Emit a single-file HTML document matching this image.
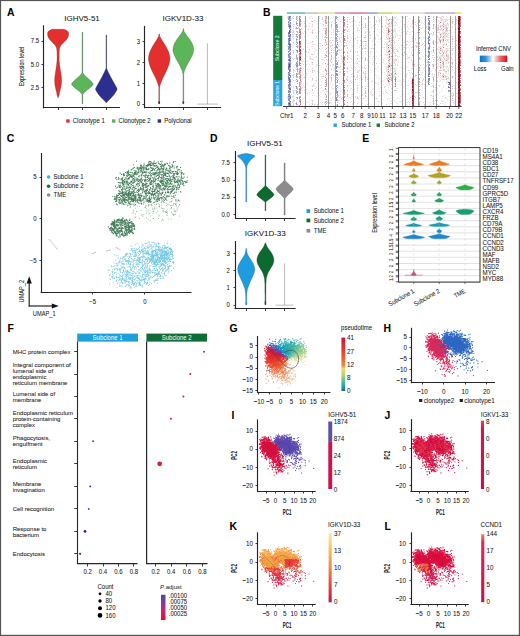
<!DOCTYPE html>
<html><head><meta charset="utf-8"><style>
html,body{margin:0;padding:0;background:#fff;}
svg{display:block;font-family:"Liberation Sans",sans-serif;}
</style></head><body>
<svg width="520" height="636" viewBox="0 0 520 636" fill="#161616">
<rect x="0" y="0" width="520" height="636" fill="#fff"/>
<text font-size="10.4" font-weight="bold" fill="#000" x="7" y="15.9" stroke="#000" stroke-width="0.05">A</text>
<text font-size="8" text-anchor="middle" transform="translate(82 20.6) scale(1 1)" stroke="#161616" stroke-width="0.05">IGHV5-51</text>
<line x1="43.5" y1="25.3" x2="43.5" y2="108.4" stroke="#262626" stroke-width="1.15"/>
<line x1="41.5" y1="41.5" x2="43.5" y2="41.5" stroke="#262626" stroke-width="0.9"/>
<text font-size="6.84" text-anchor="end" transform="translate(39.2 43.3) scale(0.877 1)" stroke="#161616" stroke-width="0.05">7.5</text>
<line x1="41.5" y1="64.5" x2="43.5" y2="64.5" stroke="#262626" stroke-width="0.9"/>
<text font-size="6.84" text-anchor="end" transform="translate(39.2 66.5) scale(0.877 1)" stroke="#161616" stroke-width="0.05">5.0</text>
<line x1="41.5" y1="87.5" x2="43.5" y2="87.5" stroke="#262626" stroke-width="0.9"/>
<text font-size="6.84" text-anchor="end" transform="translate(39.2 89.8) scale(0.877 1)" stroke="#161616" stroke-width="0.05">2.5</text>
<line x1="43.1" y1="107.5" x2="120" y2="107.5" stroke="#262626" stroke-width="1.15"/>
<line x1="58.5" y1="107.5" x2="58.5" y2="110" stroke="#262626" stroke-width="0.9"/>
<line x1="82.5" y1="107.5" x2="82.5" y2="110" stroke="#262626" stroke-width="0.9"/>
<line x1="106.5" y1="107.5" x2="106.5" y2="110" stroke="#262626" stroke-width="0.9"/>
<text font-size="6.8" text-anchor="middle" transform="translate(23.5 66.5) rotate(-90) scale(0.8 1)" stroke="#161616" stroke-width="0.05">Expression level</text>
<polygon points="64.1,29.3 67.1,30.7 68.4,32.1 68.6,33.5 68.6,34.9 68.3,36.3 67.8,37.7 66.9,39 65.7,40.4 64.3,41.8 63,43.2 61.7,44.6 60.6,46 59.8,47.4 59.5,48.8 59.3,50.2 59.2,51.6 59.1,53 59.1,54.4 59.1,55.7 59.1,57.1 59.1,58.5 59.1,59.9 59.2,61.3 59.4,62.7 59.5,64.1 59.7,65.5 59.9,66.9 60.1,68.3 60.3,69.7 60.5,71.1 60.8,72.4 60.9,73.8 61.1,75.2 61.3,76.6 61.5,78 61.5,79.4 61.6,80.8 61.5,82.2 61.4,83.6 61.2,85 61,86.4 60.7,87.8 60.4,89.1 60.1,90.5 59.7,91.9 59.4,93.3 59.2,94.7 58.8,96.1 58.4,97.5 57.8,97.5 57.4,96.1 57,94.7 56.8,93.3 56.5,91.9 56.1,90.5 55.8,89.1 55.5,87.8 55.2,86.4 55,85 54.8,83.6 54.7,82.2 54.6,80.8 54.7,79.4 54.7,78 54.9,76.6 55.1,75.2 55.3,73.8 55.4,72.4 55.7,71.1 55.9,69.7 56.1,68.3 56.3,66.9 56.5,65.5 56.7,64.1 56.8,62.7 57,61.3 57.1,59.9 57.1,58.5 57.1,57.1 57.1,55.7 57.1,54.4 57.1,53 57,51.6 56.9,50.2 56.7,48.8 56.4,47.4 55.6,46 54.5,44.6 53.2,43.2 51.9,41.8 50.5,40.4 49.3,39 48.4,37.7 47.9,36.3 47.6,34.9 47.6,33.5 47.8,32.1 49.1,30.7 52.1,29.3" fill="#e3302f" stroke="#5a2020" stroke-width="0.3"/>
<polygon points="82.8,32.3 82.8,71 82.8,71.4 82.8,71.8 82.8,72.3 82.8,72.7 83.1,73.1 83.3,73.5 83.6,74 83.9,74.4 84.3,74.8 84.7,75.2 85.1,75.7 85.5,76.1 85.9,76.5 86.4,76.9 86.8,77.4 87.3,77.8 87.8,78.2 88.3,78.6 88.8,79.1 89.2,79.5 89.7,79.9 90.2,80.3 90.6,80.7 91.1,81.2 91.5,81.6 91.9,82 92.2,82.4 92.5,82.9 92.8,83.3 93.1,83.7 93.2,84.1 93.1,84.6 92.9,85 92.5,85.4 92.2,85.8 91.8,86.3 91.3,86.7 90.8,87.1 90.3,87.5 89.8,87.9 89.3,88.4 88.8,88.8 88.2,89.2 87.7,89.6 87.2,90.1 86.6,90.5 86.1,90.9 85.6,91.3 85.2,91.8 84.7,92.2 84.3,92.6 83.9,93 83.5,93.5 83.2,93.9 82.9,94.3 82.8,94.7 82.8,95.2 82.8,95.6 82.8,96 82.8,104 82.1,104 82.1,96 82.1,95.6 82.1,95.2 82.1,94.7 81.9,94.3 81.6,93.9 81.3,93.5 80.9,93 80.5,92.6 80.1,92.2 79.6,91.8 79.2,91.3 78.7,90.9 78.2,90.5 77.6,90.1 77.1,89.6 76.6,89.2 76,88.8 75.5,88.4 75,87.9 74.5,87.5 74,87.1 73.5,86.7 73,86.3 72.6,85.8 72.3,85.4 71.9,85 71.7,84.6 71.6,84.1 71.7,83.7 72,83.3 72.3,82.9 72.6,82.4 72.9,82 73.3,81.6 73.7,81.2 74.2,80.7 74.6,80.3 75.1,79.9 75.6,79.5 76,79.1 76.5,78.6 77,78.2 77.5,77.8 78,77.4 78.4,76.9 78.9,76.5 79.3,76.1 79.7,75.7 80.1,75.2 80.5,74.8 80.9,74.4 81.2,74 81.5,73.5 81.7,73.1 82,72.7 82.1,72.3 82.1,71.8 82.1,71.4 82.1,71 82.1,32.3" fill="#5db55a" stroke="#3a3a3a" stroke-width="0.3"/>
<polygon points="106.6,35 106.6,67 106.6,67.6 106.6,68.2 106.8,68.8 107.1,69.4 107.3,70 107.6,70.6 107.8,71.2 108.1,71.8 108.4,72.4 108.7,73 109,73.6 109.3,74.2 109.6,74.8 109.9,75.4 110.2,76.1 110.5,76.7 110.9,77.3 111.2,77.9 111.5,78.5 111.9,79.1 112.2,79.7 112.5,80.3 112.9,80.9 113.2,81.5 113.5,82.1 113.9,82.7 114.2,83.3 114.5,83.9 114.9,84.5 115.2,85.1 115.5,85.7 115.9,86.3 116.2,86.9 116.5,87.5 116.8,88.1 117.1,88.7 117.1,89.3 116.9,89.9 116.6,90.5 116.3,91.1 115.9,91.7 115.6,92.3 115.1,92.9 114.7,93.5 114.3,94.2 113.8,94.8 113.3,95.4 112.8,96 112.3,96.6 111.7,97.2 111.2,97.8 110.6,98.4 110,99 109.4,99.6 108.8,100.2 108.2,100.8 107.6,101.4 106.9,102 106.6,102.6 106.6,102.7 106,102.7 106,102.6 105.7,102 105,101.4 104.4,100.8 103.8,100.2 103.2,99.6 102.6,99 102,98.4 101.4,97.8 100.9,97.2 100.3,96.6 99.8,96 99.3,95.4 98.8,94.8 98.3,94.2 97.9,93.5 97.5,92.9 97,92.3 96.7,91.7 96.3,91.1 96,90.5 95.7,89.9 95.5,89.3 95.5,88.7 95.8,88.1 96.1,87.5 96.4,86.9 96.7,86.3 97.1,85.7 97.4,85.1 97.7,84.5 98.1,83.9 98.4,83.3 98.7,82.7 99.1,82.1 99.4,81.5 99.7,80.9 100.1,80.3 100.4,79.7 100.7,79.1 101.1,78.5 101.4,77.9 101.7,77.3 102.1,76.7 102.4,76.1 102.7,75.4 103,74.8 103.3,74.2 103.6,73.6 103.9,73 104.2,72.4 104.5,71.8 104.8,71.2 105,70.6 105.3,70 105.5,69.4 105.8,68.8 106,68.2 106,67.6 106,67 106,35" fill="#2c2f8d" stroke="#222" stroke-width="0.3"/>
<text font-size="8" text-anchor="middle" transform="translate(183 20.6) scale(1 1)" stroke="#161616" stroke-width="0.05">IGKV1D-33</text>
<line x1="144.5" y1="25.9" x2="144.5" y2="108.3" stroke="#262626" stroke-width="1.15"/>
<line x1="142.5" y1="41.5" x2="144.5" y2="41.5" stroke="#262626" stroke-width="0.9"/>
<text font-size="6.84" text-anchor="end" transform="translate(140 43.8) scale(0.877 1)" stroke="#161616" stroke-width="0.05">3</text>
<line x1="142.5" y1="62.5" x2="144.5" y2="62.5" stroke="#262626" stroke-width="0.9"/>
<text font-size="6.84" text-anchor="end" transform="translate(140 64.6) scale(0.877 1)" stroke="#161616" stroke-width="0.05">2</text>
<line x1="142.5" y1="83.5" x2="144.5" y2="83.5" stroke="#262626" stroke-width="0.9"/>
<text font-size="6.84" text-anchor="end" transform="translate(140 85.7) scale(0.877 1)" stroke="#161616" stroke-width="0.05">1</text>
<line x1="142.5" y1="104.5" x2="144.5" y2="104.5" stroke="#262626" stroke-width="0.9"/>
<text font-size="6.84" text-anchor="end" transform="translate(140 106.2) scale(0.877 1)" stroke="#161616" stroke-width="0.05">0</text>
<line x1="144.2" y1="107.5" x2="221" y2="107.5" stroke="#262626" stroke-width="1.15"/>
<line x1="159.5" y1="107.5" x2="159.5" y2="110" stroke="#262626" stroke-width="0.9"/>
<line x1="183.5" y1="107.5" x2="183.5" y2="110" stroke="#262626" stroke-width="0.9"/>
<line x1="207.5" y1="107.5" x2="207.5" y2="110" stroke="#262626" stroke-width="0.9"/>
<polygon points="159.5,34.1 159.5,34.2 159.5,35.2 159.7,36.2 160.2,37.1 160.7,38.1 161.3,39.1 161.9,40.1 162.5,41.1 163.1,42 163.8,43 164.4,44 165,45 165.6,46 166.2,46.9 166.7,47.9 167.2,48.9 167.7,49.9 168.1,50.9 168.5,51.8 168.9,52.8 169.2,53.8 169.4,54.8 169.6,55.8 169.8,56.7 169.9,57.7 169.9,58.7 169.9,59.7 169.8,60.7 169.6,61.6 169.4,62.6 169.2,63.6 168.9,64.6 168.6,65.5 168.2,66.5 167.8,67.5 167.4,68.5 167,69.5 166.6,70.4 166.1,71.4 165.6,72.4 165.1,73.4 164.7,74.4 164.2,75.3 163.7,76.3 163.2,77.3 162.7,78.3 162.3,79.3 161.9,80.2 161.5,81.2 161.1,82.2 160.7,83.2 160.4,84.2 160.1,85.1 159.9,86.1 159.6,87.1 159.5,88.1 159.5,89.1 159.5,90 159.5,91 159.5,92 159.5,104 158.8,104 158.8,92 158.8,91 158.8,90 158.8,89.1 158.8,88.1 158.8,87.1 158.5,86.1 158.3,85.1 158,84.2 157.7,83.2 157.3,82.2 156.9,81.2 156.5,80.2 156.1,79.3 155.7,78.3 155.2,77.3 154.7,76.3 154.2,75.3 153.7,74.4 153.3,73.4 152.8,72.4 152.3,71.4 151.8,70.4 151.4,69.5 151,68.5 150.6,67.5 150.2,66.5 149.8,65.5 149.5,64.6 149.2,63.6 149,62.6 148.8,61.6 148.6,60.7 148.5,59.7 148.5,58.7 148.5,57.7 148.6,56.7 148.8,55.8 149,54.8 149.2,53.8 149.5,52.8 149.9,51.8 150.3,50.9 150.7,49.9 151.2,48.9 151.7,47.9 152.2,46.9 152.8,46 153.4,45 154,44 154.6,43 155.3,42 155.9,41.1 156.5,40.1 157.1,39.1 157.7,38.1 158.2,37.1 158.7,36.2 158.8,35.2 158.8,34.2 158.8,34.1" fill="#e3302f" stroke="#5a2020" stroke-width="0.3"/>
<ellipse cx="159.2" cy="102.6" rx="0.9" ry="1.3" fill="#5a2020"/>
<polygon points="183.7,28.8 183.7,28.9 183.7,29.7 183.7,30.6 184.1,31.4 184.6,32.2 185.1,33.1 185.7,33.9 186.2,34.7 186.9,35.6 187.5,36.4 188.1,37.2 188.7,38.1 189.3,38.9 189.9,39.7 190.4,40.6 190.9,41.4 191.4,42.2 191.9,43 192.3,43.9 192.6,44.7 192.9,45.5 193.2,46.4 193.4,47.2 193.5,48 193.6,48.9 193.7,49.7 193.7,50.5 193.5,51.4 193.3,52.2 193.1,53 192.8,53.9 192.4,54.7 192.1,55.5 191.7,56.4 191.3,57.2 190.9,58 190.4,58.9 190,59.7 189.5,60.5 189.1,61.4 188.6,62.2 188.1,63 187.7,63.9 187.2,64.7 186.8,65.5 186.4,66.3 186,67.2 185.6,68 185.3,68.8 184.9,69.7 184.6,70.5 184.3,71.3 184.1,72.2 183.9,73 183.7,73.8 183.7,74.7 183.7,75.5 183.7,76.3 183.7,77.2 183.7,78 183.7,104 183,104 183,78 183,77.2 183,76.3 183,75.5 183,74.7 182.9,73.8 182.7,73 182.5,72.2 182.3,71.3 182,70.5 181.7,69.7 181.3,68.8 181,68 180.6,67.2 180.2,66.3 179.8,65.5 179.4,64.7 178.9,63.9 178.5,63 178,62.2 177.5,61.4 177.1,60.5 176.6,59.7 176.2,58.9 175.7,58 175.3,57.2 174.9,56.4 174.5,55.5 174.2,54.7 173.8,53.9 173.5,53 173.3,52.2 173.1,51.4 172.9,50.5 172.9,49.7 173,48.9 173.1,48 173.2,47.2 173.4,46.4 173.7,45.5 174,44.7 174.3,43.9 174.7,43 175.2,42.2 175.7,41.4 176.2,40.6 176.7,39.7 177.3,38.9 177.9,38.1 178.5,37.2 179.1,36.4 179.7,35.6 180.4,34.7 180.9,33.9 181.5,33.1 182,32.2 182.5,31.4 182.9,30.6 183,29.7 183,28.9 183,28.8" fill="#5db55a" stroke="#2a4a2a" stroke-width="0.3"/>
<ellipse cx="183.3" cy="102.6" rx="0.9" ry="1.3" fill="#2a4a2a"/>
<line x1="207.4" y1="43.4" x2="207.4" y2="104.1" stroke="#777" stroke-width="0.5"/>
<line x1="197.3" y1="104.1" x2="217.8" y2="104.1" stroke="#777" stroke-width="0.5"/>
<rect x="66.2" y="119.3" width="3.4" height="3.4" fill="#e3302f"/>
<text font-size="6.84" transform="translate(72.8 123.1) scale(0.877 1)" stroke="#161616" stroke-width="0.05">Clonotype 1</text>
<rect x="112" y="119.3" width="3.4" height="3.4" fill="#5db55a"/>
<text font-size="6.84" transform="translate(118.6 123.1) scale(0.877 1)" stroke="#161616" stroke-width="0.05">Clonotype 2</text>
<rect x="157.7" y="119.3" width="3.4" height="3.4" fill="#2c2f8d"/>
<text font-size="6.84" transform="translate(164.3 123.1) scale(0.877 1)" stroke="#161616" stroke-width="0.05">Polyclonal</text>
<text font-size="10.4" font-weight="bold" fill="#000" x="263" y="15.8" stroke="#000" stroke-width="0.05">B</text>
<rect x="287" y="12.2" width="18" height="1.7" fill="#5fb4a2" opacity="0.85"/>
<rect x="305" y="12.2" width="13" height="1.7" fill="#b8c4a8" opacity="0.85"/>
<rect x="318" y="12.2" width="10" height="1.7" fill="#d9dc9a" opacity="0.85"/>
<rect x="328" y="12.2" width="7" height="1.7" fill="#e0e0a0" opacity="0.85"/>
<rect x="335" y="12.2" width="15" height="1.7" fill="#d98ca8" opacity="0.85"/>
<rect x="350" y="12.2" width="12" height="1.7" fill="#e06a80" opacity="0.85"/>
<rect x="362" y="12.2" width="6" height="1.7" fill="#d87a9a" opacity="0.85"/>
<rect x="368" y="12.2" width="10" height="1.7" fill="#7ba6d4" opacity="0.85"/>
<rect x="378" y="12.2" width="14" height="1.7" fill="#c4d070" opacity="0.85"/>
<rect x="392" y="12.2" width="8" height="1.7" fill="#e2e29a" opacity="0.85"/>
<rect x="400" y="12.2" width="25" height="1.7" fill="#e8d0d0" opacity="0.85"/>
<rect x="425" y="12.2" width="30" height="1.7" fill="#b8a8c4" opacity="0.85"/>
<rect x="455" y="12.2" width="6.5" height="1.7" fill="#e8e040" opacity="0.85"/>
<rect x="273.2" y="15.8" width="9.1" height="64.2" fill="#137a3c"/>
<rect x="273.2" y="80" width="9.1" height="26.2" fill="#29a3dc"/>
<text font-size="5.93" text-anchor="middle" fill="#fff" transform="translate(279.4 48.3) rotate(-90) scale(0.877 1)">Subclone 2</text>
<text font-size="5.7" text-anchor="middle" fill="#fff" transform="translate(279.4 93.4) rotate(-90) scale(0.877 1)">Subclone 1</text>
<defs><filter id="hb" x="-5%" y="-5%" width="110%" height="110%"><feGaussianBlur stdDeviation="0.6"/></filter></defs><g filter="url(#hb)">
<path d="M288 16.5h1M296 16.5h1M297 16.5h1M288 17.5h1M290 17.5h1M336 17.5h1M419 17.5h1M433 17.5h1M290 18.5h1M296 18.5h1M297 18.5h1M365 18.5h1M290 19.5h1M337 19.5h1M433 19.5h1M419 20.5h1M289 21.5h1M296 21.5h1M296 22.5h1M419 22.5h1M288 23.5h1M289 23.5h1M297 23.5h1M290 24.5h1M337 24.5h1M433 24.5h1M288 25.5h1M337 25.5h1M365 25.5h1M419 25.5h1M428 25.5h1M433 25.5h1M336 26.5h1M429 26.5h1M365 27.5h1M419 27.5h1M290 28.5h1M336 28.5h1M433 28.5h1M337 29.5h1M337 30.5h1M419 30.5h1M296 31.5h1M297 31.5h1M428 31.5h1M297 32.5h1M337 32.5h1M365 32.5h1M433 32.5h1M289 34.5h1M297 34.5h1M337 34.5h1M433 34.5h1M296 35.5h1M290 37.5h1M365 37.5h1M296 38.5h1M419 38.5h1M297 39.5h1M336 39.5h1M296 40.5h1M336 40.5h1M296 41.5h1M336 41.5h1M365 41.5h1M433 41.5h1M296 42.5h1M419 42.5h1M433 42.5h1M290 43.5h1M337 43.5h1M428 44.5h1M433 44.5h1M297 45.5h1M336 45.5h1M365 45.5h1M419 46.5h1M433 47.5h1M337 48.5h1M365 48.5h1M419 48.5h1M429 49.5h1M433 49.5h1M428 50.5h1M336 51.5h1M365 51.5h1M433 51.5h1M288 52.5h1M296 54.5h1M337 54.5h1M428 54.5h1M296 57.5h1M297 57.5h1M296 58.5h1M336 58.5h1M365 58.5h1M419 58.5h1M290 59.5h1M365 59.5h1M336 60.5h1M289 61.5h1M336 61.5h1M288 62.5h1M290 62.5h1M428 63.5h1M296 64.5h1M428 64.5h1M433 66.5h1M290 67.5h1M337 67.5h1M365 68.5h1M296 69.5h1M290 70.5h1M297 70.5h1M419 70.5h1M290 71.5h1M428 72.5h1M290 73.5h1M297 73.5h1M337 73.5h1M288 75.5h1M297 76.5h1M365 76.5h1M395 76.5h1M296 77.5h1M297 77.5h1M337 77.5h1M365 77.5h1M395 77.5h1M337 78.5h1M365 78.5h1M419 78.5h1M433 78.5h1M419 79.5h1M296 81.5h1M365 81.5h1M433 81.5h1M290 82.5h1M336 82.5h1M419 82.5h1M290 83.5h1M336 85.5h1M395 85.5h1M419 86.5h1M433 86.5h1M290 87.5h1M450 87.5h1M288 88.5h1M297 88.5h1M365 88.5h1M297 89.5h1M289 90.5h1M290 90.5h1M296 90.5h1M395 90.5h1M419 90.5h1M450 90.5h1M296 91.5h1M448 91.5h1M289 92.5h1M297 92.5h1M365 92.5h1M433 92.5h1M336 93.5h1M337 93.5h1M365 93.5h1M297 94.5h1M336 95.5h1M337 95.5h1M365 95.5h1M433 96.5h1M288 97.5h1M289 97.5h1M337 97.5h1M419 97.5h1M433 98.5h1M337 99.5h1M419 99.5h1M337 100.5h1M433 100.5h1M433 101.5h1M288 102.5h1M290 102.5h1M296 102.5h1M337 102.5h1M419 102.5h1M419 103.5h1M297 104.5h1M433 104.5h1M419 105.5h1" stroke="#b5bad7" stroke-width="1" fill="none"/>
<path d="M289 16.5h1M290 16.5h1M288 18.5h1M429 18.5h1M289 19.5h1M289 20.5h1M290 20.5h1M288 22.5h1M290 22.5h1M428 22.5h1M290 23.5h1M296 23.5h1M429 23.5h1M288 24.5h1M289 25.5h1M297 25.5h1M336 25.5h1M288 26.5h1M289 27.5h1M337 27.5h1M428 27.5h1M289 28.5h1M429 28.5h1M336 29.5h1M429 30.5h1M288 32.5h1M290 32.5h1M428 32.5h1M429 34.5h1M290 35.5h1M288 36.5h1M290 36.5h1M337 36.5h1M297 37.5h1M288 38.5h1M336 38.5h1M288 39.5h1M289 39.5h1M296 39.5h1M290 40.5h1M428 40.5h1M429 40.5h1M288 41.5h1M289 41.5h1M289 42.5h1M337 42.5h1M289 43.5h1M288 44.5h1M337 44.5h1M289 45.5h1M290 45.5h1M429 45.5h1M288 46.5h1M289 46.5h1M290 46.5h1M336 46.5h1M429 46.5h1M290 47.5h1M336 47.5h1M337 47.5h1M429 47.5h1M288 48.5h1M290 48.5h1M428 48.5h1M296 50.5h1M297 50.5h1M337 50.5h1M288 51.5h1M297 51.5h1M337 51.5h1M429 51.5h1M428 52.5h1M429 52.5h1M289 53.5h1M290 53.5h1M288 54.5h1M290 54.5h1M429 54.5h1M288 55.5h1M336 55.5h1M428 55.5h1M289 56.5h1M428 56.5h1M288 57.5h1M429 58.5h1M288 59.5h1M429 59.5h1M288 60.5h1M297 61.5h1M428 61.5h1M337 62.5h1M290 63.5h1M296 63.5h1M288 64.5h1M290 64.5h1M337 64.5h1M429 64.5h1M296 65.5h1M297 65.5h1M429 65.5h1M290 66.5h1M336 66.5h1M428 66.5h1M336 67.5h1M428 67.5h1M336 68.5h1M428 68.5h1M288 69.5h1M289 69.5h1M290 69.5h1M429 69.5h1M336 70.5h1M428 70.5h1M429 70.5h1M336 71.5h1M337 71.5h1M429 72.5h1M336 73.5h1M395 73.5h1M429 73.5h1M288 74.5h1M289 74.5h1M336 74.5h1M429 74.5h1M290 75.5h1M296 75.5h1M337 75.5h1M428 75.5h1M288 76.5h1M429 76.5h1M288 77.5h1M289 77.5h1M395 78.5h1M395 79.5h1M290 80.5h1M337 80.5h1M395 80.5h1M288 82.5h1M289 82.5h1M337 82.5h1M289 83.5h1M395 83.5h1M450 84.5h1M289 85.5h1M450 85.5h1M289 86.5h1M296 86.5h1M336 86.5h1M395 86.5h1M448 86.5h1M450 86.5h1M289 87.5h1M449 87.5h1M290 88.5h1M289 89.5h1M448 90.5h1M288 91.5h1M290 91.5h1M337 91.5h1M450 91.5h1M288 92.5h1M336 92.5h1M337 92.5h1M288 94.5h1M337 94.5h1M288 96.5h1M290 96.5h1M336 97.5h1M289 98.5h1M336 98.5h1M288 99.5h1M289 99.5h1M336 99.5h1M336 100.5h1M289 102.5h1M296 103.5h1M290 104.5h1M337 105.5h1" stroke="#858cbd" stroke-width="1" fill="none"/>
<path d="M293 16.5h1M437 16.5h1M442 16.5h1M446 16.5h1M287 17.5h1M347 17.5h1M394 17.5h1M413 17.5h1M437 17.5h1M443 17.5h1M293 18.5h1M312 18.5h1M319 18.5h1M322 18.5h1M440 18.5h1M349 19.5h1M386 19.5h1M391 19.5h1M392 19.5h1M442 19.5h1M446 19.5h1M452 19.5h1M456 19.5h1M326 20.5h1M393 20.5h1M412 20.5h1M413 20.5h1M441 20.5h1M447 20.5h1M323 21.5h1M326 21.5h1M340 21.5h1M352 21.5h1M376 21.5h1M381 21.5h1M391 21.5h1M412 21.5h1M445 21.5h1M289 22.5h1M331 22.5h1M391 22.5h1M395 22.5h1M412 22.5h1M413 22.5h1M415 22.5h1M452 22.5h1M334 23.5h1M396 23.5h1M412 23.5h1M439 23.5h1M447 23.5h1M452 23.5h1M293 24.5h1M312 24.5h1M323 24.5h1M375 24.5h1M404 24.5h1M412 24.5h1M373 25.5h1M438 25.5h1M440 25.5h1M442 25.5h1M445 25.5h1M312 26.5h1M331 26.5h1M382 26.5h1M389 26.5h1M407 26.5h1M412 26.5h1M441 26.5h1M298 27.5h1M326 27.5h1M331 27.5h1M347 27.5h1M387 27.5h1M438 27.5h1M443 27.5h1M446 27.5h1M452 27.5h1M301 28.5h1M357 28.5h1M386 28.5h1M413 28.5h1M437 28.5h1M438 28.5h1M441 28.5h1M445 28.5h1M447 28.5h1M308 29.5h1M389 29.5h1M391 29.5h1M392 29.5h1M394 29.5h1M413 29.5h1M438 29.5h1M439 29.5h1M441 29.5h1M312 30.5h1M347 30.5h1M357 30.5h1M386 30.5h1M391 30.5h1M392 30.5h1M393 30.5h1M437 30.5h1M442 30.5h1M447 30.5h1M450 30.5h1M293 31.5h1M338 31.5h1M342 31.5h1M412 31.5h1M445 31.5h1M447 31.5h1M293 32.5h1M331 32.5h1M369 32.5h1M413 32.5h1M417 32.5h1M418 32.5h1M437 32.5h1M439 32.5h1M444 32.5h1M387 33.5h1M406 33.5h1M431 33.5h1M446 33.5h1M448 33.5h1M326 34.5h1M331 34.5h1M413 34.5h1M443 34.5h1M445 34.5h1M298 35.5h1M347 35.5h1M413 35.5h1M440 35.5h1M444 35.5h1M293 36.5h1M347 36.5h1M388 36.5h1M412 36.5h1M441 36.5h1M446 36.5h1M452 36.5h1M324 37.5h1M325 37.5h1M327 37.5h1M331 37.5h1M347 37.5h1M357 37.5h1M364 37.5h1M386 37.5h1M393 37.5h1M395 37.5h1M443 37.5h1M293 38.5h1M326 38.5h1M339 38.5h1M355 38.5h1M387 38.5h1M391 38.5h1M412 38.5h1M413 38.5h1M415 38.5h1M427 38.5h1M439 38.5h1M452 38.5h1M353 39.5h1M438 39.5h1M439 39.5h1M345 40.5h1M347 40.5h1M357 40.5h1M360 40.5h1M389 40.5h1M392 40.5h1M393 40.5h1M413 40.5h1M439 40.5h1M445 40.5h1M447 40.5h1M456 40.5h1M325 41.5h1M361 41.5h1M364 41.5h1M394 41.5h1M407 41.5h1M412 41.5h1M424 41.5h1M443 41.5h1M293 42.5h1M326 42.5h1M331 42.5h1M416 42.5h1M437 42.5h1M326 43.5h1M357 43.5h1M417 43.5h1M423 43.5h1M452 43.5h1M312 44.5h1M314 44.5h1M324 44.5h1M375 44.5h1M386 44.5h1M387 44.5h1M391 44.5h1M392 44.5h1M422 44.5h1M443 44.5h1M322 45.5h1M332 45.5h1M346 45.5h1M347 45.5h1M391 45.5h1M415 45.5h1M421 45.5h1M424 45.5h1M330 46.5h1M391 46.5h1M412 46.5h1M413 46.5h1M416 46.5h1M428 46.5h1M452 46.5h1M334 47.5h1M347 47.5h1M390 47.5h1M393 47.5h1M404 47.5h1M411 47.5h1M413 47.5h1M331 48.5h1M371 48.5h1M373 48.5h1M387 48.5h1M309 49.5h1M339 49.5h1M388 49.5h1M438 49.5h1M442 49.5h1M452 49.5h1M316 50.5h1M339 50.5h1M397 50.5h1M412 50.5h1M447 50.5h1M452 50.5h1M350 51.5h1M357 51.5h1M397 51.5h1M413 51.5h1M431 51.5h1M442 51.5h1M446 51.5h1M293 52.5h1M308 52.5h1M326 52.5h1M357 52.5h1M386 52.5h1M388 52.5h1M404 52.5h1M443 52.5h1M446 52.5h1M293 53.5h1M347 53.5h1M368 53.5h1M395 53.5h1M428 53.5h1M311 54.5h1M312 54.5h1M325 54.5h1M402 54.5h1M406 54.5h1M412 54.5h1M442 54.5h1M446 54.5h1M452 54.5h1M325 55.5h1M347 55.5h1M357 55.5h1M395 55.5h1M403 55.5h1M413 55.5h1M441 55.5h1M442 55.5h1M448 55.5h1M347 56.5h1M373 56.5h1M437 56.5h1M446 56.5h1M447 56.5h1M448 56.5h1M392 57.5h1M432 57.5h1M437 57.5h1M439 57.5h1M443 57.5h1M448 57.5h1M310 58.5h1M347 58.5h1M357 58.5h1M407 58.5h1M439 58.5h1M444 58.5h1M446 58.5h1M293 59.5h1M296 59.5h1M312 59.5h1M331 59.5h1M347 59.5h1M357 59.5h1M395 59.5h1M396 59.5h1M413 59.5h1M438 59.5h1M444 59.5h1M447 59.5h1M448 59.5h1M452 59.5h1M330 60.5h1M389 60.5h1M392 60.5h1M437 60.5h1M443 60.5h1M345 61.5h1M359 61.5h1M395 61.5h1M413 61.5h1M442 61.5h1M347 62.5h1M383 62.5h1M394 62.5h1M412 62.5h1M427 62.5h1M448 62.5h1M452 62.5h1M357 63.5h1M376 63.5h1M413 63.5h1M442 63.5h1M295 64.5h1M303 64.5h1M312 64.5h1M327 64.5h1M361 64.5h1M372 64.5h1M395 64.5h1M413 64.5h1M419 64.5h1M432 64.5h1M440 64.5h1M452 64.5h1M318 65.5h1M330 65.5h1M420 65.5h1M426 65.5h1M441 65.5h1M443 65.5h1M326 66.5h1M391 66.5h1M412 66.5h1M413 66.5h1M447 66.5h1M451 66.5h1M347 67.5h1M364 67.5h1M452 67.5h1M290 68.5h1M301 68.5h1M312 68.5h1M325 68.5h1M347 68.5h1M391 68.5h1M412 68.5h1M440 68.5h1M293 69.5h1M342 69.5h1M347 69.5h1M413 69.5h1M435 69.5h1M443 69.5h1M444 69.5h1M452 69.5h1M293 70.5h1M413 70.5h1M439 70.5h1M440 70.5h1M441 70.5h1M448 70.5h1M347 71.5h1M357 71.5h1M394 71.5h1M445 71.5h1M293 72.5h1M312 72.5h1M357 72.5h1M388 72.5h1M413 72.5h1M438 72.5h1M454 72.5h1M306 73.5h1M387 73.5h1M293 74.5h1M294 74.5h1M351 74.5h1M438 74.5h1M443 74.5h1M292 75.5h1M293 75.5h1M325 75.5h1M333 75.5h1M357 75.5h1M386 75.5h1M413 75.5h1M415 75.5h1M416 75.5h1M440 75.5h1M442 75.5h1M444 75.5h1M293 76.5h1M322 76.5h1M323 76.5h1M347 76.5h1M354 76.5h1M357 76.5h1M387 76.5h1M392 76.5h1M413 76.5h1M442 76.5h1M445 76.5h1M293 77.5h1M357 77.5h1M390 77.5h1M391 77.5h1M393 77.5h1M412 77.5h1M437 77.5h1M443 77.5h1M445 77.5h1M448 77.5h1M391 78.5h1M413 78.5h1M446 78.5h1M447 78.5h1M312 79.5h1M331 79.5h1M338 79.5h1M346 79.5h1M347 79.5h1M355 79.5h1M357 79.5h1M362 79.5h1M367 79.5h1M394 79.5h1M443 79.5h1M293 80.5h1M316 80.5h1M422 80.5h1M301 81.5h1M371 81.5h1M392 81.5h1M437 81.5h1M447 81.5h1M335 82.5h1M388 82.5h1M446 82.5h1M389 83.5h1M422 83.5h1M433 83.5h1M325 84.5h1M378 84.5h1M401 84.5h1M415 84.5h1M422 84.5h1M347 85.5h1M357 85.5h1M291 86.5h1M298 86.5h1M305 86.5h1M347 86.5h1M362 86.5h1M385 86.5h1M405 86.5h1M425 86.5h1M452 86.5h1M293 87.5h1M357 87.5h1M435 87.5h1M357 88.5h1M391 88.5h1M312 89.5h1M326 89.5h1M304 90.5h1M312 90.5h1M357 90.5h1M394 90.5h1M326 91.5h1M385 91.5h1M357 92.5h1M370 92.5h1M386 92.5h1M391 92.5h1M415 92.5h1M293 93.5h1M307 93.5h1M383 93.5h1M451 93.5h1M453 93.5h1M457 93.5h1M372 94.5h1M419 94.5h1M453 94.5h1M312 95.5h1M338 95.5h1M347 95.5h1M379 95.5h1M431 95.5h1M453 95.5h1M292 96.5h1M293 96.5h1M347 96.5h1M366 96.5h1M452 96.5h1M287 97.5h1M325 97.5h1M355 97.5h1M357 97.5h1M410 97.5h1M415 97.5h1M341 98.5h1M357 98.5h1M363 98.5h1M376 98.5h1M409 98.5h1M414 99.5h1M293 100.5h1M312 100.5h1M394 100.5h1M435 100.5h1M437 100.5h1M452 100.5h1M293 101.5h1M312 101.5h1M378 101.5h1M442 101.5h1M292 102.5h1M327 102.5h1M330 102.5h1M354 102.5h1M407 102.5h1M423 102.5h1M430 102.5h1M433 102.5h1M445 102.5h1M293 103.5h1M312 103.5h1M344 103.5h1M357 103.5h1M293 104.5h1M367 104.5h1M409 104.5h1M424 104.5h1M450 104.5h1M293 105.5h1M438 105.5h1" stroke="#e4c9cb" stroke-width="1" fill="none"/>
<path d="M299 16.5h1M299 18.5h1M343 18.5h1M460 18.5h1M299 19.5h1M300 19.5h1M389 19.5h1M344 20.5h1M300 21.5h1M299 22.5h1M344 22.5h1M440 22.5h1M460 22.5h1M299 23.5h1M460 23.5h1M299 24.5h1M343 25.5h1M460 25.5h1M460 26.5h1M343 29.5h1M443 29.5h1M344 30.5h1M300 31.5h1M388 31.5h1M389 31.5h1M299 32.5h1M300 32.5h1M460 33.5h1M299 34.5h1M300 34.5h1M343 35.5h1M299 36.5h1M299 37.5h1M300 37.5h1M344 38.5h1M389 38.5h1M344 39.5h1M443 39.5h1M344 40.5h1M443 40.5h1M460 40.5h1M389 41.5h1M300 44.5h1M299 45.5h1M299 46.5h1M300 47.5h1M388 47.5h1M440 48.5h1M460 49.5h1M300 51.5h1M388 51.5h1M460 51.5h1M343 52.5h1M343 53.5h1M299 56.5h1M300 56.5h1M343 57.5h1M344 57.5h1M460 57.5h1M300 58.5h1M299 59.5h1M299 60.5h1M343 61.5h1M460 61.5h1M299 62.5h1M440 62.5h1M299 63.5h1M300 63.5h1M343 63.5h1M344 64.5h1M300 65.5h1M343 67.5h1M300 68.5h1M460 68.5h1M300 70.5h1M460 70.5h1M343 71.5h1M344 71.5h1M388 71.5h1M460 71.5h1M344 73.5h1M343 74.5h1M344 74.5h1M343 75.5h1M389 75.5h1M443 76.5h1M343 77.5h1M460 78.5h1M300 80.5h1M343 80.5h1M460 80.5h1M460 84.5h1M413 85.5h1M343 86.5h1M344 87.5h1M412 88.5h1M413 88.5h1M299 89.5h1M300 89.5h1M344 90.5h1M299 91.5h1M412 91.5h1M412 93.5h1M460 93.5h1M299 97.5h1M343 97.5h1M460 97.5h1M299 98.5h1M300 99.5h1M460 99.5h1M344 100.5h1M300 101.5h1M300 102.5h1M300 104.5h1M344 104.5h1" stroke="#bd787e" stroke-width="1" fill="none"/>
<path d="M300 16.5h1M325 16.5h1M326 16.5h1M343 16.5h1M299 17.5h1M300 17.5h1M343 17.5h1M325 18.5h1M326 18.5h1M325 19.5h1M312 21.5h1M325 21.5h1M347 21.5h1M452 21.5h1M325 22.5h1M326 22.5h1M300 23.5h1M325 23.5h1M391 23.5h1M413 23.5h1M443 23.5h1M331 24.5h1M347 24.5h1M388 24.5h1M443 24.5h1M300 25.5h1M325 25.5h1M331 25.5h1M344 25.5h1M300 26.5h1M343 26.5h1M344 26.5h1M347 26.5h1M440 26.5h1M325 28.5h1M326 28.5h1M388 28.5h1M446 28.5h1M460 28.5h1M326 29.5h1M344 29.5h1M300 30.5h1M325 30.5h1M326 30.5h1M343 30.5h1M446 30.5h1M326 31.5h1M347 31.5h1M413 31.5h1M312 32.5h1M325 32.5h1M326 32.5h1M344 32.5h1M326 33.5h1M391 33.5h1M443 33.5h1M325 34.5h1M300 35.5h1M326 35.5h1M325 36.5h1M326 37.5h1M343 37.5h1M347 38.5h1M460 38.5h1M325 39.5h1M392 39.5h1M452 39.5h1M299 40.5h1M343 40.5h1M391 40.5h1M312 41.5h1M343 41.5h1M452 41.5h1M325 42.5h1M391 42.5h1M440 42.5h1M326 44.5h1M300 45.5h1M325 45.5h1M344 45.5h1M392 46.5h1M343 47.5h1M326 48.5h1M391 48.5h1M446 48.5h1M460 48.5h1M343 49.5h1M413 49.5h1M331 50.5h1M460 50.5h1M326 51.5h1M331 52.5h1M347 52.5h1M440 53.5h1M300 55.5h1M331 55.5h1M392 55.5h1M412 55.5h1M326 56.5h1M331 56.5h1M392 56.5h1M331 58.5h1M343 58.5h1M440 58.5h1M326 59.5h1M392 59.5h1M440 59.5h1M440 60.5h1M312 62.5h1M331 62.5h1M344 62.5h1M344 63.5h1M443 63.5h1M452 63.5h1M412 64.5h1M460 64.5h1M443 66.5h1M300 67.5h1M443 67.5h1M299 68.5h1M392 68.5h1M299 69.5h1M300 69.5h1M331 69.5h1M343 69.5h1M388 69.5h1M299 70.5h1M312 70.5h1M326 70.5h1M443 70.5h1M300 71.5h1M392 71.5h1M446 71.5h1M300 72.5h1M326 73.5h1M391 73.5h1M412 73.5h1M299 74.5h1M300 74.5h1M331 74.5h1M389 74.5h1M391 74.5h1M331 75.5h1M388 75.5h1M446 76.5h1M452 76.5h1M299 77.5h1M331 77.5h1M388 77.5h1M413 77.5h1M452 77.5h1M299 78.5h1M300 78.5h1M312 78.5h1M326 78.5h1M331 78.5h1M412 78.5h1M343 79.5h1M391 79.5h1M392 79.5h1M446 79.5h1M325 80.5h1M326 80.5h1M347 80.5h1M391 80.5h1M392 80.5h1M300 81.5h1M300 82.5h1M326 82.5h1M344 82.5h1M299 83.5h1M300 83.5h1M343 83.5h1M300 84.5h1M343 84.5h1M326 85.5h1M299 86.5h1M312 86.5h1M326 86.5h1M300 87.5h1M343 88.5h1M452 88.5h1M325 89.5h1M344 89.5h1M299 90.5h1M347 90.5h1M300 91.5h1M344 92.5h1M299 93.5h1M347 94.5h1M326 95.5h1M299 96.5h1M300 96.5h1M326 96.5h1M326 97.5h1M343 98.5h1M452 98.5h1M325 99.5h1M299 100.5h1M300 100.5h1M325 101.5h1M343 101.5h1M347 102.5h1M300 103.5h1M460 103.5h1M312 104.5h1M325 104.5h1M299 105.5h1M343 105.5h1M347 105.5h1" stroke="#d7aeb2" stroke-width="1" fill="none"/>
<path d="M310 16.5h1M324 16.5h1M333 16.5h1M354 16.5h1M377 16.5h1M401 16.5h1M441 16.5h1M443 16.5h1M305 17.5h1M322 17.5h1M338 17.5h1M348 17.5h1M357 17.5h1M369 17.5h1M373 17.5h1M386 17.5h1M387 17.5h1M393 17.5h1M395 17.5h1M438 17.5h1M440 17.5h1M441 17.5h1M447 17.5h1M448 17.5h1M450 17.5h1M457 17.5h1M361 18.5h1M370 18.5h1M374 18.5h1M386 18.5h1M387 18.5h1M392 18.5h1M393 18.5h1M395 18.5h1M441 18.5h1M442 18.5h1M446 18.5h1M361 19.5h1M368 19.5h1M387 19.5h1M388 19.5h1M390 19.5h1M393 19.5h1M394 19.5h1M412 19.5h1M424 19.5h1M436 19.5h1M437 19.5h1M440 19.5h1M441 19.5h1M443 19.5h1M444 19.5h1M445 19.5h1M447 19.5h1M448 19.5h1M314 20.5h1M319 20.5h1M338 20.5h1M347 20.5h1M378 20.5h1M379 20.5h1M386 20.5h1M391 20.5h1M392 20.5h1M426 20.5h1M431 20.5h1M438 20.5h1M440 20.5h1M445 20.5h1M450 20.5h1M457 20.5h1M304 21.5h1M306 21.5h1M355 21.5h1M370 21.5h1M386 21.5h1M388 21.5h1M389 21.5h1M392 21.5h1M393 21.5h1M395 21.5h1M400 21.5h1M405 21.5h1M413 21.5h1M438 21.5h1M439 21.5h1M441 21.5h1M442 21.5h1M443 21.5h1M446 21.5h1M450 21.5h1M453 21.5h1M456 21.5h1M293 22.5h1M324 22.5h1M327 22.5h1M329 22.5h1M339 22.5h1M342 22.5h1M349 22.5h1M350 22.5h1M386 22.5h1M387 22.5h1M389 22.5h1M390 22.5h1M392 22.5h1M394 22.5h1M407 22.5h1M422 22.5h1M433 22.5h1M437 22.5h1M441 22.5h1M444 22.5h1M445 22.5h1M447 22.5h1M450 22.5h1M301 23.5h1M310 23.5h1M312 23.5h1M320 23.5h1M322 23.5h1M331 23.5h1M386 23.5h1M387 23.5h1M388 23.5h1M392 23.5h1M394 23.5h1M421 23.5h1M446 23.5h1M456 23.5h1M294 24.5h1M326 24.5h1M348 24.5h1M358 24.5h1M378 24.5h1M386 24.5h1M387 24.5h1M389 24.5h1M390 24.5h1M392 24.5h1M395 24.5h1M397 24.5h1M420 24.5h1M424 24.5h1M436 24.5h1M438 24.5h1M444 24.5h1M445 24.5h1M446 24.5h1M447 24.5h1M448 24.5h1M306 25.5h1M313 25.5h1M352 25.5h1M356 25.5h1M389 25.5h1M391 25.5h1M392 25.5h1M393 25.5h1M394 25.5h1M395 25.5h1M411 25.5h1M416 25.5h1M429 25.5h1M441 25.5h1M443 25.5h1M444 25.5h1M446 25.5h1M448 25.5h1M309 26.5h1M325 26.5h1M334 26.5h1M340 26.5h1M368 26.5h1M386 26.5h1M388 26.5h1M390 26.5h1M391 26.5h1M410 26.5h1M416 26.5h1M439 26.5h1M442 26.5h1M445 26.5h1M446 26.5h1M452 26.5h1M293 27.5h1M340 27.5h1M358 27.5h1M371 27.5h1M388 27.5h1M392 27.5h1M394 27.5h1M412 27.5h1M413 27.5h1M422 27.5h1M426 27.5h1M435 27.5h1M440 27.5h1M444 27.5h1M445 27.5h1M447 27.5h1M457 27.5h1M293 28.5h1M298 28.5h1M309 28.5h1M310 28.5h1M360 28.5h1M374 28.5h1M375 28.5h1M387 28.5h1M390 28.5h1M395 28.5h1M412 28.5h1M432 28.5h1M435 28.5h1M442 28.5h1M444 28.5h1M457 28.5h1M301 29.5h1M306 29.5h1M314 29.5h1M333 29.5h1M348 29.5h1M357 29.5h1M365 29.5h1M366 29.5h1M377 29.5h1M395 29.5h1M401 29.5h1M437 29.5h1M440 29.5h1M447 29.5h1M455 29.5h1M292 30.5h1M293 30.5h1M322 30.5h1M346 30.5h1M378 30.5h1M387 30.5h1M389 30.5h1M390 30.5h1M395 30.5h1M438 30.5h1M440 30.5h1M441 30.5h1M443 30.5h1M445 30.5h1M304 31.5h1M305 31.5h1M329 31.5h1M339 31.5h1M349 31.5h1M368 31.5h1M373 31.5h1M382 31.5h1M390 31.5h1M392 31.5h1M393 31.5h1M394 31.5h1M395 31.5h1M425 31.5h1M442 31.5h1M446 31.5h1M298 32.5h1M306 32.5h1M310 32.5h1M317 32.5h1M333 32.5h1M379 32.5h1M383 32.5h1M386 32.5h1M389 32.5h1M391 32.5h1M392 32.5h1M393 32.5h1M395 32.5h1M438 32.5h1M442 32.5h1M443 32.5h1M445 32.5h1M446 32.5h1M454 32.5h1M294 33.5h1M298 33.5h1M301 33.5h1M303 33.5h1M312 33.5h1M313 33.5h1M364 33.5h1M368 33.5h1M374 33.5h1M386 33.5h1M388 33.5h1M389 33.5h1M395 33.5h1M426 33.5h1M430 33.5h1M440 33.5h1M442 33.5h1M444 33.5h1M445 33.5h1M447 33.5h1M293 34.5h1M339 34.5h1M370 34.5h1M376 34.5h1M387 34.5h1M389 34.5h1M391 34.5h1M392 34.5h1M394 34.5h1M395 34.5h1M409 34.5h1M410 34.5h1M430 34.5h1M431 34.5h1M439 34.5h1M441 34.5h1M442 34.5h1M447 34.5h1M292 35.5h1M293 35.5h1M308 35.5h1M377 35.5h1M386 35.5h1M387 35.5h1M388 35.5h1M393 35.5h1M395 35.5h1M396 35.5h1M427 35.5h1M437 35.5h1M441 35.5h1M445 35.5h1M446 35.5h1M448 35.5h1M292 36.5h1M328 36.5h1M341 36.5h1M345 36.5h1M357 36.5h1M374 36.5h1M390 36.5h1M392 36.5h1M393 36.5h1M395 36.5h1M397 36.5h1M400 36.5h1M437 36.5h1M438 36.5h1M440 36.5h1M442 36.5h1M444 36.5h1M445 36.5h1M447 36.5h1M450 36.5h1M455 36.5h1M294 37.5h1M339 37.5h1M340 37.5h1M348 37.5h1M370 37.5h1M375 37.5h1M388 37.5h1M389 37.5h1M391 37.5h1M394 37.5h1M437 37.5h1M438 37.5h1M439 37.5h1M442 37.5h1M444 37.5h1M445 37.5h1M446 37.5h1M447 37.5h1M448 37.5h1M313 38.5h1M315 38.5h1M317 38.5h1M335 38.5h1M351 38.5h1M353 38.5h1M369 38.5h1M370 38.5h1M375 38.5h1M380 38.5h1M388 38.5h1M390 38.5h1M393 38.5h1M398 38.5h1M430 38.5h1M437 38.5h1M442 38.5h1M443 38.5h1M444 38.5h1M445 38.5h1M293 39.5h1M305 39.5h1M375 39.5h1M378 39.5h1M380 39.5h1M381 39.5h1M386 39.5h1M387 39.5h1M388 39.5h1M389 39.5h1M391 39.5h1M394 39.5h1M402 39.5h1M413 39.5h1M430 39.5h1M440 39.5h1M441 39.5h1M442 39.5h1M445 39.5h1M446 39.5h1M447 39.5h1M448 39.5h1M293 40.5h1M330 40.5h1M333 40.5h1M340 40.5h1M350 40.5h1M372 40.5h1M390 40.5h1M398 40.5h1M412 40.5h1M441 40.5h1M442 40.5h1M291 41.5h1M297 41.5h1M329 41.5h1M335 41.5h1M340 41.5h1M347 41.5h1M357 41.5h1M372 41.5h1M377 41.5h1M386 41.5h1M388 41.5h1M390 41.5h1M392 41.5h1M411 41.5h1M432 41.5h1M435 41.5h1M438 41.5h1M439 41.5h1M442 41.5h1M446 41.5h1M448 41.5h1M455 41.5h1M311 42.5h1M312 42.5h1M349 42.5h1M387 42.5h1M388 42.5h1M390 42.5h1M392 42.5h1M394 42.5h1M395 42.5h1M404 42.5h1M408 42.5h1M413 42.5h1M430 42.5h1M443 42.5h1M444 42.5h1M448 42.5h1M308 43.5h1M318 43.5h1M320 43.5h1M328 43.5h1M346 43.5h1M353 43.5h1M386 43.5h1M387 43.5h1M390 43.5h1M391 43.5h1M393 43.5h1M394 43.5h1M418 43.5h1M437 43.5h1M440 43.5h1M444 43.5h1M446 43.5h1M327 44.5h1M332 44.5h1M389 44.5h1M390 44.5h1M407 44.5h1M412 44.5h1M434 44.5h1M442 44.5h1M444 44.5h1M445 44.5h1M456 44.5h1M287 45.5h1M331 45.5h1M354 45.5h1M386 45.5h1M387 45.5h1M389 45.5h1M390 45.5h1M393 45.5h1M395 45.5h1M403 45.5h1M406 45.5h1M416 45.5h1M425 45.5h1M442 45.5h1M443 45.5h1M456 45.5h1M287 46.5h1M293 46.5h1M298 46.5h1M312 46.5h1M320 46.5h1M337 46.5h1M352 46.5h1M357 46.5h1M359 46.5h1M386 46.5h1M387 46.5h1M438 46.5h1M440 46.5h1M442 46.5h1M443 46.5h1M447 46.5h1M450 46.5h1M292 47.5h1M305 47.5h1M307 47.5h1M325 47.5h1M351 47.5h1M359 47.5h1M361 47.5h1M382 47.5h1M386 47.5h1M391 47.5h1M395 47.5h1M399 47.5h1M403 47.5h1M407 47.5h1M414 47.5h1M423 47.5h1M438 47.5h1M439 47.5h1M440 47.5h1M441 47.5h1M444 47.5h1M303 48.5h1M312 48.5h1M314 48.5h1M356 48.5h1M388 48.5h1M389 48.5h1M392 48.5h1M393 48.5h1M395 48.5h1M427 48.5h1M437 48.5h1M441 48.5h1M447 48.5h1M448 48.5h1M449 48.5h1M451 48.5h1M452 48.5h1M315 49.5h1M332 49.5h1M338 49.5h1M341 49.5h1M362 49.5h1M381 49.5h1M386 49.5h1M389 49.5h1M392 49.5h1M393 49.5h1M394 49.5h1M401 49.5h1M402 49.5h1M415 49.5h1M424 49.5h1M437 49.5h1M439 49.5h1M440 49.5h1M441 49.5h1M445 49.5h1M447 49.5h1M456 49.5h1M287 50.5h1M292 50.5h1M293 50.5h1M301 50.5h1M305 50.5h1M335 50.5h1M341 50.5h1M386 50.5h1M388 50.5h1M391 50.5h1M393 50.5h1M435 50.5h1M441 50.5h1M442 50.5h1M443 50.5h1M444 50.5h1M446 50.5h1M448 50.5h1M451 50.5h1M293 51.5h1M296 51.5h1M301 51.5h1M308 51.5h1M314 51.5h1M318 51.5h1M327 51.5h1M344 51.5h1M347 51.5h1M355 51.5h1M367 51.5h1M370 51.5h1M376 51.5h1M386 51.5h1M390 51.5h1M392 51.5h1M393 51.5h1M395 51.5h1M398 51.5h1M404 51.5h1M438 51.5h1M439 51.5h1M440 51.5h1M444 51.5h1M296 52.5h1M299 52.5h1M333 52.5h1M339 52.5h1M387 52.5h1M389 52.5h1M390 52.5h1M391 52.5h1M393 52.5h1M394 52.5h1M409 52.5h1M417 52.5h1M433 52.5h1M434 52.5h1M441 52.5h1M442 52.5h1M444 52.5h1M450 52.5h1M288 53.5h1M314 53.5h1M317 53.5h1M326 53.5h1M340 53.5h1M374 53.5h1M387 53.5h1M388 53.5h1M389 53.5h1M390 53.5h1M391 53.5h1M394 53.5h1M405 53.5h1M411 53.5h1M417 53.5h1M437 53.5h1M439 53.5h1M441 53.5h1M445 53.5h1M446 53.5h1M287 54.5h1M298 54.5h1M313 54.5h1M361 54.5h1M370 54.5h1M384 54.5h1M385 54.5h1M386 54.5h1M387 54.5h1M388 54.5h1M391 54.5h1M392 54.5h1M425 54.5h1M443 54.5h1M447 54.5h1M448 54.5h1M324 55.5h1M340 55.5h1M341 55.5h1M345 55.5h1M358 55.5h1M380 55.5h1M381 55.5h1M386 55.5h1M387 55.5h1M388 55.5h1M389 55.5h1M410 55.5h1M426 55.5h1M438 55.5h1M440 55.5h1M443 55.5h1M444 55.5h1M447 55.5h1M306 56.5h1M309 56.5h1M310 56.5h1M327 56.5h1M362 56.5h1M368 56.5h1M369 56.5h1M374 56.5h1M376 56.5h1M388 56.5h1M390 56.5h1M393 56.5h1M395 56.5h1M397 56.5h1M407 56.5h1M439 56.5h1M440 56.5h1M442 56.5h1M443 56.5h1M444 56.5h1M291 57.5h1M316 57.5h1M334 57.5h1M348 57.5h1M360 57.5h1M363 57.5h1M387 57.5h1M388 57.5h1M390 57.5h1M391 57.5h1M409 57.5h1M412 57.5h1M420 57.5h1M438 57.5h1M440 57.5h1M445 57.5h1M447 57.5h1M294 58.5h1M351 58.5h1M372 58.5h1M374 58.5h1M378 58.5h1M388 58.5h1M389 58.5h1M390 58.5h1M391 58.5h1M404 58.5h1M409 58.5h1M438 58.5h1M441 58.5h1M443 58.5h1M447 58.5h1M448 58.5h1M449 58.5h1M321 59.5h1M322 59.5h1M323 59.5h1M341 59.5h1M351 59.5h1M367 59.5h1M383 59.5h1M388 59.5h1M390 59.5h1M391 59.5h1M393 59.5h1M394 59.5h1M411 59.5h1M437 59.5h1M441 59.5h1M442 59.5h1M445 59.5h1M446 59.5h1M293 60.5h1M322 60.5h1M324 60.5h1M327 60.5h1M361 60.5h1M373 60.5h1M393 60.5h1M394 60.5h1M395 60.5h1M396 60.5h1M398 60.5h1M411 60.5h1M412 60.5h1M414 60.5h1M434 60.5h1M439 60.5h1M441 60.5h1M445 60.5h1M447 60.5h1M455 60.5h1M302 61.5h1M306 61.5h1M307 61.5h1M330 61.5h1M332 61.5h1M334 61.5h1M388 61.5h1M389 61.5h1M391 61.5h1M392 61.5h1M393 61.5h1M398 61.5h1M412 61.5h1M431 61.5h1M438 61.5h1M443 61.5h1M445 61.5h1M448 61.5h1M304 62.5h1M311 62.5h1M342 62.5h1M349 62.5h1M357 62.5h1M369 62.5h1M387 62.5h1M388 62.5h1M389 62.5h1M391 62.5h1M393 62.5h1M398 62.5h1M403 62.5h1M408 62.5h1M442 62.5h1M446 62.5h1M449 62.5h1M451 62.5h1M308 63.5h1M312 63.5h1M326 63.5h1M356 63.5h1M364 63.5h1M372 63.5h1M379 63.5h1M386 63.5h1M388 63.5h1M390 63.5h1M391 63.5h1M392 63.5h1M393 63.5h1M394 63.5h1M395 63.5h1M437 63.5h1M438 63.5h1M446 63.5h1M448 63.5h1M309 64.5h1M317 64.5h1M385 64.5h1M387 64.5h1M388 64.5h1M389 64.5h1M390 64.5h1M391 64.5h1M392 64.5h1M397 64.5h1M423 64.5h1M427 64.5h1M434 64.5h1M438 64.5h1M442 64.5h1M336 65.5h1M357 65.5h1M364 65.5h1M365 65.5h1M375 65.5h1M390 65.5h1M393 65.5h1M394 65.5h1M395 65.5h1M403 65.5h1M412 65.5h1M413 65.5h1M414 65.5h1M417 65.5h1M440 65.5h1M442 65.5h1M293 66.5h1M340 66.5h1M343 66.5h1M358 66.5h1M360 66.5h1M386 66.5h1M387 66.5h1M390 66.5h1M395 66.5h1M407 66.5h1M426 66.5h1M436 66.5h1M437 66.5h1M438 66.5h1M439 66.5h1M440 66.5h1M441 66.5h1M444 66.5h1M445 66.5h1M446 66.5h1M302 67.5h1M326 67.5h1M338 67.5h1M339 67.5h1M351 67.5h1M353 67.5h1M355 67.5h1M378 67.5h1M386 67.5h1M387 67.5h1M389 67.5h1M390 67.5h1M394 67.5h1M401 67.5h1M436 67.5h1M437 67.5h1M441 67.5h1M442 67.5h1M447 67.5h1M303 68.5h1M348 68.5h1M351 68.5h1M362 68.5h1M375 68.5h1M386 68.5h1M388 68.5h1M390 68.5h1M393 68.5h1M394 68.5h1M395 68.5h1M396 68.5h1M404 68.5h1M411 68.5h1M418 68.5h1M423 68.5h1M437 68.5h1M438 68.5h1M441 68.5h1M446 68.5h1M448 68.5h1M298 69.5h1M320 69.5h1M370 69.5h1M380 69.5h1M386 69.5h1M387 69.5h1M390 69.5h1M393 69.5h1M394 69.5h1M395 69.5h1M440 69.5h1M442 69.5h1M447 69.5h1M448 69.5h1M457 69.5h1M333 70.5h1M337 70.5h1M350 70.5h1M358 70.5h1M377 70.5h1M386 70.5h1M387 70.5h1M389 70.5h1M390 70.5h1M391 70.5h1M392 70.5h1M394 70.5h1M395 70.5h1M396 70.5h1M411 70.5h1M435 70.5h1M438 70.5h1M444 70.5h1M293 71.5h1M295 71.5h1M308 71.5h1M312 71.5h1M317 71.5h1M322 71.5h1M323 71.5h1M346 71.5h1M386 71.5h1M387 71.5h1M390 71.5h1M395 71.5h1M431 71.5h1M435 71.5h1M438 71.5h1M444 71.5h1M448 71.5h1M451 71.5h1M455 71.5h1M298 72.5h1M319 72.5h1M330 72.5h1M339 72.5h1M340 72.5h1M370 72.5h1M387 72.5h1M389 72.5h1M392 72.5h1M393 72.5h1M395 72.5h1M409 72.5h1M418 72.5h1M437 72.5h1M439 72.5h1M440 72.5h1M445 72.5h1M446 72.5h1M287 73.5h1M315 73.5h1M327 73.5h1M388 73.5h1M389 73.5h1M390 73.5h1M392 73.5h1M394 73.5h1M407 73.5h1M432 73.5h1M436 73.5h1M438 73.5h1M441 73.5h1M443 73.5h1M446 73.5h1M448 73.5h1M303 74.5h1M320 74.5h1M323 74.5h1M339 74.5h1M357 74.5h1M385 74.5h1M387 74.5h1M388 74.5h1M393 74.5h1M394 74.5h1M395 74.5h1M396 74.5h1M401 74.5h1M405 74.5h1M412 74.5h1M421 74.5h1M425 74.5h1M442 74.5h1M444 74.5h1M447 74.5h1M301 75.5h1M360 75.5h1M364 75.5h1M365 75.5h1M376 75.5h1M390 75.5h1M391 75.5h1M392 75.5h1M393 75.5h1M394 75.5h1M406 75.5h1M422 75.5h1M437 75.5h1M438 75.5h1M443 75.5h1M445 75.5h1M287 76.5h1M310 76.5h1M325 76.5h1M341 76.5h1M351 76.5h1M352 76.5h1M378 76.5h1M390 76.5h1M391 76.5h1M393 76.5h1M398 76.5h1M404 76.5h1M406 76.5h1M424 76.5h1M430 76.5h1M434 76.5h1M438 76.5h1M439 76.5h1M441 76.5h1M447 76.5h1M453 76.5h1M306 77.5h1M316 77.5h1M330 77.5h1M367 77.5h1M368 77.5h1M376 77.5h1M389 77.5h1M392 77.5h1M402 77.5h1M410 77.5h1M442 77.5h1M444 77.5h1M460 77.5h1M322 78.5h1M329 78.5h1M341 78.5h1M346 78.5h1M369 78.5h1M386 78.5h1M387 78.5h1M389 78.5h1M392 78.5h1M417 78.5h1M439 78.5h1M440 78.5h1M443 78.5h1M448 78.5h1M297 79.5h1M308 79.5h1M320 79.5h1M387 79.5h1M390 79.5h1M396 79.5h1M402 79.5h1M403 79.5h1M441 79.5h1M442 79.5h1M444 79.5h1M445 79.5h1M448 79.5h1M312 80.5h1M334 80.5h1M350 80.5h1M372 80.5h1M399 80.5h1M400 80.5h1M434 80.5h1M437 80.5h1M455 80.5h1M316 81.5h1M331 81.5h1M398 81.5h1M404 81.5h1M414 81.5h1M439 81.5h1M440 81.5h1M305 82.5h1M330 82.5h1M345 82.5h1M355 82.5h1M375 82.5h1M400 82.5h1M420 82.5h1M442 82.5h1M456 82.5h1M305 83.5h1M342 83.5h1M344 83.5h1M357 83.5h1M376 83.5h1M394 83.5h1M410 83.5h1M418 83.5h1M431 83.5h1M447 83.5h1M306 84.5h1M329 84.5h1M367 84.5h1M383 84.5h1M389 84.5h1M391 84.5h1M424 84.5h1M303 85.5h1M310 85.5h1M320 85.5h1M332 85.5h1M350 85.5h1M358 85.5h1M387 85.5h1M408 85.5h1M416 85.5h1M422 85.5h1M427 85.5h1M438 85.5h1M439 85.5h1M303 86.5h1M314 86.5h1M315 86.5h1M318 86.5h1M338 86.5h1M367 86.5h1M394 86.5h1M431 86.5h1M439 86.5h1M443 86.5h1M291 87.5h1M316 87.5h1M321 87.5h1M331 87.5h1M335 87.5h1M361 87.5h1M378 87.5h1M403 87.5h1M332 88.5h1M333 88.5h1M345 88.5h1M351 88.5h1M353 88.5h1M373 88.5h1M418 88.5h1M424 88.5h1M446 88.5h1M456 88.5h1M328 89.5h1M352 89.5h1M354 89.5h1M377 89.5h1M385 89.5h1M420 89.5h1M442 89.5h1M295 90.5h1M396 90.5h1M435 90.5h1M292 91.5h1M338 91.5h1M340 91.5h1M368 91.5h1M371 91.5h1M402 91.5h1M411 91.5h1M432 91.5h1M441 91.5h1M293 92.5h1M306 92.5h1M313 92.5h1M317 92.5h1M320 92.5h1M411 92.5h1M416 92.5h1M452 92.5h1M298 93.5h1M312 93.5h1M324 93.5h1M325 93.5h1M371 93.5h1M387 93.5h1M419 93.5h1M452 93.5h1M456 93.5h1M295 94.5h1M330 94.5h1M351 94.5h1M362 94.5h1M370 94.5h1M390 94.5h1M403 94.5h1M437 94.5h1M455 94.5h1M293 95.5h1M305 95.5h1M314 95.5h1M319 95.5h1M335 95.5h1M371 95.5h1M372 95.5h1M420 95.5h1M435 95.5h1M444 95.5h1M452 95.5h1M316 96.5h1M324 96.5h1M338 96.5h1M352 96.5h1M357 96.5h1M379 96.5h1M400 96.5h1M442 96.5h1M449 96.5h1M450 96.5h1M456 96.5h1M304 97.5h1M332 97.5h1M342 97.5h1M350 97.5h1M365 97.5h1M374 97.5h1M445 97.5h1M358 98.5h1M364 98.5h1M367 98.5h1M381 98.5h1M388 98.5h1M391 98.5h1M426 98.5h1M445 98.5h1M296 99.5h1M299 99.5h1M310 99.5h1M377 99.5h1M380 99.5h1M407 99.5h1M436 99.5h1M311 100.5h1M327 100.5h1M329 100.5h1M331 100.5h1M389 100.5h1M405 100.5h1M447 100.5h1M449 100.5h1M309 101.5h1M345 101.5h1M374 101.5h1M377 101.5h1M399 101.5h1M400 101.5h1M443 101.5h1M322 102.5h1M324 102.5h1M338 102.5h1M344 102.5h1M350 102.5h1M379 102.5h1M395 102.5h1M396 102.5h1M401 102.5h1M311 103.5h1M324 103.5h1M331 103.5h1M339 103.5h1M352 103.5h1M362 103.5h1M369 103.5h1M382 103.5h1M390 103.5h1M397 103.5h1M409 103.5h1M425 103.5h1M442 103.5h1M309 104.5h1M321 104.5h1M322 104.5h1M336 104.5h1M406 104.5h1M430 104.5h1M292 105.5h1M311 105.5h1M317 105.5h1M325 105.5h1M333 105.5h1M336 105.5h1M356 105.5h1M357 105.5h1M377 105.5h1M389 105.5h1M406 105.5h1M414 105.5h1M424 105.5h1M429 105.5h1" stroke="#f1e4e5" stroke-width="1" fill="none"/>
<path d="M311 16.5h1M339 16.5h1M383 16.5h1M386 16.5h1M292 17.5h1M298 17.5h1M309 17.5h1M318 17.5h1M325 17.5h1M331 17.5h1M378 17.5h1M389 17.5h1M421 17.5h1M439 17.5h1M452 17.5h1M291 18.5h1M310 18.5h1M363 18.5h1M378 18.5h1M409 18.5h1M434 18.5h1M451 18.5h1M455 18.5h1M326 19.5h1M340 19.5h1M347 19.5h1M413 19.5h1M449 19.5h1M324 20.5h1M354 20.5h1M376 20.5h1M382 20.5h1M385 20.5h1M456 20.5h1M294 21.5h1M301 21.5h1M303 21.5h1M316 21.5h1M408 21.5h1M424 21.5h1M425 21.5h1M300 22.5h1M364 22.5h1M370 22.5h1M378 22.5h1M443 22.5h1M454 22.5h1M309 23.5h1M317 23.5h1M417 23.5h1M423 23.5h1M425 23.5h1M362 24.5h1M391 24.5h1M434 24.5h1M454 24.5h1M309 25.5h1M327 25.5h1M350 25.5h1M388 25.5h1M404 25.5h1M295 26.5h1M302 26.5h1M304 26.5h1M311 26.5h1M378 26.5h1M404 26.5h1M426 26.5h1M444 26.5h1M291 27.5h1M318 27.5h1M372 27.5h1M382 27.5h1M399 27.5h1M404 27.5h1M405 27.5h1M425 27.5h1M433 27.5h1M448 27.5h1M323 28.5h1M324 28.5h1M402 28.5h1M405 28.5h1M408 28.5h1M296 29.5h1M312 29.5h1M331 29.5h1M383 29.5h1M318 30.5h1M333 30.5h1M379 30.5h1M384 30.5h1M399 30.5h1M291 31.5h1M312 31.5h1M319 31.5h1M367 31.5h1M369 31.5h1M404 31.5h1M424 31.5h1M426 31.5h1M434 31.5h1M353 32.5h1M358 32.5h1M361 32.5h1M401 32.5h1M409 32.5h1M451 32.5h1M305 33.5h1M318 33.5h1M324 33.5h1M352 33.5h1M384 33.5h1M441 33.5h1M295 34.5h1M385 34.5h1M397 34.5h1M323 35.5h1M333 35.5h1M369 35.5h1M378 35.5h1M399 35.5h1M400 35.5h1M405 35.5h1M447 35.5h1M295 36.5h1M304 36.5h1M343 36.5h1M386 36.5h1M316 37.5h1M350 37.5h1M359 37.5h1M363 37.5h1M423 37.5h1M424 37.5h1M322 38.5h1M337 38.5h1M343 38.5h1M373 38.5h1M374 38.5h1M399 38.5h1M402 38.5h1M323 39.5h1M337 39.5h1M339 39.5h1M345 39.5h1M365 39.5h1M385 39.5h1M412 39.5h1M415 39.5h1M449 39.5h1M306 40.5h1M316 40.5h1M354 40.5h1M369 40.5h1M308 41.5h1M327 41.5h1M339 41.5h1M362 41.5h1M410 41.5h1M421 41.5h1M350 42.5h1M374 42.5h1M379 42.5h1M409 42.5h1M422 42.5h1M432 42.5h1M436 42.5h1M293 43.5h1M307 43.5h1M319 43.5h1M294 44.5h1M336 44.5h1M341 44.5h1M452 44.5h1M292 45.5h1M318 45.5h1M351 45.5h1M363 45.5h1M366 45.5h1M372 45.5h1M398 45.5h1M448 45.5h1M291 46.5h1M318 46.5h1M331 46.5h1M346 46.5h1M363 46.5h1M367 46.5h1M415 46.5h1M417 46.5h1M454 46.5h1M327 47.5h1M332 47.5h1M363 47.5h1M384 47.5h1M408 47.5h1M412 47.5h1M322 48.5h1M345 48.5h1M370 48.5h1M374 48.5h1M406 48.5h1M436 48.5h1M295 49.5h1M321 49.5h1M384 49.5h1M403 49.5h1M309 50.5h1M323 50.5h1M338 50.5h1M340 50.5h1M449 50.5h1M372 51.5h1M306 52.5h1M329 52.5h1M302 54.5h1M330 54.5h1M401 54.5h1M349 55.5h1M396 55.5h1M432 55.5h1M321 56.5h1M348 56.5h1M398 56.5h1M399 56.5h1M423 56.5h1M441 56.5h1M331 57.5h1M332 57.5h1M335 57.5h1M336 57.5h1M345 57.5h1M397 57.5h1M434 57.5h1M292 58.5h1M304 58.5h1M309 58.5h1M311 58.5h1M318 58.5h1M333 58.5h1M375 58.5h1M382 58.5h1M413 58.5h1M451 58.5h1M310 59.5h1M405 59.5h1M420 59.5h1M457 59.5h1M303 60.5h1M317 60.5h1M342 60.5h1M364 60.5h1M367 60.5h1M383 60.5h1M402 60.5h1M427 60.5h1M338 61.5h1M342 61.5h1M356 61.5h1M429 61.5h1M452 61.5h1M355 62.5h1M373 62.5h1M430 62.5h1M439 62.5h1M322 63.5h1M354 63.5h1M412 63.5h1M451 63.5h1M456 63.5h1M306 64.5h1M316 64.5h1M328 64.5h1M332 64.5h1M358 64.5h1M435 64.5h1M306 65.5h1M316 65.5h1M333 65.5h1M432 65.5h1M449 65.5h1M310 66.5h1M315 66.5h1M332 66.5h1M338 66.5h1M354 66.5h1M369 66.5h1M377 66.5h1M385 66.5h1M405 66.5h1M453 66.5h1M457 66.5h1M294 67.5h1M308 67.5h1M321 67.5h1M359 67.5h1M362 67.5h1M400 67.5h1M406 67.5h1M424 67.5h1M449 67.5h1M457 67.5h1M352 68.5h1M360 68.5h1M376 68.5h1M403 68.5h1M433 68.5h1M455 68.5h1M311 69.5h1M333 69.5h1M334 69.5h1M355 69.5h1M294 70.5h1M309 70.5h1M314 70.5h1M328 70.5h1M335 70.5h1M409 70.5h1M453 70.5h1M310 71.5h1M314 71.5h1M340 71.5h1M359 71.5h1M358 72.5h1M382 72.5h1M384 72.5h1M411 72.5h1M417 72.5h1M300 73.5h1M328 73.5h1M329 73.5h1M343 73.5h1M352 73.5h1M363 73.5h1M364 73.5h1M291 74.5h1M313 74.5h1M322 74.5h1M375 74.5h1M406 74.5h1M409 74.5h1M306 75.5h1M329 75.5h1M359 75.5h1M432 75.5h1M295 76.5h1M321 76.5h1M330 76.5h1M344 76.5h1M414 76.5h1M415 76.5h1M310 77.5h1M347 77.5h1M356 77.5h1M360 77.5h1M363 77.5h1M366 77.5h1M396 77.5h1M420 77.5h1M440 77.5h1M359 78.5h1M410 78.5h1M423 78.5h1M302 79.5h1M295 80.5h1M315 80.5h1M328 80.5h1M342 80.5h1M383 80.5h1M408 80.5h1M440 80.5h1M311 81.5h1M321 81.5h1M339 81.5h1M352 81.5h1M372 81.5h1M403 81.5h1M422 81.5h1M442 81.5h1M448 81.5h1M450 81.5h1M294 82.5h1M351 82.5h1M377 82.5h1M378 82.5h1M380 82.5h1M395 82.5h1M401 82.5h1M417 82.5h1M427 82.5h1M453 82.5h1M307 83.5h1M314 83.5h1M330 83.5h1M349 83.5h1M387 83.5h1M411 83.5h1M313 84.5h1M333 84.5h1M341 84.5h1M399 84.5h1M435 84.5h1M400 85.5h1M407 85.5h1M432 85.5h1M449 85.5h1M390 86.5h1M392 86.5h1M393 86.5h1M426 86.5h1M304 87.5h1M353 87.5h1M362 87.5h1M380 87.5h1M388 87.5h1M390 87.5h1M422 87.5h1M301 88.5h1M318 88.5h1M320 88.5h1M340 88.5h1M350 88.5h1M379 88.5h1M396 88.5h1M397 88.5h1M407 88.5h1M435 88.5h1M437 88.5h1M454 88.5h1M455 88.5h1M306 89.5h1M368 89.5h1M433 89.5h1M450 89.5h1M455 89.5h1M292 90.5h1M321 90.5h1M339 90.5h1M340 90.5h1M422 90.5h1M437 90.5h1M293 91.5h1M327 91.5h1M347 91.5h1M379 91.5h1M383 91.5h1M431 91.5h1M294 92.5h1M304 92.5h1M309 92.5h1M342 92.5h1M345 92.5h1M387 92.5h1M439 92.5h1M313 93.5h1M335 93.5h1M363 93.5h1M366 93.5h1M408 93.5h1M291 94.5h1M307 94.5h1M309 94.5h1M374 94.5h1M381 94.5h1M425 94.5h1M343 95.5h1M362 95.5h1M381 95.5h1M391 95.5h1M392 95.5h1M430 95.5h1M320 96.5h1M340 96.5h1M355 96.5h1M392 96.5h1M425 96.5h1M322 97.5h1M349 97.5h1M393 97.5h1M303 98.5h1M330 98.5h1M348 98.5h1M375 98.5h1M389 98.5h1M397 98.5h1M422 98.5h1M446 98.5h1M293 99.5h1M387 99.5h1M330 100.5h1M343 100.5h1M365 100.5h1M391 100.5h1M402 100.5h1M403 100.5h1M436 100.5h1M441 100.5h1M292 101.5h1M351 101.5h1M391 101.5h1M420 101.5h1M424 101.5h1M432 101.5h1M455 101.5h1M457 101.5h1M306 102.5h1M308 102.5h1M358 102.5h1M409 102.5h1M427 102.5h1M391 103.5h1M392 103.5h1M429 103.5h1M443 103.5h1M454 103.5h1M314 104.5h1M332 104.5h1M352 104.5h1M361 104.5h1M437 104.5h1M444 104.5h1M449 104.5h1M296 105.5h1M298 105.5h1M314 105.5h1M330 105.5h1M374 105.5h1M378 105.5h1M445 105.5h1M451 105.5h1" stroke="#e6e8f1" stroke-width="1" fill="none"/>
<path d="M319 16.5h1M385 16.5h1M407 16.5h1M433 16.5h1M403 17.5h1M322 19.5h1M365 19.5h1M379 19.5h1M397 19.5h1M419 19.5h1M334 20.5h1M311 21.5h1M332 21.5h1M379 21.5h1M433 21.5h1M359 22.5h1M304 23.5h1M365 23.5h1M381 23.5h1M365 24.5h1M415 24.5h1M359 25.5h1M385 25.5h1M293 26.5h1M306 26.5h1M365 26.5h1M433 26.5h1M363 27.5h1M295 28.5h1M421 28.5h1M455 28.5h1M345 29.5h1M359 30.5h1M449 30.5h1M365 31.5h1M374 31.5h1M407 31.5h1M292 32.5h1M341 33.5h1M429 33.5h1M433 33.5h1M450 33.5h1M292 34.5h1M419 34.5h1M365 35.5h1M370 35.5h1M391 35.5h1M432 35.5h1M316 36.5h1M322 36.5h1M305 40.5h1M332 40.5h1M402 40.5h1M433 40.5h1M363 41.5h1M366 41.5h1M310 42.5h1M385 42.5h1M365 43.5h1M374 44.5h1M384 44.5h1M406 44.5h1M419 44.5h1M360 45.5h1M401 45.5h1M365 47.5h1M416 47.5h1M319 48.5h1M347 48.5h1M362 48.5h1M364 48.5h1M453 48.5h1M303 49.5h1M396 49.5h1M306 51.5h1M370 52.5h1M411 52.5h1M439 52.5h1M301 53.5h1M329 53.5h1M365 53.5h1M433 55.5h1M316 56.5h1M341 56.5h1M427 56.5h1M324 57.5h1M365 57.5h1M408 57.5h1M419 57.5h1M451 57.5h1M362 58.5h1M419 59.5h1M433 59.5h1M297 60.5h1M338 60.5h1M365 60.5h1M433 61.5h1M297 62.5h1M419 62.5h1M318 63.5h1M333 64.5h1M414 64.5h1M433 64.5h1M319 65.5h1M397 65.5h1M335 66.5h1M296 67.5h1M297 67.5h1M334 68.5h1M419 68.5h1M307 69.5h1M419 69.5h1M359 70.5h1M361 70.5h1M408 70.5h1M328 71.5h1M365 71.5h1M363 72.5h1M422 72.5h1M298 73.5h1M365 73.5h1M365 74.5h1M432 74.5h1M434 74.5h1M433 76.5h1M304 77.5h1M432 77.5h1M433 77.5h1M379 78.5h1M361 79.5h1M365 79.5h1M423 79.5h1M331 80.5h1M365 80.5h1M387 80.5h1M433 80.5h1M382 81.5h1M411 81.5h1M427 81.5h1M339 83.5h1M313 85.5h1M433 85.5h1M295 86.5h1M365 86.5h1M297 87.5h1M302 87.5h1M384 87.5h1M433 87.5h1M315 88.5h1M372 89.5h1M419 89.5h1M293 90.5h1M365 90.5h1M368 90.5h1M433 90.5h1M365 91.5h1M433 91.5h1M417 92.5h1M296 93.5h1M330 93.5h1M352 94.5h1M361 95.5h1M419 95.5h1M433 95.5h1M451 95.5h1M335 96.5h1M365 96.5h1M374 96.5h1M414 96.5h1M339 97.5h1M423 97.5h1M433 99.5h1M450 99.5h1M294 100.5h1M338 100.5h1M419 101.5h1M329 102.5h1M374 102.5h1M453 102.5h1M295 103.5h1M329 103.5h1M440 103.5h1M317 104.5h1M386 104.5h1M341 105.5h1M365 105.5h1M450 105.5h1" stroke="#ced1e4" stroke-width="1" fill="none"/>
<path d="M336 16.5h1M429 16.5h1M296 17.5h1M337 17.5h1M289 18.5h1M336 18.5h1M288 19.5h1M296 19.5h1M428 19.5h1M297 20.5h1M428 20.5h1M429 20.5h1M288 21.5h1M419 21.5h1M336 22.5h1M429 22.5h1M289 24.5h1M296 24.5h1M336 24.5h1M428 24.5h1M337 26.5h1M428 26.5h1M290 27.5h1M296 27.5h1M336 27.5h1M296 28.5h1M297 28.5h1M428 28.5h1M419 29.5h1M429 29.5h1M290 30.5h1M290 31.5h1M336 31.5h1M337 31.5h1M419 32.5h1M336 33.5h1M428 33.5h1M288 34.5h1M296 34.5h1M336 34.5h1M288 35.5h1M336 35.5h1M429 35.5h1M296 36.5h1M297 36.5h1M428 36.5h1M429 36.5h1M289 37.5h1M336 37.5h1M419 37.5h1M428 37.5h1M290 38.5h1M290 39.5h1M428 39.5h1M429 39.5h1M288 40.5h1M337 40.5h1M428 41.5h1M288 42.5h1M297 42.5h1M297 43.5h1M419 43.5h1M433 43.5h1M296 44.5h1M429 44.5h1M296 46.5h1M297 46.5h1M288 47.5h1M297 47.5h1M428 47.5h1M289 48.5h1M288 49.5h1M289 49.5h1M428 49.5h1M289 50.5h1M290 50.5h1M419 50.5h1M433 50.5h1M289 51.5h1M290 52.5h1M297 52.5h1M336 52.5h1M419 52.5h1M336 53.5h1M337 53.5h1M419 53.5h1M429 53.5h1M289 54.5h1M336 54.5h1M289 55.5h1M296 55.5h1M429 55.5h1M288 56.5h1M290 56.5h1M296 56.5h1M429 56.5h1M289 57.5h1M290 57.5h1M289 58.5h1M297 58.5h1M297 59.5h1M290 61.5h1M289 62.5h1M296 62.5h1M428 62.5h1M429 62.5h1M288 63.5h1M297 63.5h1M336 63.5h1M337 63.5h1M297 64.5h1M336 64.5h1M288 65.5h1M290 65.5h1M428 65.5h1M433 65.5h1M296 66.5h1M297 66.5h1M337 66.5h1M419 67.5h1M429 67.5h1M289 68.5h1M297 68.5h1M297 69.5h1M428 69.5h1M297 71.5h1M428 71.5h1M429 71.5h1M289 72.5h1M288 73.5h1M289 73.5h1M296 73.5h1M428 73.5h1M296 74.5h1M297 74.5h1M337 74.5h1M419 74.5h1M336 75.5h1M296 76.5h1M290 77.5h1M336 77.5h1M428 78.5h1M288 79.5h1M290 79.5h1M296 79.5h1M336 79.5h1M429 79.5h1M433 79.5h1M288 80.5h1M297 80.5h1M428 80.5h1M429 80.5h1M297 81.5h1M337 81.5h1M395 81.5h1M419 81.5h1M428 82.5h1M429 82.5h1M450 82.5h1M297 83.5h1M450 83.5h1M288 84.5h1M290 84.5h1M395 84.5h1M419 84.5h1M428 84.5h1M429 84.5h1M448 84.5h1M290 85.5h1M337 85.5h1M288 86.5h1M288 87.5h1M296 87.5h1M337 87.5h1M296 88.5h1M336 88.5h1M336 89.5h1M288 90.5h1M336 90.5h1M449 90.5h1M297 91.5h1M336 91.5h1M449 91.5h1M290 92.5h1M296 92.5h1M419 92.5h1M289 93.5h1M288 95.5h1M289 95.5h1M290 95.5h1M337 96.5h1M296 97.5h1M297 97.5h1M288 98.5h1M290 98.5h1M297 98.5h1M419 98.5h1M288 100.5h1M289 101.5h1M290 103.5h1M433 103.5h1M288 104.5h1M296 104.5h1M337 104.5h1M419 104.5h1M288 105.5h1M289 105.5h1" stroke="#9da3ca" stroke-width="1" fill="none"/>
<path d="M428 16.5h1M428 18.5h1M429 21.5h1M428 23.5h1M429 24.5h1M290 25.5h1M290 26.5h1M429 27.5h1M290 29.5h1M428 29.5h1M288 33.5h1M289 33.5h1M290 34.5h1M289 35.5h1M289 36.5h1M429 37.5h1M428 38.5h1M428 42.5h1M288 43.5h1M428 43.5h1M429 43.5h1M290 44.5h1M289 47.5h1M429 48.5h1M290 49.5h1M428 51.5h1M428 57.5h1M290 58.5h1M289 59.5h1M428 59.5h1M290 60.5h1M289 63.5h1M288 66.5h1M288 67.5h1M289 67.5h1M288 68.5h1M429 68.5h1M289 71.5h1M288 72.5h1M428 74.5h1M289 75.5h1M290 76.5h1M428 76.5h1M288 78.5h1M289 78.5h1M429 78.5h1M428 79.5h1M289 80.5h1M290 81.5h1M428 81.5h1M448 82.5h1M449 82.5h1M428 83.5h1M449 83.5h1M449 84.5h1M288 85.5h1M448 87.5h1M450 88.5h1M290 89.5h1M289 91.5h1M289 94.5h1M289 96.5h1M290 97.5h1M289 100.5h1M290 101.5h1M288 103.5h1M290 105.5h1" stroke="#6c75b0" stroke-width="1" fill="none"/>
<path d="M458 16.5h1M459 17.5h1M458 24.5h1M459 26.5h1M458 27.5h1M459 30.5h1M299 41.5h1M299 42.5h1M458 45.5h1M459 45.5h1M300 50.5h1M459 50.5h1M459 54.5h1M458 56.5h1M300 57.5h1M459 58.5h1M300 59.5h1M458 63.5h1M459 66.5h1M459 70.5h1M458 71.5h1M458 73.5h1M459 73.5h1M458 74.5h1M458 78.5h1M412 79.5h1M413 79.5h1M412 81.5h1M458 81.5h1M412 82.5h1M412 83.5h1M459 84.5h1M459 85.5h1M412 86.5h1M413 86.5h1M458 86.5h1M459 86.5h1M412 87.5h1M459 88.5h1M413 91.5h1M458 91.5h1M459 91.5h1M413 93.5h1M458 93.5h1M458 94.5h1M459 94.5h1M458 95.5h1M413 96.5h1M458 96.5h1M459 96.5h1M458 99.5h1M458 100.5h1M459 100.5h1M413 101.5h1M413 102.5h1M458 102.5h1M412 103.5h1M459 104.5h1M413 105.5h1" stroke="#962832" stroke-width="1" fill="none"/>
<path d="M459 16.5h1M458 18.5h1M459 18.5h1M459 19.5h1M458 20.5h1M459 20.5h1M458 21.5h1M459 21.5h1M458 22.5h1M458 23.5h1M459 23.5h1M459 24.5h1M459 25.5h1M459 27.5h1M458 28.5h1M459 28.5h1M458 29.5h1M459 29.5h1M458 31.5h1M459 31.5h1M458 32.5h1M459 32.5h1M459 33.5h1M458 34.5h1M458 35.5h1M459 35.5h1M458 36.5h1M459 36.5h1M458 37.5h1M459 37.5h1M458 38.5h1M459 38.5h1M458 39.5h1M459 39.5h1M458 40.5h1M459 40.5h1M458 41.5h1M459 41.5h1M458 42.5h1M459 42.5h1M458 43.5h1M458 44.5h1M459 44.5h1M458 46.5h1M459 46.5h1M458 47.5h1M459 47.5h1M458 48.5h1M459 48.5h1M458 49.5h1M459 49.5h1M458 51.5h1M459 51.5h1M459 52.5h1M458 53.5h1M459 53.5h1M458 54.5h1M458 55.5h1M459 56.5h1M458 57.5h1M459 57.5h1M458 58.5h1M459 59.5h1M459 60.5h1M458 61.5h1M459 61.5h1M458 62.5h1M459 62.5h1M459 63.5h1M458 64.5h1M459 64.5h1M458 65.5h1M459 65.5h1M458 66.5h1M458 67.5h1M459 67.5h1M459 68.5h1M458 69.5h1M459 69.5h1M458 70.5h1M459 71.5h1M458 72.5h1M459 72.5h1M459 74.5h1M458 75.5h1M459 75.5h1M458 76.5h1M459 76.5h1M459 77.5h1M459 78.5h1M458 79.5h1M459 79.5h1M412 80.5h1M413 80.5h1M459 80.5h1M459 81.5h1M413 82.5h1M458 82.5h1M459 82.5h1M458 83.5h1M459 83.5h1M458 84.5h1M458 85.5h1M458 87.5h1M459 87.5h1M412 89.5h1M459 89.5h1M412 90.5h1M458 90.5h1M459 90.5h1M458 92.5h1M459 92.5h1M459 93.5h1M413 95.5h1M459 95.5h1M412 96.5h1M413 97.5h1M458 97.5h1M459 97.5h1M412 98.5h1M413 98.5h1M458 98.5h1M459 98.5h1M413 99.5h1M459 99.5h1M412 100.5h1M458 101.5h1M459 101.5h1M459 102.5h1M458 103.5h1M458 104.5h1M458 105.5h1M459 105.5h1" stroke="#8c0a14" stroke-width="1" fill="none"/>
<path d="M460 16.5h1M326 17.5h1M344 17.5h1M343 19.5h1M344 19.5h1M299 20.5h1M300 20.5h1M325 20.5h1M388 20.5h1M460 20.5h1M299 21.5h1M460 21.5h1M326 23.5h1M344 23.5h1M389 23.5h1M300 24.5h1M344 24.5h1M460 24.5h1M299 25.5h1M299 26.5h1M443 26.5h1M299 28.5h1M299 29.5h1M300 29.5h1M388 29.5h1M446 29.5h1M299 30.5h1M299 31.5h1M325 31.5h1M343 31.5h1M343 32.5h1M460 32.5h1M300 33.5h1M325 33.5h1M388 34.5h1M440 34.5h1M299 35.5h1M300 36.5h1M344 36.5h1M443 36.5h1M440 37.5h1M299 38.5h1M300 38.5h1M299 39.5h1M460 39.5h1M325 40.5h1M440 40.5h1M440 41.5h1M300 42.5h1M344 42.5h1M460 42.5h1M460 43.5h1M446 44.5h1M460 44.5h1M343 45.5h1M388 45.5h1M344 46.5h1M443 47.5h1M343 48.5h1M325 49.5h1M389 50.5h1M392 50.5h1M440 50.5h1M343 51.5h1M344 52.5h1M460 52.5h1M443 53.5h1M299 54.5h1M300 54.5h1M460 54.5h1M299 55.5h1M326 55.5h1M446 55.5h1M344 56.5h1M389 56.5h1M391 56.5h1M325 57.5h1M389 57.5h1M344 58.5h1M344 59.5h1M389 59.5h1M460 59.5h1M300 60.5h1M344 60.5h1M388 60.5h1M446 60.5h1M460 60.5h1M299 61.5h1M443 62.5h1M325 63.5h1M389 63.5h1M460 63.5h1M299 64.5h1M343 64.5h1M443 64.5h1M299 65.5h1M344 65.5h1M388 65.5h1M389 65.5h1M391 65.5h1M388 66.5h1M344 67.5h1M388 67.5h1M392 67.5h1M440 67.5h1M344 68.5h1M325 69.5h1M325 70.5h1M299 71.5h1M326 71.5h1M299 72.5h1M343 72.5h1M460 72.5h1M299 73.5h1M440 73.5h1M326 74.5h1M300 75.5h1M344 75.5h1M299 76.5h1M300 76.5h1M460 76.5h1M300 77.5h1M325 77.5h1M343 78.5h1M388 78.5h1M300 79.5h1M326 79.5h1M389 79.5h1M344 80.5h1M326 81.5h1M344 81.5h1M389 81.5h1M460 81.5h1M299 82.5h1M325 82.5h1M326 83.5h1M299 84.5h1M326 84.5h1M299 85.5h1M343 85.5h1M344 85.5h1M300 86.5h1M325 86.5h1M343 87.5h1M299 88.5h1M300 88.5h1M325 88.5h1M460 88.5h1M343 89.5h1M300 90.5h1M343 90.5h1M460 90.5h1M344 91.5h1M299 92.5h1M300 92.5h1M300 93.5h1M344 93.5h1M325 94.5h1M344 94.5h1M460 94.5h1M344 96.5h1M300 97.5h1M344 97.5h1M326 99.5h1M343 99.5h1M299 101.5h1M326 101.5h1M325 102.5h1M326 103.5h1M460 105.5h1" stroke="#ca9398" stroke-width="1" fill="none"/>
<path d="M289 17.5h1M289 26.5h1M289 30.5h1M289 32.5h1M289 38.5h1M289 60.5h1M289 70.5h1M289 79.5h1M289 81.5h1M289 84.5h1M289 88.5h1M289 104.5h1" stroke="#545ea3" stroke-width="1" fill="none"/>
<path d="M458 17.5h1M458 19.5h1M459 22.5h1M458 25.5h1M458 26.5h1M458 30.5h1M458 33.5h1M459 34.5h1M459 43.5h1M299 48.5h1M300 49.5h1M458 50.5h1M299 51.5h1M300 52.5h1M458 52.5h1M300 53.5h1M459 55.5h1M299 58.5h1M458 59.5h1M458 60.5h1M458 68.5h1M458 77.5h1M458 80.5h1M413 83.5h1M412 84.5h1M412 85.5h1M458 88.5h1M413 89.5h1M458 89.5h1M413 90.5h1M412 92.5h1M413 92.5h1M412 95.5h1M412 97.5h1M413 100.5h1M412 102.5h1M459 103.5h1M412 105.5h1" stroke="#a3424b" stroke-width="1" fill="none"/>
<path d="M460 17.5h1M460 19.5h1M388 30.5h1M460 31.5h1M388 32.5h1M460 36.5h1M460 37.5h1M300 41.5h1M460 41.5h1M299 43.5h1M300 43.5h1M299 44.5h1M460 45.5h1M300 46.5h1M299 47.5h1M460 47.5h1M299 49.5h1M299 50.5h1M389 51.5h1M299 53.5h1M460 53.5h1M389 54.5h1M460 55.5h1M460 56.5h1M299 57.5h1M460 62.5h1M460 65.5h1M389 66.5h1M460 74.5h1M460 75.5h1M388 80.5h1M388 81.5h1M460 82.5h1M413 84.5h1M460 85.5h1M413 87.5h1M460 89.5h1M460 92.5h1M412 94.5h1M413 94.5h1M460 95.5h1M460 96.5h1M460 98.5h1M412 99.5h1M460 100.5h1M412 101.5h1M460 101.5h1M460 102.5h1M413 103.5h1M412 104.5h1M413 104.5h1" stroke="#b05d65" stroke-width="1" fill="none"/>
<path d="M289 31.5h1M289 40.5h1M289 44.5h1M289 64.5h1M289 65.5h1M289 66.5h1M289 103.5h1" stroke="#3c4896" stroke-width="1" fill="none"/>
</g>
<line x1="305.5" y1="16" x2="305.5" y2="106" stroke="#777" stroke-width="0.75"/>
<line x1="318.5" y1="16" x2="318.5" y2="106" stroke="#777" stroke-width="0.75"/>
<line x1="328.5" y1="16" x2="328.5" y2="106" stroke="#777" stroke-width="0.75"/>
<line x1="335.5" y1="16" x2="335.5" y2="106" stroke="#7a80b0" stroke-width="0.75"/>
<line x1="343.5" y1="16" x2="343.5" y2="106" stroke="#8a5050" stroke-width="0.75"/>
<line x1="353.5" y1="16" x2="353.5" y2="106" stroke="#777" stroke-width="0.75"/>
<line x1="361.5" y1="16" x2="361.5" y2="106" stroke="#777" stroke-width="0.75"/>
<line x1="368.5" y1="16" x2="368.5" y2="106" stroke="#777" stroke-width="0.75"/>
<line x1="374.5" y1="16" x2="374.5" y2="106" stroke="#777" stroke-width="0.75"/>
<line x1="381.5" y1="16" x2="381.5" y2="106" stroke="#777" stroke-width="0.75"/>
<line x1="392.5" y1="16" x2="392.5" y2="106" stroke="#777" stroke-width="0.75"/>
<line x1="402.5" y1="16" x2="402.5" y2="106" stroke="#777" stroke-width="0.75"/>
<line x1="405.5" y1="16" x2="405.5" y2="106" stroke="#888" stroke-width="0.75"/>
<line x1="413.5" y1="16" x2="413.5" y2="106" stroke="#8a5050" stroke-width="0.75"/>
<line x1="418.5" y1="16" x2="418.5" y2="106" stroke="#777" stroke-width="0.75"/>
<line x1="425.5" y1="16" x2="425.5" y2="106" stroke="#777" stroke-width="0.75"/>
<line x1="436.5" y1="16" x2="436.5" y2="106" stroke="#777" stroke-width="0.75"/>
<line x1="450.5" y1="16" x2="450.5" y2="106" stroke="#777" stroke-width="0.75"/>
<line x1="455.5" y1="16" x2="455.5" y2="106" stroke="#7a86b8" stroke-width="0.75"/>
<line x1="283" y1="106.5" x2="461.6" y2="106.5" stroke="#262626" stroke-width="0.9"/>
<line x1="286.7" y1="106.5" x2="286.7" y2="109" stroke="#262626" stroke-width="0.7"/>
<text font-size="7.07" text-anchor="middle" transform="translate(286.7 117.6) scale(0.877 1)" stroke="#161616" stroke-width="0.05">Chr1</text>
<line x1="305.2" y1="106.5" x2="305.2" y2="109" stroke="#262626" stroke-width="0.7"/>
<text font-size="7.07" text-anchor="middle" transform="translate(305.2 117.6) scale(0.877 1)" stroke="#161616" stroke-width="0.05">2</text>
<line x1="318.2" y1="106.5" x2="318.2" y2="109" stroke="#262626" stroke-width="0.7"/>
<text font-size="7.07" text-anchor="middle" transform="translate(318.2 117.6) scale(0.877 1)" stroke="#161616" stroke-width="0.05">3</text>
<line x1="328.5" y1="106.5" x2="328.5" y2="109" stroke="#262626" stroke-width="0.7"/>
<text font-size="7.07" text-anchor="middle" transform="translate(328.5 117.6) scale(0.877 1)" stroke="#161616" stroke-width="0.05">4</text>
<line x1="335.3" y1="106.5" x2="335.3" y2="109" stroke="#262626" stroke-width="0.7"/>
<text font-size="7.07" text-anchor="middle" transform="translate(335.3 117.6) scale(0.877 1)" stroke="#161616" stroke-width="0.05">5</text>
<line x1="342.8" y1="106.5" x2="342.8" y2="109" stroke="#262626" stroke-width="0.7"/>
<text font-size="7.07" text-anchor="middle" transform="translate(342.8 117.6) scale(0.877 1)" stroke="#161616" stroke-width="0.05">6</text>
<line x1="353.3" y1="106.5" x2="353.3" y2="109" stroke="#262626" stroke-width="0.7"/>
<text font-size="7.07" text-anchor="middle" transform="translate(353.3 117.6) scale(0.877 1)" stroke="#161616" stroke-width="0.05">7</text>
<line x1="361.6" y1="106.5" x2="361.6" y2="109" stroke="#262626" stroke-width="0.7"/>
<text font-size="7.07" text-anchor="middle" transform="translate(361.6 117.6) scale(0.877 1)" stroke="#161616" stroke-width="0.05">8</text>
<line x1="368.9" y1="106.5" x2="368.9" y2="109" stroke="#262626" stroke-width="0.7"/>
<text font-size="7.07" text-anchor="middle" transform="translate(368.9 117.6) scale(0.877 1)" stroke="#161616" stroke-width="0.05">9</text>
<line x1="374.4" y1="106.5" x2="374.4" y2="109" stroke="#262626" stroke-width="0.7"/>
<text font-size="7.07" text-anchor="middle" transform="translate(374.4 117.6) scale(0.877 1)" stroke="#161616" stroke-width="0.05">10</text>
<line x1="382.4" y1="106.5" x2="382.4" y2="109" stroke="#262626" stroke-width="0.7"/>
<text font-size="7.07" text-anchor="middle" transform="translate(382.4 117.6) scale(0.877 1)" stroke="#161616" stroke-width="0.05">11</text>
<line x1="392.4" y1="106.5" x2="392.4" y2="109" stroke="#262626" stroke-width="0.7"/>
<text font-size="7.07" text-anchor="middle" transform="translate(392.4 117.6) scale(0.877 1)" stroke="#161616" stroke-width="0.05">12</text>
<line x1="403" y1="106.5" x2="403" y2="109" stroke="#262626" stroke-width="0.7"/>
<text font-size="7.07" text-anchor="middle" transform="translate(403 117.6) scale(0.877 1)" stroke="#161616" stroke-width="0.05">13</text>
<line x1="412.8" y1="106.5" x2="412.8" y2="109" stroke="#262626" stroke-width="0.7"/>
<text font-size="7.07" text-anchor="middle" transform="translate(412.8 117.6) scale(0.877 1)" stroke="#161616" stroke-width="0.05">15</text>
<line x1="425.2" y1="106.5" x2="425.2" y2="109" stroke="#262626" stroke-width="0.7"/>
<text font-size="7.07" text-anchor="middle" transform="translate(425.2 117.6) scale(0.877 1)" stroke="#161616" stroke-width="0.05">17</text>
<line x1="436.2" y1="106.5" x2="436.2" y2="109" stroke="#262626" stroke-width="0.7"/>
<text font-size="7.07" text-anchor="middle" transform="translate(436.2 117.6) scale(0.877 1)" stroke="#161616" stroke-width="0.05">18</text>
<line x1="449.6" y1="106.5" x2="449.6" y2="109" stroke="#262626" stroke-width="0.7"/>
<text font-size="7.07" text-anchor="middle" transform="translate(449.6 117.6) scale(0.877 1)" stroke="#161616" stroke-width="0.05">20</text>
<line x1="458.8" y1="106.5" x2="458.8" y2="109" stroke="#262626" stroke-width="0.7"/>
<text font-size="7.07" text-anchor="middle" transform="translate(458.8 117.6) scale(0.877 1)" stroke="#161616" stroke-width="0.05">22</text>
<rect x="333.5" y="123.5" width="3.4" height="3.4" fill="#29a3dc"/>
<text font-size="6.84" transform="translate(341.4 127.4) scale(0.877 1)" stroke="#161616" stroke-width="0.05">Subclone 1</text>
<rect x="376.6" y="123.5" width="3.4" height="3.4" fill="#137a3c"/>
<text font-size="6.84" transform="translate(384.5 127.4) scale(0.877 1)" stroke="#161616" stroke-width="0.05">Subclone 2</text>
<defs><linearGradient id="cnv" x1="0" x2="1" y1="0" y2="0"><stop offset="0" stop-color="#0a6fc0"/><stop offset="0.22" stop-color="#3a92d0"/><stop offset="0.48" stop-color="#ffffff"/><stop offset="0.75" stop-color="#ec6a70"/><stop offset="1" stop-color="#d0101e"/></linearGradient></defs>
<text font-size="6.84" text-anchor="middle" transform="translate(493.5 51.3) scale(0.877 1)" stroke="#161616" stroke-width="0.05">Inferred CNV</text>
<rect x="479.8" y="55.6" width="27.5" height="6.5" fill="url(#cnv)"/>
<text font-size="6.84" transform="translate(473.8 71) scale(0.877 1)" stroke="#161616" stroke-width="0.05">Loss</text>
<text font-size="6.84" text-anchor="end" transform="translate(513.7 71) scale(0.877 1)" stroke="#161616" stroke-width="0.05">Gain</text>
<text font-size="10.4" font-weight="bold" fill="#000" x="6.7" y="142" stroke="#000" stroke-width="0.05">C</text>
<line x1="41.5" y1="153" x2="41.5" y2="293.1" stroke="#262626" stroke-width="1.15"/>
<line x1="39.5" y1="177.5" x2="41.5" y2="177.5" stroke="#262626" stroke-width="0.9"/>
<text font-size="6.84" text-anchor="end" transform="translate(36.6 179.2) scale(0.877 1)" stroke="#161616" stroke-width="0.05">5</text>
<line x1="39.5" y1="218.5" x2="41.5" y2="218.5" stroke="#262626" stroke-width="0.9"/>
<text font-size="6.84" text-anchor="end" transform="translate(36.6 220.9) scale(0.877 1)" stroke="#161616" stroke-width="0.05">0</text>
<line x1="39.5" y1="260.5" x2="41.5" y2="260.5" stroke="#262626" stroke-width="0.9"/>
<text font-size="6.84" text-anchor="end" transform="translate(36.6 262.5) scale(0.877 1)" stroke="#161616" stroke-width="0.05">−5</text>
<line x1="40.7" y1="292.5" x2="191.5" y2="292.5" stroke="#262626" stroke-width="1.15"/>
<line x1="92.5" y1="292.5" x2="92.5" y2="294.5" stroke="#262626" stroke-width="0.9"/>
<text font-size="6.84" text-anchor="middle" transform="translate(92.7 303.6) scale(0.877 1)" stroke="#161616" stroke-width="0.05">−5</text>
<line x1="144.5" y1="292.5" x2="144.5" y2="294.5" stroke="#262626" stroke-width="0.9"/>
<text font-size="6.84" text-anchor="middle" transform="translate(144.8 303.6) scale(0.877 1)" stroke="#161616" stroke-width="0.05">0</text>
<path transform="scale(.1)" d="M1365 1611h0m75 28h0m47 0h0m0-17h0m5-3h0m0-5h0m10 3h0m3 18h0m1 3h0m4-19h0m9 10h0m3 6h0m11 2h0m4-12h0m6-14h0m2 22h0m8 4h0m2 0h0m11-9h0m16-10h0m5 16h0m3 3h0m17-22h0m10 16h0m3-19h0m48 18h0m7 7h0m21-7h0m37-3h0m4-10h0m15-2h0m54 59h0m-30-9h0m-4 1h0m-4 13h0m-1-10h0m-26 10h0m-2-19h0m-14 4h0m-1-7h0m-3-11h0m-3 28h0m-15-3h0m-1 6h0m0-13h0m-8-6h0m-9-5h0m-30-7h0m-2-5h0m-7 12h0m-2-11h0m-3 36h0m-3-15h0m-6-4h0m-1-7h0m-1 3h0m-2 7h0m0-16h0m-2 7h0m-7 2h0m-5 7h0m-1 9h0m-5-27h0m-2 0h0m0 18h0m-7-19h0m-18 22h0m-4-4h0m0 13h0m-11-2h0m0-19h0m-9 5h0m-4 3h0m-10-7h0m-2 11h0m-7-16h0m0 2h0m-7-2h0m-11 29h0m-1-23h0m-6-10h0m-1 6h0m-2 2h0m-1 20h0m-1-30h0m-1 2h0m-1 3h0m0-7h0m-1 17h0m-2-12h0m-1-6h0m-5 1h0m-1 3h0m-2 3h0m-3 8h0m-5-1h0m-4-11h0m-2 19h0m-3-7h0m-4 2h0m0 5h0m-2-4h0m-7 14h0m0-17h0m-1 23h0m-16-37h0m-1 27h0m-4 7h0m0-19h0m-1 16h0m-10 4h0m-6-10h0m-6-11h0m-1 24h0m-2-28h0m-3 21h0m0-12h0m-4-7h0m-3 23h0m-5 3h0m-16-3h0m-9-5h0m-28 2h0m-7-25h0m-66 68h0m9 3h0m6-2h0m0-12h0m25-5h0m2-7h0m14-5h0m2 0h0m5-7h0m8 25h0m12 5h0m7-1h0m2 1h0m8-27h0m7 3h0m1 3h0m6 8h0m4 11h0m2-17h0m2-12h0m10 5h0m1-5h0m0 3h0m1 36h0m1-14h0m5-24h0m0 8h0m1 14h0m1-2h0m4 14h0m2-28h0m3 13h0m3 19h0m10-32h0m1 13h0m4-5h0m1 19h0m5-33h0m12 10h0m2 28h0m2-19h0m1-10h0m2 4h0m0-10h0m4 35h0m6-23h0m4-5h0m7 5h0m2-13h0m12 35h0m10-11h0m2-22h0m6 22h0m4-1h0m4-6h0m0-19h0m1 11h0m4 5h0m5-14h0m8 18h0m1-7h0m12-10h0m6 24h0m7 1h0m7-15h0m2 1h0m0 5h0m4-4h0m1-11h0m6-3h0m4 31h0m1-14h0m2-5h0m0 6h0m10 19h0m1-31h0m3-8h0m0 18h0m8-15h0m1 32h0m8-23h0m1 11h0m1-3h0m1 17h0m1-2h0m1-21h0m1-12h0m1 15h0m6-17h0m10 35h0m2-18h0m10 6h0m0-15h0m1-7h0m0-1h0m4 9h0m0-8h0m8 26h0m11 3h0m2-1h0m1-8h0m3 12h0m1-30h0m8 7h0m2 16h0m3-2h0m12 12h0m6 3h0m1 0h0m10-4h0m16-2h0m3 4h0m10 1h0m10-10h0m6-14h0m8 6h0m4-4h0m19 7h0m28 35h0m-7 4h0m-1-1h0m-7-13h0m-10 8h0m-1-7h0m-1 29h0m-1-38h0m0 22h0m-2-20h0m-18-2h0m-10 13h0m-1 5h0m-2-4h0m-1-3h0m-3-8h0m-1 23h0m-5-1h0m-2-8h0m-8-4h0m-15 3h0m-1 13h0m-1-9h0m-3 13h0m-2-12h0m-3 18h0m-1-26h0m-1 3h0m-6 22h0m-13-23h0m-7-9h0m-3 4h0m-6-9h0m-3-1h0m-1 37h0m-2-35h0m-3 20h0m-6-7h0m-8-1h0m-2 2h0m-2-8h0m-10 3h0m-1 28h0m-1-25h0m-2 20h0m0-10h0m-4-11h0m-1 6h0m-1 9h0m0-22h0m0 2h0m-6 25h0m-2-14h0m-4-5h0m-5 16h0m-1-26h0m-8 21h0m-6 7h0m-1-31h0m-3 29h0m-2-2h0m-7-27h0m-5 21h0m-1-12h0m-2-2h0m-1 11h0m-3 20h0m-2-34h0m-8 22h0m-2 7h0m0-20h0m0-8h0m-6 28h0m-5-23h0m-2 19h0m-5-22h0m-4 9h0m-3-2h0m0-12h0m-3 8h0m-2 18h0m-1-15h0m-1 1h0m0 7h0m-5 4h0m-1-18h0m-2 16h0m-5 2h0m-5-12h0m-1-7h0m-2 19h0m-12-10h0m-1 23h0m-7-9h0m-1 2h0m-1-2h0m-2-21h0m-7 4h0m-7 20h0m-1 0h0m-2-26h0m-1 28h0m-2 3h0m-6-1h0m-14-4h0m-4-6h0m-1 1h0m0-18h0m-7 23h0m-2-32h0m-1 2h0m0-2h0m-1 36h0m-2-34h0m-3 2h0m-2-4h0m-4 4h0m-1 32h0m-6-28h0m-4-1h0m-5 10h0m0-18h0m-3 36h0m-1-9h0m-6 11h0m-19 0h0m-3-38h0m-1 0h0m-1 8h0m-11 12h0m0-18h0m-7 12h0m-5 13h0m-4-24h0m-2 5h0m-5 6h0m-1 10h0m-2-20h0m-4 8h0m-1-6h0m0 13h0m-7 9h0m-7-13h0m-2 14h0m-1 10h0m-5-33h0m-2-1h0m-10 28h0m-1-7h0m-2-22h0m-4 27h0m-9-8h0m-4-19h0m-3 30h0m0-11h0m-2 0h0m-2-6h0m-7-11h0m-1 32h0m-2-17h0m-4-13h0m-2 2h0m-2 23h0m-11-28h0m-10 24h0m-3 8h0m-3-24h0m-1 13h0m0 11h0m-2-8h0m-2-7h0m-18 2h0m-15-12h0m-45 49h0m8-4h0m5 19h0m16-19h0m3 18h0m1-11h0m20 6h0m7-2h0m1 10h0m4-13h0m5 14h0m2-16h0m1-7h0m16 18h0m4 0h0m10-17h0m0-1h0m2 6h0m11 8h0m0-26h0m10 28h0m0-6h0m2-8h0m7 9h0m2 0h0m2-14h0m7-9h0m7 0h0m3 9h0m6-7h0m4 2h0m2 30h0m1-19h0m6-19h0m5 2h0m0 24h0m3 1h0m1 8h0m1-35h0m2 38h0m6-25h0m3 18h0m14 2h0m1-13h0m11 3h0m1 13h0m3-2h0m6-27h0m0-6h0m3 4h0m6 32h0m6 2h0m1-8h0m10-3h0m1-28h0m0 0h0m3 19h0m1 17h0m21 0h0m10-32h0m2-2h0m1 12h0m0 20h0m3-4h0m2 9h0m12-25h0m3 20h0m4-25h0m0 5h0m9 9h0m8 13h0m1-1h0m2-3h0m1-12h0m7 11h0m3-12h0m1-19h0m19 15h0m1 4h0m2 0h0m5 14h0m4-5h0m7-16h0m6 17h0m3 9h0m3 0h0m2-6h0m1-28h0m1 1h0m14 20h0m6 3h0m2-13h0m4 4h0m3-12h0m3-7h0m10 16h0m10 2h0m2-8h0m0 16h0m11-6h0m3-13h0m0 15h0m2 13h0m2-33h0m6 15h0m8 17h0m4 0h0m5-10h0m9 6h0m2-25h0m0 21h0m9-20h0m1 20h0m6 6h0m1 3h0m10-32h0m3 20h0m3-4h0m0 13h0m0-11h0m1-3h0m9-12h0m5 29h0m2 2h0m2-7h0m9 8h0m0-24h0m5-6h0m2 14h0m2-11h0m3 12h0m2-3h0m2-3h0m3 10h0m1 11h0m0-8h0m4 2h0m7-23h0m2-3h0m11 33h0m4-31h0m4 20h0m9-20h0m18 29h0m2-22h0m0 16h0m3-13h0m3-13h0m2 15h0m9 5h0m4-4h0m11-11h0m29 0h0m-1 35h0m-2 19h0m-2-5h0m-9 9h0m-4-11h0m-9-4h0m-9 20h0m-4-10h0m-2-12h0m-3 6h0m-4 22h0m-1-33h0m-9-5h0m-3 2h0m0 20h0m-2 11h0m0-8h0m-2 12h0m-6-24h0m-3 4h0m0-15h0m-5 8h0m-1 1h0m-2 2h0m-2-13h0m-7 29h0m-2-8h0m-4-11h0m-1 12h0m-8-11h0m-4 6h0m-1 5h0m-1-2h0m-6 4h0m-5-11h0m-4 14h0m-1-20h0m-1 5h0m-20 25h0m-4-23h0m-9 2h0m-1-12h0m-1 26h0m-1-6h0m-2-23h0m-1 31h0m-4-27h0m-3 3h0m-3-5h0m-5-1h0m0 28h0m-1-3h0m-6-5h0m-4 4h0m0-2h0m-2-22h0m-1 14h0m-2-3h0m-1-6h0m0 25h0m-2-24h0m-6 24h0m0-28h0m-5 17h0m0 12h0m-1-8h0m-1-2h0m-3 3h0m-10-15h0m-5 26h0m-4 0h0m0-17h0m-1 16h0m0-20h0m-3 1h0m-1-16h0m0 35h0m-2-34h0m-3 8h0m-1 6h0m-2-3h0m-1-14h0m-1 32h0m-2 6h0m-3-32h0m-3 20h0m-1-7h0m0-16h0m-1-3h0m0 2h0m-2 10h0m0-11h0m-1 13h0m-2 9h0m-1-5h0m-8-7h0m-11 23h0m-3-30h0m-1 34h0m-7 1h0m-2-4h0m-18-1h0m-3-30h0m0 9h0m-1 4h0m-4-2h0m-9-3h0m-1-1h0m-1 16h0m0-15h0m-10-3h0m-4 28h0m-2-20h0m-1-6h0m-3-8h0m-1 7h0m-2 14h0m-1-14h0m-8 21h0m-1-10h0m-4 15h0m-1-29h0m-12-4h0m-5 11h0m-8 22h0m-6 0h0m-4-24h0m-1-12h0m-1 29h0m-9-23h0m-2 7h0m-2-6h0m-10 29h0m-9-4h0m-3-30h0m-2 28h0m-4-20h0m-5 11h0m-1 4h0m-3-10h0m-7-7h0m-4 0h0m-1 21h0m-1-20h0m-9 27h0m-2-22h0m-4-12h0m-4 6h0m-1 22h0m-6 8h0m-3-32h0m-14 6h0m-5-1h0m-3-6h0m-1 16h0m-6-13h0m-3 18h0m-6 8h0m-2-33h0m-6 24h0m-2-11h0m-1 8h0m-6-11h0m-1 2h0m-8 9h0m-5 9h0m-1 3h0m-6 2h0m-11-12h0m-5-13h0m-1 28h0m-5-26h0m0 1h0m-1 12h0m-1-10h0m-1 23h0m-4-20h0m-1-18h0m-10 38h0m-2-14h0m-1-11h0m-3 7h0m-3 0h0m-3-12h0m-3 28h0m0-32h0m-7 14h0m-1 7h0m-2 10h0m0-27h0m-5 19h0m-9-1h0m-8 3h0m-11-3h0m-10-3h0m-28 38h0m22 12h0m10-24h0m5 14h0m1 5h0m5-12h0m2 20h0m4-25h0m3 19h0m5-6h0m15 14h0m3-25h0m0-7h0m1 1h0m7-5h0m0 22h0m3-1h0m0 7h0m3-10h0m18 8h0m9-10h0m0 20h0m4 0h0m1-37h0m3 0h0m7 4h0m1 10h0m4 17h0m9 2h0m0-13h0m9-21h0m4 19h0m1-16h0m13 11h0m0 23h0m4-24h0m6 19h0m1-10h0m5 11h0m15-12h0m6-15h0m10 1h0m8 19h0m8-21h0m4 8h0m12 22h0m15-21h0m1 10h0m2-19h0m4-6h0m3 9h0m1 11h0m3-6h0m3 18h0m2-18h0m7-10h0m5 2h0m2 27h0m3-25h0m1 10h0m1-17h0m1 23h0m7 10h0m3-21h0m0 23h0m4-12h0m10-11h0m2 6h0m4 0h0m11-15h0m5 33h0m4-36h0m0 3h0m10-3h0m6 22h0m5 16h0m1-27h0m2 16h0m23-16h0m4 24h0m3-16h0m4-8h0m1 15h0m5-23h0m5 20h0m2 5h0m1-10h0m2-13h0m1 15h0m6-9h0m3-9h0m4 24h0m0 10h0m1-18h0m6-3h0m1 11h0m4 1h0m12-13h0m1-4h0m9 0h0m0 24h0m6-22h0m7 9h0m5-15h0m1 18h0m6 1h0m2-9h0m1-3h0m0 12h0m0-10h0m5 15h0m1-24h0m1 22h0m2-3h0m4-5h0m6-1h0m2-13h0m5 29h0m2-4h0m4-7h0m5-2h0m0-21h0m3 21h0m6 1h0m6-22h0m9 27h0m8-10h0m3 13h0m2-11h0m7-9h0m3 18h0m13-12h0m2 14h0m6 6h0m5-6h0m8-16h0m3-12h0m4-3h0m4 34h0m3-20h0m1 22h0m3-27h0m2 15h0m0 1h0m8-24h0m23 2h0m9 12h0m2-1h0m-33 64h0m-1-4h0m-19-23h0m-15-10h0m-4 15h0m-2-3h0m-4 1h0m0 0h0m-18-8h0m-5 10h0m-2-5h0m-7 6h0m-5-11h0m-1 17h0m-1 3h0m-1 4h0m-4-8h0m-2 14h0m-2-28h0m0 24h0m-4-28h0m0 1h0m-3 30h0m-5-21h0m-10-2h0m-5 4h0m-7 19h0m-2-5h0m-3-26h0m-1 11h0m-15-4h0m-4-11h0m-10 17h0m-1-6h0m-1-11h0m-10 5h0m-2 12h0m-3-10h0m-7 20h0m-7-13h0m-2-5h0m-4 6h0m-6-14h0m-5 26h0m-2-20h0m-8 25h0m-7-32h0m-2 32h0m-2-7h0m0 6h0m-3-10h0m-9-15h0m-4 32h0m-4-24h0m-2-15h0m-5 24h0m-3 0h0m-1 12h0m-3-22h0m-2 20h0m-11 0h0m0-31h0m-3 35h0m-1-6h0m-2-18h0m-3 20h0m-3 0h0m-8-31h0m-5 7h0m-5 14h0m-5-8h0m-8 20h0m-10-28h0m0 12h0m-3 3h0m0 1h0m-7-5h0m0 9h0m-4-10h0m-3 19h0m-5-12h0m-9 7h0m-2 6h0m-6-22h0m-3-8h0m-3-8h0m-1 21h0m0-21h0m-1 32h0m-1-26h0m-8 12h0m-8-14h0m-1 5h0m-2-6h0m-3 11h0m-3-8h0m-10 18h0m0 3h0m-3-12h0m0-3h0m-1 16h0m-1-5h0m-1 11h0m0 2h0m-3-1h0m-3-21h0m-7 11h0m-2 0h0m-8 14h0m-2-33h0m-2 1h0m-6-4h0m-8 16h0m-5-19h0m-1 36h0m-1-1h0m-2 0h0m-2-14h0m-6 13h0m-6-20h0m-7 24h0m-5 1h0m-3-37h0m0 5h0m-1-6h0m-9 37h0m-3 0h0m0-24h0m0 2h0m-3 11h0m-7-27h0m-1 20h0m-12 7h0m-6 6h0m-3-28h0m-5 15h0m-1 1h0m-5-11h0m-2 25h0m-7-26h0m-12 1h0m-6 0h0m0 28h0m-1-37h0m-1 22h0m-2 6h0m-4-14h0m-2 1h0m-15 18h0m-4 3h0m-8-10h0m-25-27h0m5 68h0m4 10h0m4-3h0m8-21h0m1 19h0m5-15h0m3 5h0m1-9h0m1 9h0m9-8h0m2 19h0m5-30h0m0 29h0m1-17h0m3-4h0m7 0h0m4-9h0m0 19h0m2-4h0m1-3h0m0-1h0m1 19h0m2-3h0m1-27h0m2 28h0m2-31h0m0 23h0m1 15h0m3-9h0m1 0h0m4-10h0m1 14h0m3-30h0m1 11h0m0-11h0m4 22h0m4-18h0m0 18h0m5-7h0m1 13h0m2-6h0m0-14h0m1 23h0m1-17h0m4 17h0m3-14h0m1-2h0m5 4h0m2-15h0m1-7h0m1 30h0m1-3h0m2-13h0m2 1h0m1 7h0m5-13h0m1 25h0m2-20h0m3 12h0m1 11h0m1-15h0m1-2h0m2 9h0m5-15h0m3 4h0m1-7h0m3 27h0m5-31h0m0 28h0m1 0h0m2-25h0m1 25h0m2-19h0m3 7h0m0-8h0m3 13h0m2 8h0m1-26h0m0-5h0m1 31h0m5-1h0m2 3h0m3-32h0m1 25h0m4-6h0m14 4h0m6-24h0m4 26h0m5-7h0m1 8h0m0-15h0m5 4h0m2 9h0m2 5h0m0-5h0m11 5h0m2-4h0m1-15h0m1 17h0m5 2h0m5-2h0m6-26h0m24-6h0m2 14h0m4-15h0m2 29h0m2-7h0m0-9h0m1 24h0m2-36h0m5 17h0m8 18h0m1-28h0m7-7h0m0 17h0m8-5h0m2-10h0m1 5h0m1 8h0m0-15h0m2 5h0m6 12h0m5 1h0m4 3h0m3 14h0m1-5h0m1-16h0m0 17h0m1-19h0m5 9h0m3 5h0m0-18h0m0 17h0m9 11h0m1-11h0m2-6h0m3 4h0m2-11h0m2 4h0m2 9h0m3-9h0m5 19h0m6-25h0m1-6h0m5 5h0m4-5h0m0 1h0m1 2h0m6 24h0m3-9h0m1-8h0m6 24h0m8-20h0m1-13h0m8 11h0m6 19h0m2-14h0m6-5h0m2-12h0m3 6h0m0 5h0m5-13h0m17 22h0m1 6h0m2-1h0m5-28h0m3 9h0m16-8h0m3 0h0m0 35h0m0-36h0m1-1h0m4 5h0m4 1h0m3-5h0m12 16h0m4-7h0m5-11h0m3 3h0m20 11h0m4 24h0m8-29h0m8 22h0m0-31h0m12 1h0m43-1h0m-67 53h0m-11-6h0m-12 20h0m-5-27h0m-17 2h0m-13-1h0m-2 6h0m-14 2h0m-2-8h0m-3 29h0m-6 5h0m-1-13h0m-9-5h0m-7 19h0m-5-33h0m-5 8h0m0 11h0m-12 7h0m-2-12h0m-4-1h0m-9-1h0m-4 11h0m-4 0h0m-2 0h0m0 5h0m-4 5h0m-5-16h0m-2-4h0m-1-9h0m-2 25h0m-3-10h0m-6 11h0m-1-1h0m-6-30h0m-5 15h0m-8 19h0m-3-5h0m-5-17h0m-2 9h0m-2-3h0m0-10h0m-19 18h0m-1-15h0m-13 21h0m-3-11h0m-3 0h0m-1-21h0m-2 30h0m-1-20h0m-2 21h0m-4-10h0m-13 9h0m-3-2h0m-4 9h0m-4-39h0m-3 10h0m-2 11h0m-2 7h0m-10-20h0m-2 15h0m-2-16h0m-4-3h0m-2 18h0m0-19h0m-3 27h0m-7 1h0m-10-30h0m-3 0h0m-5 31h0m0-21h0m-7 6h0m0 14h0m0-2h0m-1 6h0m-5-21h0m-1 4h0m-2-10h0m-1 22h0m-1-26h0m-4 12h0m-10 16h0m0-2h0m-16-24h0m-1 16h0m-2 8h0m-2-26h0m-1 23h0m-2-11h0m0 23h0m-3-37h0m-2 37h0m-4-18h0m-1-8h0m-2-12h0m0 24h0m0 3h0m0-26h0m-1 25h0m-3-3h0m-5-24h0m0 32h0m-7-4h0m-2 7h0m-2-35h0m0 22h0m-2 3h0m-2-16h0m0 8h0m0 11h0m-3 10h0m-1-7h0m-2-11h0m-2-1h0m-1 13h0m-2-16h0m-5 16h0m-1-17h0m-3 14h0m-3 0h0m-1-10h0m-2-13h0m-2-2h0m0 10h0m-2-13h0m0 34h0m0-26h0m-1 21h0m-1-2h0m-2-28h0m-3 11h0m-3-11h0m0 30h0m-4-29h0m-7 14h0m-1 22h0m-4 1h0m0-24h0m-3 1h0m-1-5h0m-1 0h0m-2 10h0m0 18h0m-1-2h0m-4 2h0m-2-8h0m-2-5h0m-2-19h0m-2 0h0m0 23h0m0-1h0m-3-15h0m-2 14h0m-5 7h0m-3-12h0m-2-6h0m-2-16h0m-3 38h0m-1-33h0m-4-5h0m-4 5h0m0 0h0m-2 25h0m-3-5h0m-6 12h0m-3-23h0m-7 0h0m0 17h0m-3 5h0m-11-18h0m-7-12h0m-1 26h0m-1-20h0m-1-10h0m-4 20h0m0-12h0m-1-5h0m0 12h0m-1 22h0m-1-28h0m-5 17h0m-5-5h0m-2 1h0m0 8h0m-1-29h0m-1 18h0m-4 14h0m-13-30h0m27 52h0m8 22h0m2-35h0m1 9h0m1-6h0m21 11h0m0 5h0m4-19h0m3 17h0m1 15h0m1-35h0m3 21h0m3 11h0m9-24h0m5-4h0m0 17h0m1 16h0m0-16h0m2 0h0m0-21h0m4 14h0m4 17h0m3-31h0m1 32h0m1-29h0m9 7h0m1-9h0m1 17h0m1-15h0m0 4h0m3 7h0m5 11h0m2 0h0m5-2h0m7-22h0m9 9h0m3-3h0m4 0h0m2 21h0m2-7h0m11 12h0m4-17h0m5-4h0m19 1h0m4-12h0m0 14h0m4-4h0m2-9h0m17-1h0m4 15h0m5-15h0m11 9h0m1-11h0m4 24h0m1-23h0m3 24h0m7 10h0m1-27h0m6-5h0m8 2h0m3 11h0m3 17h0m3 1h0m4-28h0m0 1h0m21-7h0m0 22h0m27-22h0m6 12h0m2-4h0m1-2h0m8 0h0m1 0h0m3 16h0m1-4h0m6-13h0m0 10h0m7-7h0m1 17h0m4-8h0m6 0h0m30 7h0m18-12h0m10-6h0m7 9h0m16-12h0m51 0h0m-80 37h0m-131 0h0m-78 7h0m-85-7h0m-22 5h0m-14-2h0m-62 4h0" stroke="#1a6234" stroke-width="12" stroke-linecap="round" stroke-opacity="0.82" fill="none"/>
<path transform="scale(.1)" d="M1262 2002h0m4 2h0m10-1h0m12 25h0m7 9h0m3-6h0m1-30h0m15 2h0m3 7h0m3 0h0m0 29h0m8-32h0m4-7h0m1 3h0m7 4h0m1-4h0m1 18h0m1 18h0m15-34h0m3 16h0m23-21h0m26 0h0m1 18h0m3 17h0m9-29h0m5-5h0m31 12h0m2-2h0m11 5h0m11-3h0m9-2h0m1-5h0m1 0h0m12-3h0m24 30h0m7-7h0m14-7h0m15-19h0m6 17h0m7-7h0m3 28h0m11-37h0m21 28h0m0-8h0m1-19h0m12 5h0m3 5h0m3 3h0m2 7h0m12 3h0m15 6h0m2-29h0m6 3h0m28 14h0m12 1h0m3-6h0m6-4h0m15 24h0m17 1h0m2-35h0m1 1h0m5 14h0m4-15h0m6 0h0m0 31h0m3-18h0m10-10h0m3 5h0m0-8h0m4 2h0m3 4h0m6 9h0m-4 33h0m0-2h0m-8 22h0m-14 11h0m-8-27h0m-3 10h0m-3-22h0m-2 5h0m-24 2h0m-2 7h0m-14 20h0m-4-19h0m-7 4h0m-12-13h0m-13 4h0m-3-10h0m-14 15h0m-45 2h0m-21-10h0m-3 23h0m-1-8h0m-1 2h0m-45 8h0m-1-24h0m-26 9h0m-5-15h0m-2 8h0m-4-2h0m-17 0h0m-4 6h0m-2-6h0m-3 16h0m-22-9h0m-3 6h0m-2 11h0m-6 2h0m-35-29h0m-20 18h0m-23 5h0m-27-12h0m-6 4h0m-3-16h0m-8 3h0m-18-3h0m0 0h0m0 1h0m-5 22h0m-1-19h0m-2 25h0m-3-27h0m-9 8h0m0-11h0m-11 14h0m-3 1h0m57 45h0m4 8h0m20-29h0m11 36h0m2-4h0m40-10h0m58-17h0m0 21h0m21-8h0m39-8h0m1-4h0m3 25h0m4 2h0m9-29h0m3 14h0m12-18h0m18 30h0m39-31h0m10 5h0m1 16h0m2 16h0m5-8h0m4-24h0m16 30h0m12-6h0m4 8h0m7-24h0m23-6h0m14-6h0m25 10h0m2 27h0m3-9h0m10 0h0m2 8h0m12-11h0m3-16h0m-17 51h0m-12 4h0m-7 2h0m-2 5h0m-4-13h0m-2-1h0m-13-16h0m-39 33h0m0-24h0m-13-6h0m0 23h0m-2-25h0m-9-2h0m-60 31h0m-32-23h0m-30 2h0m-24 27h0m-8-27h0m-8 10h0m-9-22h0m-18 12h0m-26 15h0m-18 4h0m-7-1h0m-58-10h0m-16-11h0m-10 1h0m23 41h0m2 1h0m43 12h0m33-21h0m35 13h0m17 16h0m50-6h0m2-1h0m52-1h0m4-21h0m35 29h0m58-3h0m29-1h0m85-27h0m-163 40h0m-16 5h0m-114-2h0" stroke="#1f6e3c" stroke-width="9" stroke-linecap="round" stroke-opacity="0.55" fill="none"/>
<path transform="scale(.1)" d="M1143 2198h0m28-1h0m10-3h0m7 0h0m6-3h0m15 7h0m2-3h0m4 2h0m5-8h0m2 8h0m4-17h0m8 1h0m17 18h0m15-5h0m34-3h0m36 46h0m-8 1h0m-4-6h0m-6-15h0m-3 15h0m-6-1h0m0-13h0m-3 8h0m-2 1h0m-5-1h0m-2 3h0m-1-28h0m-1 4h0m-4 27h0m-2-8h0m-2-3h0m-4 2h0m-3 13h0m0 3h0m0-2h0m-2-29h0m-3 12h0m0 19h0m-4-2h0m-3-36h0m-5 1h0m-2 22h0m-1 4h0m-6 6h0m-1-15h0m-2 14h0m0-18h0m0-3h0m-3 15h0m0-12h0m-3-14h0m-1 8h0m-7 21h0m-4-14h0m0-4h0m0 18h0m-1-20h0m-2 12h0m-3 8h0m-1-29h0m-1 5h0m-1 12h0m-5 17h0m-2 1h0m0-32h0m0 24h0m-2-24h0m-2 15h0m-1-19h0m0 15h0m-7-13h0m0-1h0m-1 9h0m-1 15h0m-1-18h0m0 23h0m-4-1h0m-1-22h0m-3 22h0m-2-23h0m-7 13h0m-4-16h0m0 21h0m-7-16h0m-6 11h0m-2-11h0m-2 3h0m-3 16h0m-7-16h0m-5 22h0m-1 3h0m-1-14h0m-1-10h0m0 13h0m-2-17h0m0 27h0m-5-9h0m-4-8h0m-1 19h0m-2-17h0m-1 5h0m-1-1h0m-1 7h0m-6 5h0m-1-21h0m0 14h0m-6 8h0m0-2h0m-3 1h0m-30 33h0m24 7h0m0 1h0m5-29h0m0 22h0m1 4h0m0-4h0m0-28h0m3 5h0m2 32h0m4-30h0m3-4h0m1 4h0m5-4h0m2 4h0m2 15h0m2 1h0m0-5h0m1-12h0m1-8h0m4 19h0m0 13h0m1-28h0m1 27h0m1-19h0m1 12h0m1 2h0m0-26h0m0 31h0m1 0h0m1-22h0m3 28h0m5-19h0m1 13h0m4-25h0m5 5h0m0 5h0m1-3h0m3-11h0m1 19h0m3-10h0m0 7h0m8-9h0m1 3h0m4 18h0m3 9h0m1-4h0m5-26h0m2 27h0m3-34h0m1 10h0m4 1h0m3 12h0m1 3h0m4-23h0m1-1h0m1 5h0m7 26h0m1-20h0m0 0h0m2-2h0m6-3h0m10 11h0m2-17h0m1 27h0m1-31h0m4 27h0m2-18h0m2 18h0m3 11h0m0-11h0m4 11h0m2-7h0m1-23h0m1 19h0m3-10h0m0 20h0m7 0h0m0-22h0m4-2h0m1 16h0m1 9h0m0-15h0m2-3h0m0-9h0m2-4h0m1 15h0m2-2h0m0 12h0m6-11h0m0 14h0m1-5h0m1-11h0m1 20h0m1-17h0m2 7h0m0-13h0m3 14h0m2 0h0m5 4h0m2 4h0m1-8h0m1-11h0m3-6h0m1 9h0m0-16h0m1 33h0m2-26h0m9 11h0m1-10h0m0-11h0m3 16h0m9-7h0m0 14h0m1-13h0m2 37h0m-3-8h0m-2 6h0m0 5h0m-14-2h0m-7 13h0m-3 14h0m-2-4h0m-2-21h0m-5 18h0m0-9h0m-3 12h0m-6-9h0m-1 5h0m-1-11h0m-1-19h0m-2 31h0m0-10h0m0-19h0m-5 34h0m0-23h0m0 25h0m0-12h0m-1-16h0m-2 7h0m-1-8h0m-1-6h0m-1 30h0m-3-20h0m0 0h0m-7 7h0m-1 0h0m-3 4h0m-1 3h0m-1-12h0m-2 21h0m-3-18h0m-3-8h0m-1 21h0m-1-9h0m-1-13h0m-3-9h0m-7 10h0m-1 21h0m-10-31h0m-7 4h0m-4 33h0m-5-35h0m0-2h0m-1 20h0m0 15h0m-2-4h0m-2-21h0m-1-2h0m-1 4h0m-1 23h0m-1-35h0m-1 25h0m-1-10h0m-3 9h0m-6-22h0m-1 27h0m-3-5h0m-2-20h0m-1 25h0m-1 10h0m-3-2h0m-6-31h0m-3 10h0m-1 21h0m0-12h0m-4-15h0m0 26h0m-5-16h0m0 14h0m0-15h0m-4-17h0m-3 25h0m-2-17h0m-8-9h0m-2 34h0m-5-26h0m-2 22h0m-1-30h0m-4 30h0m-1-14h0m-3 1h0m-1-8h0m0 18h0m-1-11h0m-5-9h0m-1 11h0m-1-6h0m0-9h0m-1 8h0m-6 15h0m0-17h0m-2 8h0m-3 20h0m-1-37h0m-5 24h0m-4-14h0m-2 1h0m-1-9h0m-4 18h0m-4-17h0m21 36h0m6 0h0m3 4h0m7 10h0m3 4h0m2-5h0m9-11h0m4 5h0m3-4h0m3 13h0m1-15h0m1 6h0m1 11h0m3 21h0m2-27h0m1 17h0m3-16h0m2 7h0m3 18h0m3-24h0m5-14h0m2 7h0m4-3h0m6 10h0m4 16h0m3 1h0m6-31h0m6 29h0m4-8h0m1 4h0m4 4h0m1-9h0m0 9h0m1-15h0m3-13h0m2 16h0m2 13h0m0 4h0m7-3h0m6-21h0m3-7h0m1 32h0m4-17h0m1 3h0m1 4h0m1 5h0m2-9h0m0 12h0m1-23h0m1 6h0m3 5h0m1-7h0m2 8h0m1-16h0m3 24h0m5-2h0m0 3h0m3-15h0m3-13h0m7 4h0m10 6h0m3-12h0m11 1h0m16 4h0m4 10h0m6-4h0m-96 35h0m-35 1h0m-6 1h0m-14 1h0" stroke="#1a6234" stroke-width="12" stroke-linecap="round" stroke-opacity="0.82" fill="none"/>
<path transform="scale(.1)" d="M1460 2434h0m71-6h0m54 3h0m5 6h0m82-3h0m31 44h0m-21-12h0m-3 2h0m-1 7h0m-7 0h0m-6-2h0m-9-4h0m-6 4h0m-3 0h0m-1-16h0m-9-2h0m-7 23h0m-3-4h0m-4-13h0m-17 14h0m-9-12h0m-6 13h0m-1-6h0m-1 7h0m-4-7h0m-1-3h0m-10 1h0m-7-2h0m-5-8h0m-8 2h0m-1 19h0m-2 0h0m-15-12h0m-5-1h0m-3 2h0m-1 3h0m-18-6h0m-10-18h0m-6 22h0m-6 9h0m-2 0h0m-2-20h0m-3-2h0m-4 17h0m-5 5h0m-28-4h0m-13-29h0m-2 13h0m-9 13h0m-22 0h0m-3-2h0m-83 31h0m1-15h0m6 8h0m6 16h0m4-24h0m2 17h0m9-3h0m2 20h0m2-13h0m1-24h0m10 19h0m3 10h0m6-24h0m2 13h0m11-6h0m5 19h0m7-27h0m3 30h0m1-2h0m1-16h0m2 20h0m1-6h0m2-12h0m3 16h0m14-12h0m3-8h0m2-1h0m0 9h0m3-17h0m1 25h0m8 2h0m0-3h0m0-11h0m1-13h0m7 29h0m4-36h0m5 25h0m2-19h0m1 16h0m7 12h0m2-26h0m8 29h0m5-11h0m0 11h0m8-35h0m2 29h0m15-13h0m13-18h0m5 34h0m1 3h0m0-33h0m3 26h0m1-17h0m0 14h0m5 5h0m6-3h0m2 5h0m1-10h0m4-3h0m5 7h0m1 0h0m6-3h0m0-2h0m1 2h0m1 5h0m3-10h0m0 14h0m0-3h0m4-20h0m1 1h0m1 16h0m1-10h0m11-6h0m0 27h0m6-20h0m1 9h0m1-10h0m2 3h0m1-13h0m7 30h0m0-8h0m1-10h0m1-9h0m5 0h0m4 10h0m2 15h0m3-15h0m0 5h0m3-14h0m0-4h0m1 11h0m0-5h0m1 21h0m3-18h0m4 22h0m2-27h0m1 13h0m2 13h0m1-3h0m1-13h0m7-13h0m3 26h0m1-1h0m2-8h0m1 5h0m1-25h0m5-6h0m1 37h0m1-35h0m2 24h0m2-23h0m2 34h0m0-1h0m5-1h0m1 4h0m2-37h0m2 30h0m0 6h0m0-28h0m9 17h0m4-10h0m0 6h0m8 9h0m1-30h0m7 2h0m1 13h0m3 21h0m3-21h0m1-7h0m3-8h0m2 11h0m0 25h0m1-7h0m1-22h0m5 5h0m2 18h0m3-8h0m0 13h0m8 1h0m2 35h0m-3 5h0m-2-12h0m-1-17h0m-6 8h0m-3 2h0m0 7h0m-8-4h0m0-4h0m-1-12h0m-1 7h0m0-7h0m-5-3h0m-4 17h0m-1 19h0m-7-9h0m0-15h0m-3-9h0m0 0h0m-3 9h0m-3 5h0m0 7h0m-1-9h0m-2-8h0m0 13h0m-1-12h0m-2 0h0m-1 19h0m-1-15h0m0 17h0m-2-18h0m-1 10h0m-2 11h0m-1-32h0m-2 24h0m-1-26h0m0 13h0m-1-12h0m-1 35h0m-2-12h0m-3-23h0m-1-2h0m0 7h0m-2 13h0m-1-9h0m-1-7h0m-1 30h0m0-16h0m0-7h0m-1 13h0m-2 13h0m-4-8h0m-3-23h0m-1 10h0m-2 22h0m-2-7h0m0 3h0m-5-7h0m-1 12h0m0-35h0m-2-1h0m0 28h0m0-18h0m-1-8h0m-4 13h0m-2 16h0m-2 2h0m0-34h0m-1 26h0m-2-8h0m0 16h0m-2-19h0m-2 18h0m-1-19h0m-2 11h0m0-18h0m-5 25h0m-5-18h0m0 5h0m-5-21h0m-5 25h0m-7 11h0m-1-31h0m-1 4h0m-1 14h0m-1 7h0m-1-19h0m-2-8h0m-1 0h0m0 32h0m-7-15h0m0 18h0m-1-11h0m0-9h0m-1-5h0m0 21h0m-2-34h0m-1 36h0m-3 1h0m-2-23h0m-1-5h0m-1 24h0m-1-7h0m0-17h0m-2 1h0m0 16h0m0-1h0m-1-18h0m-5 32h0m-2-12h0m-3 1h0m-5 2h0m0 9h0m-1-4h0m0-27h0m-2-1h0m0 1h0m-1 17h0m-1-25h0m-1 33h0m-2-12h0m0 17h0m-3-25h0m-1 2h0m-2-11h0m-1 31h0m-1-4h0m-4 0h0m-1-22h0m0 17h0m-12 0h0m0-6h0m-3-2h0m-7 9h0m-2-21h0m-1 27h0m-3-28h0m-1 18h0m0-8h0m-7-12h0m0 13h0m-6 7h0m-1-22h0m-2 22h0m-1-13h0m-4 8h0m-1-18h0m0 15h0m-4-1h0m-2-1h0m-7 5h0m-4-6h0m-5-2h0m-7 1h0m0 20h0m-2-22h0m-1 14h0m-2-18h0m-14-5h0m-9 12h0m0-12h0m-10 26h0m-4-4h0m-2 11h0m-7-20h0m-9-8h0m-5 28h0m-3 5h0m-1-19h0m-8 12h0m0-25h0m-1-5h0m-2 18h0m-8 13h0m-3-23h0m-15-6h0m-6 21h0m-14-8h0m-2 15h0m-5-14h0m-8-1h0m-14 7h0m-3-8h0m-11 17h0m-1-2h0m-1-10h0m0-3h0m0-5h0m-4 22h0m-2-8h0m-87 10h0m-26-7h0m40 30h0m16 19h0m1 1h0m8-15h0m17-2h0m6 10h0m2-23h0m5-2h0m2 7h0m6 21h0m0-28h0m5 29h0m1-11h0m1-24h0m19 6h0m13 18h0m5-25h0m1 32h0m2-23h0m2-3h0m2 8h0m4-3h0m10 12h0m2-21h0m5 25h0m10 11h0m5-1h0m5-35h0m10 24h0m0-21h0m8-1h0m12 33h0m10-7h0m0-21h0m3 14h0m0-4h0m10 20h0m0-12h0m1-12h0m5 6h0m1 12h0m4-18h0m1-2h0m1 23h0m11-30h0m3 2h0m3-2h0m2 9h0m2 0h0m8-12h0m4 16h0m5-17h0m6 8h0m2 21h0m8-15h0m3 22h0m1-7h0m0-2h0m0 7h0m7-4h0m1-5h0m9-8h0m0-4h0m1-5h0m2 22h0m2-21h0m2 19h0m5-6h0m6 12h0m0-5h0m0-1h0m6-19h0m1 17h0m3-27h0m0 9h0m2 28h0m2-11h0m2-3h0m3-18h0m2 33h0m0-30h0m1 25h0m1-8h0m2-8h0m0 19h0m1-18h0m0 19h0m0-29h0m2 6h0m0 2h0m1-16h0m0 38h0m0-22h0m4 3h0m1-16h0m0 3h0m1 9h0m1-5h0m0 17h0m1-2h0m1-12h0m1 10h0m1-15h0m2 11h0m5-20h0m6 38h0m0-9h0m4-5h0m7-12h0m0-10h0m0 33h0m2-2h0m5 5h0m6-8h0m2 2h0m0-31h0m0 10h0m0-10h0m1 21h0m1 16h0m2-24h0m0-6h0m0 4h0m1 5h0m2-1h0m2-9h0m3 20h0m2 3h0m0-18h0m2 9h0m2 2h0m0-7h0m1 10h0m2 9h0m3-10h0m2-11h0m0 16h0m1-5h0m1-22h0m6 0h0m0 7h0m0-1h0m1 21h0m0-25h0m3 24h0m2-15h0m1 5h0m1-9h0m3 29h0m1-13h0m1-20h0m1 4h0m0 22h0m2-11h0m1 6h0m0-10h0m1 9h0m0-13h0m1 1h0m9 16h0m0-8h0m0-2h0m2 19h0m2-3h0m2-30h0m1 30h0m1-34h0m0 17h0m0-18h0m1 28h0m0 0h0m1-12h0m1-4h0m1 6h0m2 13h0m5-14h0m1 11h0m2-4h0m4-8h0m0 5h0m0-8h0m0-2h0m2 20h0m2-3h0m2-26h0m3 36h0m0-14h0m5-13h0m1-5h0m0 20h0m2-27h0m3 20h0m3 11h0m1 2h0m2-20h0m8 20h0m1-6h0m0-8h0m5 12h0m0 5h0m4-4h0m2-27h0m8 29h0m6-16h0m3-14h0m5 20h0m6 42h0m-2-3h0m0 13h0m-5-21h0m-8 7h0m-14-6h0m-7-2h0m-4-7h0m-2-5h0m-4 33h0m-6-22h0m-5-1h0m-2 9h0m-9-15h0m-3 20h0m-4 5h0m-6 6h0m-1-23h0m-1-7h0m-1 21h0m-2-15h0m-2 5h0m-4-13h0m-1 8h0m-1 9h0m-1 3h0m-1-7h0m-7-13h0m-1 5h0m-5 0h0m-1 25h0m0-21h0m-1-2h0m-2-3h0m-5 22h0m-1-3h0m-2 11h0m-11-27h0m0-6h0m-3 27h0m-2-7h0m-2-19h0m-2 9h0m0 10h0m-1-7h0m-2-7h0m0-5h0m-7 3h0m-2-1h0m-2 19h0m0-5h0m0-19h0m0 20h0m-1 0h0m-1-19h0m-4-3h0m-1 33h0m-5-18h0m-1-14h0m-3 16h0m-1 5h0m0-19h0m0 11h0m0-13h0m-4 17h0m-2-11h0m0 0h0m-1 19h0m-1-15h0m-1-4h0m-3 2h0m0 16h0m-3 4h0m-2-7h0m0-10h0m-1 1h0m-4 19h0m0-6h0m-2 0h0m0-16h0m-4 27h0m0-38h0m-3 4h0m-2 23h0m0-24h0m-2 11h0m-2 5h0m-1-5h0m0 4h0m-2-9h0m-4-5h0m-1 1h0m-4-3h0m-2 28h0m0-9h0m-1 7h0m-6-20h0m-1-6h0m0-1h0m-1 10h0m-2-11h0m-4 5h0m-2 4h0m0 16h0m-3-6h0m-10 14h0m-8-24h0m-1-7h0m-1 12h0m-2 18h0m-11-12h0m-4 11h0m0 5h0m-3-36h0m-9 38h0m-1-25h0m-3 13h0m-10-16h0m-8-11h0m-2 19h0m-1 12h0m0-22h0m-11 13h0m-4 3h0m-6-14h0m-4 11h0m-1 6h0m-1-27h0m-2-1h0m-3 11h0m-1 4h0m-5 23h0m-3-32h0m0 16h0m-7-21h0m0 35h0m-1-35h0m-5-1h0m-1 21h0m-6-16h0m-18-1h0m-4 33h0m-2-37h0m0 13h0m-14 8h0m-11-7h0m-2 5h0m-4 14h0m-3 5h0m-8-28h0m-1 5h0m-3-5h0m-1 15h0m-3 8h0m-1-25h0m-1 14h0m-1 0h0m-3-6h0m0-10h0m-2 13h0m-3-12h0m-7-2h0m-2 12h0m-2 20h0m-1 1h0m-4-25h0m-2-8h0m-7 13h0m-7 21h0m-10 0h0m-2-39h0m-2 15h0m0 0h0m-1 18h0m-5-2h0m-11-2h0m-1-1h0m-1-16h0m-15 2h0m-2 7h0m-4 17h0m-6-16h0m-12 15h0m-5 0h0m-5-2h0m0 2h0m-8-36h0m-13 26h0m-26 34h0m7 6h0m16-1h0m9-8h0m1-2h0m24 5h0m0-9h0m7 2h0m31 4h0m4 15h0m8-30h0m2 25h0m2 7h0m12-8h0m1-23h0m2 26h0m1 6h0m2-3h0m1 6h0m19-38h0m18 30h0m1-31h0m12 27h0m3-22h0m2 13h0m3 21h0m1-6h0m4-25h0m18 24h0m5-29h0m0 4h0m1 21h0m2 0h0m1-9h0m12 15h0m2 4h0m6-12h0m6-26h0m6 6h0m11 15h0m1-18h0m1 2h0m3 22h0m15-20h0m16 31h0m6-6h0m5-6h0m0-5h0m3-9h0m0 2h0m0-12h0m1 25h0m0 1h0m10-15h0m0-5h0m1 4h0m5 24h0m13-17h0m3-9h0m0 19h0m15-10h0m1-12h0m0 26h0m18 6h0m3-21h0m0-1h0m14 1h0m12-15h0m6 19h0m8 3h0m7-18h0m5-5h0m0 23h0m2-16h0m0-5h0m7 3h0m3 17h0m2-13h0m0 0h0m1 14h0m0-16h0m2 4h0m1-4h0m3 6h0m1-14h0m6 3h0m3-4h0m1 4h0m8 30h0m3-12h0m8-20h0m1 17h0m5 3h0m5-9h0m2-8h0m5 7h0m1 5h0m1-11h0m1-2h0m4 32h0m3 1h0m4-31h0m4 10h0m0-11h0m3 4h0m0-9h0m8 14h0m4 16h0m0 1h0m0-10h0m1 16h0m0-22h0m4 11h0m18-23h0m0 2h0m3 23h0m1-23h0m1 15h0m4 11h0m1 4h0m6-8h0m4-12h0m4 9h0m5-4h0m12-2h0m21 27h0m-19 20h0m-27-22h0m-2 14h0m-1 18h0m-5-29h0m-3 15h0m-4-8h0m-13 8h0m-1 8h0m-7-28h0m-3 28h0m-1-21h0m-2-5h0m-13 8h0m-2 8h0m-5 17h0m-1-18h0m-2 4h0m-6-20h0m-4 3h0m-9 10h0m-4 2h0m-7 20h0m-1-35h0m-1-1h0m-4 33h0m-11-18h0m-2 12h0m-4-5h0m-2 4h0m0-9h0m-5-15h0m-8 22h0m-9-18h0m-2-2h0m-3 0h0m-1 14h0m-15 2h0m-3 4h0m-11 14h0m-9-14h0m-1-6h0m-3 9h0m-5-9h0m-2-14h0m0 3h0m-2 9h0m-11 21h0m-2-12h0m-5 0h0m-2-12h0m-1 14h0m-2 6h0m-6-34h0m-5 0h0m-1 24h0m-8 8h0m0-29h0m-4-2h0m-4 24h0m-2-11h0m-2 16h0m-11-24h0m-2 2h0m-3 7h0m-7 15h0m-2-4h0m-4 0h0m-3-22h0m-8 13h0m-11 1h0m-5 21h0m-15-39h0m-17 11h0m-15 26h0m-5-3h0m-2-33h0m-9 9h0m-3 10h0m-4 4h0m-1-10h0m0-4h0m-8 7h0m-12 22h0m-8-1h0m-4-2h0m-1-10h0m-1-4h0m-3 11h0m-12-9h0m-1 14h0m-1-7h0m-7-26h0m-6-4h0m-7 34h0m-2-13h0m-2-6h0m-1 12h0m-16-22h0m-11 7h0m0 17h0m-3-1h0m-1-20h0m-7 18h0m-3-24h0m-2 9h0m-14-3h0m-1 10h0m-12-11h0m-3-4h0m-1-2h0m-11 14h0m-7-10h0m-14 9h0m-1 17h0m-5 2h0m-29-14h0m-2 0h0m-6 2h0m12 54h0m5-14h0m21-17h0m3 14h0m0 2h0m2 0h0m9 17h0m7-28h0m4-2h0m13-3h0m8 18h0m14-7h0m15 13h0m3 10h0m1-8h0m4 8h0m3-35h0m0 0h0m16 28h0m1-25h0m4-4h0m3 27h0m5-3h0m10-18h0m8 13h0m7 10h0m1 3h0m1-7h0m1-25h0m5 26h0m0-17h0m1 6h0m5-16h0m3 28h0m1-6h0m8-13h0m6 20h0m0-29h0m3 0h0m3 18h0m2-17h0m6 31h0m2 4h0m2-28h0m4 25h0m6-22h0m0 8h0m8 13h0m3-19h0m11-14h0m7 18h0m8-10h0m4 6h0m6 17h0m11 2h0m8-21h0m0 0h0m4-11h0m1 6h0m4 6h0m1 19h0m24-4h0m4-22h0m6 17h0m8 4h0m6-1h0m2-23h0m3 34h0m2-26h0m0-11h0m7 0h0m1 25h0m3-3h0m5 15h0m2-14h0m3-17h0m1 3h0m2-2h0m5 26h0m0-15h0m8-17h0m1-2h0m1 31h0m0-28h0m9 9h0m0-9h0m23 3h0m3 1h0m1-4h0m12 0h0m6 8h0m1 23h0m4-3h0m6-25h0m0 16h0m7-5h0m2 8h0m4-12h0m1 0h0m6 22h0m1-10h0m2-5h0m0-5h0m5-9h0m0 6h0m5 9h0m4 2h0m2-13h0m9 27h0m1-6h0m1 7h0m2-8h0m4-24h0m17 9h0m14-1h0m1 15h0m1-22h0m13 27h0m23-26h0m-47 43h0m-4 11h0m-4-21h0m-17 24h0m-6-20h0m-2 16h0m-6-19h0m-14 24h0m-5 2h0m-1-21h0m-15 25h0m-4 7h0m-21-35h0m-12 11h0m-8-5h0m-11-3h0m0 6h0m-9 10h0m-5 12h0m-1-17h0m0-11h0m-2 29h0m-2-11h0m-14-19h0m-5 0h0m-5 23h0m-8-9h0m0-18h0m-2 25h0m0-19h0m-2 18h0m0 3h0m-3 2h0m-1 5h0m-2 0h0m-4-7h0m-1 0h0m-6 7h0m-2-23h0m-3-12h0m0 32h0m-4-28h0m-8 12h0m-4 17h0m-4-30h0m-11 25h0m-1 0h0m-6 2h0m-1-17h0m-5 13h0m-4-15h0m-1 13h0m-7-24h0m-2 16h0m-2 3h0m-8-9h0m-5 16h0m-5-27h0m-1 38h0m-2-2h0m-3-32h0m-5 7h0m-2 17h0m-8 6h0m-3-12h0m0 2h0m-1-13h0m-2-3h0m-9 11h0m-9 0h0m0 11h0m-5-13h0m-1 18h0m-6-4h0m-2-13h0m-3-13h0m-1 19h0m-3-6h0m-12-14h0m-1 26h0m-3-30h0m-3 33h0m-2-17h0m-1 3h0m-7 20h0m-1-33h0m-3-5h0m-6 36h0m-2-17h0m-14 8h0m-5-8h0m0-12h0m-1 27h0m0-2h0m-7-28h0m-1 24h0m-11 0h0m-8-1h0m-3 6h0m0-22h0m-11 3h0m-14 0h0m-3-13h0m-2 11h0m-3-7h0m-13 18h0m-6-7h0m-1 9h0m-12-24h0m-1-1h0m-2 19h0m-1-10h0m-9-2h0m-12 26h0m-4-7h0m33 41h0m29-18h0m4 0h0m3-9h0m9 26h0m1 9h0m11-30h0m11 22h0m11-25h0m2 16h0m0 4h0m1-18h0m1 4h0m9 23h0m4-8h0m0 11h0m1 1h0m3-36h0m1 0h0m9 10h0m7-7h0m3 25h0m0-11h0m5-9h0m1-4h0m3 3h0m5 11h0m10-5h0m9 3h0m3 9h0m2 14h0m0-24h0m9 15h0m16-29h0m5 22h0m2 14h0m1-20h0m2-12h0m2 18h0m1 11h0m0-18h0m1-5h0m1 15h0m8 13h0m3-6h0m8-2h0m2-13h0m7 9h0m7 11h0m3-35h0m0-1h0m2 32h0m5-24h0m6 13h0m10-23h0m0 23h0m1 13h0m0 2h0m1-14h0m0-7h0m5-14h0m1 33h0m2-6h0m6-25h0m4 12h0m7-12h0m11 0h0m13 30h0m3-21h0m1 3h0m0-5h0m2 8h0m1-15h0m7 20h0m5-5h0m6 16h0m8-14h0m0 10h0m1-8h0m3-18h0m20 17h0m15 15h0m25-32h0m6 13h0m7-11h0m9-4h0m2-2h0m13 1h0m1 26h0m2-28h0m-83 44h0m-13 7h0m-19-10h0m-42 17h0m-2 11h0m-1-22h0m-15 6h0m-2-12h0m-5 5h0m-5-2h0m-4 7h0m-22 8h0m-6-13h0m-1 17h0m-13 13h0m-4-19h0m0-13h0m-10 5h0m-16-4h0m-3 33h0m-5-12h0m-4 0h0m-5 12h0m-2-24h0m-10-5h0m0 10h0m-13-14h0m-11 10h0m-9 6h0m-25 6h0m-18-10h0m-2 4h0m-14 1h0m0-16h0m-23 30h0m-76-36h0" stroke="#45b6d8" stroke-width="11" stroke-linecap="round" stroke-opacity="0.75" fill="none"/>
<path transform="scale(.1)" d="M1373 2436h0m40 1h0m33-4h0m9 4h0m23-12h0m2 13h0m0-6h0m9-16h0m2 3h0m2 1h0m2 18h0m24-16h0m4 5h0m20-3h0m6 12h0m6-8h0m13 6h0m19-1h0m2 3h0m57-9h0m30-11h0m28 27h0m-121 3h0m-1 28h0m-11-12h0m-5-18h0m-6 0h0m-14 0h0m-28 2h0m-5 11h0m0 2h0m-5-14h0m0 15h0m-37 3h0m-17 0h0m-22-4h0m-17 1h0m-29-11h0m-33-1h0m-33 14h0" stroke="#3cb4de" stroke-width="9" stroke-linecap="round" stroke-opacity="0.5" fill="none"/>
<path transform="scale(.1)" d="M490 2396h0m8 5h0m9 9h0m9 9h0m8 12h0m836 9h0m-50 20h0m-142 18h0m-8-5h0m-602-1h0m-8-8h0m-9-14h0m-9-9h0m34 42h0m9 8h0m491 19h0m8-2h0m8-2h0m8-2h0m8-2h0m8-2h0m70-17h0m8 5h0m8 5h0m8 5h0m-245 25h0m-7 3h0m-7 3h0m-7 3h0m-7 3h0m-7 3h0" stroke="#9a9a9a" stroke-width="9" stroke-linecap="round" stroke-opacity="0.75" fill="none"/>
<circle cx="48.6" cy="177" r="1.8" fill="#3cb4de"/>
<text font-size="6.84" transform="translate(53.5 179.1) scale(0.877 1)" stroke="#161616" stroke-width="0.05">Subclone 1</text>
<circle cx="48.6" cy="186.3" r="1.8" fill="#1f6e3c"/>
<text font-size="6.84" transform="translate(53.5 188.4) scale(0.877 1)" stroke="#161616" stroke-width="0.05">Subclone 2</text>
<circle cx="48.6" cy="195" r="1.8" fill="#8a8a8a"/>
<text font-size="6.84" transform="translate(53.5 197.1) scale(0.877 1)" stroke="#161616" stroke-width="0.05">TME</text>
<line x1="29.2" y1="306.6" x2="29.2" y2="281" stroke="#262626" stroke-width="1.2"/>
<line x1="28.6" y1="306" x2="54" y2="306" stroke="#262626" stroke-width="1.2"/>
<polygon points="29.2,276.3 26.6,283.4 31.8,283.4" fill="#111"/>
<polygon points="58.8,306 51.8,303.5 51.8,308.5" fill="#111"/>
<text font-size="7.8" text-anchor="middle" transform="translate(24.4 291.2) rotate(-90) scale(0.72 1)" stroke="#161616" stroke-width="0.05">UMAP_2</text>
<text font-size="7.8" text-anchor="middle" transform="translate(44.2 315.6) scale(0.73 1)" stroke="#161616" stroke-width="0.05">UMAP_1</text>
<text font-size="10.4" font-weight="bold" fill="#000" x="210" y="141.5" stroke="#000" stroke-width="0.05">D</text>
<text font-size="8" text-anchor="middle" transform="translate(264.8 145.6) scale(1 1)" stroke="#161616" stroke-width="0.05">IGHV5-51</text>
<line x1="235.5" y1="151" x2="235.5" y2="218.6" stroke="#262626" stroke-width="1.15"/>
<line x1="233.5" y1="162.5" x2="235.5" y2="162.5" stroke="#262626" stroke-width="0.9"/>
<text font-size="6.84" text-anchor="end" transform="translate(229.8 164.8) scale(0.877 1)" stroke="#161616" stroke-width="0.05">7.5</text>
<line x1="233.5" y1="180.5" x2="235.5" y2="180.5" stroke="#262626" stroke-width="0.9"/>
<text font-size="6.84" text-anchor="end" transform="translate(229.8 182.1) scale(0.877 1)" stroke="#161616" stroke-width="0.05">5.0</text>
<line x1="233.5" y1="197.5" x2="235.5" y2="197.5" stroke="#262626" stroke-width="0.9"/>
<text font-size="6.84" text-anchor="end" transform="translate(229.8 199.4) scale(0.877 1)" stroke="#161616" stroke-width="0.05">2.5</text>
<line x1="233.5" y1="214.5" x2="235.5" y2="214.5" stroke="#262626" stroke-width="0.9"/>
<text font-size="6.84" text-anchor="end" transform="translate(229.8 216.7) scale(0.877 1)" stroke="#161616" stroke-width="0.05">0.0</text>
<line x1="235" y1="218.5" x2="295.6" y2="218.5" stroke="#262626" stroke-width="1.15"/>
<line x1="246.5" y1="218.5" x2="246.5" y2="221" stroke="#262626" stroke-width="0.9"/>
<line x1="265.5" y1="218.5" x2="265.5" y2="221" stroke="#262626" stroke-width="0.9"/>
<line x1="284.5" y1="218.5" x2="284.5" y2="221" stroke="#262626" stroke-width="0.9"/>
<polygon points="247,153.4 250.7,154.2 254.2,155.3 255,156 254.4,156.8 252.2,158.5 250.2,160.5 248.7,162.5 247.5,164.5 246.9,166.5 246.6,169 246.6,202 245.8,202 245.8,169 245.5,166.5 244.9,164.5 243.7,162.5 242.2,160.5 240.2,158.5 238,156.8 237.4,156 238.2,155.3 241.7,154.2 245.4,153.4" fill="#1d9ce0" stroke="#1a4a70" stroke-width="0.3"/>
<polygon points="265.8,155 265.8,184.5 265.8,184.8 265.8,185.1 265.8,185.4 265.9,185.8 266.2,186.1 266.4,186.4 266.7,186.7 266.9,187 267.2,187.3 267.5,187.6 267.9,187.9 268.2,188.3 268.5,188.6 268.9,188.9 269.2,189.2 269.5,189.5 269.9,189.8 270.2,190.1 270.6,190.5 270.9,190.8 271.2,191.1 271.5,191.4 271.9,191.7 272.2,192 272.5,192.3 272.7,192.7 273,193 273.2,193.3 273.5,193.6 273.7,193.9 273.8,194.2 273.9,194.5 274,194.8 273.9,195.2 273.7,195.5 273.4,195.8 273.1,196.1 272.8,196.4 272.5,196.7 272.1,197 271.7,197.4 271.3,197.7 270.9,198 270.5,198.3 270.1,198.6 269.6,198.9 269.2,199.2 268.8,199.6 268.4,199.9 268,200.2 267.6,200.5 267.2,200.8 266.8,201.1 266.5,201.4 266.2,201.7 265.9,202.1 265.8,202.4 265.8,202.7 265.8,203 265.8,210.8 265,210.8 265,203 265,202.7 265,202.4 264.9,202.1 264.6,201.7 264.3,201.4 264,201.1 263.6,200.8 263.2,200.5 262.8,200.2 262.4,199.9 262,199.6 261.6,199.2 261.2,198.9 260.7,198.6 260.3,198.3 259.9,198 259.5,197.7 259.1,197.4 258.7,197 258.3,196.7 258,196.4 257.7,196.1 257.4,195.8 257.1,195.5 256.9,195.2 256.8,194.8 256.9,194.5 257,194.2 257.1,193.9 257.3,193.6 257.6,193.3 257.8,193 258.1,192.7 258.3,192.3 258.6,192 258.9,191.7 259.3,191.4 259.6,191.1 259.9,190.8 260.2,190.5 260.6,190.1 260.9,189.8 261.3,189.5 261.6,189.2 261.9,188.9 262.3,188.6 262.6,188.3 262.9,187.9 263.3,187.6 263.6,187.3 263.9,187 264.1,186.7 264.4,186.4 264.6,186.1 264.9,185.8 265,185.4 265,185.1 265,184.8 265,184.5 265,155" fill="#0c6a2e" stroke="#0a3a1a" stroke-width="0.3"/>
<polygon points="285.1,163 285.1,179.5 285.1,179.8 285.1,180.2 285.2,180.5 285.5,180.9 285.8,181.2 286.1,181.5 286.4,181.9 286.7,182.2 287.1,182.6 287.4,182.9 287.8,183.2 288.2,183.6 288.5,183.9 288.9,184.2 289.3,184.6 289.6,184.9 290,185.3 290.4,185.6 290.7,185.9 291.1,186.3 291.4,186.6 291.7,187 292.1,187.3 292.4,187.6 292.7,188 292.9,188.3 293.1,188.7 293.3,189 293.2,189.3 293,189.7 292.8,190 292.6,190.3 292.3,190.7 292,191 291.7,191.4 291.4,191.7 291.1,192 290.8,192.4 290.4,192.7 290.1,193.1 289.7,193.4 289.4,193.7 289,194.1 288.7,194.4 288.3,194.8 288,195.1 287.6,195.4 287.3,195.8 287,196.1 286.7,196.4 286.3,196.8 286,197.1 285.8,197.5 285.5,197.8 285.2,198.1 285.1,198.5 285.1,198.8 285.1,199.2 285.1,199.5 285.1,215 284.1,215 284.1,199.5 284.1,199.2 284.1,198.8 284.1,198.5 284,198.1 283.7,197.8 283.4,197.5 283.2,197.1 282.9,196.8 282.5,196.4 282.2,196.1 281.9,195.8 281.6,195.4 281.2,195.1 280.9,194.8 280.5,194.4 280.2,194.1 279.8,193.7 279.5,193.4 279.1,193.1 278.8,192.7 278.4,192.4 278.1,192 277.8,191.7 277.5,191.4 277.2,191 276.9,190.7 276.6,190.3 276.4,190 276.2,189.7 276,189.3 275.9,189 276.1,188.7 276.3,188.3 276.5,188 276.8,187.6 277.1,187.3 277.5,187 277.8,186.6 278.1,186.3 278.5,185.9 278.8,185.6 279.2,185.3 279.6,184.9 279.9,184.6 280.3,184.2 280.7,183.9 281,183.6 281.4,183.2 281.8,182.9 282.1,182.6 282.5,182.2 282.8,181.9 283.1,181.5 283.4,181.2 283.7,180.9 284,180.5 284.1,180.2 284.1,179.8 284.1,179.5 284.1,163" fill="#8c8c8c" stroke="#555" stroke-width="0.3"/>
<text font-size="8" text-anchor="middle" transform="translate(265.3 236.1) scale(1 1)" stroke="#161616" stroke-width="0.05">IGKV1D-33</text>
<line x1="235.5" y1="241" x2="235.5" y2="309.1" stroke="#262626" stroke-width="1.15"/>
<line x1="233.5" y1="253.5" x2="235.5" y2="253.5" stroke="#262626" stroke-width="0.9"/>
<text font-size="6.84" text-anchor="end" transform="translate(229.8 255.8) scale(0.877 1)" stroke="#161616" stroke-width="0.05">3</text>
<line x1="233.5" y1="270.5" x2="235.5" y2="270.5" stroke="#262626" stroke-width="0.9"/>
<text font-size="6.84" text-anchor="end" transform="translate(229.8 272.7) scale(0.877 1)" stroke="#161616" stroke-width="0.05">2</text>
<line x1="233.5" y1="287.5" x2="235.5" y2="287.5" stroke="#262626" stroke-width="0.9"/>
<text font-size="6.84" text-anchor="end" transform="translate(229.8 290) scale(0.877 1)" stroke="#161616" stroke-width="0.05">1</text>
<line x1="233.5" y1="305.5" x2="235.5" y2="305.5" stroke="#262626" stroke-width="0.9"/>
<text font-size="6.84" text-anchor="end" transform="translate(229.8 307.3) scale(0.877 1)" stroke="#161616" stroke-width="0.05">0</text>
<line x1="234.6" y1="308.5" x2="295.6" y2="308.5" stroke="#262626" stroke-width="1.15"/>
<line x1="246.5" y1="308.5" x2="246.5" y2="311" stroke="#262626" stroke-width="0.9"/>
<line x1="265.5" y1="308.5" x2="265.5" y2="311" stroke="#262626" stroke-width="0.9"/>
<line x1="284.5" y1="308.5" x2="284.5" y2="311" stroke="#262626" stroke-width="0.9"/>
<polygon points="246.5,248.5 246.7,249.9 246.8,251.4 247.1,252.8 247.6,254.3 248.4,255.7 249.2,257.2 250.1,258.6 251.1,260.1 252,261.5 252.8,263 253.6,264.4 254.1,265.9 254.5,267.3 254.7,268.8 254.7,270.2 254.4,271.7 254.1,273.1 253.5,274.6 252.9,276 252.2,277.5 251.6,278.9 250.9,280.4 250.2,281.8 249.6,283.3 249,284.7 248.5,286.2 248,287.6 247.5,289.1 247.2,290.5 247,292 246.8,293.4 246.8,294.9 246.7,296.3 246.7,297.8 246.7,299.2 246.6,300.7 246.8,302.1 246.9,303.6 246.6,305 245.8,305 245.4,303.6 245.6,302.1 245.8,300.7 245.7,299.2 245.7,297.8 245.7,296.3 245.6,294.9 245.6,293.4 245.4,292 245.2,290.5 244.9,289.1 244.4,287.6 243.9,286.2 243.4,284.7 242.8,283.3 242.2,281.8 241.5,280.4 240.8,278.9 240.2,277.5 239.5,276 238.9,274.6 238.3,273.1 238,271.7 237.7,270.2 237.7,268.8 237.9,267.3 238.3,265.9 238.8,264.4 239.6,263 240.4,261.5 241.3,260.1 242.3,258.6 243.2,257.2 244,255.7 244.8,254.3 245.3,252.8 245.6,251.4 245.7,249.9 245.9,248.5" fill="#1d9ce0" stroke="#1a4a70" stroke-width="0.3"/>
<polygon points="265.7,243 266.2,244.6 266.9,246.2 267.8,247.8 268.9,249.4 270.1,250.9 271.2,252.5 272.1,254.1 272.9,255.7 273.4,257.3 273.8,258.9 273.9,260.5 273.7,262.1 273.2,263.7 272.5,265.3 271.6,266.8 270.6,268.4 269.7,270 268.7,271.6 267.9,273.2 267.3,274.8 266.8,276.4 266.4,278 266.2,279.6 266.1,281.2 266,282.7 265.9,284.3 265.9,285.9 265.9,287.5 265.9,289.1 265.9,290.7 265.9,292.3 265.8,293.9 265.8,295.5 265.8,297.1 265.8,298.6 265.8,300.2 266,301.8 266.1,303.4 265.8,305 265,305 264.7,303.4 264.8,301.8 265,300.2 265,298.6 265,297.1 265,295.5 265,293.9 264.9,292.3 264.9,290.7 264.9,289.1 264.9,287.5 264.9,285.9 264.9,284.3 264.8,282.7 264.7,281.2 264.6,279.6 264.4,278 264,276.4 263.5,274.8 262.9,273.2 262.1,271.6 261.1,270 260.2,268.4 259.2,266.8 258.3,265.3 257.6,263.7 257.1,262.1 256.9,260.5 257,258.9 257.4,257.3 257.9,255.7 258.7,254.1 259.6,252.5 260.7,250.9 261.9,249.4 263,247.8 263.9,246.2 264.6,244.6 265.1,243" fill="#0c6a2e" stroke="#0a3a1a" stroke-width="0.3"/>
<line x1="284.6" y1="263.3" x2="284.6" y2="305.2" stroke="#777" stroke-width="0.5"/>
<line x1="275.4" y1="305.2" x2="293.3" y2="305.2" stroke="#777" stroke-width="0.5"/>
<rect x="306.5" y="209.2" width="3.7" height="3.7" fill="#1d9ce0"/>
<text font-size="6.84" transform="translate(313.8 213.2) scale(0.877 1)" stroke="#161616" stroke-width="0.05">Subclone 1</text>
<rect x="306.5" y="218.6" width="3.7" height="3.7" fill="#0c6a2e"/>
<text font-size="6.84" transform="translate(313.8 222.6) scale(0.877 1)" stroke="#161616" stroke-width="0.05">Subclone 2</text>
<rect x="306.5" y="228.9" width="3.7" height="3.7" fill="#8c8c8c"/>
<text font-size="6.84" transform="translate(313.8 232.9) scale(0.877 1)" stroke="#161616" stroke-width="0.05">TME</text>
<text font-size="10.4" font-weight="bold" fill="#000" x="362.3" y="141.8" stroke="#000" stroke-width="0.05">E</text>
<line x1="398.6" y1="153.4" x2="480" y2="153.4" stroke="#c4c4c4" stroke-width="0.5"/>
<line x1="398.6" y1="159.5" x2="480" y2="159.5" stroke="#c4c4c4" stroke-width="0.5"/>
<line x1="398.6" y1="165.6" x2="480" y2="165.6" stroke="#c4c4c4" stroke-width="0.5"/>
<line x1="398.6" y1="171.8" x2="480" y2="171.8" stroke="#c4c4c4" stroke-width="0.5"/>
<line x1="398.6" y1="177.9" x2="480" y2="177.9" stroke="#c4c4c4" stroke-width="0.5"/>
<line x1="398.6" y1="184" x2="480" y2="184" stroke="#c4c4c4" stroke-width="0.5"/>
<line x1="398.6" y1="190.1" x2="480" y2="190.1" stroke="#c4c4c4" stroke-width="0.5"/>
<line x1="398.6" y1="196.2" x2="480" y2="196.2" stroke="#c4c4c4" stroke-width="0.5"/>
<line x1="398.6" y1="202.3" x2="480" y2="202.3" stroke="#c4c4c4" stroke-width="0.5"/>
<line x1="398.6" y1="208.4" x2="480" y2="208.4" stroke="#c4c4c4" stroke-width="0.5"/>
<line x1="398.6" y1="214.6" x2="480" y2="214.6" stroke="#c4c4c4" stroke-width="0.5"/>
<line x1="398.6" y1="220.7" x2="480" y2="220.7" stroke="#c4c4c4" stroke-width="0.5"/>
<line x1="398.6" y1="226.8" x2="480" y2="226.8" stroke="#c4c4c4" stroke-width="0.5"/>
<line x1="398.6" y1="232.9" x2="480" y2="232.9" stroke="#c4c4c4" stroke-width="0.5"/>
<line x1="398.6" y1="239" x2="480" y2="239" stroke="#c4c4c4" stroke-width="0.5"/>
<line x1="398.6" y1="245.1" x2="480" y2="245.1" stroke="#c4c4c4" stroke-width="0.5"/>
<line x1="398.6" y1="251.2" x2="480" y2="251.2" stroke="#c4c4c4" stroke-width="0.5"/>
<line x1="398.6" y1="257.3" x2="480" y2="257.3" stroke="#c4c4c4" stroke-width="0.5"/>
<line x1="398.6" y1="263.5" x2="480" y2="263.5" stroke="#c4c4c4" stroke-width="0.5"/>
<line x1="398.6" y1="269.6" x2="480" y2="269.6" stroke="#c4c4c4" stroke-width="0.5"/>
<line x1="398.6" y1="275.7" x2="480" y2="275.7" stroke="#c4c4c4" stroke-width="0.5"/>
<line x1="398.6" y1="281.8" x2="480" y2="281.8" stroke="#c4c4c4" stroke-width="0.5"/>
<polygon points="414,159.3 414.3,159 414.4,158.6 414.4,158.3 414.3,157.9 414.2,157.6 414.1,157.3 414.1,156.9 414,156.6 413.9,156.2 413.9,155.9 413.8,155.5 413.8,155.2 413.8,154.8 413.8,154.8 413.7,155.2 413.7,155.5 413.6,155.9 413.6,156.2 413.5,156.6 413.4,156.9 413.4,157.3 413.3,157.6 413.2,157.9 413.1,158.3 413.1,158.6 413.2,159 413.5,159.3" fill="#c87050" stroke="#c87050" stroke-width="0.3"/>
<polygon points="417.3,165.4 421.2,165.1 422.9,164.7 423.7,164.3 422.3,163.9 420.9,163.5 419.6,163.1 418.4,162.7 417.3,162.4 416.3,162 415.4,161.6 414.6,161.2 414.1,160.8 413.8,160.4 413.8,160.4 413.4,160.8 412.9,161.2 412.1,161.6 411.2,162 410.2,162.4 409.1,162.7 407.9,163.1 406.6,163.5 405.2,163.9 403.8,164.3 404.6,164.7 406.3,165.1 410.2,165.4" fill="#ee7a1e" stroke="#ee7a1e" stroke-width="0.3"/>
<polygon points="443,165.4 446.8,165 448.4,164.6 449.6,164.2 448.7,163.8 447.1,163.4 445.7,163 444.4,162.6 443.1,162.2 442,161.8 441.1,161.4 440.2,161 439.6,160.6 439.2,160.2 439.2,160.2 438.9,160.6 438.3,161 437.4,161.4 436.5,161.8 435.4,162.2 434.1,162.6 432.8,163 431.4,163.4 429.8,163.8 428.9,164.2 430.1,164.6 431.7,165 435.5,165.4" fill="#ee7a1e" stroke="#ee7a1e" stroke-width="0.3"/>
<polygon points="414.3,171.6 414.8,171.3 415.1,171 415.2,170.7 415.3,170.4 415.1,170.2 414.8,169.9 414.6,169.6 414.4,169.3 414.2,169.1 414.1,168.8 413.9,168.5 413.8,168.2 413.8,168 413.8,168 413.7,168.2 413.6,168.5 413.4,168.8 413.3,169.1 413.1,169.3 412.9,169.6 412.7,169.9 412.4,170.2 412.2,170.4 412.3,170.7 412.4,171 412.7,171.3 413.2,171.6" fill="#d08a2a" stroke="#d08a2a" stroke-width="0.3"/>
<polygon points="440.2,171.6 441,171.2 441.4,170.8 441.6,170.4 441.8,170.1 441.4,169.7 441,169.3 440.6,169 440.3,168.6 440,168.2 439.7,167.9 439.5,167.5 439.3,167.1 439.2,166.8 439.2,166.8 439.2,167.1 439,167.5 438.8,167.9 438.5,168.2 438.2,168.6 437.9,169 437.5,169.3 437.1,169.7 436.7,170.1 436.9,170.4 437.1,170.8 437.5,171.2 438.3,171.6" fill="#d08a2a" stroke="#d08a2a" stroke-width="0.3"/>
<polygon points="415.6,177.7 417.2,177.3 417.8,177 418.3,176.6 418.7,176.3 418.5,175.9 417.7,175.6 416.9,175.2 416.1,174.9 415.4,174.6 414.9,174.2 414.3,173.9 414,173.5 413.8,173.2 413.8,173.2 413.5,173.5 413.2,173.9 412.6,174.2 412.1,174.6 411.4,174.9 410.6,175.2 409.8,175.6 409,175.9 408.8,176.3 409.2,176.6 409.7,177 410.3,177.3 411.9,177.7" fill="#b4a020" stroke="#b4a020" stroke-width="0.3"/>
<polygon points="443.3,177.7 446.6,177.2 447.9,176.8 449,176.4 449.8,175.9 450.6,175.5 449,175.1 447,174.7 445.2,174.2 443.5,173.8 442,173.4 440.7,172.9 439.8,172.5 439.2,172.1 439.2,172.1 438.7,172.5 437.8,172.9 436.5,173.4 435,173.8 433.3,174.2 431.5,174.7 429.5,175.1 427.9,175.5 428.7,175.9 429.5,176.4 430.6,176.8 431.9,177.2 435.2,177.7" fill="#b4a020" stroke="#b4a020" stroke-width="0.3"/>
<polygon points="414.7,183.8 415.7,183.5 416,183.2 416.3,183 416.5,182.7 416.1,182.4 415.6,182.1 415.2,181.8 414.9,181.6 414.6,181.3 414.3,181 414,180.7 413.9,180.5 413.8,180.2 413.8,180.2 413.6,180.5 413.5,180.7 413.2,181 412.9,181.3 412.6,181.6 412.3,181.8 411.9,182.1 411.4,182.4 411,182.7 411.2,183 411.5,183.2 411.8,183.5 412.8,183.8" fill="#98a028" stroke="#98a028" stroke-width="0.3"/>
<polygon points="440.1,183.8 440.9,183.5 441.2,183.2 441.5,183 441.6,182.7 441.2,182.4 440.9,182.1 440.5,181.8 440.2,181.6 439.9,181.3 439.7,181 439.5,180.7 439.3,180.5 439.2,180.2 439.2,180.2 439.2,180.5 439,180.7 438.8,181 438.6,181.3 438.3,181.6 438,181.8 437.6,182.1 437.3,182.4 436.9,182.7 437,183 437.3,183.2 437.6,183.5 438.4,183.8" fill="#98a028" stroke="#98a028" stroke-width="0.3"/>
<polygon points="468.3,189.9 470.9,189.5 471.9,189.1 472.7,188.6 473.4,188.2 474,187.8 474.2,187.4 472.3,187 470.6,186.6 469,186.2 467.6,185.7 466.4,185.3 465.5,184.9 465,184.5 465,184.5 464.5,184.9 463.6,185.3 462.4,185.7 461,186.2 459.4,186.6 457.7,187 455.8,187.4 456,187.8 456.6,188.2 457.3,188.6 458.1,189.1 459.1,189.5 461.7,189.9" fill="#2eae48" stroke="#2eae48" stroke-width="0.3"/>
<polygon points="414.7,196 415.6,195.7 415.9,195.4 416.2,195.1 416.4,194.8 416.3,194.5 415.9,194.2 415.4,193.9 415,193.5 414.7,193.2 414.3,192.9 414.1,192.6 413.9,192.3 413.8,192 413.8,192 413.6,192.3 413.4,192.6 413.2,192.9 412.8,193.2 412.5,193.5 412.1,193.9 411.6,194.2 411.2,194.5 411.1,194.8 411.3,195.1 411.6,195.4 411.9,195.7 412.8,196" fill="#1ca05a" stroke="#1ca05a" stroke-width="0.3"/>
<polygon points="440.1,196 440.8,195.7 441.1,195.4 441.4,195.1 441.6,194.8 441.7,194.5 441.4,194.2 440.9,193.9 440.5,193.5 440.2,193.2 439.8,192.9 439.6,192.6 439.4,192.3 439.2,192 439.2,192 439.1,192.3 438.9,192.6 438.7,192.9 438.3,193.2 438,193.5 437.6,193.9 437.1,194.2 436.8,194.5 436.9,194.8 437.1,195.1 437.4,195.4 437.7,195.7 438.4,196" fill="#1ca05a" stroke="#1ca05a" stroke-width="0.3"/>
<polygon points="414.4,202.1 415.1,201.8 415.4,201.6 415.6,201.3 415.7,201 415.4,200.7 415.1,200.5 414.8,200.2 414.6,199.9 414.3,199.6 414.1,199.4 414,199.1 413.8,198.8 413.8,198.5 413.8,198.5 413.7,198.8 413.5,199.1 413.4,199.4 413.2,199.6 412.9,199.9 412.7,200.2 412.4,200.5 412.1,200.7 411.8,201 411.9,201.3 412.1,201.6 412.4,201.8 413.1,202.1" fill="#1a9e62" stroke="#1a9e62" stroke-width="0.3"/>
<polygon points="440.9,202.1 442.2,201.8 442.8,201.5 443.2,201.2 443.6,200.8 443.9,200.5 443.2,200.2 442.4,199.9 441.7,199.5 441,199.2 440.4,198.9 439.9,198.6 439.5,198.2 439.2,197.9 439.2,197.9 439,198.2 438.6,198.6 438.1,198.9 437.5,199.2 436.8,199.5 436.1,199.9 435.3,200.2 434.6,200.5 434.9,200.8 435.3,201.2 435.7,201.5 436.3,201.8 437.6,202.1" fill="#1a9e62" stroke="#1a9e62" stroke-width="0.3"/>
<polygon points="417.6,214.4 421.6,214 423.2,213.7 424.5,213.4 423.5,213 421.9,212.7 420.4,212.4 419.1,212 417.8,211.7 416.6,211.4 415.6,211 414.8,210.7 414.1,210.4 413.8,210.1 413.8,210.1 413.4,210.4 412.7,210.7 411.9,211 410.9,211.4 409.7,211.7 408.4,212 407.1,212.4 405.6,212.7 404,213 403,213.4 404.3,213.7 405.9,214 409.9,214.4" fill="#14a070" stroke="#14a070" stroke-width="0.3"/>
<polygon points="441.7,214.4 444.1,214 445,213.6 445.8,213.2 446.2,212.8 445.1,212.4 444,212 443.1,211.7 442.1,211.3 441.3,210.9 440.6,210.5 440,210.1 439.5,209.7 439.2,209.4 439.2,209.4 439,209.7 438.5,210.1 437.9,210.5 437.2,210.9 436.4,211.3 435.4,211.7 434.5,212 433.4,212.4 432.3,212.8 432.7,213.2 433.5,213.6 434.4,214 436.8,214.4" fill="#14a070" stroke="#14a070" stroke-width="0.3"/>
<polygon points="468.1,214.4 470.2,213.9 471.1,213.5 471.8,213.1 472.3,212.7 472.8,212.3 473.3,211.9 473.7,211.4 474,211 473.7,210.6 472.9,210.2 471.4,209.8 469.1,209.4 465,209 465,209 460.9,209.4 458.6,209.8 457.1,210.2 456.3,210.6 456,211 456.3,211.4 456.7,211.9 457.2,212.3 457.7,212.7 458.2,213.1 458.9,213.5 459.8,213.9 461.9,214.4" fill="#14a070" stroke="#14a070" stroke-width="0.3"/>
<polygon points="414.9,220.5 415.8,220.2 416.2,219.8 416.6,219.5 416.8,219.2 416.7,218.9 416.2,218.6 415.7,218.3 415.2,218 414.8,217.7 414.4,217.4 414.1,217.1 413.9,216.8 413.8,216.5 413.8,216.5 413.6,216.8 413.4,217.1 413.1,217.4 412.7,217.7 412.3,218 411.8,218.3 411.3,218.6 410.8,218.9 410.7,219.2 410.9,219.5 411.3,219.8 411.7,220.2 412.6,220.5" fill="#14a07a" stroke="#14a07a" stroke-width="0.3"/>
<polygon points="440.5,220.5 441.4,220.1 441.8,219.8 442.1,219.4 442.4,219 442.6,218.7 442.6,218.3 441.9,218 441.3,217.6 440.7,217.3 440.2,216.9 439.8,216.6 439.4,216.2 439.2,215.9 439.2,215.9 439.1,216.2 438.7,216.6 438.3,216.9 437.8,217.3 437.2,217.6 436.6,218 435.9,218.3 435.9,218.7 436.1,219 436.4,219.4 436.7,219.8 437.1,220.1 438,220.5" fill="#14a07a" stroke="#14a07a" stroke-width="0.3"/>
<polygon points="416.7,226.6 419.4,226.3 420.5,226 421.4,225.7 421.9,225.4 420.6,225.1 419.3,224.8 418.2,224.5 417.1,224.2 416.2,223.9 415.3,223.7 414.6,223.4 414.1,223.1 413.8,222.8 413.8,222.8 413.4,223.1 412.9,223.4 412.2,223.7 411.3,223.9 410.4,224.2 409.3,224.5 408.2,224.8 406.9,225.1 405.6,225.4 406.1,225.7 407,226 408.1,226.3 410.8,226.6" fill="#1a9ab0" stroke="#1a9ab0" stroke-width="0.3"/>
<polygon points="443.1,226.6 446.5,226.3 447.8,225.9 448.9,225.6 449.8,225.3 449.4,225 447.5,224.6 445.8,224.3 444.3,224 442.8,223.7 441.6,223.3 440.5,223 439.7,222.7 439.2,222.4 439.2,222.4 438.8,222.7 438,223 436.9,223.3 435.7,223.7 434.2,224 432.7,224.3 431,224.6 429.1,225 428.7,225.3 429.6,225.6 430.7,225.9 432,226.3 435.4,226.6" fill="#1a9ab0" stroke="#1a9ab0" stroke-width="0.3"/>
<polygon points="414.3,232.7 414.8,232.5 415,232.2 415.1,232 415.2,231.8 415,231.5 414.8,231.3 414.6,231.1 414.4,230.8 414.2,230.6 414,230.4 413.9,230.2 413.8,229.9 413.8,229.7 413.8,229.7 413.7,229.9 413.6,230.2 413.5,230.4 413.3,230.6 413.1,230.8 412.9,231.1 412.7,231.3 412.5,231.5 412.3,231.8 412.4,232 412.5,232.2 412.7,232.5 413.2,232.7" fill="#1a92bc" stroke="#1a92bc" stroke-width="0.3"/>
<polygon points="440.2,232.7 440.9,232.4 441.1,232 441.4,231.7 441.6,231.4 441.7,231.1 441.8,230.8 441.2,230.4 440.8,230.1 440.3,229.8 440,229.5 439.6,229.1 439.4,228.8 439.2,228.5 439.2,228.5 439.1,228.8 438.9,229.1 438.5,229.5 438.2,229.8 437.7,230.1 437.3,230.4 436.7,230.8 436.8,231.1 436.9,231.4 437.1,231.7 437.4,232 437.6,232.4 438.3,232.7" fill="#1a92bc" stroke="#1a92bc" stroke-width="0.3"/>
<polygon points="417.7,238.8 421.2,238.5 422.7,238.1 423.8,237.7 424.7,237.4 424.3,237 422.3,236.7 420.6,236.3 418.9,236 417.5,235.6 416.2,235.3 415.1,234.9 414.2,234.6 413.8,234.2 413.8,234.2 413.3,234.6 412.4,234.9 411.3,235.3 410,235.6 408.6,236 406.9,236.3 405.2,236.7 403.2,237 402.8,237.4 403.7,237.7 404.8,238.1 406.3,238.5 409.8,238.8" fill="#1f86c8" stroke="#1f86c8" stroke-width="0.3"/>
<polygon points="443.1,238.8 446.1,238.4 447.3,238 448.2,237.6 449,237.1 449.7,236.7 449.9,236.3 447.7,235.9 445.7,235.5 443.9,235.1 442.2,234.7 440.9,234.2 439.8,233.8 439.2,233.4 439.2,233.4 438.7,233.8 437.6,234.2 436.3,234.7 434.6,235.1 432.8,235.5 430.8,235.9 428.6,236.3 428.8,236.7 429.5,237.1 430.3,237.6 431.2,238 432.4,238.4 435.4,238.8" fill="#1f86c8" stroke="#1f86c8" stroke-width="0.3"/>
<polygon points="414.7,275.5 415.9,275.1 416.3,274.7 416,274.3 415.7,273.9 415.4,273.5 415.1,273.1 414.8,272.7 414.5,272.3 414.3,271.9 414.1,271.5 414,271.1 413.8,270.7 413.8,270.3 413.8,270.3 413.7,270.7 413.5,271.1 413.4,271.5 413.2,271.9 413,272.3 412.7,272.7 412.4,273.1 412.1,273.5 411.8,273.9 411.5,274.3 411.2,274.7 411.6,275.1 412.8,275.5" fill="#d04080" stroke="#d04080" stroke-width="0.3"/>
<line x1="404.8" y1="275.2" x2="422.8" y2="275.2" stroke="#a04070" stroke-width="0.5"/>
<line x1="413.8" y1="268.9" x2="413.8" y2="273" stroke="#c06090" stroke-width="0.5"/>
<line x1="413.8" y1="148.6" x2="413.8" y2="281.1" stroke="#bbb" stroke-width="0.4" stroke-dasharray="2 3"/>
<line x1="439.2" y1="148.6" x2="439.2" y2="281.1" stroke="#bbb" stroke-width="0.4" stroke-dasharray="2 3"/>
<line x1="465" y1="148.6" x2="465" y2="281.1" stroke="#bbb" stroke-width="0.4" stroke-dasharray="2 3"/>
<rect x="398.6" y="147.6" width="81.4" height="134.5" fill="none" stroke="#231f20" stroke-width="0.9"/>
<text font-size="7.07" transform="translate(482.5 152.9) scale(0.877 1)" stroke="#161616" stroke-width="0.05">CD19</text>
<line x1="395.8" y1="153.4" x2="398.6" y2="153.4" stroke="#262626" stroke-width="0.7"/>
<line x1="395.8" y1="148.4" x2="398.6" y2="148.4" stroke="#262626" stroke-width="0.7"/>
<text font-size="6" text-anchor="middle" transform="translate(392.6 149.9) rotate(-90) scale(0.7 1)" stroke="#161616" stroke-width="0.05">1</text>
<text font-size="7.07" transform="translate(482.5 159) scale(0.877 1)" stroke="#161616" stroke-width="0.05">MS4A1</text>
<line x1="395.8" y1="159.5" x2="398.6" y2="159.5" stroke="#262626" stroke-width="0.7"/>
<line x1="395.8" y1="154.5" x2="398.6" y2="154.5" stroke="#262626" stroke-width="0.7"/>
<text font-size="6" text-anchor="middle" transform="translate(392.6 156) rotate(-90) scale(0.7 1)" stroke="#161616" stroke-width="0.05">2</text>
<text font-size="7.07" transform="translate(482.5 165.1) scale(0.877 1)" stroke="#161616" stroke-width="0.05">CD38</text>
<line x1="395.8" y1="165.6" x2="398.6" y2="165.6" stroke="#262626" stroke-width="0.7"/>
<line x1="395.8" y1="160.6" x2="398.6" y2="160.6" stroke="#262626" stroke-width="0.7"/>
<text font-size="6" text-anchor="middle" transform="translate(392.6 162.1) rotate(-90) scale(0.7 1)" stroke="#161616" stroke-width="0.05">2</text>
<text font-size="7.07" transform="translate(482.5 171.2) scale(0.877 1)" stroke="#161616" stroke-width="0.05">SDC1</text>
<line x1="395.8" y1="171.8" x2="398.6" y2="171.8" stroke="#262626" stroke-width="0.7"/>
<line x1="395.8" y1="166.7" x2="398.6" y2="166.7" stroke="#262626" stroke-width="0.7"/>
<text font-size="6" text-anchor="middle" transform="translate(392.6 168.2) rotate(-90) scale(0.7 1)" stroke="#161616" stroke-width="0.05">2</text>
<text font-size="7.07" transform="translate(482.5 177.3) scale(0.877 1)" stroke="#161616" stroke-width="0.05">CD27</text>
<line x1="395.8" y1="177.9" x2="398.6" y2="177.9" stroke="#262626" stroke-width="0.7"/>
<line x1="395.8" y1="172.9" x2="398.6" y2="172.9" stroke="#262626" stroke-width="0.7"/>
<text font-size="6" text-anchor="middle" transform="translate(392.6 174.3) rotate(-90) scale(0.7 1)" stroke="#161616" stroke-width="0.05">2</text>
<text font-size="7.07" transform="translate(482.5 183.4) scale(0.877 1)" stroke="#161616" stroke-width="0.05">TNFRSF17</text>
<line x1="395.8" y1="184" x2="398.6" y2="184" stroke="#262626" stroke-width="0.7"/>
<line x1="395.8" y1="179" x2="398.6" y2="179" stroke="#262626" stroke-width="0.7"/>
<text font-size="6" text-anchor="middle" transform="translate(392.6 180.4) rotate(-90) scale(0.7 1)" stroke="#161616" stroke-width="0.05">2</text>
<text font-size="7.07" transform="translate(482.5 189.5) scale(0.877 1)" stroke="#161616" stroke-width="0.05">CD99</text>
<line x1="395.8" y1="190.1" x2="398.6" y2="190.1" stroke="#262626" stroke-width="0.7"/>
<line x1="395.8" y1="185.1" x2="398.6" y2="185.1" stroke="#262626" stroke-width="0.7"/>
<text font-size="6" text-anchor="middle" transform="translate(392.6 186.5) rotate(-90) scale(0.7 1)" stroke="#161616" stroke-width="0.05">2</text>
<text font-size="7.07" transform="translate(482.5 195.7) scale(0.877 1)" stroke="#161616" stroke-width="0.05">GPRC5D</text>
<line x1="395.8" y1="196.2" x2="398.6" y2="196.2" stroke="#262626" stroke-width="0.7"/>
<line x1="395.8" y1="191.2" x2="398.6" y2="191.2" stroke="#262626" stroke-width="0.7"/>
<text font-size="6" text-anchor="middle" transform="translate(392.6 192.7) rotate(-90) scale(0.7 1)" stroke="#161616" stroke-width="0.05">2</text>
<text font-size="7.07" transform="translate(482.5 201.8) scale(0.877 1)" stroke="#161616" stroke-width="0.05">ITGB7</text>
<line x1="395.8" y1="202.3" x2="398.6" y2="202.3" stroke="#262626" stroke-width="0.7"/>
<line x1="395.8" y1="197.3" x2="398.6" y2="197.3" stroke="#262626" stroke-width="0.7"/>
<text font-size="6" text-anchor="middle" transform="translate(392.6 198.8) rotate(-90) scale(0.7 1)" stroke="#161616" stroke-width="0.05">2</text>
<text font-size="7.07" transform="translate(482.5 207.9) scale(0.877 1)" stroke="#161616" stroke-width="0.05">LAMP5</text>
<line x1="395.8" y1="208.4" x2="398.6" y2="208.4" stroke="#262626" stroke-width="0.7"/>
<line x1="395.8" y1="203.4" x2="398.6" y2="203.4" stroke="#262626" stroke-width="0.7"/>
<text font-size="6" text-anchor="middle" transform="translate(392.6 204.9) rotate(-90) scale(0.7 1)" stroke="#161616" stroke-width="0.05">1.5</text>
<text font-size="7.07" transform="translate(482.5 214) scale(0.877 1)" stroke="#161616" stroke-width="0.05">CXCR4</text>
<line x1="395.8" y1="214.6" x2="398.6" y2="214.6" stroke="#262626" stroke-width="0.7"/>
<line x1="395.8" y1="209.5" x2="398.6" y2="209.5" stroke="#262626" stroke-width="0.7"/>
<text font-size="6" text-anchor="middle" transform="translate(392.6 211) rotate(-90) scale(0.7 1)" stroke="#161616" stroke-width="0.05">2</text>
<text font-size="7.07" transform="translate(482.5 220.1) scale(0.877 1)" stroke="#161616" stroke-width="0.05">FRZB</text>
<line x1="395.8" y1="220.7" x2="398.6" y2="220.7" stroke="#262626" stroke-width="0.7"/>
<line x1="395.8" y1="215.7" x2="398.6" y2="215.7" stroke="#262626" stroke-width="0.7"/>
<text font-size="6" text-anchor="middle" transform="translate(392.6 217.1) rotate(-90) scale(0.7 1)" stroke="#161616" stroke-width="0.05">2</text>
<text font-size="7.07" transform="translate(482.5 226.2) scale(0.877 1)" stroke="#161616" stroke-width="0.05">CD79A</text>
<line x1="395.8" y1="226.8" x2="398.6" y2="226.8" stroke="#262626" stroke-width="0.7"/>
<line x1="395.8" y1="221.8" x2="398.6" y2="221.8" stroke="#262626" stroke-width="0.7"/>
<text font-size="6" text-anchor="middle" transform="translate(392.6 223.2) rotate(-90) scale(0.7 1)" stroke="#161616" stroke-width="0.05">2</text>
<text font-size="7.07" transform="translate(482.5 232.3) scale(0.877 1)" stroke="#161616" stroke-width="0.05">CD79B</text>
<line x1="395.8" y1="232.9" x2="398.6" y2="232.9" stroke="#262626" stroke-width="0.7"/>
<line x1="395.8" y1="227.9" x2="398.6" y2="227.9" stroke="#262626" stroke-width="0.7"/>
<text font-size="6" text-anchor="middle" transform="translate(392.6 229.3) rotate(-90) scale(0.7 1)" stroke="#161616" stroke-width="0.05">2</text>
<text font-size="7.07" transform="translate(482.5 238.4) scale(0.877 1)" stroke="#161616" stroke-width="0.05">CCND1</text>
<line x1="395.8" y1="239" x2="398.6" y2="239" stroke="#262626" stroke-width="0.7"/>
<line x1="395.8" y1="234" x2="398.6" y2="234" stroke="#262626" stroke-width="0.7"/>
<text font-size="6" text-anchor="middle" transform="translate(392.6 235.4) rotate(-90) scale(0.7 1)" stroke="#161616" stroke-width="0.05">4</text>
<text font-size="7.07" transform="translate(482.5 244.6) scale(0.877 1)" stroke="#161616" stroke-width="0.05">CCND2</text>
<line x1="395.8" y1="245.1" x2="398.6" y2="245.1" stroke="#262626" stroke-width="0.7"/>
<line x1="395.8" y1="240.1" x2="398.6" y2="240.1" stroke="#262626" stroke-width="0.7"/>
<text font-size="6" text-anchor="middle" transform="translate(392.6 241.6) rotate(-90) scale(0.7 1)" stroke="#161616" stroke-width="0.05">1.5</text>
<text font-size="7.07" transform="translate(482.5 250.7) scale(0.877 1)" stroke="#161616" stroke-width="0.05">CCND3</text>
<line x1="395.8" y1="251.2" x2="398.6" y2="251.2" stroke="#262626" stroke-width="0.7"/>
<line x1="395.8" y1="246.2" x2="398.6" y2="246.2" stroke="#262626" stroke-width="0.7"/>
<text font-size="6" text-anchor="middle" transform="translate(392.6 247.7) rotate(-90) scale(0.7 1)" stroke="#161616" stroke-width="0.05">1.5</text>
<text font-size="7.07" transform="translate(482.5 256.8) scale(0.877 1)" stroke="#161616" stroke-width="0.05">MAF</text>
<line x1="395.8" y1="257.3" x2="398.6" y2="257.3" stroke="#262626" stroke-width="0.7"/>
<line x1="395.8" y1="252.3" x2="398.6" y2="252.3" stroke="#262626" stroke-width="0.7"/>
<text font-size="6" text-anchor="middle" transform="translate(392.6 253.8) rotate(-90) scale(0.7 1)" stroke="#161616" stroke-width="0.05">2</text>
<text font-size="7.07" transform="translate(482.5 262.9) scale(0.877 1)" stroke="#161616" stroke-width="0.05">MAFB</text>
<line x1="395.8" y1="263.5" x2="398.6" y2="263.5" stroke="#262626" stroke-width="0.7"/>
<line x1="395.8" y1="258.4" x2="398.6" y2="258.4" stroke="#262626" stroke-width="0.7"/>
<text font-size="6" text-anchor="middle" transform="translate(392.6 259.9) rotate(-90) scale(0.7 1)" stroke="#161616" stroke-width="0.05">2</text>
<text font-size="7.07" transform="translate(482.5 269) scale(0.877 1)" stroke="#161616" stroke-width="0.05">NSD2</text>
<line x1="395.8" y1="269.6" x2="398.6" y2="269.6" stroke="#262626" stroke-width="0.7"/>
<line x1="395.8" y1="264.6" x2="398.6" y2="264.6" stroke="#262626" stroke-width="0.7"/>
<text font-size="6" text-anchor="middle" transform="translate(392.6 266) rotate(-90) scale(0.7 1)" stroke="#161616" stroke-width="0.05">2</text>
<text font-size="7.07" transform="translate(482.5 275.1) scale(0.877 1)" stroke="#161616" stroke-width="0.05">MYC</text>
<line x1="395.8" y1="275.7" x2="398.6" y2="275.7" stroke="#262626" stroke-width="0.7"/>
<line x1="395.8" y1="270.7" x2="398.6" y2="270.7" stroke="#262626" stroke-width="0.7"/>
<text font-size="6" text-anchor="middle" transform="translate(392.6 272.1) rotate(-90) scale(0.7 1)" stroke="#161616" stroke-width="0.05">2</text>
<text font-size="7.07" transform="translate(482.5 281.2) scale(0.877 1)" stroke="#161616" stroke-width="0.05">MYD88</text>
<line x1="395.8" y1="281.8" x2="398.6" y2="281.8" stroke="#262626" stroke-width="0.7"/>
<line x1="395.8" y1="276.8" x2="398.6" y2="276.8" stroke="#262626" stroke-width="0.7"/>
<text font-size="6" text-anchor="middle" transform="translate(392.6 278.2) rotate(-90) scale(0.7 1)" stroke="#161616" stroke-width="0.05">1.2</text>
<text font-size="7" text-anchor="middle" transform="translate(377 213) rotate(-90) scale(0.78 1)" stroke="#161616" stroke-width="0.05">Expression level</text>
<line x1="413.8" y1="282.1" x2="413.8" y2="284.1" stroke="#262626" stroke-width="0.6"/>
<text font-size="6.5" text-anchor="end" transform="translate(414.8 292.3) rotate(-30) scale(0.877 1)" stroke="#161616" stroke-width="0.05">Subclone 1</text>
<line x1="439.2" y1="282.1" x2="439.2" y2="284.1" stroke="#262626" stroke-width="0.6"/>
<text font-size="6.5" text-anchor="end" transform="translate(440.2 292.3) rotate(-30) scale(0.877 1)" stroke="#161616" stroke-width="0.05">Subclone 2</text>
<line x1="465" y1="282.1" x2="465" y2="284.1" stroke="#262626" stroke-width="0.6"/>
<text font-size="6.5" text-anchor="end" transform="translate(466 292.3) rotate(-30) scale(0.877 1)" stroke="#161616" stroke-width="0.05">TME</text>
<text font-size="10.4" font-weight="bold" fill="#000" x="7.4" y="332.3" stroke="#000" stroke-width="0.05">F</text>
<rect x="77.2" y="333.6" width="60.8" height="8" fill="#1ea0dc"/>
<rect x="146.4" y="333.6" width="60.6" height="8" fill="#0f6e38"/>
<text font-size="6.84" text-anchor="middle" fill="#fff" transform="translate(107.6 340) scale(0.877 1)">Subclone 1</text>
<text font-size="6.84" text-anchor="middle" fill="#fff" transform="translate(176.7 340) scale(0.877 1)">Subclone 2</text>
<text font-size="6" transform="translate(12.7 353.8) scale(1 1)" stroke="#161616" stroke-width="0.05">MHC protein complex</text>
<text font-size="6" transform="translate(12.7 367.2) scale(1 1)" stroke="#161616" stroke-width="0.05">Integral component of</text>
<text font-size="6" transform="translate(12.7 373.2) scale(1 1)" stroke="#161616" stroke-width="0.05">lumenal side of</text>
<text font-size="6" transform="translate(12.7 379.2) scale(1 1)" stroke="#161616" stroke-width="0.05">endoplasmic</text>
<text font-size="6" transform="translate(12.7 385.2) scale(1 1)" stroke="#161616" stroke-width="0.05">reticulum membrane</text>
<text font-size="6" transform="translate(12.7 395.6) scale(1 1)" stroke="#161616" stroke-width="0.05">Lumenal side of</text>
<text font-size="6" transform="translate(12.7 401.6) scale(1 1)" stroke="#161616" stroke-width="0.05">membrane</text>
<text font-size="6" transform="translate(12.7 414.9) scale(1 1)" stroke="#161616" stroke-width="0.05">Endoplasmic reticulum</text>
<text font-size="6" transform="translate(12.7 420.9) scale(1 1)" stroke="#161616" stroke-width="0.05">protein-containing</text>
<text font-size="6" transform="translate(12.7 426.9) scale(1 1)" stroke="#161616" stroke-width="0.05">complex</text>
<text font-size="6" transform="translate(12.7 440.3) scale(1 1)" stroke="#161616" stroke-width="0.05">Phagocytosis,</text>
<text font-size="6" transform="translate(12.7 446.3) scale(1 1)" stroke="#161616" stroke-width="0.05">engulfment</text>
<text font-size="6" transform="translate(12.7 462.9) scale(1 1)" stroke="#161616" stroke-width="0.05">Endoplasmic</text>
<text font-size="6" transform="translate(12.7 468.9) scale(1 1)" stroke="#161616" stroke-width="0.05">reticulum</text>
<text font-size="6" transform="translate(12.7 485.5) scale(1 1)" stroke="#161616" stroke-width="0.05">Membrane</text>
<text font-size="6" transform="translate(12.7 491.5) scale(1 1)" stroke="#161616" stroke-width="0.05">invagination</text>
<text font-size="6" transform="translate(12.7 511) scale(1 1)" stroke="#161616" stroke-width="0.05">Cell recognition</text>
<text font-size="6" transform="translate(12.7 530.5) scale(1 1)" stroke="#161616" stroke-width="0.05">Response to</text>
<text font-size="6" transform="translate(12.7 536.5) scale(1 1)" stroke="#161616" stroke-width="0.05">bacterium</text>
<text font-size="6" transform="translate(12.7 555.9) scale(1 1)" stroke="#161616" stroke-width="0.05">Endocytosis</text>
<line x1="77.5" y1="341.6" x2="77.5" y2="564" stroke="#262626" stroke-width="1.1"/>
<line x1="146.6" y1="341.6" x2="146.6" y2="564" stroke="#262626" stroke-width="1.2"/>
<line x1="74.2" y1="351.5" x2="77.5" y2="351.5" stroke="#262626" stroke-width="0.9"/>
<line x1="74.2" y1="374.5" x2="77.5" y2="374.5" stroke="#262626" stroke-width="0.9"/>
<line x1="74.2" y1="396.5" x2="77.5" y2="396.5" stroke="#262626" stroke-width="0.9"/>
<line x1="74.2" y1="418.5" x2="77.5" y2="418.5" stroke="#262626" stroke-width="0.9"/>
<line x1="74.2" y1="441.5" x2="77.5" y2="441.5" stroke="#262626" stroke-width="0.9"/>
<line x1="74.2" y1="463.5" x2="77.5" y2="463.5" stroke="#262626" stroke-width="0.9"/>
<line x1="74.2" y1="486.5" x2="77.5" y2="486.5" stroke="#262626" stroke-width="0.9"/>
<line x1="74.2" y1="508.5" x2="77.5" y2="508.5" stroke="#262626" stroke-width="0.9"/>
<line x1="74.2" y1="531.5" x2="77.5" y2="531.5" stroke="#262626" stroke-width="0.9"/>
<line x1="74.2" y1="553.5" x2="77.5" y2="553.5" stroke="#262626" stroke-width="0.9"/>
<line x1="77" y1="563.6" x2="137.5" y2="563.6" stroke="#262626" stroke-width="1.1"/>
<line x1="146" y1="563.6" x2="207.5" y2="563.6" stroke="#262626" stroke-width="1.1"/>
<line x1="87.5" y1="564" x2="87.5" y2="566.5" stroke="#262626" stroke-width="0.9"/>
<text font-size="6.84" text-anchor="middle" transform="translate(87.6 573.8) scale(0.877 1)" stroke="#161616" stroke-width="0.05">0.2</text>
<line x1="155.5" y1="564" x2="155.5" y2="566.5" stroke="#262626" stroke-width="0.9"/>
<text font-size="6.84" text-anchor="middle" transform="translate(155.6 573.8) scale(0.877 1)" stroke="#161616" stroke-width="0.05">0.2</text>
<line x1="103.5" y1="564" x2="103.5" y2="566.5" stroke="#262626" stroke-width="0.9"/>
<text font-size="6.84" text-anchor="middle" transform="translate(103 573.8) scale(0.877 1)" stroke="#161616" stroke-width="0.05">0.4</text>
<line x1="171.5" y1="564" x2="171.5" y2="566.5" stroke="#262626" stroke-width="0.9"/>
<text font-size="6.84" text-anchor="middle" transform="translate(171.2 573.8) scale(0.877 1)" stroke="#161616" stroke-width="0.05">0.4</text>
<line x1="118.5" y1="564" x2="118.5" y2="566.5" stroke="#262626" stroke-width="0.9"/>
<text font-size="6.84" text-anchor="middle" transform="translate(118.4 573.8) scale(0.877 1)" stroke="#161616" stroke-width="0.05">0.6</text>
<line x1="186.5" y1="564" x2="186.5" y2="566.5" stroke="#262626" stroke-width="0.9"/>
<text font-size="6.84" text-anchor="middle" transform="translate(186.8 573.8) scale(0.877 1)" stroke="#161616" stroke-width="0.05">0.6</text>
<line x1="133.5" y1="564" x2="133.5" y2="566.5" stroke="#262626" stroke-width="0.9"/>
<text font-size="6.84" text-anchor="middle" transform="translate(133.8 573.8) scale(0.877 1)" stroke="#161616" stroke-width="0.05">0.8</text>
<line x1="202.5" y1="564" x2="202.5" y2="566.5" stroke="#262626" stroke-width="0.9"/>
<text font-size="6.84" text-anchor="middle" transform="translate(202.4 573.8) scale(0.877 1)" stroke="#161616" stroke-width="0.05">0.8</text>
<circle cx="93.1" cy="441.2" r="0.9" fill="#3a3aa0"/>
<circle cx="90.2" cy="486.4" r="0.9" fill="#2a2a90"/>
<circle cx="88.7" cy="508.9" r="0.9" fill="#3a3aa0"/>
<circle cx="85" cy="531.4" r="1.4" fill="#2a2aa0"/>
<circle cx="80.1" cy="553.8" r="1.1" fill="#8a1a30"/>
<circle cx="204.1" cy="351.7" r="1.0" fill="#d8202a"/>
<circle cx="190.3" cy="374.1" r="1.0" fill="#d8202a"/>
<circle cx="183.4" cy="396.5" r="1.0" fill="#d8202a"/>
<circle cx="171" cy="418.8" r="1.0" fill="#d8202a"/>
<circle cx="159.7" cy="463.8" r="2.4" fill="#d8202a"/>
<text font-size="6.84" transform="translate(97.5 589) scale(0.877 1)" stroke="#161616" stroke-width="0.05">Count</text>
<circle cx="100" cy="593.8" r="1.35" fill="#000"/>
<text font-size="6.84" transform="translate(105.5 595.9) scale(0.877 1)" stroke="#161616" stroke-width="0.05">40</text>
<circle cx="100" cy="601" r="1.7" fill="#000"/>
<text font-size="6.84" transform="translate(105.5 603.1) scale(0.877 1)" stroke="#161616" stroke-width="0.05">80</text>
<circle cx="100" cy="608.2" r="2.0" fill="#000"/>
<text font-size="6.84" transform="translate(105.5 610.3) scale(0.877 1)" stroke="#161616" stroke-width="0.05">120</text>
<circle cx="100" cy="615.4" r="2.3" fill="#000"/>
<text font-size="6.84" transform="translate(105.5 617.5) scale(0.877 1)" stroke="#161616" stroke-width="0.05">160</text>
<text x="160" y="589" font-size="6"><tspan font-style="italic">P</tspan>.adjust</text>
<defs><linearGradient id="padj" x1="0" x2="0" y1="0" y2="1"><stop offset="0" stop-color="#4848a8"/><stop offset="0.35" stop-color="#8a38a0"/><stop offset="0.65" stop-color="#d02070"/><stop offset="1" stop-color="#e80a30"/></linearGradient></defs>
<rect x="161" y="594.8" width="4.5" height="25.2" fill="url(#padj)"/>
<text font-size="6.84" transform="translate(168.8 597.8) scale(0.877 1)" stroke="#161616" stroke-width="0.05">.00100</text>
<text font-size="6.84" transform="translate(168.8 603.9) scale(0.877 1)" stroke="#161616" stroke-width="0.05">.00075</text>
<text font-size="6.84" transform="translate(168.8 610) scale(0.877 1)" stroke="#161616" stroke-width="0.05">.00050</text>
<text font-size="6.84" transform="translate(168.8 616.1) scale(0.877 1)" stroke="#161616" stroke-width="0.05">.00025</text>
<text font-size="10.4" font-weight="bold" fill="#000" x="229.5" y="332.3" stroke="#000" stroke-width="0.05">G</text>
<line x1="257.5" y1="336" x2="257.5" y2="392.6" stroke="#262626" stroke-width="1.15"/>
<line x1="255.5" y1="345.5" x2="257.5" y2="345.5" stroke="#262626" stroke-width="0.9"/>
<text font-size="7.18" text-anchor="end" transform="translate(253 348) scale(0.877 1)" stroke="#161616" stroke-width="0.05">5</text>
<line x1="255.5" y1="357.5" x2="257.5" y2="357.5" stroke="#262626" stroke-width="0.9"/>
<text font-size="7.18" text-anchor="end" transform="translate(253 359.2) scale(0.877 1)" stroke="#161616" stroke-width="0.05">0</text>
<line x1="255.5" y1="368.5" x2="257.5" y2="368.5" stroke="#262626" stroke-width="0.9"/>
<text font-size="7.18" text-anchor="end" transform="translate(253 370.4) scale(0.877 1)" stroke="#161616" stroke-width="0.05">−5</text>
<line x1="255.5" y1="379.5" x2="257.5" y2="379.5" stroke="#262626" stroke-width="0.9"/>
<text font-size="7.18" text-anchor="end" transform="translate(253 381.6) scale(0.877 1)" stroke="#161616" stroke-width="0.05">−10</text>
<line x1="255.5" y1="390.5" x2="257.5" y2="390.5" stroke="#262626" stroke-width="0.9"/>
<text font-size="7.18" text-anchor="end" transform="translate(253 392.8) scale(0.877 1)" stroke="#161616" stroke-width="0.05">−15</text>
<line x1="257.1" y1="392.5" x2="330.4" y2="392.5" stroke="#262626" stroke-width="1.15"/>
<line x1="258.5" y1="392.5" x2="258.5" y2="394.5" stroke="#262626" stroke-width="0.9"/>
<text font-size="7.18" text-anchor="middle" transform="translate(258.8 403.6) scale(0.877 1)" stroke="#161616" stroke-width="0.05">−10</text>
<line x1="269.5" y1="392.5" x2="269.5" y2="394.5" stroke="#262626" stroke-width="0.9"/>
<text font-size="7.18" text-anchor="middle" transform="translate(269.7 403.6) scale(0.877 1)" stroke="#161616" stroke-width="0.05">−5</text>
<line x1="280.5" y1="392.5" x2="280.5" y2="394.5" stroke="#262626" stroke-width="0.9"/>
<text font-size="7.18" text-anchor="middle" transform="translate(280.6 403.6) scale(0.877 1)" stroke="#161616" stroke-width="0.05">0</text>
<line x1="291.5" y1="392.5" x2="291.5" y2="394.5" stroke="#262626" stroke-width="0.9"/>
<text font-size="7.18" text-anchor="middle" transform="translate(291.5 403.6) scale(0.877 1)" stroke="#161616" stroke-width="0.05">5</text>
<line x1="302.5" y1="392.5" x2="302.5" y2="394.5" stroke="#262626" stroke-width="0.9"/>
<text font-size="7.18" text-anchor="middle" transform="translate(302.4 403.6) scale(0.877 1)" stroke="#161616" stroke-width="0.05">10</text>
<line x1="313.5" y1="392.5" x2="313.5" y2="394.5" stroke="#262626" stroke-width="0.9"/>
<text font-size="7.18" text-anchor="middle" transform="translate(313.3 403.6) scale(0.877 1)" stroke="#161616" stroke-width="0.05">15</text>
<line x1="324.5" y1="392.5" x2="324.5" y2="394.5" stroke="#262626" stroke-width="0.9"/>
<text font-size="7.18" text-anchor="middle" transform="translate(324.2 403.6) scale(0.877 1)" stroke="#161616" stroke-width="0.05">20</text>
<path transform="scale(.1)" d="M2925 3689h0m21 19h0m-6 49h0m-22 27h0m3 6h0m3-3h0m14-22h0m-45 45h0m-4 10h0m-5-7h0m-7-9h0m-4 11h0m-15 12h0m-33 21h0" stroke="#f0be96" stroke-width="12" stroke-linecap="round" stroke-opacity="0.95" fill="none"/>
<path transform="scale(.1)" d="M3003 3551h0m39 10h0m-31 3h0m-2 0h0m-8-4h0m-36 10h0" stroke="#bedc96" stroke-width="12" stroke-linecap="round" stroke-opacity="0.95" fill="none"/>
<path transform="scale(.1)" d="M2828 3638h0m7-4h0m3 2h0m3-11h0m6 0h0m2-6h0m-20 29h0m-2 0h0m-11-2h0m0-1h0m0 18h0m-4-3h0m0-7h0m-2 2h0m0-6h0m-1 29h0m-3-27h0m-1 6h0m0 21h0m-3-23h0m-1-9h0m-1 21h0m-1-9h0m-2 11h0m-1-9h0m0 5h0m-1 10h0m-2-13h0m-1 6h0m-5-6h0m-1 6h0m0-4h0m-3 13h0m-8-18h0m-3 16h0m-10 2h0m-4-5h0m12 19h0m0-7h0m6 14h0m17-17h0" stroke="#e65a32" stroke-width="12" stroke-linecap="round" stroke-opacity="0.95" fill="none"/>
<path transform="scale(.1)" d="M2772 3594h0m-56 4h0m-32 0h0m-32 15h0m7 7h0m1 3h0m3 13h0m1-19h0m5 11h0m4-8h0m3 3h0m4-3h0m6-6h0m0 16h0m2-5h0m3 0h0m1 6h0m2-9h0m2-4h0m0 10h0m0-16h0m6 23h0m0-13h0m0-12h0m1 15h0m1 6h0m2-29h0m1 15h0m0 22h0m1-9h0m0 6h0m1-21h0m1 2h0m1 14h0m0 3h0m2-8h0m0-7h0m0-12h0m1 20h0m0 9h0m1-4h0m0-3h0m0-10h0m5 2h0m1-3h0m1 1h0m1 2h0m0 5h0m1-10h0m2 9h0m0-13h0m1-1h0m0 18h0m1-11h0m0 10h0m0-10h0m1 4h0m0-22h0m3 10h0m1 22h0m0-9h0m0-1h0m1-16h0m1-4h0m0 13h0m0 20h0m2-26h0m2-9h0m0 39h0m0-14h0m1 4h0m0-9h0m1-13h0m1 27h0m1-17h0m0-6h0m0 16h0m1-10h0m0 6h0m1-8h0m0 1h0m1 13h0m1-3h0m0 5h0m0-23h0m1-1h0m0 23h0m3-3h0m0-20h0m0 24h0m1-21h0m1 3h0m1 22h0m0-11h0m0 4h0m0-4h0m0-11h0m0 15h0m2-14h0m1-1h0m0 10h0m0 9h0m1-31h0m0 28h0m1-12h0m0 16h0m2-15h0m1 16h0m0-16h0m1 9h0m0-4h0m1-19h0m0 24h0m0-16h0m1 17h0m1-6h0m0 13h0m1-22h0m0 6h0m2-4h0m1 2h0m3-2h0m0 4h0m0-12h0m1 6h0m0 1h0m0-4h0m1-3h0m0 7h0m1-13h0m0 13h0m1 2h0m0-2h0m1 20h0m1-23h0m1 10h0m1-15h0m4-1h0m0 13h0m4 8h0m0-22h0m1 4h0m1 4h0m1-1h0m0-4h0m1 2h0m3-2h0m2 0h0m1 1h0m0-3h0m1 13h0m3-8h0m8-2h0m1 6h0m2-12h0m1 2h0m3 0h0m1-1h0m2 10h0m1-9h0m0 4h0m20-6h0m-100 40h0m-10-3h0m-2 12h0m-10-10h0m-26 15h0m0-9h0" stroke="#e63c28" stroke-width="12" stroke-linecap="round" stroke-opacity="0.95" fill="none"/>
<path transform="scale(.1)" d="M3003 3470h0m2-9h0m13 10h0m7-4h0m5-8h0m2 5h0m7-7h0m-34 26h0m-8 21h0m-4-19h0m-2 5h0m-1-3h0m-2 21h0m-4-9h0m-1 5h0m-1 4h0m-3-13h0m-1 9h0m0-5h0m0-8h0m-2 24h0m-2-17h0m-1 9h0m-2 5h0m-3-2h0m-49 49h0m4-4h0m10-6h0m3 10h0m3-11h0m1-11h0m1 8h0m3-13h0m2 6h0m1 1h0m4-11h0m1 7h0m3-1h0m1-2h0m11-7h0m3-1h0m-47 40h0m-2-4h0m-15 16h0" stroke="#82c88c" stroke-width="12" stroke-linecap="round" stroke-opacity="0.95" fill="none"/>
<path transform="scale(.1)" d="M2691 3499h0m-3 19h0m-1 0h0m0-7h0m-3 7h0m-12-7h0m-23-3h0m10 43h0m1-22h0m4-6h0m0 11h0m3 10h0m2 1h0m0-23h0m2 15h0m0 4h0m0 4h0m0-14h0m2 3h0m2 13h0m5-23h0m1 14h0m1 2h0m0-4h0m2 5h0m3-14h0m0 17h0m3 4h0m0-8h0m2 11h0m2 0h0m1 4h0m1-6h0m1 1h0m0-15h0m0 8h0m1 13h0m2-23h0m0 12h0m0-17h0m0 5h0m1 7h0m0 0h0m1 10h0m0 8h0m0 0h0m1-4h0m0-7h0m0-18h0m1 9h0m0 21h0m1-18h0m0-11h0m1 24h0m1-9h0m1-3h0m1-8h0m0 8h0m0-6h0m0-5h0m3 20h0m0-28h0m1 36h0m0-6h0m0-7h0m1 4h0m0 0h0m1 5h0m1 1h0m1-12h0m1 1h0m1 0h0m0 9h0m0-19h0m1 5h0m3 14h0m0-3h0m0 4h0m0-24h0m1 20h0m0-3h0m0-13h0m1 15h0m0-4h0m0-9h0m1-17h0m1 12h0m0 21h0m1-4h0m0-10h0m0 13h0m0-7h0m0-7h0m1-1h0m1 22h0m1-14h0m0-20h0m1 24h0m0-11h0m2 5h0m0 10h0m0 1h0m1-8h0m1-10h0m1 3h0m0 20h0m2-11h0m2-8h0m0 4h0m0 12h0m2-7h0m0-8h0m0 5h0m1 1h0m1-8h0m1 5h0m0 8h0m1 1h0m0-10h0m0 16h0m2-17h0m1 9h0m0 3h0m1-7h0m0-3h0m1 10h0m2 2h0m0 3h0m2-5h0m2-8h0m0 10h0m1-5h0m0-24h0m11 25h0m2 7h0m1-6h0m4 5h0m1-2h0m6-2h0m3 1h0m1 4h0m1-3h0m7 3h0m70 29h0m-4 2h0m-2-2h0m-8-2h0m-13-4h0m-2-4h0m-2 8h0m-5-7h0m-6 6h0m-9-8h0m-1-4h0m-4-4h0m-1-4h0m-2 6h0m0 0h0m-1 0h0m0 9h0m-3-11h0m-4-5h0m-2 11h0m-1-10h0m-1 4h0m-1-1h0m-1 4h0m-1-8h0m-1 6h0m0-1h0m0-6h0m-2 5h0m-2-1h0m0-2h0m-1 4h0m-2 7h0m0-2h0m-3-13h0m-1 15h0m0-2h0m0-10h0m-2-2h0m-2 1h0m-1 18h0m0-14h0m0 4h0m-1-5h0m0-5h0m0 10h0m-1 0h0m0 0h0m-1-5h0m-1 9h0m0-7h0m-2 0h0m-2 4h0m0-4h0m-3 0h0m-3-7h0m-2 5h0m-1 3h0m-1 1h0m0 5h0m-1-13h0m-1-1h0m-1 0h0m0 16h0m-4-7h0m-1 1h0m-1-6h0m-4 1h0m0-3h0m-4 1h0m-5-3h0m0 0h0m-1 11h0m0-1h0m-2-1h0m-4-6h0m-7 1h0m-3 4h0m0-1h0m-2-5h0m-4 2h0m-6-5h0m-8 17h0m-2-2h0m-2-14h0m-9 2h0m-4-2h0" stroke="#dc1e32" stroke-width="12" stroke-linecap="round" stroke-opacity="0.95" fill="none"/>
<path transform="scale(.1)" d="M2995 3473h0m11-2h0m13-22h0m2-4h0m15 2h0m-35 39h0m-16 0h0m-7-1h0m-1 1h0m-2 17h0m0-12h0m-2 11h0m-6 10h0m-19 4h0m-32 40h0m17-18h0m2 12h0m8-20h0m2-9h0m0 7h0m2-6h0m14 3h0m-48 40h0m-6 1h0" stroke="#78be96" stroke-width="12" stroke-linecap="round" stroke-opacity="0.95" fill="none"/>
<path transform="scale(.1)" d="M3055 3514h0m-6-5h0m-19-6h0m-22 8h0m-64 47h0m16-5h0m1-3h0m5-1h0m3 2h0m2-6h0m12-18h0m8 1h0m7-4h0m4 10h0m3-8h0m4-2h0m2 7h0m4 4h0m-67 34h0m-50 19h0" stroke="#a0d28c" stroke-width="12" stroke-linecap="round" stroke-opacity="0.95" fill="none"/>
<path transform="scale(.1)" d="M2653 3460h0m9 19h0m5-11h0m1 1h0m2 0h0m8-20h0m4 23h0m1 7h0m2-13h0m2 11h0m8-23h0m0 21h0m19-9h0m56 51h0m-16-11h0m-2 13h0m-5-5h0m-3-15h0m-1 11h0m-1-3h0m-2-3h0m0 7h0m-4 3h0m0-4h0m-3 5h0m-3-26h0m-1 18h0m-2-5h0m-2 5h0m-1 10h0m-1-15h0m0-6h0m0 18h0m0 5h0m0 0h0m-1-11h0m-1 0h0m-1-7h0m-1 5h0m-2 5h0m-2 2h0m0-18h0m-1 3h0m-3 3h0m-5-20h0m-3 32h0m0-8h0m-7 9h0m-1-25h0m-4 15h0m-1-13h0m-1 5h0m-3 14h0m-3 1h0m-1-25h0m-3-6h0m-1 17h0m-4-14h0m-29 0h0m39 37h0m8 1h0m29 8h0m13 3h0m1-2h0m3 0h0m12 2h0m0-9h0m2 9h0m0-3h0m1 0h0m1-8h0m0 3h0m1 5h0m0-1h0m0-6h0m1-2h0m1 0h0m3 12h0m0 3h0m2-10h0m2 0h0m1 5h0m1-7h0m1 15h0m4-12h0m2 12h0m1-7h0m3 17h0m0-1h0m1-16h0m0 6h0m1 5h0m2-7h0m2 0h0m0 2h0m1 2h0m2 8h0m1-13h0m1 7h0m0-3h0m1-8h0m0 22h0m0-3h0m4-3h0m1-1h0m6-6h0m0 19h0m1-6h0m0-7h0m2 9h0m1 3h0m0-13h0m0 6h0m6 7h0m1-2h0m0-3h0m3 0h0m6 7h0m2-5h0m51 35h0m-22-13h0m-15-12h0m-7-1h0m-3 0h0m-5 4h0m-11-6h0m-9-1h0" stroke="#d21432" stroke-width="12" stroke-linecap="round" stroke-opacity="0.95" fill="none"/>
<path transform="scale(.1)" d="M2698 3693h0m13 23h0m8-1h0m6 1h0m18 20h0m-12-16h0m-12 5h0" stroke="#f08264" stroke-width="12" stroke-linecap="round" stroke-opacity="0.95" fill="none"/>
<path transform="scale(.1)" d="M3013 3383h0m-52 48h0m-32 33h0m9-16h0m6 16h0m2-14h0m2 14h0m4 4h0m5-8h0m2 12h0m0-17h0m5-1h0m3 13h0m4 5h0m-26 12h0m-1 13h0m-3-15h0m-4 21h0m-1 8h0m-1-16h0m0 19h0m0-26h0m0 14h0m-1 7h0m-2-18h0m-6 22h0m-2 0h0m0-2h0m-1 8h0m0-5h0m-3-2h0m-4 3h0m-8 31h0m0 2h0m4-3h0m2-5h0m0-1h0m2-12h0m0 11h0m5-10h0m13-6h0" stroke="#50b4a0" stroke-width="12" stroke-linecap="round" stroke-opacity="0.95" fill="none"/>
<path transform="scale(.1)" d="M2838 3390h0m12 3h0m19 35h0m-13 8h0m-14-10h0m-3 11h0m-1-5h0m-20-20h0m16 53h0m1-12h0m2-6h0m4 27h0m3-4h0m1 4h0m2-17h0m1-17h0m0 21h0m2-4h0m0 8h0m3 2h0m1-15h0m2 5h0m0 7h0m2-14h0m0 17h0m0-9h0m2 12h0m6 39h0m-1-22h0m-3 12h0m0-2h0m0 8h0m-1 1h0m-1 3h0m0 2h0m-2-21h0m0 24h0m-1-20h0m-1 0h0m-1-4h0m-5-1h0m-3-5h0m0-1h0m0 21h0m-8-15h0m-3-6h0m23 42h0m3-1h0m0-3h0m0 8h0m1-9h0m0 16h0m2-1h0m1-14h0m2 13h0m4 9h0m0-15h0m7 49h0m-2-6h0" stroke="#14a0aa" stroke-width="12" stroke-linecap="round" stroke-opacity="0.95" fill="none"/>
<path transform="scale(.1)" d="M2795 3635h0m9-1h0m6-7h0m2 8h0m2-6h0m4-1h0m8 0h0m6-11h0m4 6h0m8-9h0m11 0h0m4-5h0m-49 31h0m-2 3h0m-5 5h0m-9 9h0m-1-14h0m-2 9h0m0-5h0m0-5h0m0 9h0m-3 0h0m-2 1h0m-1 0h0m0 15h0m-1-16h0m-1-5h0m0 12h0m-2 0h0m-1-9h0m0 5h0m-1-3h0m-7 9h0m-1-4h0m-1 7h0m-3-13h0m-2 17h0m-1-10h0m0-7h0m-2 12h0m0-1h0m-3-4h0m-2 3h0m-1-8h0m-1 6h0m-12 9h0m-4 6h0m-1 3h0m-1-4h0m-1-13h0m-9 14h0m-4-3h0m-13 4h0m-2 2h0m-28 28h0m11-3h0m3 5h0m2 13h0m14-23h0m4-6h0m8 0h0m40-10h0" stroke="#e65028" stroke-width="12" stroke-linecap="round" stroke-opacity="0.95" fill="none"/>
<path transform="scale(.1)" d="M2677 3554h0m8-3h0m21 8h0m19 0h0m86 30h0m-4 1h0m-1-9h0m-6 4h0m-1 9h0m-1-9h0m0-6h0m-3 2h0m-4 7h0m-12-8h0m-2 9h0m-1-14h0m-4 9h0m-1 2h0m-1-13h0m-1 6h0m0 6h0m-2-13h0m-1 7h0m-1 5h0m-2-3h0m-2 5h0m-1-1h0m0-6h0m-1 5h0m-1 1h0m-2 6h0m-1-27h0m-3 8h0m-2 10h0m-4-2h0m0-2h0m-1-6h0m-1-4h0m0 14h0m0-1h0m-1 3h0m0-7h0m0 11h0m0-5h0m-1 2h0m0-7h0m-2 6h0m-1-6h0m0-7h0m-1 2h0m0 14h0m-1-4h0m0-2h0m0-17h0m-1 20h0m-5 7h0m0-21h0m-2 6h0m-2 0h0m-2-1h0m-1 24h0m-2-13h0m-1-3h0m-1-9h0m0 5h0m-1-11h0m-1-5h0m0 15h0m-1 3h0m-3 2h0m-2 11h0m-3-6h0m-2-9h0m-1-8h0m0 22h0m-2-16h0m0 5h0m-3 9h0m0-28h0m0 11h0m-2-7h0m-4 9h0m-2 6h0m-2-20h0m-1 24h0m-2-16h0m-2 4h0m0 1h0m-1 4h0m-4-11h0m0 18h0m-4-6h0m-3 13h0m-1-14h0m-1 9h0m-3 8h0m-1-13h0m-4-10h0m-6-6h0m-7 20h0m-2-6h0" stroke="#e62828" stroke-width="12" stroke-linecap="round" stroke-opacity="0.95" fill="none"/>
<path transform="scale(.1)" d="M2663 3463h0m70 49h0m-2 7h0m-17-11h0m0 6h0m-3-11h0m-2-11h0m-3 11h0m-1 9h0m-1-6h0m-1 7h0m-4 5h0m-3-10h0m-1-19h0m-4 3h0m-4 9h0m-1 8h0m-3 7h0m0-36h0m-3 24h0m-5 5h0m-1-5h0m-3 10h0m0 1h0m-1 0h0m-5-21h0m-12 18h0m-2-6h0m0-6h0m13 25h0m5-2h0m25 3h0m3-6h0m6 4h0m2 4h0m2 3h0m3-10h0m4 4h0m1 2h0m10 13h0m2-12h0m2-2h0m5-4h0m1 27h0m4-20h0m1 12h0m1 3h0m1-10h0m0 2h0m1 1h0m1 8h0m2-17h0m1 22h0m0-17h0m1-10h0m1 32h0m3-17h0m2 9h0m4-18h0m0 9h0m1 7h0m2-1h0m0-13h0m0 3h0m3 14h0m1-2h0m2 11h0m0-13h0m1-10h0m0 13h0m2 2h0m1-9h0m1-7h0m0 1h0m4 14h0m3 7h0m3-6h0m0-5h0m1-1h0m7 5h0m3 10h0m0-4h0m4 3h0m1-8h0m4 6h0m54 27h0m-16-6h0m-5-8h0m-6 1h0m-31-5h0" stroke="#dc1432" stroke-width="12" stroke-linecap="round" stroke-opacity="0.95" fill="none"/>
<path transform="scale(.1)" d="M2715 3694h0m1 7h0m0-1h0m1-8h0m3 10h0m7 8h0m7-1h0" stroke="#f0785a" stroke-width="12" stroke-linecap="round" stroke-opacity="0.95" fill="none"/>
<path transform="scale(.1)" d="M2896 3791h0m-34 24h0m-38 18h0m-12-2h0m-25 47h0" stroke="#f0b496" stroke-width="12" stroke-linecap="round" stroke-opacity="0.95" fill="none"/>
<path transform="scale(.1)" d="M3054 3496h0m-12-5h0m-14 25h0m-1-26h0m-5 16h0m-35 12h0m-37 40h0m9-17h0m7 2h0m10-6h0m24-12h0m1-3h0m-50 41h0m-14-1h0" stroke="#a0c88c" stroke-width="12" stroke-linecap="round" stroke-opacity="0.95" fill="none"/>
<path transform="scale(.1)" d="M2726 3788h0" stroke="#f0a08c" stroke-width="12" stroke-linecap="round" stroke-opacity="0.95" fill="none"/>
<path transform="scale(.1)" d="M2849 3391h0m9-4h0m25 7h0m1 37h0m-3-21h0m-1 29h0m-7-1h0m-3-32h0m-1 18h0m-6 4h0m-2-9h0m-4-4h0m-8-6h0m8 32h0m5 35h0m2-29h0m0 5h0m1 22h0m3-16h0m1 21h0m4-4h0m0-19h0m2 6h0m0-18h0m1-2h0m0 27h0m0 9h0m0-29h0m1 30h0m1-2h0m0-1h0m0-5h0m2 2h0m2-3h0m0 6h0m0-6h0m1-18h0m0-4h0m1 6h0m0 23h0m1 0h0m1-16h0m0-6h0m5-10h0m1 17h0m-4 20h0m-2 10h0m0 13h0m-1 2h0m0-8h0m-1 15h0m0-14h0m0-1h0m0 2h0m-3 7h0m0-15h0m0 1h0m0-12h0m-1 17h0m0 4h0m-2-6h0m0 7h0m0 11h0m-1-10h0m0-2h0m0-9h0m-1 4h0m-1 17h0m0-34h0m-1 11h0m-1-7h0m0 10h0m0-1h0m-6-7h0m0 7h0m-5-8h0m-1 4h0m-2 4h0m15 31h0m1 6h0m0 0h0m2 5h0m0 8h0m1-21h0m1 11h0m1 5h0m0-2h0m0 7h0m1 10h0m1-7h0m1-19h0m1 27h0m0-34h0m0 16h0m1 15h0m1-10h0m0-12h0m-3 39h0m-4-5h0" stroke="#1eaaaa" stroke-width="12" stroke-linecap="round" stroke-opacity="0.95" fill="none"/>
<path transform="scale(.1)" d="M2825 3646h0m0 8h0m-4-12h0m-1 13h0m-2-1h0m-18 18h0m-4 5h0m-16 8h0m10-5h0m16 8h0" stroke="#e66432" stroke-width="12" stroke-linecap="round" stroke-opacity="0.95" fill="none"/>
<path transform="scale(.1)" d="M2871 3595h0m-7 2h0m-2-3h0m-21-2h0m-6 0h0m-1 2h0m-2 1h0m-2-3h0m-8 7h0m-1-2h0m-12 2h0m-1-9h0m-5 3h0m0-3h0m-1-3h0m-1 5h0m0 6h0m0-6h0m-5 3h0m0 1h0m-4 3h0m-3-8h0m0 7h0m-6 0h0m-3-8h0m-3 9h0m-4-5h0m-1 4h0m-1-4h0m0-1h0m-1 6h0m-1-12h0m-1 9h0m-1-6h0m-2 6h0m-3 0h0m-1-13h0m-1 7h0m-1-1h0m-1 6h0m-2-8h0m0-7h0m-4 11h0m-2 1h0m-1-5h0m-4-11h0m-4 11h0m-3 1h0m-6 9h0m-3-12h0m-1 13h0m-1-13h0m-3 14h0m-4-5h0m0 5h0m-1 0h0m-2-11h0m0-1h0m0 2h0m-1 7h0m-3 2h0m-2-6h0m-1 2h0m-5-7h0m-1 5h0m-1-1h0m0 4h0m0-10h0m-1 11h0m-1 3h0m-3-1h0m0-4h0m-1 3h0m0-1h0m-1-11h0m0 11h0m-1-20h0m-2 12h0m-5 10h0m0-1h0m-1-7h0m-2-3h0m-7 12h0m-6-16h0m0 12h0m-3-6h0m-5 7h0m-2-6h0m0 2h0m-2-4h0m-4 29h0m11-9h0m2 3h0m4-7h0m2 9h0m2 20h0m0-17h0m2 7h0m2-7h0m1-8h0m0-2h0m6-1h0m6-5h0m1 2h0m3-2h0m2 17h0m2 0h0m6-9h0m2 14h0m7-14h0m0-2h0m0 8h0m3-8h0m2-4h0m0 4h0m0 14h0m2-19h0m1 3h0m1-4h0m0 7h0m3-1h0m0 8h0m0-12h0m3 3h0m5-3h0m1-2h0m2 12h0m2 4h0m0-16h0m0 2h0m1 6h0m0 5h0m6-13h0m0 3h0m2 4h0m0-6h0m2 2h0m7-1h0m5-1h0m0 0h0m0 3h0m1 0h0m1 1h0m2-1h0m0-2h0m3 1h0m2 0h0m2-2h0m1 16h0m0-4h0m5-6h0m3-4h0m2-3h0m0 2h0m1 9h0m2-4h0m8-6h0m4 5h0m6 3h0m0-8h0m8 6h0" stroke="#e63228" stroke-width="12" stroke-linecap="round" stroke-opacity="0.95" fill="none"/>
<path transform="scale(.1)" d="M3043 3519h0m-4 0h0m-71 40h0m2-2h0m7 1h0m10 1h0m0-4h0m18-4h0m3 6h0m0 0h0m8-13h0m2-6h0m4-2h0m17-9h0m0 13h0m7-16h0m3 10h0m3 8h0m4-7h0m5-9h0m-51 34h0m-30 6h0m-16 1h0m-9-1h0m-10 12h0m-2-11h0m-5 8h0m-1-1h0m-21 12h0" stroke="#b4d28c" stroke-width="12" stroke-linecap="round" stroke-opacity="0.95" fill="none"/>
<path transform="scale(.1)" d="M2759 3433h0m-11-20h0m9 53h0m6 9h0m2-22h0m0 8h0m6-1h0m9-3h0m0 21h0m1-9h0m3-11h0m2 19h0m2-9h0m7 8h0m1-5h0m30 47h0m-2-6h0m-1-5h0m-3 5h0m-3-28h0m-2 28h0m-1-12h0m0-9h0m-3 5h0m-1-3h0m-4-8h0m-1 0h0m-3 28h0m-1-29h0m-4 14h0m-2-18h0m-15 8h0m49 36h0m3-2h0m1-1h0m21 36h0m10 8h0" stroke="#1482be" stroke-width="12" stroke-linecap="round" stroke-opacity="0.95" fill="none"/>
<path transform="scale(.1)" d="M2779 3426h0m23 49h0m17 8h0m-12 5h0m46 58h0" stroke="#1496be" stroke-width="12" stroke-linecap="round" stroke-opacity="0.95" fill="none"/>
<path transform="scale(.1)" d="M2696 3392h0m33 22h0m-18 20h0m-2 21h0m1-6h0m18-9h0m11 21h0m6-6h0m4 18h0m3-22h0m2 24h0m9-2h0m1-10h0m7 3h0m10 1h0m4 11h0m23 27h0m-3 8h0m-2-11h0m-1 13h0m-6 2h0m-7-26h0m0 0h0m-3-5h0m-1 18h0m0-19h0m0 25h0m-2-27h0m-1 11h0m-1-7h0m-3 3h0m-5-7h0m-3 3h0m-11 5h0m-25-11h0m46 40h0m21 4h0m14-3h0m9 3h0m4 18h0m2-14h0m2 16h0m0-15h0m13 24h0m22 20h0m-11-8h0m-10-5h0" stroke="#1e78be" stroke-width="12" stroke-linecap="round" stroke-opacity="0.95" fill="none"/>
<path transform="scale(.1)" d="M3039 3417h0m-20 20h0m-8 0h0m-1-17h0m-12 5h0m-27 37h0m0 6h0m1 11h0m0-6h0m2-6h0m4 9h0m7-1h0m4-30h0m4 25h0m1-7h0m4-13h0m1 8h0m1 9h0m5 2h0m9-9h0m10-7h0m-45 40h0m-6-2h0m-4 3h0m-4 10h0m-1 3h0m-1-5h0m0 7h0m-1-3h0m-2 7h0m-3-19h0m-6 9h0m-3 15h0m-6-2h0m-6 1h0m-15 25h0m3 1h0m2-14h0m1 8h0m1-6h0m10 4h0m1 9h0m4-12h0m4-10h0m-36 38h0m-8 12h0" stroke="#6ebe96" stroke-width="12" stroke-linecap="round" stroke-opacity="0.95" fill="none"/>
<path transform="scale(.1)" d="M2899 3398h0m23 24h0m0 17h0m-10-15h0m-2-11h0m-6 5h0m-1 8h0m-3 8h0m-28 23h0m14-16h0m2 29h0m1 5h0m2 0h0m2 2h0m0-26h0m1 8h0m1 1h0m1-13h0m3-3h0m1-3h0m1 25h0m0-20h0m1 23h0m0-9h0m0 11h0m3 0h0m0-23h0m4 16h0m4-19h0m1 3h0m-4 45h0m-5-7h0m-1 10h0m-2 6h0m-3-4h0m0-15h0m-1 1h0m-1 16h0m0-12h0m-1 14h0m0-11h0m0 2h0m-1 6h0m0-8h0m-1-10h0m0 17h0m-2-2h0m0-8h0m0 9h0m-2 17h0m-3-8h0m-2-16h0m-1 12h0m-1-5h0m-2 8h0m5 33h0m0 5h0m1-4h0m1-14h0m0 13h0m0 3h0m1-19h0m1 4h0m1 20h0m1-15h0m0 5h0m0 1h0m1-6h0m3-7h0m2 9h0m-8 39h0" stroke="#28aaaa" stroke-width="12" stroke-linecap="round" stroke-opacity="0.95" fill="none"/>
<path transform="scale(.1)" d="M2973 3403h0m-25 34h0m-2-10h0m-20 47h0m12-9h0m0 5h0m5-22h0m11 8h0m-12 38h0m0-3h0m-1 3h0m-7 0h0m-2 11h0m-4-20h0m-1 14h0m-1 16h0m0-13h0m-1-2h0m0-1h0m-1 2h0m-1 7h0m-1 3h0m-7 3h0m-3 2h0m-3 1h0m-4 40h0m2-13h0m0 4h0m2-16h0m0 21h0m1-12h0m2-5h0m2-16h0m1 14h0m5-9h0m3 4h0m-24 36h0" stroke="#46b4aa" stroke-width="12" stroke-linecap="round" stroke-opacity="0.95" fill="none"/>
<path transform="scale(.1)" d="M2960 3397h0m41-5h0m-20 35h0m-16-12h0m-18 14h0m-3-10h0m-2 19h0m-1-5h0m-3 2h0m-13-10h0m-8 34h0m2 19h0m2-6h0m4-2h0m4-12h0m2 13h0m1-5h0m0-18h0m0 6h0m1-8h0m0 12h0m4 12h0m1-20h0m0 3h0m2 26h0m0-20h0m0-15h0m2-1h0m1-2h0m3 0h0m-6 47h0m-7 9h0m0-1h0m-1-5h0m-5 2h0m-3-11h0m0 10h0m-1 6h0m-2-8h0m-1 8h0m0 1h0m-3-9h0m0 22h0m-1-13h0m0-1h0m-5 20h0m-2-32h0m0-1h0m-1 3h0m0 12h0m0-1h0m-2 2h0m-6 42h0m6-6h0m2-4h0m2 5h0m5-11h0m-18 38h0m-2 6h0m-6 12h0" stroke="#3cb4aa" stroke-width="12" stroke-linecap="round" stroke-opacity="0.95" fill="none"/>
<path transform="scale(.1)" d="M2858 3639h0m5-10h0m-19 15h0m-1 7h0m-4 18h0m-1-8h0m-9 13h0m-5 5h0m-20-3h0m-13 26h0m5-11h0m1 7h0m1-2h0m1-7h0m2 16h0m0 8h0m9-17h0m3-13h0m6 20h0m1-22h0m1 24h0" stroke="#f06e3c" stroke-width="12" stroke-linecap="round" stroke-opacity="0.95" fill="none"/>
<path transform="scale(.1)" d="M2859 3639h0m-5 24h0m-2-16h0m-6 6h0m-9 24h0m-2-1h0m-1-12h0m-4 13h0m-69 24h0m22 6h0m30 11h0m2 1h0m5-16h0m3 11h0m2-34h0m3 15h0m5-13h0m14 7h0m-13 35h0m-3-1h0m-9 0h0m-36 0h0" stroke="#f07846" stroke-width="12" stroke-linecap="round" stroke-opacity="0.95" fill="none"/>
<path transform="scale(.1)" d="M3005 3430h0m-4-15h0m-31 58h0m10-12h0m2 5h0m7-26h0m-19 53h0m-2-7h0m-12 0h0m-10 20h0m-2 9h0m-3 3h0m-6-11h0m-1 5h0m-19 43h0m1-3h0" stroke="#64bea0" stroke-width="12" stroke-linecap="round" stroke-opacity="0.95" fill="none"/>
<path transform="scale(.1)" d="M2732 3439h0m-4-4h0m-11 0h0m-19-9h0m-20 16h0m24 6h0m1-6h0m14 21h0m6-6h0m3 20h0m8-17h0m2-9h0m6 2h0m5 25h0m4-9h0m1 8h0m17 1h0m33 41h0m-3-16h0m-3 8h0m-2-9h0m-2 14h0m-5 1h0m-1-10h0m-1 9h0m-1-5h0m-1 1h0m0-1h0m-1-8h0m0 1h0m-1 1h0m-2-5h0m-1 1h0m0 11h0m-1-19h0m-1 13h0m-5-6h0m-1 1h0m-2 5h0m0-13h0m-2 25h0m-1-27h0m0-4h0m-1 15h0m-10-11h0m-1-1h0m0 0h0m-3-8h0m-1 7h0m-6 3h0m-5-12h0m-2 2h0m55 49h0m1-7h0m7 3h0m1-2h0m1-5h0m2 18h0m1-13h0m3-4h0m4 7h0m1 11h0m3 6h0m4 1h0m6 2h0m2 1h0m2-9h0m9 3h0m2 12h0m37 32h0m-25-24h0" stroke="#1e6ebe" stroke-width="12" stroke-linecap="round" stroke-opacity="0.95" fill="none"/>
<path transform="scale(.1)" d="M2962 3479h0m7-24h0m5 22h0m6-21h0m6-9h0m7 11h0m4-18h0m-13 43h0m-11 1h0m-6 4h0m-11 12h0m-4 5h0m-2 4h0m-3-4h0m-7 9h0m-14 21h0m3-1h0m7-12h0m3-2h0" stroke="#64be96" stroke-width="12" stroke-linecap="round" stroke-opacity="0.95" fill="none"/>
<path transform="scale(.1)" d="M2878 3597h0m-171 37h0m5 1h0m7 2h0m12-6h0m3-3h0m10 3h0m5 7h0m5-1h0m0-1h0m5 3h0m1-5h0m3-4h0m0 2h0m2-1h0m0 1h0m0-19h0m1 21h0m8-4h0m1 4h0m2 0h0m2 0h0m2 1h0m1-9h0m1 5h0m2-9h0m0 12h0m1-1h0m0-8h0m2 7h0m2 2h0m3-2h0m16-15h0m2 9h0m11-5h0m1-2h0m1-3h0m2 4h0m4-2h0m10-1h0m6-10h0m9-1h0m10-1h0m4-4h0m-70 39h0m-19 1h0m-5 3h0m-1 8h0m-8-12h0m-3 18h0m0-12h0m-3 14h0m-2-20h0m-4 5h0m-2 2h0m-1 13h0m-1-20h0m0 16h0m0-4h0m0 4h0m0-9h0m-2-7h0m-4 14h0m-2-14h0m0 12h0m-1 13h0m0-10h0m0 1h0m-2-13h0m0 3h0m-1 9h0m0-5h0m-1 8h0m0 0h0m-4 3h0m0 2h0m0-11h0m-1-10h0m-4 8h0m-1 17h0m-1-3h0m-3-11h0m-3-8h0m0 14h0m-3 4h0m-1 11h0m-6-7h0m0-15h0m0 18h0m-7-13h0m-1-11h0m-2 31h0m-2-10h0m-6-10h0m-4-10h0m0 9h0m-6 11h0m-1-11h0m-4 13h0m-6-21h0m-11 18h0m-3-10h0m11 47h0m7-22h0" stroke="#e64628" stroke-width="12" stroke-linecap="round" stroke-opacity="0.95" fill="none"/>
<path transform="scale(.1)" d="M3030 3476h0m33-2h0m-16 27h0m0-8h0m-1 17h0m-5-24h0m-5 0h0m-5 6h0m-5-2h0m-5 18h0m-1-8h0m-4 3h0m-1 3h0m-1 1h0m-1 2h0m-1-3h0m-1 11h0m-7-9h0m-4 11h0m0-10h0m-2 9h0m-1-10h0m-1 8h0m-2-3h0m-4-7h0m-8 10h0m-45 34h0m10-7h0m4 1h0m1-8h0m6-1h0m1 1h0m11-1h0m1 16h0m11-20h0m1 6h0m6-17h0m8 18h0m7-14h0m7 1h0m-79 35h0m-10 9h0" stroke="#96c88c" stroke-width="12" stroke-linecap="round" stroke-opacity="0.95" fill="none"/>
<path transform="scale(.1)" d="M3031 3476h0m2 1h0m2-1h0m27-20h0m-44 45h0m-1 2h0m-2 9h0m0-24h0m-2 16h0m-2-7h0m-2 7h0m-3-24h0m-1 21h0m0-6h0m-1 6h0m-1-16h0m0 12h0m0 6h0m-4-4h0m-3 14h0m-5-7h0m-3 2h0m-5-12h0m-1 4h0m-1 13h0m-1 4h0m-3-7h0m-51 42h0m4 0h0m1-2h0m7 1h0m3-8h0m1 1h0m8-8h0m4-4h0m1 8h0m4-7h0m1-1h0m1-3h0m4 8h0m0-17h0m7 6h0m-51 34h0m0 2h0" stroke="#8cc88c" stroke-width="12" stroke-linecap="round" stroke-opacity="0.95" fill="none"/>
<path transform="scale(.1)" d="M2717 3460h0m67 58h0m-6-11h0m26 22h0" stroke="#3c5ab4" stroke-width="12" stroke-linecap="round" stroke-opacity="0.95" fill="none"/>
<path transform="scale(.1)" d="M2754 3416h0m4 36h0m25-1h0m10 14h0m2 6h0m1 2h0m4-4h0m13 8h0m7 2h0m15 35h0m0 1h0m-3 0h0m-2 4h0m-1-2h0m-5-7h0m-3-2h0m-5-28h0m-1 13h0m0-1h0m0 10h0m-5 11h0m-2-18h0m-3-4h0m28 32h0m13 4h0m1-4h0m13 25h0m12 26h0" stroke="#148cbe" stroke-width="12" stroke-linecap="round" stroke-opacity="0.95" fill="none"/>
<path transform="scale(.1)" d="M2955 3777h0m-1 31h0m-49 24h0m0 18h0" stroke="#f0c8aa" stroke-width="12" stroke-linecap="round" stroke-opacity="0.95" fill="none"/>
<path transform="scale(.1)" d="M2648 3550h0m31-9h0m5 10h0m3 3h0m3 0h0m1 5h0m3-3h0m10-4h0m2-1h0m1-1h0m5 8h0m126 32h0m-48-24h0m-2 18h0m0-8h0m-2-5h0m-4 22h0m-5-14h0m-9-9h0m0 13h0m-1-7h0m-1-4h0m-1 8h0m-2-5h0m-1-1h0m-1 7h0m-1-11h0m-2 3h0m-1-6h0m-15 19h0m-2-19h0m-2 9h0m-4-8h0m-4-8h0m-2 7h0m-1 13h0m0-14h0m-1 4h0m-2 5h0m-6-11h0m-1 6h0m-1-1h0m-1-5h0m-4 9h0m-2 0h0m-4-8h0m-2 14h0m-6-2h0m0-3h0m-3 5h0m-5-12h0m-2-2h0m-1 3h0m-5-4h0m-6 8h0" stroke="#dc2832" stroke-width="12" stroke-linecap="round" stroke-opacity="0.95" fill="none"/>
<path transform="scale(.1)" d="M3063 3509h0m0 9h0m-18-30h0m-4 28h0m-92 40h0m13-1h0m3 2h0m10-6h0m3-16h0m8 17h0m4 0h0m4 0h0m4-5h0m0-18h0m7 6h0m2 5h0m9 7h0m2-21h0m5-5h0m1 16h0m1-10h0m5 5h0m5-5h0m-88 44h0m-8-8h0m-16 12h0" stroke="#aad28c" stroke-width="12" stroke-linecap="round" stroke-opacity="0.95" fill="none"/>
<path transform="scale(.1)" d="M3050 3559h0m9-14h0m-3 21h0m-9 8h0m-18-10h0m-9 12h0m-2-8h0m-6-6h0m-13 16h0m-9 0h0m-9 2h0m-13-1h0m-26 3h0m-32 8h0" stroke="#c8dc96" stroke-width="12" stroke-linecap="round" stroke-opacity="0.95" fill="none"/>
<path transform="scale(.1)" d="M2757 3393h0m47 1h0m19 34h0m-1 9h0m-3-2h0m-5-3h0m-12-23h0m-6 13h0m-2 28h0m6-8h0m5 7h0m11 1h0m4 26h0m2-36h0m4 23h0m1 8h0m3 4h0m1-12h0m1 15h0m3-27h0m3 12h0m0 12h0m2-3h0m0-2h0m0 0h0m2 8h0m0-7h0m3-2h0m5 7h0m7 37h0m-5-28h0m0 27h0m-2 3h0m-7-11h0m0-5h0m0 1h0m0-15h0m-2 3h0m-1-4h0m-1 30h0m-1-21h0m0-3h0m-2 15h0m-2-24h0m0-1h0m0 8h0m-1 13h0m0 0h0m-1-18h0m0 20h0m0-19h0m-1 12h0m-8-12h0m22 36h0m1 0h0m2 7h0m1-4h0m4 14h0m1-2h0m2 2h0m2 6h0m1-14h0m2 0h0m0-5h0m4 34h0m8 9h0m-2-7h0" stroke="#14a0b4" stroke-width="12" stroke-linecap="round" stroke-opacity="0.95" fill="none"/>
<path transform="scale(.1)" d="M2781 3511h0m-67-27h0" stroke="#3c5abe" stroke-width="12" stroke-linecap="round" stroke-opacity="0.95" fill="none"/>
<path transform="scale(.1)" d="M2793 3524h0m12 7h0m11 13h0" stroke="#5050b4" stroke-width="12" stroke-linecap="round" stroke-opacity="0.95" fill="none"/>
<path transform="scale(.1)" d="M2708 3473h0m32 23h0m-7 3h0m-20-3h0m50 30h0" stroke="#b41e64" stroke-width="12" stroke-linecap="round" stroke-opacity="0.95" fill="none"/>
<path transform="scale(.1)" d="M2859 3428h0m-13-11h0m10 45h0m2 8h0m13-11h0m6 55h0m-1-33h0m-2 28h0m-1-28h0m-2 16h0m-1 20h0m-1-16h0m-2 14h0m-1-6h0m0-18h0m-3-6h0m0 21h0m0-4h0m-2 2h0m-1-8h0m-5-6h0m16 36h0m2 10h0m4-2h0m0 4h0m0 5h0" stroke="#1ea0aa" stroke-width="12" stroke-linecap="round" stroke-opacity="0.95" fill="none"/>
<path transform="scale(.1)" d="M2925 3386h0m26 49h0m-2-28h0m-2 30h0m-9-11h0m-2-25h0m-1 28h0m-19-2h0m-1 0h0m-17 47h0m9-4h0m1 9h0m1-8h0m2-5h0m4-3h0m3 8h0m2-12h0m1-10h0m1 28h0m2-22h0m3 4h0m1-2h0m2 1h0m1 5h0m5-7h0m-16 38h0m-2 3h0m0-17h0m-5 18h0m-2 17h0m0-10h0m0 8h0m-1-19h0m0 1h0m-1-6h0m0 20h0m0-4h0m-1 9h0m0-25h0m0 4h0m0 3h0m-1-5h0m-3 2h0m-1 12h0m-1-4h0m-1-10h0m-3 24h0m-2 4h0m0 40h0m0-30h0m2 16h0m2-18h0m2 8h0m4-13h0" stroke="#32b4aa" stroke-width="12" stroke-linecap="round" stroke-opacity="0.95" fill="none"/>
<path transform="scale(.1)" d="M2942 3607h0m38 15h0m7-6h0m58-1h0m2 34h0" stroke="#e6e6a0" stroke-width="12" stroke-linecap="round" stroke-opacity="0.95" fill="none"/>
<path transform="scale(.1)" d="M2949 3465h0m8-2h0m16-15h0m-34 33h0m-4 5h0m-11 23h0m-7 5h0m1 17h0" stroke="#46b4a0" stroke-width="12" stroke-linecap="round" stroke-opacity="0.95" fill="none"/>
<path transform="scale(.1)" d="M2794 3402h0m-5 13h0m-5 21h0m13 33h0m4-13h0m2-13h0m1 23h0m15-10h0m2 14h0m6 9h0m13 36h0m-1-11h0m-1 4h0m-7-1h0m-6-24h0m-5 4h0m0-7h0m0 6h0m-8 2h0m-2-7h0m35 44h0m2 2h0m7 19h0m2 0h0m9 11h0m3 4h0m-4 2h0" stroke="#1496b4" stroke-width="12" stroke-linecap="round" stroke-opacity="0.95" fill="none"/>
<path transform="scale(.1)" d="M2743 3701h0m5 15h0m6 0h0m58 21h0m-32-10h0m-9-4h0" stroke="#f07850" stroke-width="12" stroke-linecap="round" stroke-opacity="0.95" fill="none"/>
<path transform="scale(.1)" d="M2893 3651h0m-3 68h0m14-12h0m10 24h0m-46 48h0m5-17h0m24 7h0" stroke="#f0aa78" stroke-width="12" stroke-linecap="round" stroke-opacity="0.95" fill="none"/>
<path transform="scale(.1)" d="M2730 3680h0m11 12h0m0 0h0m11 5h0m6 0h0m0-3h0m9 14h0m1 1h0m10 6h0m7-12h0m1 12h0m3 1h0m-23 4h0" stroke="#f06e46" stroke-width="12" stroke-linecap="round" stroke-opacity="0.95" fill="none"/>
<path transform="scale(.1)" d="M2866 3640h0m-3 12h0m-7 9h0m-74 54h0m51-2h0m14-7h0m1 0h0m2-21h0m1 22h0m4-12h0m-2 45h0m-19-20h0m0 9h0m-30 9h0" stroke="#f08250" stroke-width="12" stroke-linecap="round" stroke-opacity="0.95" fill="none"/>
<path transform="scale(.1)" d="M2882 3713h0m1-6h0m10-6h0m-1 31h0m-2-4h0m-14-2h0m-1 26h0m-31-3h0m-12 25h0m5-10h0m1 5h0m6 9h0m7-13h0" stroke="#f0a06e" stroke-width="12" stroke-linecap="round" stroke-opacity="0.95" fill="none"/>
<path transform="scale(.1)" d="M2920 3426h0m-7 11h0m-1-23h0m-8 23h0m-3 40h0m4-12h0m0 13h0m4-26h0m5 44h0m-6-6h0m-6 11h0m-1 15h0m-3-3h0m-4-10h0m-1 38h0m1-19h0m2 9h0m5-10h0" stroke="#32aaaa" stroke-width="12" stroke-linecap="round" stroke-opacity="0.95" fill="none"/>
<path transform="scale(.1)" d="M2845 3758h0m-92 0h0m-17-10h0m-19-11h0m75 34h0m7-5h0m3 1h0m18 2h0m0-6h0m5 4h0m11 6h0" stroke="#f0966e" stroke-width="12" stroke-linecap="round" stroke-opacity="0.95" fill="none"/>
<path transform="scale(.1)" d="M2850 3751h0m-26-4h0m-49 12h0m-3-6h0m-26-16h0m-5 0h0m-19-14h0m52 40h0m48 0h0" stroke="#f08c64" stroke-width="12" stroke-linecap="round" stroke-opacity="0.95" fill="none"/>
<path transform="scale(.1)" d="M2678 3701h0m17 30h0m38 32h0m18 1h0m4 15h0m18-10h0" stroke="#f09678" stroke-width="12" stroke-linecap="round" stroke-opacity="0.95" fill="none"/>
<path transform="scale(.1)" d="M2980 3403h0m-33 76h0m7-3h0m3-22h0m0 2h0m6 17h0m7 0h0m0-14h0m4-4h0m5-2h0m8 6h0m5-19h0m-28 55h0m-17-7h0m-1 14h0m-2 11h0m0 0h0m-1-6h0m-1 8h0m0-9h0m-7-1h0m-1 7h0m-1 1h0m0-5h0m-1 4h0m-1-11h0m-13 13h0m-13 43h0m3-2h0m5-21h0m4 0h0m3-3h0m2-7h0m1-3h0m2 14h0m0 3h0m2-8h0m2 0h0m1-2h0m6-8h0m10 3h0m-45 40h0" stroke="#5abea0" stroke-width="12" stroke-linecap="round" stroke-opacity="0.95" fill="none"/>
<path transform="scale(.1)" d="M2882 3610h0m-1 31h0m-7 32h0m-4-21h0m-17 32h0m4 34h0m0-13h0m3-12h0m1 26h0m7 17h0m-15-15h0m-3 26h0m-12-3h0m-4-13h0m-8 4h0m-17-3h0m-13 10h0m-11-1h0m-19-8h0" stroke="#f08c5a" stroke-width="12" stroke-linecap="round" stroke-opacity="0.95" fill="none"/>
<path transform="scale(.1)" d="M2879 3636h0m-20 95h0m-9 10h0" stroke="#f0965a" stroke-width="12" stroke-linecap="round" stroke-opacity="0.95" fill="none"/>
<path transform="scale(.1)" d="M2982 3608h0m49 16h0" stroke="#dcdca0" stroke-width="12" stroke-linecap="round" stroke-opacity="0.95" fill="none"/>
<path transform="scale(.1)" d="M2821 3804h0m-6 2h0m-38-2h0m-3-2h0m-6 17h0m-33-4h0m-2 9h0" stroke="#f0aa8c" stroke-width="12" stroke-linecap="round" stroke-opacity="0.95" fill="none"/>
<path transform="scale(.1)" d="M2895 3603h0m12 18h0" stroke="#f0d2a0" stroke-width="12" stroke-linecap="round" stroke-opacity="0.95" fill="none"/>
<path transform="scale(.1)" d="M2729 3710h0m44 32h0m-2-18h0m-4-4h0m-8 15h0m-1-3h0m0-11h0m-9 11h0m-7-11h0m0 6h0m-1-5h0" stroke="#f0825a" stroke-width="12" stroke-linecap="round" stroke-opacity="0.95" fill="none"/>
<path transform="scale(.1)" d="M2916 3689h0m-7 70h0m-44 38h0m2-4h0m16-14h0m2-3h0m19 14h0m-44 12h0m-7 2h0m-12 0h0" stroke="#f0b48c" stroke-width="12" stroke-linecap="round" stroke-opacity="0.95" fill="none"/>
<path transform="scale(.1)" d="M3067 3570h0m-8-5h0m-1 8h0m-2-5h0m-19 16h0m-18 11h0m-1-24h0m-5 27h0m0-16h0m-14 7h0m-2-7h0m-6-7h0m-12-1h0m-12 15h0m0 0h0m-7-3h0m-7 3h0m-4 0h0m-5 7h0m-25 1h0m-1-4h0" stroke="#d2dc96" stroke-width="12" stroke-linecap="round" stroke-opacity="0.95" fill="none"/>
<path transform="scale(.1)" d="M2921 3798h0m1 5h0m-2 4h0m-19 17h0m-3-9h0m-26 11h0m-12 2h0m15 21h0" stroke="#f0bea0" stroke-width="12" stroke-linecap="round" stroke-opacity="0.95" fill="none"/>
<path transform="scale(.1)" d="M2816 3719h0m6-2h0" stroke="#f08246" stroke-width="12" stroke-linecap="round" stroke-opacity="0.95" fill="none"/>
<path transform="scale(.1)" d="M2784 3774h0m22 9h0m8 1h0m0-1h0m1 2h0m3-6h0m18 3h0m13-2h0" stroke="#f0a078" stroke-width="12" stroke-linecap="round" stroke-opacity="0.95" fill="none"/>
<path transform="scale(.1)" d="M3048 3435h0m-84 77h0m-3-9h0m-29 43h0m25-9h0" stroke="#78c896" stroke-width="12" stroke-linecap="round" stroke-opacity="0.95" fill="none"/>
<path transform="scale(.1)" d="M2847 3627h0m-18 30h0m-1 0h0m-5 4h0m-6 8h0m-2-1h0m-2 9h0m-15-11h0m-13 16h0m20 4h0m0-4h0" stroke="#f06432" stroke-width="12" stroke-linecap="round" stroke-opacity="0.95" fill="none"/>
<path transform="scale(.1)" d="M2911 3692h0m-4 28h0m-10 60h0" stroke="#f0b482" stroke-width="12" stroke-linecap="round" stroke-opacity="0.95" fill="none"/>
<path transform="scale(.1)" d="M2847 3717h0m1-10h0m1-1h0m3 4h0m-2 12h0m-10-2h0" stroke="#f08c50" stroke-width="12" stroke-linecap="round" stroke-opacity="0.95" fill="none"/>
<path transform="scale(.1)" d="M2705 3456h0m19 40h0m-2-7h0m79 46h0" stroke="#aa2878" stroke-width="12" stroke-linecap="round" stroke-opacity="0.95" fill="none"/>
<path transform="scale(.1)" d="M2948 3456h0m-2 33h0m-4-3h0m-9 24h0m-21 40h0" stroke="#50bea0" stroke-width="12" stroke-linecap="round" stroke-opacity="0.95" fill="none"/>
<path transform="scale(.1)" d="M2979 3556h0m23-5h0m-22 13h0m-6 9h0m-3-6h0m-7 6h0" stroke="#bed28c" stroke-width="12" stroke-linecap="round" stroke-opacity="0.95" fill="none"/>
<path transform="scale(.1)" d="M2706 3474h0m42 25h0m-9-2h0m-35-4h0m-5-4h0" stroke="#c81446" stroke-width="12" stroke-linecap="round" stroke-opacity="0.95" fill="none"/>
<path transform="scale(.1)" d="M2755 3515h0m52 15h0m7-3h0" stroke="#a02882" stroke-width="12" stroke-linecap="round" stroke-opacity="0.95" fill="none"/>
<path transform="scale(.1)" d="M2791 3798h0m21-13h0m23 2h0m18 9h0m14-19h0m6 9h0m10-3h0m9-8h0" stroke="#f0aa82" stroke-width="12" stroke-linecap="round" stroke-opacity="0.95" fill="none"/>
<path transform="scale(.1)" d="M2739 3475h0m55 54h0" stroke="#3264be" stroke-width="12" stroke-linecap="round" stroke-opacity="0.95" fill="none"/>
<path transform="scale(.1)" d="M2707 3717h0m40 26h0m-17 6h0m-6-8h0m47 22h0" stroke="#f08c6e" stroke-width="12" stroke-linecap="round" stroke-opacity="0.95" fill="none"/>
<path transform="scale(.1)" d="M2690 3469h0m75 30h0m-29 5h0" stroke="#96288c" stroke-width="12" stroke-linecap="round" stroke-opacity="0.95" fill="none"/>
<path transform="scale(.1)" d="M2775 3496h0" stroke="#1e64be" stroke-width="12" stroke-linecap="round" stroke-opacity="0.95" fill="none"/>
<path transform="scale(.1)" d="M2872 3737h0m-1 1h0m-2-5h0m-5-8h0m-7 11h0m-13 8h0m-4 13h0m-12-20h0m-6 20h0" stroke="#f09664" stroke-width="12" stroke-linecap="round" stroke-opacity="0.95" fill="none"/>
<path transform="scale(.1)" d="M2722 3485h0m65 47h0m56 37h0" stroke="#be1450" stroke-width="12" stroke-linecap="round" stroke-opacity="0.95" fill="none"/>
<path transform="scale(.1)" d="M2661 3789h0m13-26h0m40 0h0m7 19h0m68 3h0m33 12h0m-138 11h0m-21 25h0" stroke="#f0a082" stroke-width="12" stroke-linecap="round" stroke-opacity="0.95" fill="none"/>
<path transform="scale(.1)" d="M2735 3665h0m14 16h0m7 4h0m0 2h0m7 13h0m3-16h0m3 14h0m37-17h0" stroke="#f0643c" stroke-width="12" stroke-linecap="round" stroke-opacity="0.95" fill="none"/>
<path transform="scale(.1)" d="M3003 3476h0m14-12h0m-33 26h0m-2 13h0m-25 15h0m-27 37h0" stroke="#78c88c" stroke-width="12" stroke-linecap="round" stroke-opacity="0.95" fill="none"/>
<path transform="scale(.1)" d="M3024 3549h0m2 4h0m2-1h0m21-12h0m3 1h0m-9 19h0m-53 0h0m-3 3h0m-44 18h0m-41 6h0" stroke="#bed296" stroke-width="12" stroke-linecap="round" stroke-opacity="0.95" fill="none"/>
<path transform="scale(.1)" d="M2737 3670h0m-6 4h0m8 6h0m2 3h0m16 17h0" stroke="#f06446" stroke-width="12" stroke-linecap="round" stroke-opacity="0.95" fill="none"/>
<path transform="scale(.1)" d="M2764 3500h0m10 23h0" stroke="#8232a0" stroke-width="12" stroke-linecap="round" stroke-opacity="0.95" fill="none"/>
<path transform="scale(.1)" d="M2904 3642h0m27 65h0m-3 27h0" stroke="#f0be8c" stroke-width="12" stroke-linecap="round" stroke-opacity="0.95" fill="none"/>
<path transform="scale(.1)" d="M2721 3686h0m3-1h0m5 5h0m8 7h0m7 6h0" stroke="#f06e50" stroke-width="12" stroke-linecap="round" stroke-opacity="0.95" fill="none"/>
<path transform="scale(.1)" d="M3015 3596h0m-7-13h0m-5 16h0m-56-2h0m8 5h0m12 1h0m94-3h0" stroke="#dcdc96" stroke-width="12" stroke-linecap="round" stroke-opacity="0.95" fill="none"/>
<path transform="scale(.1)" d="M2734 3504h0m52 30h0m12 8h0" stroke="#d2143c" stroke-width="12" stroke-linecap="round" stroke-opacity="0.95" fill="none"/>
<path transform="scale(.1)" d="M2726 3469h0" stroke="#783caa" stroke-width="12" stroke-linecap="round" stroke-opacity="0.95" fill="none"/>
<path transform="scale(.1)" d="M2711 3460h0m67 51h0m-21 0h0m-7-6h0m45 22h0m8 11h0" stroke="#6446aa" stroke-width="12" stroke-linecap="round" stroke-opacity="0.95" fill="none"/>
<path transform="scale(.1)" d="M2834 3559h0" stroke="#aa1e6e" stroke-width="12" stroke-linecap="round" stroke-opacity="0.95" fill="none"/>
<path transform="scale(.1)" d="M2807 3513h0m-29 2h0m-31-19h0m71 48h0" stroke="#8c32a0" stroke-width="12" stroke-linecap="round" stroke-opacity="0.95" fill="none"/>
<path transform="scale(.1)" d="M2761 3490h0m22 40h0" stroke="#aa1e78" stroke-width="12" stroke-linecap="round" stroke-opacity="0.95" fill="none"/>
<path transform="scale(.1)" d="M2740 3469h0m41 48h0" stroke="#5a50b4" stroke-width="12" stroke-linecap="round" stroke-opacity="0.95" fill="none"/>
<path transform="scale(.1)" d="M2768 3668h0" stroke="#e65032" stroke-width="12" stroke-linecap="round" stroke-opacity="0.95" fill="none"/>
<path transform="scale(.1)" d="M2796 3529h0" stroke="#a02878" stroke-width="12" stroke-linecap="round" stroke-opacity="0.95" fill="none"/>
<path transform="scale(.1)" d="M2761 3502h0m-26 1h0" stroke="#b41e6e" stroke-width="12" stroke-linecap="round" stroke-opacity="0.95" fill="none"/>
<path transform="scale(.1)" d="M2706 3476h0m143 90h0" stroke="#6e3caa" stroke-width="12" stroke-linecap="round" stroke-opacity="0.95" fill="none"/>
<path transform="scale(.1)" d="M2822 3544h0m8 7h0" stroke="#465ab4" stroke-width="12" stroke-linecap="round" stroke-opacity="0.95" fill="none"/>
<path transform="scale(.1)" d="M2913 3608h0m7 12h0m35 10h0m23 6h0" stroke="#f0dca0" stroke-width="12" stroke-linecap="round" stroke-opacity="0.95" fill="none"/>
<path transform="scale(.1)" d="M2666 3715h0m34 35h0m-34-14h0m-10 10h0m16 15h0" stroke="#f09682" stroke-width="12" stroke-linecap="round" stroke-opacity="0.95" fill="none"/>
<path transform="scale(.1)" d="M2820 3545h0" stroke="#5a46aa" stroke-width="12" stroke-linecap="round" stroke-opacity="0.95" fill="none"/>
<path transform="scale(.1)" d="M2750 3494h0m66 46h0" stroke="#962896" stroke-width="12" stroke-linecap="round" stroke-opacity="0.95" fill="none"/>
<path transform="scale(.1)" d="M2764 3525h0m47 14h0" stroke="#c81450" stroke-width="12" stroke-linecap="round" stroke-opacity="0.95" fill="none"/>
<path transform="scale(.1)" d="M2715 3472h0m21-15h0m-34 23h0" stroke="#783ca0" stroke-width="12" stroke-linecap="round" stroke-opacity="0.95" fill="none"/>
<path transform="scale(.1)" d="M2954 3747h0m-17 40h0m8 4h0m11-27h0" stroke="#f0c8a0" stroke-width="12" stroke-linecap="round" stroke-opacity="0.95" fill="none"/>
<path transform="scale(.1)" d="M2766 3498h0" stroke="#2864be" stroke-width="12" stroke-linecap="round" stroke-opacity="0.95" fill="none"/>
<path transform="scale(.1)" d="M2754 3675h0" stroke="#e65a3c" stroke-width="12" stroke-linecap="round" stroke-opacity="0.95" fill="none"/>
<path transform="scale(.1)" d="M2987 3627h0" stroke="#f0e6a0" stroke-width="12" stroke-linecap="round" stroke-opacity="0.95" fill="none"/>
<path transform="scale(.1)" d="M2755 3464h0" stroke="#4650b4" stroke-width="12" stroke-linecap="round" stroke-opacity="0.95" fill="none"/>
<path transform="scale(.1)" d="M2881 3715h0m1 23h0" stroke="#f0a064" stroke-width="12" stroke-linecap="round" stroke-opacity="0.95" fill="none"/>
<path transform="scale(.1)" d="M2951 3742h0" stroke="#f0c896" stroke-width="12" stroke-linecap="round" stroke-opacity="0.95" fill="none"/>
<path d="M267.5 347 L281 361.5 C284 366 289 369 293 368 C298 366.5 299.5 360 298 355 C296 350.5 291 349.5 287 351 C284.5 352 283 354 283 356" fill="none" stroke="#444" stroke-width="0.6"/>
<text font-size="6.84" transform="translate(341.1 330.2) scale(0.877 1)" stroke="#161616" stroke-width="0.05">pseudotime</text>
<defs><linearGradient id="pst" x1="0" x2="0" y1="0" y2="1"><stop offset="0" stop-color="#d0103a"/><stop offset="0.3" stop-color="#e84a30"/><stop offset="0.52" stop-color="#f08a38"/><stop offset="0.58" stop-color="#f4d86a"/><stop offset="0.72" stop-color="#a8d080"/><stop offset="0.88" stop-color="#30b0a8"/><stop offset="1" stop-color="#1a6a90"/></linearGradient></defs>
<rect x="341.4" y="337.6" width="3.8" height="53.4" fill="url(#pst)"/>
<text font-size="7.18" transform="translate(347 340.4) scale(0.877 1)" stroke="#161616" stroke-width="0.05">41</text>
<text font-size="7.18" transform="translate(347 353.5) scale(0.877 1)" stroke="#161616" stroke-width="0.05">27</text>
<text font-size="7.18" transform="translate(347 366.6) scale(0.877 1)" stroke="#161616" stroke-width="0.05">12</text>
<text font-size="7.18" transform="translate(347 379.8) scale(0.877 1)" stroke="#161616" stroke-width="0.05">8</text>
<text font-size="7.18" transform="translate(347 393) scale(0.877 1)" stroke="#161616" stroke-width="0.05">0</text>
<text font-size="10.4" font-weight="bold" fill="#000" x="383.5" y="332.1" stroke="#000" stroke-width="0.05">H</text>
<line x1="411.5" y1="327.8" x2="411.5" y2="383.2" stroke="#262626" stroke-width="1.15"/>
<line x1="409.5" y1="337.5" x2="411.5" y2="337.5" stroke="#262626" stroke-width="0.9"/>
<text font-size="7.18" text-anchor="end" transform="translate(407 339.2) scale(0.877 1)" stroke="#161616" stroke-width="0.05">5</text>
<line x1="409.5" y1="347.5" x2="411.5" y2="347.5" stroke="#262626" stroke-width="0.9"/>
<text font-size="7.18" text-anchor="end" transform="translate(407 349.9) scale(0.877 1)" stroke="#161616" stroke-width="0.05">0</text>
<line x1="409.5" y1="358.5" x2="411.5" y2="358.5" stroke="#262626" stroke-width="0.9"/>
<text font-size="7.18" text-anchor="end" transform="translate(407 360.6) scale(0.877 1)" stroke="#161616" stroke-width="0.05">−5</text>
<line x1="409.5" y1="369.5" x2="411.5" y2="369.5" stroke="#262626" stroke-width="0.9"/>
<text font-size="7.18" text-anchor="end" transform="translate(407 371.8) scale(0.877 1)" stroke="#161616" stroke-width="0.05">−10</text>
<line x1="409.5" y1="380.5" x2="411.5" y2="380.5" stroke="#262626" stroke-width="0.9"/>
<text font-size="7.18" text-anchor="end" transform="translate(407 382.8) scale(0.877 1)" stroke="#161616" stroke-width="0.05">−15</text>
<line x1="410.9" y1="382.5" x2="495" y2="382.5" stroke="#262626" stroke-width="1.15"/>
<line x1="422.5" y1="382.5" x2="422.5" y2="384.5" stroke="#262626" stroke-width="0.9"/>
<text font-size="7.18" text-anchor="middle" transform="translate(422.4 394) scale(0.877 1)" stroke="#161616" stroke-width="0.05">−10</text>
<line x1="443.5" y1="382.5" x2="443.5" y2="384.5" stroke="#262626" stroke-width="0.9"/>
<text font-size="7.18" text-anchor="middle" transform="translate(443.8 394) scale(0.877 1)" stroke="#161616" stroke-width="0.05">0</text>
<line x1="465.5" y1="382.5" x2="465.5" y2="384.5" stroke="#262626" stroke-width="0.9"/>
<text font-size="7.18" text-anchor="middle" transform="translate(465.1 394) scale(0.877 1)" stroke="#161616" stroke-width="0.05">10</text>
<line x1="486.5" y1="382.5" x2="486.5" y2="384.5" stroke="#262626" stroke-width="0.9"/>
<text font-size="7.18" text-anchor="middle" transform="translate(486.4 394) scale(0.877 1)" stroke="#161616" stroke-width="0.05">20</text>
<path transform="scale(.1)" d="M4446 3312h0m16 7h0m13-19h0m60 11h0m2-2h0m6 4h0m5 6h0m13 0h0m11-14h0m18 7h0m15-11h0m98 39h0m-14 7h0m-32 8h0m-3-1h0m-4-3h0m-9 1h0m-19-9h0m-1-12h0m-3 18h0m-4-5h0m-4-6h0m-10 10h0m-1-12h0m-12 14h0m-2-8h0m-2 2h0m-3 14h0m-1-15h0m-8-7h0m0 21h0m-1-8h0m-2-9h0m0-16h0m-4 23h0m0 5h0m-1 5h0m-5-29h0m-2 30h0m-9-10h0m-4-9h0m0 19h0m-1-22h0m0 7h0m-2 4h0m-8 0h0m-2-15h0m-1 8h0m-1-1h0m-1 15h0m-6-5h0m-2-29h0m-2 11h0m-1-2h0m-1 14h0m-3-9h0m-2-14h0m-3 28h0m0-2h0m0-5h0m-3 12h0m-1-5h0m0 8h0m-1-20h0m-2 9h0m-1 3h0m0 10h0m-3-12h0m-6-21h0m-4 1h0m-3 25h0m-4-3h0m-1-27h0m0 18h0m-1-10h0m-1 25h0m-1 5h0m-1-36h0m0 22h0m-5 11h0m-5-2h0m0-7h0m0-15h0m-5 2h0m-6 23h0m-1-12h0m-2-6h0m-1 13h0m0 4h0m-7-19h0m-1-3h0m-2 25h0m-13-8h0m-8-6h0m-33-13h0m18 67h0m22-2h0m2-10h0m2-14h0m0 3h0m1 3h0m5-9h0m5 26h0m0-1h0m2-23h0m2 9h0m0 3h0m1 12h0m1-9h0m1 4h0m1-29h0m1 1h0m0 25h0m0 6h0m1 2h0m0-27h0m0 17h0m3-24h0m0 11h0m3 8h0m0 18h0m1 0h0m2-37h0m1 25h0m1 2h0m1-12h0m1-13h0m1 16h0m1-2h0m0-8h0m1 26h0m0-6h0m1 2h0m0 6h0m1-4h0m1-2h0m0-10h0m0 13h0m1 2h0m1-25h0m1 5h0m0 10h0m0-15h0m2 19h0m1-3h0m0-12h0m1-10h0m0-1h0m1 17h0m0 13h0m3-22h0m3 13h0m0-1h0m1 2h0m0-24h0m0 33h0m1-24h0m0 11h0m1-6h0m1 5h0m0-7h0m1 12h0m0 7h0m1 1h0m1-25h0m1 21h0m1-26h0m0 1h0m2 0h0m0 26h0m0-13h0m0-4h0m2-2h0m0 8h0m1-20h0m1 3h0m0 11h0m1 17h0m1-29h0m0-2h0m1 34h0m1-8h0m0-3h0m2 0h0m2-4h0m0 16h0m1-21h0m0 12h0m1-23h0m0 17h0m1-6h0m0 18h0m0-27h0m0 18h0m1 15h0m0-19h0m0 11h0m2 2h0m1-26h0m1 16h0m0-6h0m0 1h0m0 19h0m1-13h0m1 4h0m1-8h0m0 17h0m2-36h0m1-1h0m0 8h0m0 15h0m2 12h0m0-2h0m1 1h0m0 2h0m0 0h0m0-21h0m1-7h0m0 28h0m1 3h0m0 0h0m0-15h0m0-7h0m1 2h0m0 13h0m3-19h0m0 10h0m0-1h0m1 12h0m2-2h0m0 7h0m0-7h0m0-12h0m2 11h0m0 0h0m0 8h0m0-1h0m1-9h0m2 3h0m0 3h0m0-7h0m0 1h0m1 0h0m0-24h0m1 0h0m1 10h0m0 7h0m0-3h0m1 5h0m0 9h0m0-27h0m0 20h0m1-22h0m1 35h0m0 0h0m0-36h0m1 29h0m2-26h0m0 26h0m0 1h0m1-10h0m1-23h0m1 14h0m0 22h0m1-11h0m1-11h0m0 24h0m1-8h0m1-11h0m0 16h0m0-6h0m2 2h0m0-12h0m0-3h0m1 13h0m1-24h0m1 14h0m0-10h0m1 20h0m1-10h0m1 8h0m0-18h0m0 12h0m0-7h0m1 17h0m2-6h0m1-11h0m0-5h0m0 21h0m1 6h0m2-25h0m0 8h0m0-17h0m0 7h0m1 1h0m1-5h0m2 32h0m0-24h0m1-5h0m0 22h0m1 8h0m1-1h0m0-12h0m1-11h0m1 16h0m0-19h0m1 2h0m2-8h0m2 21h0m1-1h0m0 10h0m1 3h0m0-15h0m1 2h0m1-4h0m0 4h0m3-11h0m0 5h0m2 16h0m0-5h0m3-16h0m1-4h0m0-10h0m1 29h0m2-10h0m2 18h0m0-35h0m2 37h0m1-6h0m1-19h0m0-10h0m2-2h0m0 30h0m0 0h0m2-14h0m1 12h0m0-22h0m0 6h0m0 20h0m1 4h0m4-15h0m0 8h0m1-3h0m2-28h0m5 30h0m0-6h0m0 7h0m1-26h0m3 15h0m3 6h0m3 5h0m4 2h0m0 5h0m2-14h0m4 12h0m1-11h0m1 5h0m4 8h0m4 0h0m0-10h0m1-4h0m4 10h0m0-1h0m7-2h0m8 4h0m3-6h0m15-4h0m9 12h0m1-24h0m31 43h0m-12 1h0m-2 21h0m-5-19h0m-7 20h0m-6-4h0m-1 2h0m-3 1h0m-4-4h0m0-17h0m-6 7h0m-1-19h0m-7 7h0m-1 23h0m0-30h0m0 4h0m-2 16h0m-2-6h0m-3 9h0m-3-15h0m-1 13h0m-1-5h0m-1-4h0m-2 18h0m-1-19h0m0 6h0m-1-8h0m0 21h0m-1-28h0m-2-5h0m0 17h0m-1-8h0m-2 3h0m-2-10h0m0 4h0m-2 3h0m-2 21h0m-1-28h0m0 6h0m-2-2h0m0-7h0m-2 14h0m-1 0h0m-5 24h0m0-27h0m0 9h0m-1 13h0m-2-27h0m-4 15h0m0 9h0m0-18h0m0 21h0m-1-1h0m0-12h0m0 1h0m-1-1h0m-1-10h0m0 18h0m-1-13h0m-1-3h0m0 22h0m-1 0h0m-1-8h0m-1-9h0m0 3h0m0 17h0m-1-8h0m-1 4h0m0-9h0m0 7h0m0-25h0m-1 6h0m0 15h0m-1-11h0m0-2h0m0 18h0m-1-24h0m-4 10h0m0-3h0m0-4h0m-2 22h0m0 4h0m0-15h0m0-10h0m-4 14h0m0 2h0m-1-5h0m0-8h0m0-8h0m-1 9h0m0 8h0m0 1h0m-1-14h0m0 10h0m0 15h0m0-9h0m-1-22h0m-1 23h0m-1-17h0m-1-2h0m0 7h0m0 9h0m-1 0h0m0-1h0m0-18h0m0 31h0m-2 0h0m0-10h0m0-27h0m-1 0h0m0 7h0m0 31h0m0-21h0m0-16h0m-1 8h0m0 29h0m-1-13h0m-1-8h0m0-7h0m-1 16h0m0-1h0m0 8h0m-1-13h0m0-5h0m0 3h0m0 14h0m-1-9h0m-1-17h0m0-3h0m0 33h0m0-6h0m0-23h0m0 3h0m-1-10h0m0 20h0m0 3h0m-1-14h0m-1 3h0m0 18h0m0-24h0m0 23h0m0-6h0m0 0h0m0-1h0m-1 15h0m0-34h0m0 11h0m-1-15h0m0 29h0m0-17h0m0 20h0m-1-21h0m0 2h0m0 23h0m0-8h0m0-20h0m-1 31h0m0-24h0m0-5h0m0 11h0m-1 5h0m0-6h0m0 1h0m0 12h0m-1-14h0m0 9h0m0-8h0m-1-16h0m0 8h0m-1 17h0m0-10h0m-1 4h0m0-20h0m-1 34h0m0-19h0m0 0h0m0-16h0m0 30h0m-1-15h0m0 0h0m-1 1h0m0-13h0m0 32h0m0-21h0m0 17h0m0-16h0m0 20h0m-1-4h0m0 0h0m0-4h0m0-10h0m-1-5h0m0 15h0m0-19h0m-1-8h0m0 34h0m0 1h0m-1-3h0m0-32h0m0 27h0m-1 0h0m0-12h0m-1 18h0m0-8h0m-2-20h0m0 14h0m0 17h0m-1-1h0m-1-37h0m0 23h0m0-8h0m0 23h0m-1-36h0m0 7h0m0-3h0m0-3h0m0 20h0m0 0h0m-1-17h0m0 26h0m-1-6h0m0-10h0m-1-7h0m-1 26h0m-2-13h0m0-18h0m-1 5h0m0-1h0m-1 12h0m0 1h0m0 1h0m0 12h0m-1-25h0m-1 1h0m0 5h0m0-6h0m-1 12h0m0-20h0m-1 9h0m0-9h0m-1 0h0m0 32h0m-1-29h0m0 12h0m-1-15h0m0 7h0m0-8h0m0 16h0m-1 20h0m0-25h0m-1 5h0m0 8h0m0-1h0m0 0h0m-1-10h0m0 21h0m-1-10h0m0-15h0m0 26h0m0-34h0m0 36h0m-1-3h0m0-30h0m0 12h0m0-8h0m-1 5h0m0 6h0m-1 16h0m-1-18h0m0 18h0m0-3h0m0-2h0m-1-21h0m0 8h0m-2-2h0m0 6h0m0 18h0m0-28h0m-1 21h0m-1-26h0m0-5h0m-1 28h0m0-1h0m0-11h0m0 17h0m-2 0h0m-1-31h0m0 2h0m-1 17h0m-1-14h0m0 0h0m0 25h0m0-2h0m-2 4h0m-1-21h0m0-3h0m0 0h0m0 22h0m-1-23h0m-1 15h0m0-17h0m0 22h0m-1 1h0m0 6h0m0-35h0m0 1h0m0 34h0m-1 2h0m0-2h0m0-2h0m0-28h0m0 5h0m-1 7h0m0 0h0m-1-11h0m0 16h0m-1 4h0m0 10h0m-1 0h0m-1-7h0m0 1h0m0-11h0m0-21h0m0 34h0m-2-24h0m0 19h0m-1 3h0m0-27h0m-1 4h0m0 28h0m-2-36h0m0 38h0m-1-37h0m0-1h0m0 23h0m-1-24h0m0 23h0m0-12h0m-1-4h0m0 27h0m0-7h0m-2-4h0m0-3h0m0-6h0m-1 5h0m0 8h0m-1-5h0m0-22h0m0 36h0m0-30h0m-1 18h0m0-21h0m0 12h0m-1 7h0m-1-1h0m0-14h0m-1 16h0m-1-22h0m0 6h0m-1 25h0m0-7h0m-1 0h0m-1-1h0m0-18h0m0 28h0m0-11h0m0-2h0m-1-5h0m0 4h0m-2-18h0m0 9h0m0 4h0m-1-7h0m-1 20h0m0-17h0m-1 15h0m0-2h0m0 10h0m-1-6h0m-1-5h0m-1-12h0m0 9h0m0 15h0m-1 1h0m0 1h0m0-3h0m-1-6h0m0-18h0m-1 1h0m-1 15h0m0-18h0m-1 25h0m0 1h0m0-3h0m-1-15h0m0-5h0m-1 23h0m0-27h0m0 11h0m-1 0h0m0 17h0m0-14h0m-1-4h0m-2 21h0m0-16h0m-1-13h0m0 11h0m-1-17h0m0 34h0m-1-20h0m-1 3h0m-1 5h0m0-21h0m0 8h0m0 17h0m-1 8h0m0-15h0m0-7h0m-1 0h0m0 2h0m-1 19h0m-1-7h0m0-28h0m0 26h0m-1-13h0m-1 12h0m0-19h0m-1 25h0m-1-12h0m0 15h0m-1-9h0m0-13h0m0 22h0m0-32h0m-1 19h0m0-7h0m0 19h0m-2-7h0m0-11h0m-1-6h0m0-5h0m0 15h0m-1 11h0m-1-13h0m0 10h0m-4-12h0m0 17h0m-2-30h0m0 29h0m-1-7h0m0 4h0m-1-14h0m-1-7h0m-1-6h0m0 13h0m-1 9h0m-2 1h0m-3-23h0m0 33h0m-1 4h0m0-7h0m-1 7h0m0-26h0m-1-2h0m0 23h0m-1-14h0m-1-4h0m-1-12h0m-2 1h0m-15 23h0m-1-24h0m-2 7h0m-4 3h0m-14-9h0m-8 15h0m-1-5h0m-31-6h0m34 37h0m13 22h0m3 6h0m0-9h0m1 11h0m14-15h0m4-18h0m2 3h0m1 0h0m3 3h0m2 12h0m1 18h0m4 0h0m0-29h0m3 15h0m0-19h0m1-3h0m1 33h0m2-21h0m2-5h0m2 15h0m4 9h0m4-2h0m2-1h0m2-19h0m2 15h0m1-7h0m2-3h0m2 0h0m1-7h0m1-4h0m1 2h0m0 17h0m0-10h0m1-2h0m1 14h0m1-2h0m0-13h0m2 17h0m0-18h0m3 25h0m2-34h0m0 9h0m0 11h0m1-15h0m0 22h0m0-14h0m2 19h0m1-25h0m0 19h0m0-16h0m1 11h0m0-18h0m1 15h0m1-5h0m2 6h0m0 3h0m0 11h0m1 3h0m1-13h0m2-6h0m3-17h0m0 4h0m1-6h0m1 35h0m1-35h0m0 16h0m3-11h0m0 0h0m1 13h0m3 4h0m0 2h0m1-5h0m1-4h0m0-8h0m1 25h0m0-2h0m0-29h0m1 27h0m0-17h0m2 10h0m2 0h0m0-19h0m0 9h0m0-3h0m0 16h0m1-3h0m1 0h0m1 4h0m0-20h0m0 5h0m1 7h0m0 3h0m2 5h0m1-7h0m1-12h0m1 7h0m0-13h0m1 19h0m0-12h0m2 18h0m2-22h0m0 2h0m0 6h0m1 18h0m0-27h0m2 24h0m0 3h0m0-7h0m1-12h0m0 6h0m0-3h0m1-11h0m0 16h0m0 0h0m0 21h0m0-28h0m1-5h0m1 18h0m0-8h0m2 9h0m1-25h0m0 16h0m0 12h0m1-20h0m0-6h0m1 35h0m0-28h0m0-2h0m0-6h0m1 25h0m1-17h0m1 30h0m0-11h0m1-3h0m0-20h0m1 12h0m2 0h0m1-9h0m0-5h0m1 2h0m0 12h0m1-4h0m0-2h0m1 28h0m0-38h0m1 15h0m0-13h0m0 22h0m1-20h0m0 15h0m0 8h0m1-1h0m1-3h0m0 0h0m0-5h0m0 0h0m0 6h0m0-24h0m1 24h0m1 1h0m0-3h0m1-11h0m0-6h0m1 3h0m0 6h0m0-2h0m0 22h0m0-25h0m0-3h0m1 7h0m0 12h0m0-19h0m1 20h0m0 12h0m0-19h0m0 19h0m2-8h0m0-6h0m0-16h0m0 13h0m1-10h0m1 0h0m2-11h0m0 26h0m0 3h0m1-24h0m0 33h0m0-4h0m0-2h0m0-33h0m0 31h0m2-8h0m1-4h0m0-11h0m0-5h0m1 2h0m0 8h0m0-9h0m0 3h0m1 5h0m0 12h0m0-4h0m0-17h0m0 19h0m0-4h0m0 13h0m1 3h0m0-33h0m0 4h0m0 25h0m0 0h0m1-25h0m0-2h0m0 25h0m0-2h0m1-11h0m0 0h0m0 3h0m0-17h0m1 6h0m1 20h0m0-13h0m1 11h0m1-12h0m1 8h0m0-10h0m1 25h0m2-32h0m0-4h0m0 26h0m0-13h0m0-1h0m1 16h0m0-25h0m2 8h0m0 25h0m0 3h0m0-18h0m0 6h0m0-7h0m0-18h0m1 9h0m0 18h0m0-23h0m0 24h0m0-8h0m1-12h0m1-5h0m2 25h0m0-2h0m1-18h0m0 8h0m0 20h0m0-16h0m1-21h0m0 30h0m0-25h0m0 9h0m0 1h0m1 14h0m0 4h0m1-10h0m0-17h0m0 18h0m2-12h0m0 20h0m1-28h0m0 16h0m2-11h0m0 10h0m1-15h0m1 17h0m0-12h0m1 5h0m0 8h0m1-14h0m0-9h0m0 32h0m1-29h0m0 4h0m1 23h0m0-17h0m0-8h0m1 18h0m1 1h0m0-3h0m0-5h0m0 1h0m1 2h0m0-4h0m1 18h0m0-27h0m1 26h0m0-11h0m0 6h0m1-26h0m0 15h0m2-8h0m0-1h0m1 11h0m0 7h0m0-9h0m1-1h0m1 8h0m0 3h0m0 9h0m1-24h0m0 13h0m1-9h0m0 20h0m1-15h0m0-6h0m1-6h0m0 22h0m0-3h0m0-19h0m0 18h0m1-26h0m0 31h0m0-30h0m2 35h0m0-15h0m1 13h0m0 2h0m1-36h0m0 10h0m0 28h0m0-29h0m2 15h0m1 13h0m0-21h0m0 20h0m0-21h0m1 10h0m0 7h0m1-19h0m0-7h0m0-5h0m1 1h0m0 31h0m0-15h0m1 8h0m0-25h0m1 9h0m1 19h0m0 9h0m0-9h0m1-3h0m1-2h0m2-14h0m0 14h0m1-15h0m1 10h0m0 13h0m1-23h0m1 15h0m0-18h0m2 19h0m0 0h0m0-12h0m1 23h0m0-26h0m0 20h0m0-16h0m2 18h0m0 6h0m0-36h0m2 29h0m2-7h0m0-2h0m1-20h0m0-1h0m1 32h0m0 4h0m2-24h0m0-10h0m1 23h0m1-17h0m1 12h0m1 8h0m1-14h0m1-13h0m1 11h0m1 21h0m2 2h0m1-31h0m2 13h0m0 8h0m0-4h0m1 7h0m0-7h0m2 17h0m1-24h0m0 18h0m0-25h0m1 16h0m1 3h0m1-26h0m0 37h0m0-11h0m3-23h0m0 1h0m4 14h0m3 3h0m1-16h0m2 31h0m2-35h0m1 5h0m2 14h0m2-5h0m0-15h0m2 14h0m0 2h0m0 7h0m2-9h0m1 22h0m4-10h0m17-18h0m1 6h0m3 22h0m4 36h0m-9-1h0m-1-7h0m0 10h0m-4-27h0m-6 12h0m-7-16h0m-2 4h0m-9-1h0m-2 6h0m-2 23h0m-5-11h0m0 9h0m-5-2h0m-2-32h0m0 2h0m0 7h0m-3-9h0m0 37h0m-1-9h0m-3 5h0m-2 5h0m0-2h0m-1-21h0m-1 22h0m0 0h0m-1-6h0m-1 0h0m-2 0h0m-2 5h0m-1-34h0m-2 9h0m-1-7h0m-1-4h0m-2 22h0m-1-22h0m0 22h0m-4-3h0m-1 11h0m-3-4h0m0-20h0m-5 5h0m0 1h0m-1-4h0m-1 14h0m0 12h0m-1-26h0m-1 20h0m-1-25h0m-1 5h0m-1 30h0m0-15h0m0-16h0m0 20h0m-1-9h0m0-9h0m0 5h0m-3 8h0m0-11h0m0-3h0m-1 4h0m-1 0h0m0 7h0m0-3h0m0-5h0m-1-4h0m-1 11h0m0-6h0m0 11h0m0-3h0m-1-20h0m-2 3h0m-1 8h0m-1 18h0m-1-2h0m-1-12h0m0 13h0m0-16h0m0 25h0m-1 2h0m0-23h0m0-5h0m0 28h0m-1-9h0m0-28h0m-1 35h0m0-36h0m0 20h0m-1-10h0m0-8h0m0 14h0m0-17h0m0 17h0m0 15h0m-1-16h0m-1-5h0m0 1h0m-1 20h0m0-31h0m-1 19h0m-1 11h0m-2-11h0m-1-12h0m-1-2h0m0 14h0m0 18h0m-1-26h0m0-10h0m0 35h0m0-30h0m-1 6h0m-1 23h0m-1-20h0m0-16h0m-1 27h0m0-8h0m0-3h0m-1 14h0m0 5h0m-1-25h0m0 8h0m-1-11h0m-1 27h0m-1-18h0m-1-8h0m0 12h0m0-15h0m0 31h0m-5-13h0m-2-13h0m0 5h0m-1 15h0m-1-14h0m-1 13h0m0 6h0m0-5h0m0-30h0m0 28h0m-2-13h0m0 17h0m-1-5h0m0-20h0m-1 5h0m-2-12h0m0 32h0m-2-13h0m0-6h0m-2 7h0m0 19h0m0-17h0m-1-2h0m-1-10h0m-1 10h0m-1-1h0m-3-16h0m-1 26h0m-1-15h0m-2-13h0m0 19h0m-1-7h0m0 14h0m-3-17h0m0-10h0m0 35h0m0-30h0m-1 22h0m-1-6h0m-3 3h0m0 6h0m0-23h0m-2 4h0m-2-5h0m0-2h0m-3 31h0m0-21h0m-1 23h0m-1-4h0m-1-29h0m-3 34h0m-2-16h0m-1-9h0m-4-10h0m0 5h0m-1 19h0m-3 7h0m-4-28h0m0-5h0m-2 8h0m0-1h0m-1 17h0m-1-9h0m-1 11h0m-3-17h0m-1-3h0m-10 2h0m-2-6h0m-7-2h0m-1 8h0m-10 30h0m-1-37h0m-4 1h0m-8-3h0m-7 5h0m-3 7h0m-8 12h0m-3-13h0m-1 12h0m-7 14h0m-3-10h0m23 23h0m7-6h0m31 19h0m8-14h0m1 18h0m5 12h0m5-11h0m10-19h0m3 13h0m13-18h0m0 24h0m2-16h0m3 7h0m6-12h0m2-5h0m2 15h0m2-17h0m0 0h0m0 16h0m1 0h0m4 12h0m3-5h0m4-18h0m0-1h0m4 5h0m1-4h0m4 6h0m9-8h0m1 30h0m2 3h0m2-32h0m1 12h0m4 19h0m0-27h0m3-3h0m1 20h0m0-17h0m3 2h0m5 4h0m5-5h0m3 2h0m4 0h0m2 23h0m0-3h0m0-3h0m2-25h0m7 2h0m0 20h0m9-2h0m2-3h0m1 5h0m7 10h0m3-33h0m2 3h0m5 8h0m12-11h0m0 21h0m2-16h0m7 3h0m2 19h0m2-12h0m4-11h0m4 4h0m2-1h0m6 4h0m3-13h0m3 11h0m9-1h0m14 5h0m7 55h0m-7 5h0m-6-23h0m-4 3h0m-6 17h0m-3-3h0m-13 10h0m-9-15h0m-7-6h0m-3 6h0m0-4h0m-7-1h0m-1-19h0m-4 36h0m-4-16h0m0-20h0m-2 22h0m-4 5h0m-9-2h0m-3-22h0m-4 0h0m-3 31h0m-18-20h0m-5-7h0m-1 19h0m-32 10h0m-34-31h0m-31-5h0m42 69h0m3-20h0m7 6h0m21-13h0m9 29h0m15 3h0m36 1h0m5-8h0m4-16h0m7 3h0m7 7h0m21 11h0m13-26h0m6-1h0m17 24h0m27-28h0m14 10h0m0 26h0m42-20h0m-42 53h0m-55-4h0m-2 8h0m-7 2h0m-1 2h0m-38-37h0m-5 3h0m-1 1h0m-7 25h0m-4-16h0m-15-1h0m-10-11h0m-2 10h0m-27 15h0m36 31h0m20-12h0m17 18h0m10-23h0m18 27h0m2 0h0m17-10h0m3-3h0m147 8h0m-139 53h0m-69-28h0m-129-1h0" stroke="#2a66c2" stroke-width="12" stroke-linecap="round" fill="none"/>
<path transform="scale(.1)" d="M4395 3359h0m-34-9h0m-2 6h0m0-13h0m-1-10h0m-10 23h0m-7-19h0m-1 20h0m-9-6h0m0-6h0m-6 7h0m-1-7h0m-2-16h0m-3 4h0m-7 15h0m-4-15h0m-11 1h0m-11 3h0m-13 19h0m-14 10h0m9 24h0m0-15h0m2 12h0m8 10h0m3-19h0m2-11h0m6-2h0m1 33h0m1-2h0m2-22h0m0 21h0m1-2h0m2 3h0m1-29h0m1-3h0m1-4h0m1 25h0m3 5h0m2 4h0m0-33h0m0 20h0m2 12h0m0-10h0m1-22h0m1 37h0m0-7h0m2 4h0m1-11h0m0 0h0m1-6h0m1 1h0m1 14h0m0-10h0m2-21h0m3 12h0m0-6h0m0 20h0m1-2h0m0 12h0m1-25h0m3 20h0m1 5h0m1-1h0m1 1h0m0-5h0m1-7h0m2 8h0m0-2h0m1-29h0m1 28h0m3-30h0m0 1h0m0 34h0m1-2h0m0-19h0m3 3h0m0 14h0m2-22h0m1 4h0m0 16h0m0 4h0m1 1h0m0-27h0m2 26h0m0-12h0m1 11h0m3-2h0m2-2h0m1-13h0m0 22h0m0-26h0m1 14h0m2-9h0m2 2h0m0 14h0m1-23h0m3 0h0m0 1h0m3 5h0m0-10h0m1 4h0m2 23h0m1-15h0m5-17h0m1 32h0m2 4h0m0-30h0m1 8h0m1 13h0m1-9h0m7 17h0m2 3h0m7-23h0m3 19h0m14-7h0m26-4h0m36 19h0m-17 34h0m-14-18h0m-1 12h0m-3-17h0m-10 13h0m-1 10h0m0-7h0m-9-14h0m-2 2h0m-1-3h0m-1 10h0m-1 12h0m0-13h0m-2-3h0m0 13h0m-2-10h0m-2 15h0m-2-5h0m-2-13h0m-2-8h0m0 11h0m-1-10h0m-2-7h0m0 19h0m-1-12h0m-1-10h0m-1 17h0m-1-2h0m0-1h0m0 5h0m0-13h0m-2 17h0m-1-1h0m0-18h0m-1 15h0m0 16h0m-1-33h0m-2 25h0m-1-11h0m0 2h0m0 10h0m0 3h0m0 0h0m-2-1h0m0-1h0m-1-30h0m0 20h0m-2-8h0m-1 20h0m0-17h0m0 20h0m-1-24h0m0 15h0m0-2h0m-1 3h0m0 3h0m0-24h0m0 25h0m0-28h0m-1 18h0m-1-20h0m0 9h0m-1 26h0m-1-31h0m0 30h0m0-3h0m0 1h0m-1-36h0m0 26h0m-1-8h0m-1-6h0m0-2h0m-1 10h0m0 10h0m-1 5h0m-1-28h0m0-7h0m-1 8h0m-1 10h0m-1 6h0m-1 2h0m-1-6h0m0-9h0m0 21h0m0-24h0m-1 28h0m0-35h0m0 24h0m0-9h0m-2 4h0m-1 6h0m0-5h0m0 17h0m0-6h0m-1-8h0m-1-18h0m0 7h0m0-6h0m-1 20h0m0 12h0m0-28h0m-1 6h0m-1 17h0m-1-18h0m0 18h0m0-30h0m-1 31h0m-1 3h0m0-34h0m-1 14h0m0-14h0m-1 0h0m0 8h0m0 27h0m-1-3h0m0 3h0m0-16h0m0 12h0m0-10h0m-1 9h0m0-11h0m0-15h0m0 31h0m-2-5h0m0-13h0m-1 5h0m0-14h0m0-7h0m0-3h0m0 27h0m-1-11h0m0-9h0m0 21h0m0 9h0m0-26h0m-1-6h0m-1 12h0m0 20h0m0-25h0m0-7h0m-1 16h0m0 13h0m0-12h0m0-12h0m-1 9h0m0 17h0m0-13h0m-1 3h0m0 6h0m0-23h0m0 19h0m0-10h0m-1 11h0m0-10h0m-1 2h0m0 0h0m0-16h0m-1 1h0m0 25h0m-1-15h0m0-2h0m0-15h0m0 31h0m0-4h0m-1-19h0m0 6h0m0-3h0m0 1h0m-2 10h0m0-3h0m0-15h0m0 19h0m0-22h0m-1 15h0m0-16h0m0 4h0m-1 9h0m0 0h0m-1 21h0m0 1h0m0-20h0m0 7h0m0-8h0m-1 9h0m-1-2h0m0 3h0m0-4h0m-1-7h0m0 15h0m-1 8h0m0-20h0m0-4h0m0 0h0m0-9h0m-1 34h0m0-36h0m-1 24h0m0 0h0m-1 6h0m-1-16h0m0-4h0m0 22h0m-1-11h0m0-22h0m0 8h0m-1 21h0m0 8h0m-1 1h0m-1-2h0m0-2h0m-1-21h0m0-11h0m0 19h0m-1 6h0m0-20h0m-1 22h0m0-3h0m0-16h0m0 19h0m-1-5h0m-1-12h0m-1-10h0m0 6h0m-1 3h0m0 1h0m-1 10h0m-1-12h0m0 19h0m-1-5h0m0-18h0m-1 26h0m0 2h0m0-16h0m0 5h0m0 5h0m0-2h0m0-2h0m-1 2h0m-3-9h0m0-8h0m-1-9h0m-1 31h0m0-14h0m0-17h0m-5 34h0m-1-28h0m0 4h0m0 24h0m-2-21h0m-1 22h0m0-32h0m-1 2h0m-1 13h0m0-1h0m-2 16h0m-1-27h0m-1 6h0m-2-4h0m-1 25h0m0-27h0m-2 32h0m0-16h0m-10 0h0m-1-3h0m0-6h0m-11-1h0m-2 7h0m-1-6h0m0 6h0m4 49h0m0-15h0m9 12h0m1 10h0m1-10h0m1-21h0m1 7h0m1 7h0m1-1h0m2-10h0m5 14h0m1-17h0m5 9h0m0-1h0m1 25h0m0-17h0m0-17h0m1 16h0m2 12h0m1-9h0m1-20h0m1-3h0m2 3h0m2 4h0m0 1h0m2 24h0m0-9h0m0 15h0m1-32h0m0 16h0m1 15h0m0-21h0m3 21h0m1-35h0m0 4h0m2 6h0m0 12h0m0-22h0m0 20h0m1-8h0m1 9h0m0 14h0m0-1h0m1-23h0m2 6h0m0-7h0m0 19h0m1-23h0m0 18h0m0 10h0m1-9h0m0-27h0m0 28h0m1 1h0m0-15h0m0 9h0m1 12h0m0 1h0m0-31h0m0 9h0m0 0h0m1 7h0m0 2h0m0-1h0m0-21h0m0 6h0m1 23h0m0-23h0m0 10h0m1-9h0m0 20h0m1-8h0m0 3h0m0 3h0m1-8h0m0 7h0m0-18h0m0 21h0m1-3h0m0 0h0m0-23h0m0-2h0m1 17h0m1 6h0m0-16h0m0 24h0m0-6h0m0 13h0m1-30h0m0 0h0m0 12h0m0-13h0m1 30h0m0-35h0m0 29h0m0-20h0m1 22h0m0-31h0m1 26h0m0-3h0m0-25h0m0 7h0m1 9h0m0 1h0m0-5h0m3-6h0m0 24h0m0-9h0m1 3h0m0-2h0m0 7h0m1 2h0m0-17h0m0-9h0m0 8h0m0-13h0m1 28h0m0-19h0m1-5h0m0 18h0m0 15h0m0-28h0m1 1h0m0 8h0m1 17h0m0-6h0m1 7h0m0-17h0m0-14h0m0 12h0m1-3h0m0 21h0m0-8h0m0 2h0m0-7h0m0 10h0m0-31h0m0 35h0m1-3h0m0-12h0m0 18h0m1-38h0m0 4h0m0 17h0m0 0h0m0 10h0m0-27h0m1 30h0m0-21h0m0-12h0m0 32h0m1-21h0m0-7h0m0 33h0m1-24h0m0-8h0m0 2h0m0-8h0m0 34h0m1-4h0m0-12h0m0 4h0m0 13h0m0-24h0m0 6h0m1 10h0m0-22h0m0 18h0m1 6h0m0 2h0m0-30h0m0 23h0m0 8h0m0 0h0m1-22h0m0-10h0m0 34h0m1-16h0m0 10h0m0 4h0m1-10h0m0-8h0m0 8h0m1-11h0m0 24h0m0 1h0m1-37h0m0 6h0m0 33h0m1-25h0m0-12h0m0 34h0m1-13h0m0-18h0m1 32h0m0-21h0m0 17h0m1-2h0m0-1h0m0-10h0m0 17h0m0 0h0m1-28h0m0-4h0m0 8h0m0 14h0m0 4h0m0-23h0m0 13h0m1-12h0m0 30h0m0-5h0m0-22h0m0-8h0m1 35h0m0-11h0m1 3h0m0-14h0m0 5h0m0 14h0m0-16h0m0 4h0m0-10h0m0 13h0m1-14h0m0-11h0m0 20h0m1 4h0m1 10h0m0-7h0m0 8h0m0-11h0m0-4h0m0 1h0m1-8h0m0 11h0m0 3h0m1 10h0m0-19h0m0 14h0m0-5h0m0 6h0m1-30h0m0 34h0m0-39h0m1 28h0m0-24h0m1 11h0m0 15h0m0 7h0m0-22h0m0 18h0m0-25h0m0 1h0m1 18h0m0 10h0m1-1h0m0 3h0m0-39h0m1 12h0m0 12h0m1 12h0m0-19h0m0 2h0m0 9h0m0-16h0m0 4h0m1-5h0m0-10h0m0 0h0m0 23h0m0 6h0m1-24h0m0-1h0m0 34h0m1-27h0m0 21h0m0-28h0m0 20h0m0-9h0m1 21h0m0-33h0m1 15h0m0-16h0m0 36h0m0-22h0m1 7h0m0-6h0m0 10h0m0-15h0m0-13h0m0 11h0m0-11h0m0 30h0m0 7h0m0-13h0m0 12h0m1-4h0m0-3h0m0 8h0m0-28h0m0 3h0m0-3h0m0 10h0m1 15h0m0-32h0m0 3h0m0 21h0m1 4h0m0-2h0m0-22h0m0-3h0m1 23h0m0 4h0m0-27h0m0 5h0m1 12h0m1 17h0m0 2h0m0-13h0m1 3h0m0-16h0m0 10h0m1-22h0m0 27h0m0 0h0m0 0h0m0 3h0m1 1h0m0-3h0m1 2h0m0-9h0m0-18h0m0 28h0m1-11h0m0 4h0m0-20h0m0 13h0m1 15h0m0 3h0m0 3h0m0-6h0m1 2h0m0-32h0m1 0h0m0 30h0m0-14h0m0 15h0m0-9h0m0-25h0m1 33h0m0-31h0m0 15h0m1 20h0m1 2h0m0-1h0m0-23h0m0-11h0m0 32h0m0-35h0m0 24h0m2 12h0m0-35h0m0 12h0m1 8h0m0-12h0m0-8h0m0 23h0m1-3h0m0-22h0m1 18h0m0 12h0m0-13h0m0 13h0m1-25h0m1 14h0m0 7h0m0-10h0m0 23h0m0-2h0m0-4h0m1-4h0m0-25h0m0 3h0m0 21h0m1 10h0m0-3h0m0-4h0m1-5h0m0 13h0m1-10h0m0 9h0m1-19h0m0-6h0m2 3h0m0-5h0m1 23h0m1-13h0m0-12h0m0-4h0m1 20h0m1-11h0m0-8h0m1 6h0m0 16h0m1 3h0m1 6h0m0-36h0m3 11h0m1-11h0m1 10h0m0 3h0m0-1h0m0-12h0m1 17h0m0 21h0m0-26h0m1-5h0m2 1h0m0 19h0m0 1h0m0-11h0m1 15h0m0-21h0m1 13h0m2 5h0m1-19h0m0-9h0m2 21h0m1-2h0m0-12h0m0 14h0m3 16h0m0-1h0m1-17h0m5 5h0m1 2h0m1 6h0m1-30h0m4 15h0m5-4h0m1 1h0m15 14h0m1-2h0m8 3h0m16 17h0m-10 6h0m-6-12h0m-5 32h0m-7-3h0m0-27h0m-5-1h0m0 5h0m-1 30h0m-2-10h0m-2 6h0m-1-11h0m-1-21h0m0 30h0m0-27h0m-1 2h0m-5 29h0m-3-1h0m-1 3h0m-1-22h0m-2-13h0m-2 30h0m0-7h0m-1-13h0m-5 1h0m0 22h0m-2-32h0m-1 30h0m-1-23h0m0-8h0m-2-3h0m0 7h0m0 27h0m-1 2h0m-1-14h0m0-20h0m-1 21h0m-1-15h0m0 21h0m0 3h0m-2 7h0m0-8h0m-2-14h0m0-7h0m0 1h0m0-8h0m0 6h0m-1 12h0m-3-12h0m0 4h0m0 26h0m0-26h0m0 19h0m-1 4h0m-1-20h0m0-12h0m-1 11h0m-1 22h0m0-14h0m0-6h0m0 11h0m-1-26h0m0 14h0m-1 19h0m0-30h0m-1 19h0m-2 10h0m0-23h0m-1 5h0m0 3h0m-1-17h0m0 13h0m0 16h0m-1-31h0m0 31h0m0-14h0m0-13h0m-1-3h0m-1 6h0m0 14h0m0 6h0m-1-7h0m0 1h0m-1-8h0m0-12h0m0 26h0m0-15h0m0-4h0m0 27h0m-1-34h0m0 17h0m0-15h0m0 33h0m-1-16h0m0 5h0m-1 13h0m0-14h0m0-6h0m-1 3h0m0-13h0m0 30h0m0-20h0m-1 16h0m0-14h0m0 19h0m0-15h0m0 1h0m0 11h0m0 1h0m-1-6h0m0 5h0m-1-23h0m0-12h0m0-1h0m0 4h0m0 33h0m-1-1h0m0-7h0m0-3h0m0-14h0m-1-12h0m0 33h0m-1-22h0m0-7h0m0 10h0m0 23h0m0-17h0m0 2h0m0 13h0m-1-12h0m0-21h0m0 32h0m0-26h0m0 15h0m-1 1h0m0-22h0m0 2h0m-1 6h0m-1 10h0m-1 17h0m-1-34h0m0 8h0m0 26h0m0-30h0m0 5h0m0 22h0m-1-32h0m0 29h0m0-11h0m0-16h0m0 17h0m0-7h0m-1-12h0m0 19h0m0-9h0m0-7h0m-1 11h0m0 4h0m0-5h0m-1-6h0m0 29h0m0-37h0m0 24h0m0-12h0m0 4h0m-1-9h0m0 8h0m0 14h0m0-5h0m-1-11h0m0-5h0m0 16h0m0-6h0m0-4h0m-1-3h0m0 19h0m0-8h0m0-11h0m0-7h0m-1 22h0m0-7h0m0-16h0m0-3h0m0 13h0m-1 11h0m0-25h0m0 24h0m0 13h0m0-22h0m0-12h0m0 33h0m0-34h0m-2 9h0m-1-7h0m0 9h0m0 10h0m0-16h0m0 15h0m0-15h0m0 12h0m-1 7h0m0 5h0m0-24h0m0 25h0m0-7h0m0-25h0m-1 17h0m0 10h0m0 1h0m0-25h0m0 18h0m0 4h0m0-25h0m-1 19h0m0-5h0m-1-5h0m0 26h0m0-24h0m0 9h0m0-20h0m-1 29h0m0-29h0m-1 0h0m-1 37h0m0-29h0m0 3h0m0-1h0m0-2h0m0 18h0m-1 3h0m0-25h0m0 15h0m0 10h0m-1-5h0m0-8h0m-1-4h0m0 19h0m0 7h0m-1-19h0m-1 10h0m0-1h0m0 4h0m0-1h0m-1-29h0m0 20h0m-1-22h0m0 16h0m-2-14h0m0 11h0m0-11h0m-1 35h0m0-25h0m-1 12h0m0-20h0m0 15h0m-1-8h0m0-10h0m-2 20h0m0 3h0m-1-15h0m0 24h0m-1-30h0m0 26h0m0-14h0m0-11h0m0 23h0m-2 10h0m0-26h0m0 12h0m0 4h0m-1-21h0m-1 13h0m0-11h0m0 12h0m-1-17h0m0 28h0m0 0h0m0-13h0m0-3h0m0-3h0m0-5h0m0 16h0m-1-16h0m0 19h0m-1-17h0m-1-7h0m0 22h0m0 12h0m0-9h0m0-21h0m-1-1h0m0 11h0m0-13h0m0 6h0m0 7h0m-1-4h0m0 25h0m0-33h0m-1 29h0m0-12h0m-1 11h0m0-8h0m-1 3h0m0-20h0m0 25h0m0 1h0m-1-2h0m0-31h0m-1 13h0m0-7h0m-2 24h0m0-5h0m0-14h0m-1 7h0m0 9h0m-1 0h0m-1-24h0m-1 2h0m-1 7h0m0 4h0m-1-9h0m0 17h0m-2-23h0m-1 1h0m0 23h0m0-15h0m-1 1h0m0 9h0m0-7h0m0-1h0m-1-4h0m-1-6h0m0 18h0m0-7h0m-1 18h0m0-16h0m0 4h0m0 5h0m-1-3h0m0 5h0m-1 5h0m-1-22h0m0 20h0m0-4h0m-3 7h0m0-8h0m-2 0h0m0-20h0m0 1h0m0 18h0m-1-6h0m0-11h0m-1 14h0m-1-19h0m0-1h0m-1 3h0m0 27h0m-1-24h0m-1 4h0m-1 1h0m-2 4h0m-5-7h0m-2 11h0m0 11h0m-3-5h0m-2-11h0m-3-5h0m-1-6h0m-3 22h0m-2-21h0m-2 18h0m-1-7h0m-12 20h0m21 6h0m2 7h0m3-8h0m5 10h0m4 12h0m7-15h0m9 14h0m0 8h0m3-4h0m0 4h0m1-5h0m5 4h0m2-3h0m2-3h0m2-13h0m0 16h0m1-16h0m1-3h0m1 5h0m0 6h0m1 0h0m2 16h0m1-19h0m2 12h0m0 6h0m1-31h0m0 27h0m1 9h0m0-33h0m0 25h0m1 5h0m2-34h0m2 18h0m0-6h0m1 22h0m0-24h0m1-7h0m1 4h0m0 5h0m0-11h0m2 19h0m0-13h0m2-6h0m0-1h0m0 38h0m1-22h0m0-1h0m1-11h0m1 27h0m0-12h0m1 20h0m1-37h0m1 5h0m1 5h0m0-2h0m1-1h0m0 4h0m1 20h0m0-13h0m1-17h0m2 7h0m0 24h0m0-30h0m0 0h0m1 33h0m0-26h0m1 7h0m0-13h0m0-4h0m1 26h0m3-18h0m0 24h0m1-28h0m0-2h0m0 33h0m1-25h0m1-3h0m0 25h0m0-24h0m0 15h0m1-8h0m1 12h0m0 4h0m0-9h0m1 7h0m2 1h0m0-14h0m1-1h0m0-13h0m1 22h0m1-7h0m0-7h0m2 5h0m0 0h0m0-13h0m0 12h0m0 0h0m1-8h0m0 2h0m1 27h0m1-28h0m1 25h0m1-27h0m1 18h0m0 0h0m1-8h0m1-1h0m1-11h0m1 8h0m0-6h0m2 12h0m0 14h0m1 3h0m0-25h0m0 29h0m2-15h0m0 11h0m0-7h0m0 0h0m0-10h0m0-1h0m1 1h0m0-6h0m2 7h0m0 6h0m1-21h0m0 5h0m0 7h0m1 15h0m0-16h0m0-13h0m0 35h0m0-9h0m1-14h0m0 22h0m2-27h0m2 27h0m0-3h0m0-33h0m0 5h0m1 10h0m0-13h0m0 4h0m1 3h0m0 23h0m1-20h0m1 22h0m1-16h0m0 8h0m1-26h0m0 32h0m0 4h0m0-36h0m1 4h0m3-1h0m0 14h0m1-2h0m2-10h0m0 18h0m0-12h0m2 26h0m2-14h0m0 6h0m0-3h0m5-1h0m1 9h0m0-29h0m2 4h0m0 25h0m0-19h0m0 5h0m1-6h0m0-2h0m2 23h0m0-20h0m1-10h0m2 14h0m0-12h0m1-4h0m1 11h0m0-5h0m2 6h0m2 3h0m1 9h0m0 0h0m2-26h0m2 6h0m1 10h0m0-13h0m1 32h0m12-35h0m1 29h0m1-28h0m3 19h0m0 7h0m2 11h0m0-1h0m10-21h0m15 0h0m23 26h0m-8 6h0m-22 2h0m-4 25h0m-14 2h0m-1-7h0m-1-12h0m-1 6h0m-5 0h0m-3 13h0m0-22h0m-1-8h0m-4 28h0m-1-14h0m-1-1h0m-1-20h0m-5 0h0m-6 3h0m-1 7h0m-4 1h0m-1-11h0m0 7h0m-4 3h0m0-5h0m-1 6h0m-1-6h0m0 33h0m-2-36h0m-1-2h0m-1 4h0m-1 0h0m0 27h0m-2-8h0m-1-13h0m-3-5h0m-1-5h0m-2 26h0m0 9h0m0-26h0m0 20h0m-3-19h0m-2 3h0m0 8h0m-1-16h0m0 30h0m-2-26h0m-1-4h0m-3 23h0m-1-27h0m-1 2h0m0 6h0m-1 13h0m-4-20h0m-1-3h0m-1 7h0m-1 27h0m-1-31h0m-4 27h0m-2-17h0m0 2h0m-2-11h0m-1 8h0m-2 14h0m0-23h0m0 2h0m-7 20h0m-1-9h0m-2-14h0m0 22h0m-5-16h0m-1-2h0m-1 23h0m-1-26h0m-2 30h0m-3-24h0m0-8h0m-7 9h0m-5 5h0m-11 14h0m-9-14h0m-4-8h0m-1 20h0m-1-24h0m-7 20h0m0-22h0m-34 5h0m-3-6h0m55 40h0m32 17h0m0 0h0m16 18h0m13-8h0m6-19h0m2-8h0m3 36h0m17-5h0m4-5h0m2-13h0m4-9h0m0 27h0m2-6h0m0-5h0m1 6h0m5 13h0m2-5h0m3-13h0m1 18h0m2-23h0m9-12h0m1 33h0m0-19h0m6 20h0m1-32h0m0 10h0m1 11h0m4-26h0m3 22h0m3-3h0m6 10h0m1 6h0m1-23h0m2 0h0m1 0h0m4 6h0m1-14h0m0 2h0m29 15h0m6-17h0m17 10h0m26-2h0m-14 53h0m-17 11h0m-13-19h0m-9 14h0m-11-7h0m0-15h0m-1 3h0m-6 20h0m-3-28h0m-1-4h0m-6 26h0m0-27h0m-3 16h0m-1-16h0m-3 38h0m-1-11h0m-3 10h0m-3-34h0m-1 0h0m-6 19h0m-1-6h0m-21 10h0m-1 1h0m-1-9h0m-11 20h0m-19-18h0m-4 7h0m-3-9h0m-38-13h0m-19 62h0m48-18h0m6 6h0m20-2h0m6-9h0m6 1h0m6 5h0m13 24h0m1-26h0m4 15h0m11-14h0m2 5h0m11 23h0m5-22h0m11 13h0m13-22h0m11-6h0m15 16h0m33-10h0m4 73h0m-55-22h0m-30-15h0m-43 33h0m-7-11h0m-24 1h0m30 19h0" stroke="#d2124a" stroke-width="12" stroke-linecap="round" stroke-opacity="0.9" fill="none"/>
<path transform="scale(.1)" d="M4510 3320h0m-7 28h0m-7-2h0m-6-21h0m-4 1h0m-22 21h0m-5-13h0m-17 3h0m-16 14h0m-8-6h0m11 28h0m1 6h0m12-7h0m3 24h0m2-5h0m2-28h0m16 7h0m1 20h0m9-2h0m0-12h0m2 6h0m0 13h0m6-10h0m1-22h0m1 20h0m3 4h0m2-17h0m6 3h0m6 11h0m4 12h0m1-9h0m3 12h0m4-2h0m2-9h0m1 50h0m-1-17h0m-2 8h0m-1 3h0m-4-30h0m-1 21h0m-1 11h0m-2-20h0m-1 5h0m-1-13h0m-1 18h0m-2-3h0m-1 2h0m-1-16h0m-1 18h0m-3-9h0m-2-14h0m-2 9h0m-4 0h0m-1 25h0m0-2h0m-3-26h0m-2 8h0m-1 18h0m-4 4h0m-5-34h0m-2 13h0m-4 9h0m0-19h0m-3 28h0m-3-8h0m-2 4h0m-5-15h0m-2 16h0m-1-7h0m-6 0h0m-3-23h0m-1 30h0m-2 2h0m-2-18h0m-19-12h0m-26 42h0m13 22h0m25-22h0m5 15h0m1 18h0m9-3h0m28-11h0m10-14h0m4 1h0m2 8h0m16-15h0m5 14h0m2 13h0m0-31h0m1 10h0m4 13h0m2 23h0m-10 2h0m-33-9h0m-18 24h0m-11 13h0m-3-10h0m30 17h0m40 23h0" stroke="#2a66c2" stroke-width="12" stroke-linecap="round" stroke-opacity="0.8" fill="none"/>
<rect x="419.1" y="399" width="3.2" height="3" fill="#231f20"/>
<text font-size="7.18" transform="translate(423.7 402.6) scale(0.877 1)" stroke="#161616" stroke-width="0.05">clonotype2</text>
<rect x="459.7" y="399" width="3.2" height="3" fill="#231f20"/>
<text font-size="7.18" transform="translate(464.3 402.6) scale(0.877 1)" stroke="#161616" stroke-width="0.05">clonotype1</text>
<text font-size="10.4" font-weight="bold" fill="#000" x="231.5" y="418.8" stroke="#000" stroke-width="0.05">I</text>
<line x1="257.5" y1="419.4" x2="257.5" y2="492.1" stroke="#262626" stroke-width="1.15"/>
<line x1="255.5" y1="431.5" x2="257.5" y2="431.5" stroke="#262626" stroke-width="0.9"/>
<text font-size="7.18" text-anchor="end" transform="translate(253 433.2) scale(0.877 1)" stroke="#161616" stroke-width="0.05">10</text>
<line x1="255.5" y1="449.5" x2="257.5" y2="449.5" stroke="#262626" stroke-width="0.9"/>
<text font-size="7.18" text-anchor="end" transform="translate(253 451.4) scale(0.877 1)" stroke="#161616" stroke-width="0.05">0</text>
<line x1="255.5" y1="467.5" x2="257.5" y2="467.5" stroke="#262626" stroke-width="0.9"/>
<text font-size="7.18" text-anchor="end" transform="translate(253 469.7) scale(0.877 1)" stroke="#161616" stroke-width="0.05">−10</text>
<line x1="255.5" y1="485.5" x2="257.5" y2="485.5" stroke="#262626" stroke-width="0.9"/>
<text font-size="7.18" text-anchor="end" transform="translate(253 488) scale(0.877 1)" stroke="#161616" stroke-width="0.05">−20</text>
<line x1="257.3" y1="491.5" x2="315.7" y2="491.5" stroke="#262626" stroke-width="1.15"/>
<line x1="266.5" y1="491.5" x2="266.5" y2="493.5" stroke="#262626" stroke-width="0.9"/>
<text font-size="7.18" text-anchor="middle" transform="translate(266 502.8) scale(0.877 1)" stroke="#161616" stroke-width="0.05">−5</text>
<line x1="275.5" y1="491.5" x2="275.5" y2="493.5" stroke="#262626" stroke-width="0.9"/>
<text font-size="7.18" text-anchor="middle" transform="translate(275.4 502.8) scale(0.877 1)" stroke="#161616" stroke-width="0.05">0</text>
<line x1="284.5" y1="491.5" x2="284.5" y2="493.5" stroke="#262626" stroke-width="0.9"/>
<text font-size="7.18" text-anchor="middle" transform="translate(284.8 502.8) scale(0.877 1)" stroke="#161616" stroke-width="0.05">5</text>
<line x1="294.5" y1="491.5" x2="294.5" y2="493.5" stroke="#262626" stroke-width="0.9"/>
<text font-size="7.18" text-anchor="middle" transform="translate(294.1 502.8) scale(0.877 1)" stroke="#161616" stroke-width="0.05">10</text>
<line x1="303.5" y1="491.5" x2="303.5" y2="493.5" stroke="#262626" stroke-width="0.9"/>
<text font-size="7.18" text-anchor="middle" transform="translate(303.4 502.8) scale(0.877 1)" stroke="#161616" stroke-width="0.05">15</text>
<line x1="312.5" y1="491.5" x2="312.5" y2="493.5" stroke="#262626" stroke-width="0.9"/>
<text font-size="7.18" text-anchor="middle" transform="translate(312.8 502.8) scale(0.877 1)" stroke="#161616" stroke-width="0.05">20</text>
<text font-size="8.4" text-anchor="middle" font-weight="bold" fill="#222" transform="translate(287.2 514.8) scale(0.53 1)" stroke="#222" stroke-width="0.05">PC1</text>
<text font-size="8.4" text-anchor="middle" font-weight="bold" fill="#222" transform="translate(236.5 455.4) rotate(-90) scale(0.53 1)" stroke="#222" stroke-width="0.05">PC2</text>
<path transform="scale(.1)" d="M2761 4351h0m14 6h0m11-16h0m4 18h0m28 0h0m8 0h0m13-9h0m2-1h0m5 4h0m5 4h0m11 1h0m10-12h0m16 5h0m12-9h0m87 33h0m-13 6h0m-28 7h0m-3-1h0m-3-2h0m-8 1h0m-16 11h0m-1-19h0m-1-10h0m-2 15h0m-1 9h0m-2-13h0m-4-5h0m-1 25h0m-2-5h0m-2 2h0m-4-14h0m0 12h0m-1-22h0m-3 21h0m-7-9h0m-2-7h0m-2 2h0m-2 17h0m-1-18h0m0 13h0m-5 8h0m-2-27h0m-1 25h0m0-7h0m0-7h0m-1-7h0m-1-14h0m0 32h0m-3-13h0m0 5h0m-1 4h0m-5 6h0m0-31h0m-1 25h0m-7 2h0m-1-10h0m-2 15h0m-2-1h0m0-22h0m0 21h0m0-5h0m-1 8h0m0-26h0m0 6h0m-1 4h0m-2 14h0m0 1h0m-5-16h0m-2-12h0m-1 6h0m-1-1h0m-1 13h0m-6-4h0m0 10h0m-1 0h0m-2-25h0m-1-2h0m0 12h0m-2 21h0m-1-29h0m-3 28h0m-1-16h0m0 14h0m-1-16h0m0-3h0m-2 10h0m-1-5h0m0 7h0m0-17h0m-2 8h0m0 13h0m-1-11h0m0 13h0m-1-4h0m-1 4h0m0-2h0m-1-12h0m-2 17h0m-2-1h0m0 1h0m-1-35h0m-3 1h0m-3 31h0m-1-10h0m-3-3h0m-1-8h0m-1-8h0m0 30h0m-1 1h0m0-10h0m0 4h0m-1-11h0m-1-19h0m-4 28h0m-4-1h0m0-6h0m0-13h0m-1 26h0m-3-1h0m-1-24h0m-5 24h0m0-4h0m-1-10h0m-1-5h0m-1 14h0m-1-4h0m0 10h0m0-1h0m-6-24h0m0 3h0m-2 18h0m-11-6h0m-7-5h0m-29-11h0m-27 65h0m27 5h0m8-8h0m8-5h0m5 13h0m3-3h0m2-6h0m8-6h0m2-9h0m2-12h0m0 3h0m1 3h0m1 21h0m2 0h0m1-29h0m1 35h0m1 1h0m2-9h0m1-5h0m0-1h0m1-20h0m2 11h0m1 16h0m0-19h0m0 29h0m1-23h0m0 17h0m0-10h0m1-4h0m0 20h0m1-18h0m1 8h0m0-13h0m0-2h0m1 9h0m0-23h0m3 3h0m1 23h0m1-16h0m0 25h0m0-9h0m1 5h0m2 8h0m1-24h0m0 22h0m0-8h0m0-12h0m1-10h0m2 2h0m0 24h0m1-10h0m0 16h0m0-11h0m0-20h0m0-7h0m0 17h0m1 2h0m1 5h0m0-4h0m1-2h0m0 20h0m0 0h0m0-28h0m0 11h0m1 2h0m0 6h0m0 7h0m1-35h0m1 5h0m0 8h0m0-12h0m1 26h0m0-10h0m0 15h0m1-18h0m1-10h0m2 5h0m0 11h0m1 10h0m1-29h0m0 33h0m2 0h0m0-22h0m0 20h0m1-19h0m0 0h0m0 8h0m1-20h0m0 9h0m0 23h0m1 1h0m0-29h0m1 5h0m0-6h0m1 10h0m0 6h0m1 0h0m1-21h0m0 35h0m1-17h0m0 9h0m0 6h0m0 2h0m2-17h0m0-14h0m1 26h0m0-22h0m1-6h0m0 7h0m1 22h0m1-12h0m0-15h0m0 23h0m1 4h0m2-16h0m0-3h0m0 9h0m0 7h0m1-3h0m0 6h0m1-19h0m1-4h0m0 30h0m0-16h0m2 10h0m0-7h0m0-21h0m0 10h0m0-5h0m1 19h0m0-2h0m0-14h0m0 23h0m1-31h0m0 16h0m0 6h0m0-1h0m0-16h0m0 9h0m2 15h0m0-13h0m1-9h0m0 19h0m1 4h0m0-28h0m0 1h0m0 16h0m1-11h0m0 14h0m1-18h0m0 7h0m1 8h0m1 9h0m1-33h0m0 12h0m1 21h0m0 3h0m1-15h0m0 1h0m0-1h0m0 7h0m0-5h0m0 10h0m0-4h0m1-29h0m0 23h0m0 12h0m0-12h0m0-18h0m1 20h0m0 14h0m0-3h0m1-28h0m0 17h0m0-5h0m0-7h0m0 23h0m0-29h0m2 27h0m0-1h0m1-30h0m0 9h0m0-1h0m1 18h0m0-8h0m0 10h0m1-5h0m0-7h0m0-10h0m1 10h0m1 0h0m0 13h0m0-13h0m0 6h0m0 2h0m1-10h0m0 8h0m1 14h0m0-3h0m1-16h0m0 2h0m0-6h0m0 1h0m1 18h0m0-18h0m1-5h0m0-3h0m1 12h0m0-16h0m0 33h0m1-26h0m0 2h0m1 11h0m0 9h0m0-9h0m0 5h0m0-3h0m0 6h0m1 4h0m0-17h0m2 13h0m0 3h0m0-17h0m0 1h0m1 7h0m0 0h0m0-15h0m1 18h0m0-3h0m1-22h0m0 18h0m0-10h0m0 15h0m1-3h0m0 10h0m1 0h0m0-30h0m0 13h0m0 16h0m0-7h0m1-18h0m0 13h0m0 12h0m0-17h0m1 17h0m1-15h0m0 15h0m0-17h0m0-8h0m0-3h0m1 24h0m1-21h0m0-9h0m1 34h0m0-17h0m1-8h0m1 23h0m0-17h0m0 16h0m0-31h0m0 10h0m0-5h0m1 22h0m0 1h0m0 6h0m0-5h0m0-10h0m2 13h0m0-18h0m1-9h0m0-5h0m0 18h0m1 5h0m1-21h0m0 6h0m0-8h0m1 28h0m0-27h0m1 27h0m0 10h0m0-3h0m1-31h0m1 20h0m0-6h0m1 12h0m1-6h0m0 1h0m0 4h0m1-15h0m0 15h0m0-25h0m1 14h0m0-14h0m0 32h0m0-34h0m1 28h0m2 5h0m1-20h0m0 22h0m0-4h0m1 2h0m0-22h0m0 10h0m1 4h0m0-15h0m0 18h0m0 7h0m0 2h0m1-1h0m0-13h0m0 7h0m0-18h0m1-3h0m0 3h0m0 21h0m1-8h0m0 3h0m0 6h0m1-3h0m0 1h0m1-30h0m0 5h0m1 13h0m1 13h0m0-17h0m2 17h0m0-31h0m1 24h0m0 5h0m0-32h0m0 16h0m0 11h0m1-1h0m1-18h0m0 23h0m1 3h0m1 2h0m1-13h0m1 1h0m0 7h0m1 4h0m0-16h0m1-16h0m1 16h0m0 0h0m0 13h0m2-26h0m1 11h0m0-14h0m0 18h0m1 3h0m0 12h0m2 0h0m2-25h0m0 7h0m1 15h0m0-18h0m2 22h0m0 1h0m1-6h0m2-20h0m1 5h0m0 1h0m1 18h0m2-1h0m0-27h0m3 29h0m0-24h0m2 5h0m1 14h0m3-13h0m0 4h0m0 13h0m2-24h0m2 26h0m1-16h0m0 16h0m1-21h0m0-4h0m1 20h0m0-7h0m1 8h0m1-5h0m1-6h0m1 12h0m2-7h0m0 5h0m1-9h0m0-9h0m1 23h0m0-26h0m2 23h0m1-8h0m0-6h0m0-1h0m1 11h0m1 7h0m5-20h0m1 19h0m5-16h0m3-5h0m1 14h0m0 3h0m1 3h0m6-6h0m5-17h0m8 10h0m1-20h0m28 36h0m-7 33h0m-1-5h0m-4-27h0m-1 18h0m-5-16h0m-5 17h0m-4 13h0m-2 0h0m0 2h0m0-17h0m0-2h0m-2 18h0m0-13h0m-1-2h0m0 19h0m-2-11h0m-1-4h0m-1-8h0m0-14h0m-2 24h0m-1 14h0m-2-32h0m-1 29h0m-4-12h0m0 1h0m-3-9h0m0 6h0m-1-14h0m-1 25h0m0-6h0m-2-25h0m-1 34h0m-1-26h0m0 29h0m-1-14h0m-3-16h0m-1 13h0m0-17h0m0 26h0m-1 3h0m0-33h0m-2 15h0m0 22h0m0-38h0m0 5h0m-1 23h0m0-12h0m-2 15h0m0-8h0m-1-20h0m-1 19h0m0 0h0m-2 17h0m-3-17h0m-1 7h0m-1-16h0m0 20h0m-1-1h0m-1-7h0m-1 3h0m-1 9h0m-1-9h0m-1 1h0m-3-10h0m0-15h0m-1 11h0m0 14h0m-1-7h0m0 13h0m-1-13h0m-1 10h0m0-7h0m0-4h0m-1 13h0m0 0h0m-1-29h0m0 8h0m0 2h0m-1-1h0m0-10h0m0 2h0m-1-2h0m0 16h0m0 9h0m0-1h0m-1 10h0m0-27h0m-1-11h0m-1 21h0m0-5h0m0 0h0m-1-6h0m0 11h0m-1 6h0m0 10h0m0-35h0m0 2h0m0 24h0m0 4h0m-1 2h0m0-15h0m-1-4h0m0 15h0m0-18h0m0-4h0m0 6h0m-1 19h0m0-23h0m-1-9h0m0 14h0m-1 21h0m0-2h0m-1-6h0m0-1h0m-1-6h0m0 13h0m-1-32h0m0-2h0m0 38h0m-1-12h0m-1-11h0m0 21h0m0-17h0m0 14h0m0-27h0m-1 32h0m0-4h0m0 1h0m-2-12h0m0-14h0m0 23h0m0-5h0m0-16h0m0 14h0m-1 3h0m0-28h0m-1 21h0m0-14h0m0-6h0m-1 33h0m0-16h0m0-7h0m0-4h0m0 32h0m0-10h0m0-20h0m-1 2h0m0-6h0m0 20h0m-1 4h0m0 9h0m-1-13h0m0 13h0m-1-37h0m0 7h0m0 24h0m-1-23h0m0-1h0m0 11h0m-1-1h0m0-8h0m-1 17h0m0-25h0m-1 19h0m0-1h0m0 6h0m0 7h0m0 1h0m0-15h0m-1-10h0m0-7h0m0 27h0m0 7h0m0 3h0m-1-24h0m-1-6h0m0-9h0m0 9h0m0-7h0m0 13h0m-1-11h0m0 21h0m0-18h0m-1 22h0m0-3h0m0-13h0m-1 17h0m0 0h0m0 9h0m0-21h0m0-11h0m0 30h0m0-14h0m0 16h0m-1-34h0m-1 18h0m0 1h0m0-11h0m0-1h0m0-5h0m0 0h0m0-1h0m0 25h0m-1-12h0m0 2h0m0 11h0m-1-20h0m0 5h0m0-3h0m-1 6h0m0-20h0m0 10h0m0-6h0m0 25h0m-1-20h0m0 29h0m0-33h0m0 10h0m-1-12h0m0 0h0m0 28h0m0-21h0m0-7h0m-1 29h0m-1-21h0m0-8h0m0 24h0m0 9h0m-1-11h0m0 8h0m0-27h0m0 12h0m0 16h0m0-11h0m0-1h0m-1-20h0m0 0h0m0 23h0m0-24h0m0 13h0m-1 17h0m0-30h0m0 37h0m0-37h0m0 14h0m0 6h0m0-20h0m0 38h0m0-21h0m-1-16h0m0 23h0m0-7h0m0 5h0m0-9h0m0 0h0m0-3h0m0 15h0m0 10h0m-1 1h0m0-26h0m0 20h0m0-4h0m0-3h0m0-21h0m0 20h0m-1-5h0m0 0h0m-1-3h0m0 5h0m0-9h0m-1 0h0m0 14h0m0-24h0m-1 16h0m0 5h0m0-12h0m-1 21h0m0-26h0m0 14h0m-1-1h0m0 12h0m-1-24h0m0-6h0m0 28h0m0 11h0m-1-20h0m0-13h0m0 0h0m-1 8h0m0 24h0m-1-30h0m0 25h0m0-6h0m0-27h0m-1 28h0m0 5h0m0-1h0m0-3h0m0-3h0m0-1h0m-1-9h0m0 14h0m-2-25h0m0 32h0m-1-33h0m0 0h0m0 1h0m0 31h0m0-15h0m-1 4h0m0 13h0m0-23h0m-1 19h0m0-11h0m0-23h0m0 21h0m-1-17h0m-1 27h0m0-1h0m-1-5h0m0 2h0m0-27h0m0 23h0m0-8h0m0 20h0m-2-35h0m0 35h0m-1-35h0m0 7h0m0 10h0m0-11h0m0 0h0m0 29h0m-1-10h0m0-9h0m-1-9h0m0 9h0m0 2h0m0-18h0m-1 15h0m0 13h0m0-26h0m-1 14h0m0 11h0m0-5h0m-1 0h0m0-6h0m0 12h0m0-16h0m-1 16h0m0-7h0m0-20h0m0 33h0m0-20h0m-1-13h0m-1 4h0m0 15h0m-1-6h0m0 20h0m-1-8h0m0-16h0m0 26h0m0-6h0m-1-8h0m0-11h0m0 25h0m0-35h0m0 33h0m0-2h0m0-16h0m-1 13h0m0 10h0m-1-23h0m-1-11h0m0 17h0m-1 1h0m0 2h0m0-10h0m0 15h0m0-17h0m-2 3h0m-1-2h0m-1-7h0m0 30h0m0-10h0m0-6h0m0-9h0m-1 19h0m0-19h0m0 6h0m0 0h0m-1 2h0m0-2h0m0-2h0m0 20h0m0-10h0m-1-24h0m0 1h0m-1 4h0m-1 28h0m0-25h0m0 9h0m0 18h0m-1 1h0m0-24h0m0 5h0m0 5h0m0 5h0m-1-16h0m0-9h0m0 11h0m-1 24h0m0-16h0m0 7h0m0-3h0m0 11h0m0-27h0m-1 2h0m-1 25h0m0-20h0m-1 1h0m-1 11h0m0-9h0m-1 12h0m0-26h0m0 19h0m-1-11h0m0-9h0m-1 4h0m0 29h0m0-2h0m-1-31h0m0-3h0m-1-1h0m0 8h0m-1-5h0m0 31h0m0-19h0m0 8h0m-1-18h0m0 18h0m0-25h0m-1 5h0m0 0h0m-1 16h0m0-15h0m-1 28h0m-1-20h0m0-6h0m0 13h0m-1 1h0m0 4h0m0-18h0m-1-1h0m0 8h0m0-9h0m0-1h0m-1-5h0m0 3h0m-1 34h0m0-37h0m-2 10h0m-1 29h0m0-30h0m0 6h0m-1-8h0m0 3h0m-1-4h0m0 28h0m-1-17h0m0-13h0m0 33h0m0-21h0m-1 2h0m0-2h0m0 9h0m-1 3h0m0-18h0m0 21h0m-1-22h0m-1 6h0m0 1h0m0 10h0m0-13h0m-1 9h0m0-22h0m0 30h0m0 9h0m0-5h0m-1-19h0m0 1h0m0-15h0m-1 1h0m0 2h0m-1-3h0m-1 18h0m-1-15h0m0 1h0m0 25h0m-1-12h0m0 12h0m-1-29h0m-1 30h0m0-27h0m-1 4h0m0 19h0m0-22h0m0 29h0m0-23h0m-1 7h0m0 11h0m0-4h0m-1-24h0m-1 17h0m0 17h0m-1 0h0m0-24h0m0-1h0m-1-1h0m-1 28h0m0-23h0m-1-10h0m0 12h0m0 1h0m-1-9h0m-1-3h0m0 26h0m0-15h0m-2-6h0m0-10h0m0 3h0m-1 10h0m-1-11h0m0 8h0m-3 4h0m-1-14h0m-2 8h0m0 3h0m0 3h0m-2 15h0m-1 4h0m-1-26h0m-1 1h0m-1 15h0m-1 3h0m-1-10h0m-1 4h0m0-6h0m-1 5h0m0 10h0m-1-14h0m-1-11h0m-1-4h0m-2 38h0m-1-10h0m-3-2h0m0 0h0m-3-3h0m-2 15h0m-4-28h0m-24 16h0m-2-23h0m13 42h0m3 4h0m0-7h0m1 9h0m24 3h0m3 0h0m3-12h0m1 35h0m0-26h0m6-9h0m3 7h0m0 25h0m0-10h0m3 11h0m1-27h0m1-1h0m4-3h0m1 21h0m3-7h0m3-16h0m2 2h0m1-2h0m0 13h0m1-10h0m3 6h0m3 6h0m0-12h0m1 5h0m1-6h0m1-4h0m1 16h0m3-15h0m0 9h0m1 2h0m1-11h0m4 21h0m1-6h0m1-6h0m5 7h0m2 5h0m0-21h0m3 3h0m0 4h0m0-2h0m4-5h0m2 19h0m0-18h0m1 21h0m2-21h0m0 26h0m0 10h0m2-2h0m0-14h0m1-1h0m1-6h0m1 5h0m0-18h0m3 4h0m2-4h0m0 35h0m0-31h0m1 11h0m0 5h0m1-9h0m2-12h0m1 24h0m0-23h0m0 32h0m0-30h0m3 8h0m0-10h0m2 12h0m0 4h0m0-14h0m1-2h0m2 24h0m3-7h0m0-1h0m1-5h0m0 11h0m1-23h0m1 4h0m0 30h0m0-14h0m1-20h0m0 3h0m1-3h0m0 31h0m0-30h0m0 0h0m1 35h0m1-14h0m0-9h0m0-12h0m0-2h0m1 10h0m0 9h0m1-17h0m1 2h0m0 10h0m0 12h0m0-12h0m0 24h0m1-23h0m0 17h0m1-25h0m0-5h0m1 37h0m0-13h0m2-9h0m0-11h0m1 7h0m0-3h0m0-2h0m0-1h0m0-4h0m1 28h0m1 1h0m0-32h0m1 23h0m0 8h0m1 1h0m0 2h0m0-27h0m1-6h0m0 5h0m0 0h0m1 4h0m0 21h0m1-26h0m0 21h0m0-24h0m1 13h0m1-12h0m0 21h0m1-22h0m0 19h0m1 17h0m0-10h0m2 11h0m0-28h0m0 27h0m1-24h0m0 14h0m1-24h0m0-2h0m1 21h0m0 5h0m0-17h0m1 23h0m0-29h0m0 9h0m0-10h0m1 2h0m3 0h0m1 15h0m0 10h0m0-12h0m0-15h0m0 9h0m1 15h0m0-21h0m1-1h0m0-5h0m0 8h0m1-8h0m0 19h0m1-11h0m0 14h0m0 7h0m1 7h0m0-6h0m0-3h0m1 0h0m0-14h0m2 11h0m0 0h0m0-9h0m1-16h0m0 20h0m1 0h0m0 11h0m1 0h0m0-10h0m0-13h0m1-2h0m1-6h0m1 1h0m0 31h0m1-17h0m1-6h0m0 19h0m0-4h0m0-16h0m0 17h0m0-21h0m1 11h0m1 9h0m0-6h0m0 11h0m0 3h0m0-3h0m1-13h0m0 0h0m1 12h0m0-4h0m1 3h0m0 12h0m0-14h0m0-24h0m1 37h0m0-38h0m0 3h0m0 7h0m1-9h0m0 23h0m1-13h0m1-8h0m0 14h0m0-15h0m1 4h0m0 1h0m1 22h0m0-4h0m0-11h0m1 6h0m0 14h0m0-2h0m1-21h0m0-1h0m0 1h0m0 14h0m0 6h0m0-3h0m0-4h0m1 1h0m0-12h0m1 20h0m0-9h0m0-2h0m1-21h0m0 10h0m1 1h0m0-11h0m0 22h0m0-16h0m0 20h0m1 2h0m0 5h0m0-13h0m0 16h0m1-29h0m0 13h0m1-19h0m0 15h0m1 21h0m0-16h0m1-17h0m0 8h0m0-7h0m1 16h0m0 11h0m0-31h0m1 22h0m0 0h0m0-23h0m1 0h0m2 7h0m1 12h0m1 16h0m0-35h0m2 1h0m0 9h0m0-9h0m1 4h0m1 2h0m0 5h0m0 18h0m2-24h0m1 7h0m0 19h0m0 0h0m1-32h0m1 8h0m0 3h0m1 3h0m0 3h0m1 6h0m1-21h0m1 14h0m2-12h0m3 5h0m2 17h0m0-16h0m3-9h0m0 3h0m1-5h0m1 14h0m1 24h0m0-29h0m0 5h0m1-13h0m1 14h0m0-11h0m0 18h0m1-6h0m0-3h0m0-10h0m6 33h0m5-24h0m1 13h0m2-4h0m5-20h0m2 11h0m1 9h0m2-3h0m1-15h0m4 29h0m6-11h0m4 15h0m4-24h0m10 49h0m-6-18h0m-6 15h0m-2-16h0m-1 3h0m-5 13h0m-2-9h0m-4 11h0m-5-4h0m-1 1h0m-3-4h0m-4 10h0m-2 10h0m-1-28h0m-1 12h0m-4-14h0m-2 11h0m-1-4h0m0 19h0m-1-27h0m-5 4h0m-3-3h0m-2 16h0m0-12h0m0-1h0m-1 0h0m-1 0h0m-1-5h0m-1 0h0m-1 0h0m0 11h0m-1-2h0m-1-5h0m-2 33h0m-6-8h0m-1-4h0m-2 2h0m-1-28h0m-7 13h0m0 17h0m-1-26h0m-5 7h0m0-4h0m-1 30h0m0-2h0m0-2h0m-2-15h0m-3 0h0m-4-1h0m-1-17h0m-2 6h0m-1 2h0m0 12h0m0-13h0m-1-1h0m0-6h0m-2 2h0m-1 15h0m-1-15h0m-2 28h0m0-15h0m0-14h0m-1 12h0m-2-6h0m-1-1h0m0 33h0m0-23h0m-2 6h0m0-17h0m-2 7h0m-1-12h0m0 4h0m-2 33h0m0-34h0m-1 8h0m-1-6h0m-7-5h0m0 18h0m-2-14h0m0-4h0m-2 13h0m0 4h0m0-15h0m-3 0h0m-1 11h0m0-1h0m-3-4h0m0 20h0m-3 4h0m-4-23h0m0 13h0m-1-13h0m0 13h0m-2 1h0m-1-13h0m-1-6h0m-1 11h0m-4-15h0m-1 25h0m-2-6h0m-2 14h0m-1-28h0m0 7h0m-1-6h0m-1-3h0m-3 4h0m-5 20h0m-3-11h0m-2-12h0m-7 29h0m-9-2h0m-1-15h0m-7 12h0m-14-20h0m-13 4h0m-6 5h0m-18-11h0m64 36h0m8 1h0m27 4h0m29 26h0m6-33h0m2 39h0m20-15h0m2-16h0m4 7h0m16 16h0m2-26h0m4 0h0m2 19h0m8 2h0m4-5h0m1-1h0m0-17h0m4 31h0m3-31h0m2 16h0m6 4h0m0-3h0m2-2h0m7 5h0m8 13h0m11-8h0m2 2h0m6-15h0m3-2h0m5 19h0m6-4h0m18 10h0m50 13h0m-38-5h0m0 22h0m-35-7h0m-16-20h0m-5 1h0m-11 22h0m-18-9h0m-5 17h0m-2-23h0m-3 25h0m0 1h0m-3-29h0m-3 14h0m-5 6h0m-21 7h0m-10-7h0m-14-3h0m-26-13h0m-7-6h0m-2 17h0m34 33h0m23-13h0m11 1h0m13 1h0m1 27h0m3-14h0m22 10h0m22-3h0m2-2h0m5-1h0m2-7h0m4 25h0m44-21h0m84 27h0m-131-4h0m-15 8h0m-2 1h0m-24-3h0m-10 20h0m-23-26h0m-91 25h0m175 25h0" stroke="#5a48b0" stroke-width="12" stroke-linecap="round" fill="none"/>
<path transform="scale(.1)" d="M2716 4391h0m-16 7h0m-3-5h0m-7 4h0m-4-13h0m-1 5h0m0-11h0m-1-8h0m-9 19h0m-6-16h0m-1 16h0m-3 4h0m-1 1h0m-3 1h0m-1-10h0m0-5h0m-5 5h0m-1-5h0m-2-14h0m-3 3h0m-1 25h0m-5-12h0m-3-12h0m0 23h0m-3 0h0m-5-1h0m-1 4h0m-1-26h0m0 29h0m-7-3h0m-2-23h0m-3 26h0m-9-10h0m-12 8h0m-3 41h0m3 0h0m7-20h0m1-13h0m2 11h0m0 22h0m7-14h0m2-17h0m2 25h0m1 2h0m2 3h0m1-5h0m2-7h0m1-2h0m0 8h0m1-1h0m1 9h0m0-35h0m0 18h0m1-1h0m0 11h0m0 4h0m1-13h0m4-9h0m1 13h0m0 0h0m1 8h0m1-17h0m1 3h0m0-11h0m2 10h0m0-8h0m1 24h0m0-4h0m1-7h0m0-6h0m1 18h0m0 0h0m1-15h0m0-9h0m0 16h0m0 5h0m0-21h0m1-5h0m0 29h0m1-29h0m1 12h0m0 16h0m0-24h0m1 21h0m1 5h0m0-9h0m2-25h0m0-4h0m1 15h0m0 10h0m0 2h0m0 8h0m0-19h0m1-12h0m0 33h0m3-17h0m0 10h0m0-2h0m1 10h0m0 0h0m0-13h0m1 13h0m0-14h0m1 1h0m0-5h0m1-5h0m0 24h0m1 0h0m0 0h0m0-18h0m0-1h0m1 7h0m0 4h0m1-12h0m0 12h0m0-3h0m1 9h0m1-3h0m0 5h0m0-2h0m0-10h0m0-4h0m1 10h0m0-28h0m1 17h0m0 10h0m2 4h0m0-28h0m0 11h0m1-18h0m1 3h0m0 14h0m0 19h0m0-4h0m1-1h0m0-11h0m0 18h0m1-17h0m0 12h0m0-34h0m0 37h0m1-16h0m0-10h0m0 26h0m0-7h0m1-2h0m0-8h0m2-1h0m0 14h0m1-3h0m1 7h0m1-31h0m0 19h0m0-8h0m0-14h0m0 27h0m1 0h0m0-16h0m1 16h0m1-23h0m1 14h0m1-13h0m0 25h0m0-32h0m0 35h0m1-4h0m0 5h0m2-36h0m0 1h0m2 25h0m1 9h0m0-30h0m0 27h0m1-32h0m2 19h0m1 14h0m0-26h0m0 25h0m0-6h0m2 9h0m1-1h0m1-8h0m1 7h0m0-14h0m1 4h0m1 14h0m1-33h0m0 11h0m0 14h0m1-22h0m0 26h0m0-2h0m1 6h0m1 1h0m2-10h0m3-6h0m1 2h0m2 6h0m1 3h0m3-28h0m1 29h0m1-5h0m1-8h0m0 17h0m1-6h0m1 5h0m1-1h0m9-20h0m23-4h0m1 25h0m31-9h0m-15 29h0m-1 16h0m-1 0h0m-3 2h0m-4-12h0m-3-21h0m-2 10h0m-3 26h0m-3-1h0m0-10h0m-2-6h0m-1 8h0m-2-20h0m-1 21h0m0 5h0m0-18h0m0-6h0m-1 16h0m-1 0h0m-2 8h0m0-4h0m0 0h0m0-10h0m-1 8h0m0 3h0m0-12h0m-1 10h0m-2-31h0m-1 2h0m0 19h0m-2-21h0m0 31h0m0-5h0m0-18h0m-1 24h0m0-14h0m0-11h0m-1 31h0m0-10h0m0-3h0m-1-20h0m0 11h0m-1-9h0m0 27h0m0-5h0m-1 8h0m0-5h0m-2-12h0m-1-5h0m-1 9h0m0 3h0m-1 10h0m0-3h0m0-30h0m-1 21h0m-1 10h0m0 0h0m0-14h0m0-14h0m-1 32h0m0-17h0m-1 7h0m0-21h0m0 24h0m-1-9h0m-1 1h0m0-3h0m-1 12h0m0-29h0m-1-1h0m0 19h0m0-20h0m0 4h0m0 29h0m-1-12h0m0 14h0m0-14h0m0-3h0m-1-11h0m-1-1h0m0 31h0m0-14h0m0 11h0m-1 3h0m0-15h0m0-18h0m0 13h0m-2 3h0m0-9h0m-1-9h0m0 1h0m0 27h0m0-18h0m0 2h0m0 0h0m-1-1h0m-1 1h0m0 7h0m0 15h0m0-11h0m-1-21h0m0 19h0m0-2h0m-1 2h0m-1-9h0m0-14h0m0 27h0m0 1h0m0-8h0m0 15h0m0-18h0m-1 17h0m0-4h0m0-12h0m0-9h0m0 19h0m0-9h0m0 7h0m0-19h0m-1 28h0m0-25h0m0 2h0m0 9h0m0 12h0m0-20h0m-1-8h0m0 17h0m0 10h0m-1-9h0m0 5h0m0-11h0m0 6h0m-1 1h0m0-10h0m0 5h0m-1 14h0m0-6h0m0-10h0m0 2h0m0-4h0m0 13h0m0-22h0m-1 29h0m0-3h0m0-32h0m-1 29h0m0-11h0m-1-16h0m0 8h0m-1 21h0m0 0h0m0-5h0m0-12h0m0 13h0m-1-6h0m0-3h0m-1 5h0m-1 12h0m0-4h0m0-31h0m-1 5h0m0 2h0m-1-6h0m0 11h0m0 25h0m-1-7h0m0-10h0m0 17h0m0-22h0m0 22h0m0-31h0m0-8h0m-1 35h0m0 3h0m0-5h0m-1-29h0m0 14h0m-1 10h0m0-3h0m0 4h0m0-20h0m0-5h0m0 3h0m0 7h0m0 14h0m0 3h0m0 7h0m0-14h0m-1 8h0m-1-23h0m0 29h0m0-4h0m0-14h0m-1-19h0m0 23h0m-1 8h0m0-10h0m0-7h0m-1 6h0m0 5h0m0-26h0m0 15h0m-1 16h0m0 2h0m0-17h0m-1-14h0m0 17h0m0 18h0m-1-7h0m-1-13h0m0 3h0m0-14h0m0 17h0m0-1h0m0-3h0m-1-3h0m0-10h0m0 10h0m0 9h0m0-6h0m0-12h0m-1 30h0m0-7h0m0 6h0m-1-20h0m0 18h0m0-7h0m0 5h0m0-4h0m0-7h0m0-17h0m-1-2h0m0 6h0m0 17h0m0-13h0m0 10h0m0-2h0m0-9h0m-1 11h0m0 10h0m0 7h0m0-14h0m-1 0h0m0-22h0m0 36h0m0-19h0m-1-14h0m0 11h0m0 15h0m0-26h0m0 33h0m0-1h0m-1-1h0m0-12h0m0-6h0m0 16h0m0-28h0m0 15h0m-1-12h0m0 6h0m0-12h0m0 1h0m0 7h0m0-9h0m-1 10h0m0 16h0m0 7h0m0-8h0m-1-4h0m0 15h0m0-33h0m0 0h0m0 23h0m-1-28h0m0 13h0m0-1h0m-1-13h0m0 32h0m0-7h0m0 6h0m0-10h0m0-11h0m-1 28h0m-1-32h0m0-2h0m0 21h0m0-18h0m-1-6h0m-1 33h0m0 1h0m0-4h0m-1-11h0m0-3h0m0 10h0m0-10h0m0-17h0m0 6h0m0 16h0m-1 0h0m0-15h0m-1 4h0m0-6h0m0 3h0m0 29h0m0-33h0m0 26h0m-1-3h0m0-9h0m0 9h0m0 0h0m0-1h0m-1 9h0m0-34h0m0 18h0m-1-11h0m0 1h0m0 14h0m0-3h0m-1 16h0m0-10h0m0-13h0m-1 25h0m0-38h0m0 16h0m-1-10h0m0 13h0m0 8h0m0 0h0m-1-15h0m0 27h0m0-4h0m0-8h0m-1-7h0m0 19h0m0-21h0m0 4h0m0 3h0m0-9h0m0 17h0m-1 0h0m0 0h0m-1-13h0m0-9h0m0-6h0m-1 7h0m0-3h0m0 18h0m0-15h0m-1 24h0m0-28h0m0 23h0m-2 0h0m-1-25h0m-1 25h0m0 2h0m0-11h0m0-10h0m0 27h0m-1-31h0m-1 6h0m0 3h0m0 5h0m0-19h0m0 23h0m0-19h0m0 4h0m0-2h0m0-2h0m-1 3h0m-2-8h0m-1 24h0m0 8h0m0 5h0m-1-25h0m0-12h0m-2 25h0m0 0h0m-2-4h0m-1-7h0m0 4h0m-1-4h0m-1 7h0m-1-5h0m-2-15h0m0-1h0m0 35h0m-1-4h0m0 5h0m0-14h0m-1 8h0m0-17h0m-4 0h0m0 10h0m-1 14h0m-1-19h0m0-14h0m-4 21h0m-1 8h0m-1 1h0m-1-6h0m-1-5h0m-1-21h0m0 2h0m-9 26h0m-3-28h0m-1-1h0m4 42h0m8 7h0m0-9h0m1 0h0m9 25h0m1 6h0m2-16h0m2 18h0m2-19h0m1 5h0m0-9h0m2-5h0m1 19h0m0-27h0m2 35h0m2-5h0m2-22h0m0 13h0m1-21h0m0 13h0m1-1h0m2 15h0m1-15h0m1 12h0m1-1h0m1-6h0m0-16h0m0 19h0m1-8h0m0 4h0m0-1h0m0-4h0m1-11h0m0 32h0m1-3h0m0-9h0m1 15h0m0-17h0m0 1h0m0-12h0m0 27h0m1-31h0m0 8h0m1-8h0m0 32h0m0-35h0m0 4h0m1 6h0m0-5h0m1 6h0m0 11h0m0-22h0m0 35h0m1-29h0m0 33h0m1-6h0m0 3h0m0-32h0m1-4h0m0 3h0m0 32h0m1-19h0m0 16h0m0-30h0m0 25h0m0-1h0m0 5h0m0-26h0m1-3h0m0 0h0m0 19h0m1 3h0m0 8h0m0-6h0m0-2h0m0-11h0m1-13h0m0 7h0m0 9h0m0 20h0m0-35h0m0 22h0m1-16h0m0 8h0m1-3h0m0 9h0m0 14h0m1-31h0m0-2h0m0 23h0m0-16h0m0 19h0m1-9h0m1-2h0m1 20h0m0 1h0m1-38h0m0 30h0m0 6h0m0-30h0m1-5h0m0 5h0m0 18h0m0-19h0m1 21h0m0-6h0m1-16h0m0 11h0m0-3h0m1 26h0m0-17h0m1-10h0m0-1h0m0 25h0m0-29h0m1 19h0m0-17h0m0 24h0m0-14h0m1 1h0m0 9h0m0-18h0m0 7h0m0-14h0m0 3h0m0 5h0m1 5h0m0-7h0m0 28h0m0-15h0m0-3h0m0 9h0m0-14h0m1 8h0m0-12h0m0 25h0m0-27h0m0 2h0m1 4h0m0 23h0m1-19h0m0 2h0m0 9h0m0-2h0m0-2h0m0-4h0m0 13h0m0-23h0m1-4h0m0 23h0m0-30h0m0 11h0m0 10h0m0 11h0m1-28h0m0-3h0m0 0h0m0 19h0m1-14h0m0 1h0m0 2h0m0 0h0m0 15h0m0 10h0m0 3h0m1-20h0m0 11h0m0 10h0m0-28h0m1-10h0m0 39h0m0-21h0m0-18h0m0 6h0m0 3h0m1 3h0m0 20h0m0-20h0m0 10h0m0 13h0m1-21h0m1 10h0m0-13h0m0 4h0m1 20h0m0-35h0m0 18h0m0 13h0m0-22h0m1 3h0m0 0h0m0 13h0m0-9h0m0 1h0m1-10h0m0-1h0m0 6h0m0 14h0m1-22h0m0 3h0m0 8h0m0-1h0m1 0h0m0 3h0m0 16h0m0-23h0m0 18h0m1-24h0m0 3h0m0 32h0m0-1h0m0-35h0m1 27h0m0-19h0m0-10h0m1 23h0m0-12h0m0-10h0m0-2h0m1 35h0m0-7h0m0-17h0m0-6h0m0-2h0m1 19h0m0-13h0m0-4h0m0-3h0m0 3h0m0 13h0m0 13h0m1-18h0m0 0h0m0 11h0m0-1h0m0-1h0m0 15h0m0-26h0m1-7h0m0 35h0m0-24h0m0-1h0m1 8h0m0-16h0m0 6h0m0 12h0m0-15h0m0 22h0m0-16h0m1 16h0m0-4h0m0-23h0m0 8h0m1 17h0m0 8h0m0-1h0m0 2h0m0-27h0m0 6h0m0 15h0m0 4h0m0-22h0m0 1h0m0 0h0m0-14h0m1 10h0m0 15h0m0-5h0m0 14h0m1-17h0m0 16h0m0-13h0m0 13h0m0-30h0m0 16h0m0-19h0m0 30h0m1-7h0m0-18h0m1 9h0m0-1h0m0-5h0m0-7h0m1 35h0m0-1h0m0-1h0m0-4h0m0-4h0m0-15h0m0 5h0m0 1h0m0-3h0m0 12h0m0-11h0m1 9h0m0-11h0m0 20h0m0-9h0m0-6h0m1-18h0m0 26h0m0-5h0m0-17h0m0 31h0m0-5h0m0-25h0m0 6h0m0 15h0m0-26h0m0 10h0m1 10h0m0-13h0m0-3h0m0 23h0m0-16h0m0 24h0m0-34h0m1 20h0m0-6h0m0-7h0m0 23h0m0 4h0m0-10h0m0 3h0m1-12h0m0 11h0m0-25h0m0 21h0m0-18h0m0-2h0m0 23h0m1 5h0m0-13h0m0-13h0m0 12h0m0 15h0m0-7h0m1-9h0m0-1h0m0 16h0m0-12h0m0-8h0m0 13h0m0-11h0m0-12h0m1 3h0m0 19h0m0-24h0m1 32h0m0-28h0m0 0h0m0 1h0m0 2h0m1 1h0m0-3h0m0 18h0m0-16h0m1 0h0m0 28h0m0-19h0m0 6h0m0-6h0m0 2h0m0 17h0m1-1h0m0-7h0m0 5h0m0-23h0m0 2h0m0-10h0m1 23h0m0-6h0m0-4h0m0 0h0m0-5h0m0 25h0m1-24h0m0-8h0m0 9h0m0 28h0m0-2h0m0-12h0m1-16h0m0 17h0m0-10h0m0-1h0m0 3h0m0-10h0m1 6h0m0-2h0m1 19h0m0-19h0m0-1h0m0 24h0m0 0h0m0-34h0m0 29h0m0-10h0m1 12h0m0-11h0m0 9h0m1-18h0m0 20h0m0 3h0m0 1h0m0-34h0m1 13h0m0-15h0m0 30h0m0-13h0m1-11h0m0 0h0m0 19h0m1 0h0m0-10h0m0 23h0m0-6h0m0 1h0m0-12h0m1-1h0m0-17h0m0 29h0m0 6h0m0-24h0m0-2h0m0-4h0m1 5h0m0-8h0m0 0h0m0 10h0m1-5h0m0 4h0m0 15h0m0-11h0m0-11h0m1 21h0m0-25h0m0 13h0m0 11h0m0-13h0m1 17h0m0-25h0m0 7h0m0 11h0m2 11h0m1-26h0m0 10h0m1-3h0m0 18h0m0-6h0m1-26h0m0 27h0m0-1h0m0 10h0m2-10h0m0-10h0m0-14h0m1 19h0m0-11h0m0-5h0m0 19h0m1 0h0m2-3h0m0 9h0m1-3h0m0-5h0m0-7h0m0 5h0m1-8h0m2 8h0m0 17h0m1-34h0m0 29h0m1-1h0m0-29h0m0 13h0m0-8h0m1-8h0m1 13h0m0 6h0m1-3h0m0-11h0m1 18h0m2-24h0m0 18h0m0-18h0m1 26h0m2-12h0m0-2h0m2 14h0m1 11h0m2-34h0m0 14h0m1-13h0m1 6h0m0 18h0m9-8h0m0-1h0m1-2h0m0 17h0m3 5h0m3-22h0m0 5h0m4-4h0m2-12h0m2-2h0m1 26h0m5-23h0m0 9h0m6 11h0m9-6h0m3 42h0m-2 14h0m-11-14h0m-8-19h0m-2 22h0m0 6h0m-3-22h0m-1 24h0m-1-24h0m0-9h0m-5 6h0m0 26h0m-3-29h0m-2-3h0m0 38h0m-1-16h0m-1-8h0m0-3h0m-2-3h0m-2 22h0m0-26h0m0 27h0m-1-8h0m-1-2h0m0-17h0m-1 2h0m-1 14h0m0-5h0m-1-5h0m-1 14h0m0-11h0m-2-11h0m0 10h0m-1 25h0m0-17h0m-1-1h0m0-1h0m-1-3h0m0 22h0m0-16h0m0 4h0m-2 11h0m0-24h0m0-8h0m0 19h0m-1 6h0m-1-27h0m-3 25h0m0-25h0m-1 30h0m0-2h0m0-26h0m-1 30h0m-1-22h0m-1 15h0m0-10h0m0-16h0m-1 5h0m0-6h0m-1 21h0m0-11h0m-1 12h0m-2-11h0m-1 12h0m0-16h0m0 27h0m0 4h0m0-32h0m0 1h0m-1-3h0m0 25h0m0 8h0m0-36h0m-2 14h0m0 20h0m0-17h0m-1 3h0m0-16h0m0 4h0m-1 27h0m0-28h0m0 3h0m0 2h0m-1-9h0m-1 11h0m-1-13h0m0 18h0m-1 1h0m0-12h0m0 22h0m-1 3h0m0-23h0m0 4h0m0-15h0m0 22h0m-1-22h0m0 24h0m0 5h0m-2-1h0m0 3h0m0-8h0m0-5h0m-1 19h0m0-6h0m0-8h0m0-1h0m-1-18h0m0 0h0m-1 33h0m0-21h0m-1-10h0m0 17h0m0 12h0m-1-18h0m0-4h0m0-7h0m-1-4h0m0 5h0m0 4h0m0-7h0m0 1h0m-1-5h0m0 20h0m0-16h0m-1 17h0m0-17h0m0 1h0m-1 23h0m0 0h0m-1-23h0m0-3h0m0 11h0m-1 1h0m0 22h0m0-33h0m-1 0h0m-1 13h0m-1 5h0m0 0h0m0-11h0m0 10h0m0 0h0m0-6h0m-1 9h0m0-18h0m0 0h0m-1-5h0m0 17h0m0-15h0m-1 27h0m0-8h0m0-11h0m-1 24h0m0-12h0m-2-16h0m0 27h0m-1-2h0m0 4h0m0-8h0m0-28h0m-1 1h0m0 28h0m0-7h0m-1-7h0m0 22h0m0-21h0m-1 2h0m0-12h0m0-1h0m0 3h0m-1 5h0m0-2h0m0 25h0m-1-19h0m-1-16h0m0 0h0m-1 31h0m-1-8h0m0-11h0m0-3h0m-1 7h0m0-5h0m0-8h0m0 14h0m-1 20h0m0-26h0m-1 0h0m-1-6h0m0 31h0m0-11h0m-1-10h0m0-16h0m0 20h0m0-20h0m-1 1h0m0 18h0m0-2h0m0-10h0m-1 7h0m-1-12h0m0 8h0m0-9h0m-1 34h0m0-11h0m-1-12h0m-1 10h0m0 0h0m-1-13h0m-1-3h0m0 2h0m-1 17h0m0-11h0m-2 0h0m0 5h0m0-9h0m0 1h0m-1 26h0m0-35h0m-1 22h0m0-7h0m-1-11h0m0 13h0m-1-10h0m-2-8h0m0 0h0m0 37h0m-1-26h0m0 22h0m-1-29h0m0 5h0m0 22h0m-1-1h0m0 5h0m-1-16h0m-1 17h0m0-35h0m0 4h0m-1-4h0m-1 0h0m0 21h0m0-21h0m0 21h0m-1-5h0m0-17h0m-1 13h0m0 2h0m-1-16h0m0 16h0m0 14h0m-2-3h0m-2 3h0m-2 3h0m-4-4h0m-1 1h0m0 3h0m-1-32h0m-1 25h0m-1-25h0m0 33h0m-3-32h0m-4 12h0m-1-14h0m-6 27h0m-3-10h0m-2-17h0m-2 9h0m-4 6h0m-1-5h0m-18-6h0m11 39h0m3 5h0m29 14h0m0-19h0m7 2h0m1 21h0m1-17h0m1 7h0m2 0h0m4 21h0m4-9h0m4-28h0m5 16h0m5-4h0m0-11h0m4 1h0m2 9h0m0-7h0m2 27h0m3-26h0m0 23h0m1-20h0m0-8h0m1 9h0m4-4h0m1 18h0m0-23h0m1 16h0m1 8h0m6 1h0m1-20h0m0 2h0m1 6h0m1-7h0m1-6h0m1 13h0m0 2h0m1 13h0m4-23h0m1 27h0m1-29h0m0 6h0m1-7h0m0 3h0m0 5h0m4 27h0m0-15h0m1-16h0m0 5h0m0-7h0m1 23h0m0-27h0m1 0h0m2 7h0m1 4h0m0 27h0m1-38h0m1 7h0m0 26h0m0-12h0m1-7h0m0 7h0m1-9h0m2 13h0m1 0h0m0 8h0m0-22h0m0 17h0m2-24h0m1 3h0m1 23h0m1-18h0m1 11h0m1-23h0m1 7h0m0 23h0m1-26h0m0 3h0m0 8h0m2-10h0m2 3h0m0 28h0m0-23h0m1-5h0m1 4h0m1 17h0m2-26h0m0 6h0m0 4h0m0-6h0m4 5h0m1-6h0m5-3h0m0 28h0m4-28h0m0 25h0m1-7h0m1 0h0m1 12h0m4-24h0m0 26h0m0-18h0m3-3h0m0 10h0m3-10h0m2 10h0m0 15h0m0-20h0m0 19h0m1-9h0m1-27h0m0 33h0m1-34h0m0 36h0m1-15h0m5 0h0m2-15h0m4 26h0m3-21h0m0 26h0m13-10h0m6-10h0m1-8h0m7-5h0m4 15h0m20 11h0m21 31h0m-2-14h0m-24 2h0m-7 21h0m-7-30h0m0 8h0m-1 26h0m-5-20h0m-7-7h0m-5 31h0m-5 0h0m-1-30h0m-3 26h0m-1-4h0m-2-17h0m-1-13h0m0 2h0m-1 10h0m0 1h0m-2 17h0m0-26h0m-1 3h0m-1-8h0m0 8h0m-1 23h0m-1-23h0m-1 20h0m-1-2h0m0 7h0m0-11h0m-2 2h0m0-21h0m-3 11h0m-1 19h0m-1-10h0m0 10h0m-1-16h0m-2-1h0m-2-15h0m-1 10h0m0 10h0m-1-2h0m0-9h0m-1-8h0m0 8h0m0 19h0m-2-18h0m-1 16h0m-2-24h0m-1 31h0m0-6h0m0-16h0m-1-12h0m-1 39h0m-6-29h0m0 19h0m-2 1h0m-1-15h0m-3 11h0m0-12h0m-2 15h0m0-27h0m-4 17h0m-1-1h0m0-4h0m-2-14h0m0 23h0m-3-15h0m-2 11h0m-3 4h0m0-6h0m-2-11h0m0-3h0m-5-2h0m0 4h0m-1 3h0m-2 26h0m-1-12h0m-3-5h0m-1 10h0m-3-26h0m-1 24h0m-1-22h0m-5 16h0m-12 7h0m-10 9h0m-2-7h0m-2-17h0m0 0h0m5 51h0m13-13h0m5 9h0m6 14h0m4-6h0m1 12h0m4-32h0m2 8h0m4-6h0m1 25h0m5 2h0m2 0h0m6-7h0m2 4h0m0-9h0m3 6h0m2-21h0m1 3h0m2 22h0m2-27h0m1 7h0m1 0h0m1 16h0m6-22h0m1 25h0m1-31h0m2 13h0m6 6h0m1-16h0m1 6h0m1 26h0m1-22h0m1-2h0m0 21h0m0-15h0m1 19h0m3-5h0m2-10h0m0 1h0m1-18h0m2 18h0m0-10h0m1-10h0m1 10h0m1-9h0m0 21h0m2-6h0m1-5h0m0 23h0m0-35h0m4 15h0m3-6h0m2 8h0m4 20h0m1-37h0m0 13h0m1-3h0m5 12h0m2 6h0m1-26h0m2 14h0m6 6h0m2-18h0m1 19h0m10-3h0m1 17h0m14-26h0m2 5h0m12 12h0m11-19h0m4 20h0m-31 11h0m-29 31h0m-2-17h0m-3 23h0m-9-9h0m-3-6h0m-1-15h0m0 29h0m-8-18h0m-1-19h0m-1 26h0m-4-10h0m-6 3h0m-1 12h0m-6-6h0m-1-8h0m-1 21h0m-6-35h0m-4 10h0m-4 4h0m-9 21h0m-3-28h0m-4 7h0m-29-2h0m-44-8h0m59 32h0m3 30h0m21-28h0m3 6h0m0 9h0m43-17h0m70 12h0" stroke="#d6103e" stroke-width="12" stroke-linecap="round" fill="none"/>
<path d="M260.6 439.8 L273.2 452.4 C276.1 456.3 280.7 459 284.5 458.1 C289.1 456.8 290.5 451.1 289.1 446.8 C287.3 442.8 282.6 442 278.9 443.3 C276.5 444.1 275.1 445.9 275.1 447.6" fill="none" stroke="#333" stroke-width="0.55" stroke-opacity="0.45"/>
<text font-size="7.18" transform="translate(328.3 416.6) scale(0.877 1)" stroke="#161616" stroke-width="0.05">IGHV5-51</text>
<rect x="328.3" y="421.5" width="3.9" height="19.7" fill="#5a50aa"/>
<rect x="328.3" y="441.2" width="3.9" height="47.8" fill="#d0104a"/>
<text font-size="7.18" transform="translate(333.8 423.7) scale(0.877 1)" stroke="#161616" stroke-width="0.05">1874</text>
<text font-size="7.18" transform="translate(333.8 441) scale(0.877 1)" stroke="#161616" stroke-width="0.05">874</text>
<text font-size="7.18" transform="translate(333.8 457.8) scale(0.877 1)" stroke="#161616" stroke-width="0.05">24</text>
<text font-size="7.18" transform="translate(333.8 474.8) scale(0.877 1)" stroke="#161616" stroke-width="0.05">12</text>
<text font-size="7.18" transform="translate(333.8 491.6) scale(0.877 1)" stroke="#161616" stroke-width="0.05">0</text>
<text font-size="10.4" font-weight="bold" fill="#000" x="384.5" y="418.8" stroke="#000" stroke-width="0.05">J</text>
<line x1="411.5" y1="419.1" x2="411.5" y2="491.8" stroke="#262626" stroke-width="1.15"/>
<line x1="409.5" y1="430.5" x2="411.5" y2="430.5" stroke="#262626" stroke-width="0.9"/>
<text font-size="7.18" text-anchor="end" transform="translate(406.1 432.9) scale(0.877 1)" stroke="#161616" stroke-width="0.05">10</text>
<line x1="409.5" y1="448.5" x2="411.5" y2="448.5" stroke="#262626" stroke-width="0.9"/>
<text font-size="7.18" text-anchor="end" transform="translate(406.1 451.1) scale(0.877 1)" stroke="#161616" stroke-width="0.05">0</text>
<line x1="409.5" y1="467.5" x2="411.5" y2="467.5" stroke="#262626" stroke-width="0.9"/>
<text font-size="7.18" text-anchor="end" transform="translate(406.1 469.4) scale(0.877 1)" stroke="#161616" stroke-width="0.05">−10</text>
<line x1="409.5" y1="485.5" x2="411.5" y2="485.5" stroke="#262626" stroke-width="0.9"/>
<text font-size="7.18" text-anchor="end" transform="translate(406.1 487.7) scale(0.877 1)" stroke="#161616" stroke-width="0.05">−20</text>
<line x1="410.4" y1="491.5" x2="468.8" y2="491.5" stroke="#262626" stroke-width="1.15"/>
<line x1="419.5" y1="491.5" x2="419.5" y2="493.5" stroke="#262626" stroke-width="0.9"/>
<text font-size="7.18" text-anchor="middle" transform="translate(419.1 502.5) scale(0.877 1)" stroke="#161616" stroke-width="0.05">−5</text>
<line x1="428.5" y1="491.5" x2="428.5" y2="493.5" stroke="#262626" stroke-width="0.9"/>
<text font-size="7.18" text-anchor="middle" transform="translate(428.5 502.5) scale(0.877 1)" stroke="#161616" stroke-width="0.05">0</text>
<line x1="437.5" y1="491.5" x2="437.5" y2="493.5" stroke="#262626" stroke-width="0.9"/>
<text font-size="7.18" text-anchor="middle" transform="translate(437.9 502.5) scale(0.877 1)" stroke="#161616" stroke-width="0.05">5</text>
<line x1="447.5" y1="491.5" x2="447.5" y2="493.5" stroke="#262626" stroke-width="0.9"/>
<text font-size="7.18" text-anchor="middle" transform="translate(447.2 502.5) scale(0.877 1)" stroke="#161616" stroke-width="0.05">10</text>
<line x1="456.5" y1="491.5" x2="456.5" y2="493.5" stroke="#262626" stroke-width="0.9"/>
<text font-size="7.18" text-anchor="middle" transform="translate(456.6 502.5) scale(0.877 1)" stroke="#161616" stroke-width="0.05">15</text>
<line x1="465.5" y1="491.5" x2="465.5" y2="493.5" stroke="#262626" stroke-width="0.9"/>
<text font-size="7.18" text-anchor="middle" transform="translate(465.9 502.5) scale(0.877 1)" stroke="#161616" stroke-width="0.05">20</text>
<text font-size="8.4" text-anchor="middle" font-weight="bold" fill="#222" transform="translate(440.3 514.5) scale(0.53 1)" stroke="#222" stroke-width="0.05">PC1</text>
<text font-size="8.4" text-anchor="middle" font-weight="bold" fill="#222" transform="translate(389.6 455.1) rotate(-90) scale(0.53 1)" stroke="#222" stroke-width="0.05">PC2</text>
<path transform="scale(.1)" d="M4292 4348h0m14 6h0m10 4h0m1-20h0m32 18h0m21-9h0m2-1h0m5 4h0m5 4h0m11 1h0m10-12h0m16 5h0m12-9h0m87 33h0m-13 6h0m-28 7h0m-3-1h0m-3-2h0m-8 1h0m-16 11h0m-1-19h0m-1-10h0m-2 15h0m-1 9h0m-6-18h0m-1 25h0m-2-5h0m-2 2h0m-4-14h0m-1-10h0m-3 29h0m0-8h0m-7-9h0m-2-7h0m-2 2h0m-3-1h0m0 13h0m-2 11h0m-3-3h0m-2-27h0m-1 25h0m0-7h0m-1-14h0m0 25h0m-1 1h0m0-8h0m-3-13h0m0 5h0m-1 4h0m-2 10h0m-3-4h0m0 4h0m-1-10h0m-7 2h0m-1-10h0m-2 15h0m-2-1h0m0-22h0m0 21h0m0-5h0m-1 8h0m0-26h0m0 6h0m-1 4h0m-2 14h0m0 1h0m-5-16h0m-2-12h0m-1 6h0m-1-1h0m-1 13h0m-6-4h0m0 10h0m0 7h0m-1-7h0m-2-25h0m-1-2h0m0 12h0m-2 21h0m-1-29h0m-3 28h0m-1-16h0m0 14h0m-1-16h0m0-3h0m-2 10h0m-1-5h0m0 7h0m-2-9h0m0 13h0m-1 2h0m-1-4h0m-1 4h0m0-2h0m-1-12h0m-2 17h0m-2-1h0m0 1h0m-1 3h0m0-38h0m-3 1h0m-3 31h0m-1-10h0m-3-3h0m-1-8h0m-1-8h0m0 30h0m-1 1h0m0-10h0m0 4h0m-1-11h0m-3 22h0m-2-13h0m-3 12h0m-1-13h0m0-6h0m0-13h0m-1 26h0m-3-1h0m-1-24h0m-5 20h0m-1-10h0m-1-5h0m0 25h0m-1-11h0m-1-4h0m0 10h0m0-1h0m-6 8h0m0-32h0m0 3h0m-2 18h0m-4 10h0m-7-16h0m-28 6h0m-8-22h0m-8 29h0m-9 3h0m-4 1h0m-1-18h0m-1 5h0m0-11h0m-1-8h0m0 31h0m-9-12h0m-3 11h0m-3 1h0m0-28h0m-1 16h0m-3 4h0m-1 1h0m-3 1h0m-1-10h0m0-5h0m-5 5h0m-1-5h0m-2-14h0m-2 34h0m-1-31h0m-1 25h0m-5-12h0m-3-12h0m0 23h0m-3 0h0m-5-1h0m-1 4h0m-1-26h0m-7 26h0m-2-23h0m-3 26h0m-9-10h0m-12 8h0m-3 41h0m3 0h0m7-20h0m1-13h0m2 11h0m0 22h0m7-14h0m2-17h0m2 25h0m1 2h0m2 3h0m1-5h0m2-7h0m0 17h0m1-19h0m0 8h0m1-1h0m1 9h0m0-35h0m0 18h0m1-1h0m0 11h0m0 4h0m1-13h0m4-9h0m1 28h0m0-15h0m0 0h0m1 8h0m1 7h0m0-24h0m1-8h0m2 10h0m0-8h0m1 24h0m0-4h0m1-7h0m0-6h0m1 18h0m0 0h0m1-15h0m0-9h0m0 16h0m0 5h0m0-21h0m1-5h0m0 29h0m1-29h0m1 12h0m0 16h0m0-24h0m1 21h0m1 5h0m0-9h0m2-25h0m1 11h0m0 10h0m0 2h0m0 8h0m0-19h0m1-12h0m0 36h0m0-3h0m3-17h0m0 21h0m0-11h0m0-2h0m1 10h0m0 0h0m0-13h0m1 13h0m0-14h0m1 1h0m1-10h0m0 25h0m0-1h0m1 0h0m0 0h0m0-18h0m0-1h0m1 21h0m0-14h0m0 4h0m1-12h0m0 12h0m1 6h0m1 3h0m0-6h0m0 5h0m0-12h0m0-4h0m1 10h0m0 8h0m1-19h0m0 10h0m2 4h0m0-17h0m2-1h0m1 14h0m0-11h0m1 1h0m0 12h0m0 3h0m1 5h0m0-21h0m0-10h0m0 19h0m1-2h0m0-8h0m2-1h0m0 14h0m1-3h0m1 7h0m1 5h0m0-36h0m0 19h0m0-8h0m0-14h0m0 27h0m1 0h0m0-16h0m1 26h0m0-10h0m0 4h0m1-27h0m1 34h0m0-20h0m1-13h0m0 25h0m1 4h0m4-10h0m0 13h0m1-4h0m0-30h0m3 14h0m1 14h0m0-26h0m2 28h0m1-1h0m1-8h0m0 15h0m1-8h0m1-10h0m1 14h0m1-33h0m0 11h0m0 14h0m1-22h0m0 26h0m0-2h0m1 6h0m1 4h0m0-3h0m2-10h0m1 10h0m2-16h0m3 8h0m1 3h0m2-3h0m1-25h0m0 36h0m1-7h0m1-5h0m1-8h0m0 17h0m1-6h0m1 5h0m1-1h0m1-11h0m5 13h0m3-22h0m0 19h0m2-6h0m1 10h0m2 2h0m1-2h0m4-16h0m2-9h0m2-12h0m0 3h0m1 3h0m1 21h0m2 0h0m0 10h0m2-4h0m1 1h0m2-24h0m0 15h0m1 10h0m0-15h0m0-1h0m3-9h0m1 16h0m0-19h0m0 29h0m1-23h0m0 7h0m1-4h0m0 20h0m2-10h0m0-13h0m0-2h0m1 26h0m0-17h0m3-20h0m1 23h0m0 16h0m1-32h0m0 25h0m0-9h0m1 14h0m0-9h0m3-16h0m0 22h0m0-8h0m0-12h0m1-10h0m2 2h0m0 24h0m1-10h0m0 16h0m0-11h0m0-20h0m0 10h0m1 2h0m1 5h0m0 16h0m0-20h0m1-2h0m0 20h0m0-28h0m0 11h0m1 2h0m0 6h0m0 7h0m2-30h0m0 8h0m0 26h0m0-38h0m1 26h0m0-10h0m0 15h0m1-18h0m1 13h0m0-23h0m1 35h0m1 1h0m0-31h0m0 11h0m1 10h0m0 9h0m1-1h0m0-37h0m2 33h0m0-22h0m0 20h0m1-19h0m0 0h0m0 8h0m1-20h0m0 9h0m0 23h0m1 1h0m0-29h0m1-1h0m1 10h0m0 6h0m1 0h0m1 14h0m1-17h0m0 9h0m0 6h0m0 2h0m1 4h0m1-21h0m0-14h0m0 35h0m1-9h0m0-22h0m1-6h0m1 29h0m1-12h0m0-15h0m0 23h0m1 4h0m2-16h0m0-3h0m0 9h0m0 7h0m0 11h0m1-8h0m1 10h0m0-29h0m1-4h0m0 30h0m0-16h0m2 10h0m0-7h0m0-21h0m0 10h0m0-5h0m1 19h0m0-16h0m0 23h0m1-31h0m0 16h0m0 6h0m0-1h0m0-16h0m0 9h0m2 15h0m0-13h0m1-9h0m1 23h0m0-28h0m0 1h0m0 16h0m1-11h0m0 14h0m1-18h0m0 7h0m1 8h0m1 9h0m1 9h0m0-30h0m1 21h0m1-12h0m0 1h0m0-1h0m0 7h0m0-5h0m0 10h0m0-4h0m1-6h0m0 12h0m0-12h0m0-18h0m1 20h0m0 14h0m0-3h0m1-28h0m0 17h0m0-5h0m0-7h0m0 23h0m0-29h0m2 27h0m0-1h0m1-30h0m0 9h0m0-1h0m1 18h0m0-8h0m0 10h0m1-5h0m0-7h0m0-10h0m1 10h0m0 22h0m1-22h0m0 13h0m0-13h0m0 6h0m0 2h0m1-10h0m0 8h0m1 14h0m0-3h0m1 5h0m0-21h0m0-4h0m0 1h0m1 18h0m0-18h0m0 24h0m1-29h0m0-3h0m1-4h0m0 33h0m1-26h0m0 2h0m0 28h0m1-17h0m0 9h0m0-9h0m0 5h0m0-3h0m0 13h0m0-7h0m1 4h0m0-17h0m1 20h0m1-7h0m0-14h0m0 1h0m1 7h0m0 0h0m0-15h0m1 18h0m0 10h0m1-35h0m0 18h0m0-10h0m0 15h0m1-3h0m0 10h0m1 0h0m0-30h0m0 35h0m0-22h0m0 16h0m0-7h0m1-18h0m0 13h0m0 12h0m0-17h0m1 17h0m1-15h0m0-10h0m0-3h0m1 24h0m1-21h0m1 25h0m0-17h0m1-8h0m1 23h0m0-17h0m0 16h0m0-21h0m0-5h0m1 22h0m0 7h0m0-5h0m0-10h0m1 21h0m1-8h0m0-18h0m1-9h0m0 13h0m1 5h0m1 18h0m1-13h0m1 0h0m0 10h0m0-3h0m1-31h0m1 38h0m0-18h0m0-6h0m1 12h0m0 11h0m0 0h0m0 0h0m1-17h0m0 18h0m0-17h0m0 17h0m0-13h0m0 12h0m1-27h0m0 15h0m0-25h0m1 14h0m0-14h0m0 32h0m1-6h0m2 5h0m1-20h0m0 22h0m0 3h0m0-7h0m1 2h0m0-22h0m0 10h0m1 4h0m0-15h0m0 18h0m0 7h0m0 2h0m1-1h0m0-13h0m0 7h0m0-18h0m1-3h0m0 3h0m0 21h0m1-8h0m0 3h0m0 6h0m1-3h0m0 1h0m1-30h0m0 5h0m1 31h0m0-18h0m1 13h0m0-17h0m1 24h0m1-7h0m0-31h0m1 29h0m0-16h0m0 25h0m0-14h0m1-1h0m1-18h0m0 23h0m1 3h0m0 6h0m1-4h0m1-13h0m1 1h0m0 7h0m1 4h0m0-16h0m1-16h0m0 37h0m1-21h0m0 20h0m0-20h0m0 13h0m2-26h0m1 11h0m0-14h0m0 18h0m1 3h0m0 12h0m2 5h0m0-2h0m0-3h0m2-25h0m1 22h0m1 7h0m1-3h0m0 1h0m1-6h0m2-20h0m0 29h0m1-24h0m0 1h0m1 18h0m1 3h0m1-31h0m3 29h0m2-19h0m1 14h0m3-13h0m0 17h0m2-24h0m3 10h0m0 16h0m1-21h0m0-4h0m1 20h0m0-7h0m1 8h0m1-5h0m1-6h0m1 12h0m2-7h0m0 5h0m1-9h0m0-9h0m1-3h0m2 23h0m1-8h0m0-6h0m0-1h0m1 11h0m1 7h0m1 1h0m2 1h0m2-22h0m1 19h0m5 4h0m0-20h0m3-5h0m1 14h0m0 3h0m1 3h0m6-6h0m6 10h0m7-17h0m1-20h0m16 37h0m12-1h0m-7 33h0m-1-5h0m-5-9h0m-5-16h0m-5 17h0m-4 13h0m-2 0h0m0 2h0m0-17h0m0 23h0m0-25h0m-2 18h0m0-13h0m-1-2h0m0 19h0m-2-11h0m-1-4h0m-1-8h0m-2 10h0m-1 14h0m-2-32h0m-1 29h0m-4-12h0m0 1h0m-3-9h0m-1-8h0m-1 25h0m0-6h0m-2 13h0m-1-4h0m0 6h0m-1-32h0m0 29h0m-1-14h0m-3-16h0m-1 13h0m0 9h0m-1 3h0m-2-18h0m0 22h0m0-33h0m-1 23h0m0-12h0m-2 7h0m-1-20h0m-1 19h0m0 0h0m-1 19h0m-1-2h0m-3-17h0m-1 7h0m-1 13h0m0 0h0m0-29h0m0 20h0m-2 8h0m0-16h0m-1 3h0m-1 9h0m-1-9h0m-1 1h0m0 12h0m-3-22h0m0-15h0m-1 11h0m0 14h0m-1 13h0m0-20h0m0 13h0m-2-3h0m0-7h0m0-4h0m-1 13h0m0 7h0m0-7h0m-1-29h0m0 8h0m0 28h0m0-26h0m-1-1h0m0-10h0m0 2h0m-1-2h0m0 24h0m-1 10h0m0-27h0m-2 10h0m0-5h0m0 0h0m-1-6h0m0 11h0m-1 6h0m0 10h0m0-33h0m0 24h0m0 14h0m-1-8h0m0-15h0m-1-4h0m0 15h0m0-18h0m0 29h0m0-33h0m0 6h0m-1 26h0m-1-25h0m0 26h0m-1-5h0m-1-8h0m0-1h0m-1-6h0m-1 17h0m-1-12h0m-1-11h0m0 21h0m0-17h0m0 14h0m0-27h0m-1 35h0m0-3h0m0-4h0m0 1h0m-1 5h0m-1-17h0m0 4h0m0-16h0m0 14h0m-1 3h0m-1-7h0m0-14h0m-1 27h0m0-16h0m0 22h0m0-29h0m0-4h0m0 32h0m0-10h0m0-20h0m-1 2h0m0-6h0m0 20h0m-1 4h0m0 9h0m-1-13h0m0 13h0m-1-30h0m0 24h0m-1-23h0m0-1h0m0 11h0m-1-1h0m0 23h0m0-31h0m-1 17h0m0 14h0m-1-21h0m0 6h0m0 7h0m0 1h0m0-15h0m-1-10h0m0 20h0m0 7h0m0 3h0m-1-24h0m-1-6h0m0 0h0m0 6h0m-1-11h0m0 21h0m0-18h0m-1 22h0m0-3h0m0-13h0m-1 17h0m0 0h0m0-12h0m0-11h0m0 30h0m0-14h0m0 16h0m-1-34h0m-1 18h0m0 1h0m0-11h0m0-1h0m0 30h0m0-35h0m0 0h0m0-1h0m0 25h0m-1-12h0m0 2h0m0 11h0m-1-20h0m0 5h0m0-3h0m-1 6h0m0-16h0m0 25h0m-1 9h0m0-33h0m0 10h0m-1-12h0m0 0h0m0 28h0m0-21h0m0 32h0m0-39h0m-1 29h0m-1-21h0m0-8h0m0 24h0m0 9h0m-1-11h0m0 8h0m0-15h0m0 16h0m0-11h0m0-1h0m0 20h0m-1-17h0m0-11h0m-1 27h0m0-26h0m0 6h0m0 18h0m0-21h0m-1 7h0m0-7h0m0 5h0m0-9h0m0-3h0m0 15h0m0 10h0m-1 1h0m0-26h0m0 20h0m0-4h0m0-3h0m0-21h0m0 20h0m-1-5h0m0 22h0m-1-25h0m0-4h0m-1 14h0m-1-8h0m0 5h0m-1 9h0m0-26h0m0 14h0m-1-1h0m0 12h0m-1 12h0m0-36h0m0 22h0m0 11h0m-1-20h0m0-13h0m0 0h0m-1 8h0m0 24h0m-1-30h0m0 25h0m0 9h0m0-15h0m-1 1h0m0 5h0m0-1h0m0-3h0m0-3h0m0-1h0m-1-9h0m0 26h0m0-2h0m0-10h0m-2-25h0m0 36h0m0-4h0m0 5h0m0 0h0m-1-38h0m0 0h0m0 37h0m0-36h0m0 31h0m0-15h0m-1 4h0m0 13h0m0-23h0m-1 19h0m0-11h0m0-2h0m0 20h0m-1-37h0m-1 27h0m0-1h0m-1-5h0m0 2h0m0-12h0m-2 20h0m-1-28h0m0 10h0m0-11h0m0 0h0m0 29h0m-1 7h0m0-17h0m0-9h0m-1-9h0m0 9h0m-1-1h0m0 13h0m-1-12h0m0 26h0m0-15h0m0-5h0m-1 0h0m0-6h0m0 12h0m0-16h0m-1 16h0m0-7h0m0 13h0m0-20h0m-1 28h0m-1-1h0m0-36h0m0 15h0m-1-6h0m0 20h0m-1-8h0m0-16h0m0 26h0m0-6h0m-1-8h0m0-11h0m0 25h0m0-2h0m0-2h0m0-16h0m-1 26h0m0-13h0m0 10h0m-1-23h0m-1-11h0m0 17h0m-1 1h0m0 2h0m0-10h0m0 15h0m0-17h0m-2 3h0m0 26h0m-1-28h0m-1-7h0m0 30h0m0-10h0m0-6h0m0-9h0m-1 0h0m0 6h0m0 0h0m-1 2h0m0-2h0m0 8h0m-1 16h0m0-39h0m-1 4h0m-1 28h0m0-25h0m0 9h0m0 18h0m-1 1h0m0-24h0m0 28h0m0-23h0m0 5h0m0 5h0m-1-16h0m0-9h0m0 11h0m-1 24h0m0-9h0m0-3h0m0 11h0m0 3h0m-2-3h0m0-20h0m-1 1h0m-1 2h0m-1 12h0m0-26h0m0 19h0m-1-20h0m-1 4h0m0 27h0m0 4h0m-1-35h0m0-3h0m-2 2h0m0 31h0m0-19h0m0 8h0m-1-18h0m0 18h0m-1-20h0m0 0h0m-1 16h0m-1 13h0m-1-20h0m0-6h0m0 13h0m-1 1h0m0 4h0m0-18h0m-1-1h0m0 8h0m0-9h0m0-1h0m-1-2h0m-1 34h0m-1 4h0m-1-31h0m-1 29h0m0-30h0m0 32h0m0-26h0m-1-8h0m0 3h0m-1-4h0m0 28h0m-1-17h0m0-13h0m0 33h0m0-21h0m-1 24h0m0-22h0m0-2h0m0 9h0m-1 3h0m0-18h0m0 21h0m-1-22h0m-1 6h0m0 1h0m0 10h0m0-13h0m-1 9h0m0 8h0m-1-15h0m-1-11h0m-2 15h0m-1-15h0m0 1h0m0 25h0m-1 12h0m0-24h0m0 12h0m-2 1h0m0-27h0m-1 23h0m0 15h0m0-37h0m0 29h0m0-23h0m-1 7h0m0 11h0m0-4h0m-2-7h0m0 17h0m-1 0h0m0-24h0m-1-2h0m-1 28h0m0-23h0m-1 2h0m0 1h0m-2-12h0m0 26h0m0-15h0m-1 2h0m-1 16h0m0-24h0m0-7h0m-1 31h0m-1-24h0m-2 26h0m-1-22h0m-3 10h0m0-16h0m0 3h0m0 3h0m-2 15h0m-1-26h0m0 30h0m-1-26h0m-1 6h0m0-5h0m-1 15h0m-1 19h0m0-16h0m-1 13h0m0-23h0m-1-2h0m-1 5h0m0 10h0m-1 9h0m0-10h0m0 12h0m0 0h0m0-25h0m-1-11h0m-1 18h0m-1 8h0m-1 8h0m-1 3h0m0-31h0m0 18h0m-1 3h0m0 5h0m0-18h0m0-6h0m-2 16h0m0-2h0m-2 10h0m0-4h0m0 0h0m0-10h0m-1 8h0m0 3h0m0-12h0m0 2h0m-1 8h0m-3-10h0m-2 10h0m0-5h0m0-18h0m0 2h0m-1 22h0m0-14h0m0 24h0m0-35h0m-1 31h0m0-10h0m0-3h0m-1-20h0m0 11h0m-1-9h0m0 27h0m0-5h0m-1 8h0m0-5h0m-2-12h0m-1-5h0m-1 12h0m-1 7h0m0-30h0m0 38h0m-1-17h0m-1 10h0m0 0h0m0-14h0m-1 18h0m0 1h0m0-18h0m-1 7h0m0-21h0m0 24h0m0 10h0m-1-19h0m-1 1h0m0-3h0m0 20h0m-1-8h0m-1-30h0m0 19h0m0-16h0m-1 17h0m0 14h0m0-14h0m0-3h0m-1-11h0m-1-1h0m0 31h0m0 2h0m0-16h0m0 11h0m-1 3h0m0-15h0m0-18h0m0 13h0m-2 3h0m0-9h0m0 13h0m-1-22h0m0 1h0m0 27h0m0-18h0m0 2h0m0 24h0m0-24h0m-1 26h0m0-39h0m-1 13h0m0 7h0m0 15h0m0-11h0m-1-2h0m0-2h0m-2-7h0m0 13h0m0-7h0m0 15h0m0-18h0m0 23h0m-1-1h0m0-5h0m0-4h0m0-12h0m0-9h0m0 19h0m0-2h0m0 13h0m-1-4h0m0-25h0m0 2h0m0 9h0m0 12h0m0-20h0m-1-8h0m0 17h0m0 10h0m-1-9h0m0 5h0m0-11h0m0 6h0m0 17h0m-1-16h0m0-10h0m-1 19h0m0-6h0m0-10h0m0 2h0m0-4h0m0 13h0m0 11h0m0-33h0m-1 29h0m0-3h0m-1-14h0m0 21h0m-1-37h0m0 8h0m-1 21h0m0 0h0m0-5h0m0 1h0m-1-6h0m0-3h0m-1 5h0m-1 8h0m0 9h0m-1-35h0m-1-4h0m0 39h0m0-3h0m0 1h0m-1-8h0m0-10h0m0 17h0m0-22h0m0 22h0m0-31h0m0 33h0m-1-6h0m0 3h0m0-5h0m-1-29h0m0 14h0m-1 10h0m0-3h0m0 4h0m0-20h0m0-5h0m0 10h0m0 14h0m0 3h0m0 7h0m-1-6h0m-1-23h0m0 29h0m0-4h0m0-14h0m-1 20h0m0-16h0m-1 8h0m0-10h0m0-7h0m-1 6h0m0 5h0m0-11h0m-1 18h0m0-17h0m-1 3h0m0 18h0m-1-7h0m-1-13h0m0 3h0m0-14h0m0 17h0m0-1h0m0-3h0m-1-3h0m0-10h0m0 10h0m0 25h0m0-22h0m0-12h0m0 34h0m-1-4h0m0-7h0m0 6h0m-1-20h0m0 18h0m0-7h0m0 5h0m0-4h0m0-7h0m0-17h0m-1 4h0m0 17h0m0-13h0m0 10h0m0-2h0m0-9h0m-1 11h0m0 10h0m0-7h0m-1 0h0m0-22h0m0 36h0m0-19h0m-1-14h0m0 11h0m0-11h0m0 33h0m0-1h0m-1-1h0m0-18h0m0-12h0m0 15h0m-1-12h0m0 6h0m0-12h0m0 8h0m0-9h0m-1 10h0m0 16h0m0-1h0m-1-4h0m0 15h0m0-33h0m0 0h0m0 23h0m-1-15h0m0-1h0m-1 19h0m0-7h0m0 6h0m0-10h0m0-11h0m-1 30h0m0-2h0m-1-32h0m0-2h0m0 21h0m0-18h0m-2 27h0m0 1h0m-1 7h0m0-22h0m0-3h0m0 10h0m0-10h0m0-11h0m0 16h0m-1 0h0m0-15h0m-1 4h0m0-6h0m0 3h0m0 29h0m0-33h0m0 26h0m-1-3h0m0-9h0m0 22h0m0-13h0m0 0h0m0 14h0m0-15h0m-1 9h0m0-16h0m-1-10h0m0 14h0m0-3h0m-1 16h0m0 6h0m0-16h0m0-13h0m-1 25h0m0-22h0m-1-10h0m0 21h0m0 0h0m-1-15h0m0 27h0m0-4h0m0-8h0m-1-7h0m0 20h0m0-1h0m0-21h0m0 4h0m0 3h0m0-9h0m0 17h0m-1 0h0m-1-13h0m0 20h0m0-29h0m0-6h0m-1 4h0m0 3h0m-1 24h0m0-28h0m0 23h0m-2 9h0m-1-34h0m-1 25h0m0 2h0m0 8h0m0-19h0m0 17h0m-1-31h0m-1 6h0m0-11h0m0 23h0m0-19h0m0 4h0m0-2h0m0-2h0m-1 3h0m-3 16h0m0 8h0m0 5h0m-1-25h0m0 26h0m-2-13h0m0 0h0m-2-4h0m-1-7h0m-1 0h0m-1 7h0m0 17h0m-1-22h0m-2-15h0m0 34h0m-1-4h0m0 5h0m0-14h0m-1 8h0m0-17h0m-4 0h0m0 10h0m-1 14h0m-1-19h0m0-14h0m-4 21h0m-1 8h0m-2-5h0m-1-5h0m-1-19h0m-9 26h0m-3-28h0m-1-1h0m4 42h0m8 7h0m0-9h0m1 0h0m10 31h0m2-16h0m2 18h0m2-19h0m1 5h0m0-9h0m2-5h0m3 27h0m2-5h0m0 10h0m2-32h0m0 13h0m1-8h0m3 14h0m2-3h0m1-1h0m1-6h0m0 3h0m1-8h0m0 4h0m0 24h0m0-25h0m0-4h0m1 21h0m1-3h0m0-9h0m1 15h0m0-17h0m0-11h0m0 27h0m1-31h0m0 8h0m1-8h0m0 39h0m0-7h0m0-31h0m1 6h0m0-5h0m1 6h0m0 11h0m0 13h0m1 6h0m0-2h0m1-6h0m0 3h0m0-32h0m1-1h0m0 32h0m1-19h0m0 16h0m0-5h0m0-1h0m0 5h0m2-7h0m0 8h0m0-6h0m0-2h0m0-11h0m1-6h0m0 9h0m0 20h0m0-13h0m1-16h0m0 8h0m1-3h0m0 9h0m0 14h0m1-31h0m0 21h0m0-16h0m0 19h0m1-9h0m1-2h0m1 20h0m0 1h0m1-8h0m0 6h0m0-30h0m1 0h0m0 18h0m0-19h0m1 15h0m1-16h0m0 37h0m0-26h0m0-3h0m1 26h0m0-17h0m0 21h0m0 0h0m1-31h0m0-1h0m0 32h0m0-7h0m0-29h0m1 19h0m0 17h0m0-10h0m0-14h0m1 1h0m0 9h0m0-18h0m0 7h0m0-14h0m0 3h0m0 5h0m1 5h0m0-7h0m0 28h0m0-15h0m0-3h0m0 9h0m0-14h0m1 8h0m0-12h0m0-2h0m0 2h0m1 4h0m1 4h0m0 23h0m0-21h0m0 21h0m0-12h0m0-4h0m0-4h0m0 13h0m0-23h0m1-4h0m0 4h0m0 21h0m1-28h0m0 16h0m1-14h0m0 1h0m0 2h0m0 0h0m0 15h0m0 10h0m0 3h0m1-20h0m0 11h0m0 10h0m0-28h0m1 29h0m0-21h0m0 24h0m0-36h0m0 3h0m1 3h0m0 20h0m0-20h0m0 10h0m0 13h0m1-21h0m1 10h0m0-13h0m0 4h0m1 20h0m0-17h0m0-9h0m1 3h0m0 0h0m0 4h0m0 1h0m1-10h0m0-1h0m0 6h0m0 14h0m1-22h0m0 3h0m0 8h0m0-1h0m1 0h0m0 19h0m0-23h0m0 18h0m1-24h0m0 3h0m0 32h0m0-1h0m0 4h0m1-12h0m0-19h0m1 30h0m1-6h0m0-7h0m0-23h0m0 35h0m0-37h0m0 37h0m1-18h0m0-13h0m0-4h0m0 0h0m0 13h0m0 13h0m1-18h0m0 0h0m0 11h0m0-1h0m0-1h0m0 15h0m0-26h0m1-7h0m0 35h0m0-24h0m0-1h0m1 8h0m0-16h0m0 6h0m0 12h0m0-15h0m0 22h0m0-16h0m1 16h0m0-4h0m0-23h0m0 8h0m1 17h0m0 8h0m0-1h0m0 2h0m0-27h0m0 6h0m0 15h0m0-18h0m0 1h0m0 0h0m1-4h0m0 30h0m0-15h0m0-5h0m0 20h0m0-6h0m1-17h0m0 16h0m0 0h0m0-30h0m0 16h0m0 11h0m1-7h0m0-18h0m1 9h0m0-1h0m0-5h0m1 28h0m0-1h0m0-1h0m0-4h0m0-4h0m0-15h0m0 5h0m0 1h0m0-3h0m0 12h0m0-11h0m1 9h0m0-11h0m0 27h0m0-7h0m0-9h0m0-6h0m1 8h0m0-5h0m0-17h0m0 31h0m0-30h0m0 6h0m0 28h0m0-13h0m0-16h0m1 10h0m0-13h0m0-3h0m0 23h0m0-16h0m0 24h0m1-14h0m0-13h0m0 23h0m0 4h0m0-10h0m0 3h0m1-12h0m0-14h0m0 21h0m0-20h0m1 28h0m0-13h0m0-13h0m0 12h0m0 15h0m0-7h0m1-9h0m0-1h0m0 25h0m0-9h0m0-12h0m0 5h0m0-11h0m1-9h0m0 19h0m1 8h0m0-28h0m0 1h0m0 2h0m1 1h0m0-3h0m0 18h0m0-16h0m1 0h0m0 28h0m0-19h0m0 6h0m0-6h0m0 2h0m0 17h0m1-1h0m0-7h0m0 5h0m0-23h0m0 2h0m1 13h0m0-6h0m0-4h0m0 0h0m0-5h0m0 25h0m1 5h0m0-2h0m0-12h0m1 1h0m0-10h0m0 2h0m0-10h0m1 6h0m0 27h0m0-29h0m1 19h0m0 4h0m0 0h0m0-5h0m0-10h0m1 12h0m0-11h0m0 9h0m1-18h0m0 20h0m0 3h0m0 1h0m1-21h0m0 15h0m0-13h0m0-12h0m1 1h0m0 0h0m0 19h0m1 0h0m0-10h0m0 23h0m0-6h0m0 1h0m0-12h0m1-1h0m0-17h0m0 29h0m0-18h0m0-2h0m0-4h0m1 5h0m0-8h0m0 0h0m0 10h0m0-4h0m1-1h0m0 31h0m0-12h0m0-11h0m0-11h0m1 21h0m0-25h0m0 13h0m0 11h0m0 14h0m0-27h0m1 17h0m0-25h0m0 18h0m2 11h0m1-26h0m0 10h0m1-3h0m0 18h0m0-6h0m1 1h0m0-1h0m0 10h0m2-10h0m0-10h0m0-14h0m1 19h0m0-11h0m0-5h0m0 19h0m0 16h0m1-16h0m2-3h0m0 9h0m1-3h0m0-5h0m0-7h0m0 5h0m1-8h0m2 8h0m0 20h0m1-37h0m0 29h0m1-1h0m0-29h0m0 13h0m0-8h0m2 5h0m1 3h0m0-11h0m1 18h0m0-10h0m2 4h0m1 8h0m0-12h0m2 0h0m0-2h0m2 14h0m0 11h0m0-26h0m1 26h0m2-20h0m1-13h0m1 6h0m0 18h0m4-19h0m0 25h0m0-10h0m3 11h0m1-27h0m1 12h0m0-1h0m1-2h0m0 24h0m3-2h0m0-35h0m1 21h0m2-8h0m0 5h0m1-4h0m3 0h0m2-12h0m0-2h0m1 11h0m1-11h0m0 1h0m1 25h0m2-19h0m3-4h0m0 9h0m0-11h0m1 5h0m1-6h0m2 12h0m2 11h0m2-15h0m5 10h0m1-6h0m1 5h0m0-11h0m5 7h0m2 5h0m3-18h0m0 4h0m0-2h0m6 14h0m1 3h0m2 5h0m0 10h0m2-2h0m0-14h0m1-1h0m1-6h0m4-9h0m2 31h0m0-31h0m1 11h0m0 5h0m1-9h0m3 21h0m0-30h0m3 8h0m2 2h0m0 4h0m0-14h0m3 22h0m3-7h0m0-1h0m1-5h0m0 11h0m2-19h0m0 30h0m0 5h0m0-19h0m1-17h0m1 28h0m1 5h0m1-14h0m0-9h0m1-4h0m0 9h0m2-15h0m0 10h0m0 12h0m0-12h0m0 24h0m1-23h0m0 17h0m1-25h0m1 19h0m2-9h0m0-11h0m1 7h0m0-3h0m0-2h0m0-1h0m0-4h0m1 28h0m1 1h0m1-9h0m0 8h0m1 1h0m0 2h0m0-27h0m1-1h0m0 0h0m1 4h0m0 21h0m1-26h0m0 21h0m1-11h0m0 27h0m1-39h0m0 21h0m1-3h0m1 17h0m0-10h0m0 14h0m2-2h0m0-29h0m0 27h0m1-24h0m0 14h0m1-24h0m0 36h0m1-17h0m0 5h0m0-17h0m1 23h0m0-29h0m0 9h0m0-10h0m4 2h0m1 15h0m0 10h0m0-12h0m0-15h0m0 9h0m1 15h0m0-21h0m1-1h0m0 3h0m1 11h0m1-11h0m0 14h0m0 7h0m1 7h0m0-6h0m0-3h0m1 0h0m0-14h0m2 11h0m0 0h0m0-9h0m1 4h0m1 0h0m0 11h0m1 0h0m0-10h0m0-13h0m1-2h0m1 35h0m1-9h0m1 10h0m0-27h0m1-6h0m0 19h0m0-4h0m0-16h0m0 17h0m0-21h0m1 11h0m0 27h0m1-24h0m0 11h0m0 3h0m0-3h0m1-13h0m0 24h0m0-24h0m1 12h0m0-4h0m1 3h0m0 12h0m0-14h0m1 13h0m0-35h0m0 7h0m1 14h0m0 16h0m1-29h0m1-8h0m0 14h0m1-11h0m1 23h0m0-4h0m0-11h0m1 6h0m0 12h0m1-21h0m0-1h0m0 1h0m0 14h0m0 6h0m0-3h0m0-4h0m1 1h0m0-12h0m1 20h0m0-9h0m0-2h0m1-11h0m1 1h0m0 11h0m0-16h0m0 20h0m1 2h0m0-8h0m0 16h0m1-16h0m1-4h0m1 21h0m0-16h0m1-17h0m0 8h0m0-7h0m1 16h0m0 11h0m1-9h0m4-4h0m1 16h0m2-25h0m0 29h0m1-34h0m1 2h0m3 6h0m0 19h0m0 0h0m2-24h0m0 3h0m1 3h0m0 3h0m1 6h0m1-21h0m1 14h0m2-12h0m1 36h0m2-31h0m2 1h0m5 3h0m1 24h0m0-29h0m0 5h0m2 1h0m0-11h0m0 18h0m1-6h0m0-13h0m2 39h0m4-6h0m5-24h0m1 13h0m2-4h0m7-9h0m1 9h0m2-3h0m1-15h0m4 29h0m10 4h0m0 6h0m4-30h0m10 49h0m-6-18h0m-6 15h0m-3-13h0m-5 13h0m-6 2h0m-5-4h0m-4-3h0m-4 10h0m-2 10h0m-1-28h0m-1 12h0m-4-14h0m-2 11h0m-1-4h0m0 19h0m-6-23h0m-3-3h0m-2 16h0m0-12h0m-1-1h0m-1 0h0m-3 6h0m-1-2h0m-1-5h0m-2 33h0m-6-8h0m-1-4h0m-2 2h0m-8-15h0m0 17h0m-6-19h0m0-4h0m-1 30h0m0-2h0m0-2h0m-2-15h0m-3 0h0m-4-1h0m-3-11h0m-1 2h0m0 12h0m0-13h0m-1-1h0m-3 11h0m-3 13h0m-1-17h0m-2-6h0m-1-1h0m0 33h0m0-23h0m-2 6h0m0-17h0m-2 7h0m-2 28h0m-1-3h0m0-34h0m-1 8h0m-1-6h0m-7 13h0m-2-14h0m-2 9h0m-4-1h0m-3-4h0m-3 24h0m-4-23h0m0 13h0m-1-13h0m0 13h0m-2 1h0m-1-13h0m-1-6h0m-1 11h0m-5 10h0m-2-6h0m-3-14h0m0 7h0m-1-6h0m-4 1h0m-5 20h0m-3-11h0m-2-12h0m-7 29h0m-4 9h0m-5-11h0m-1-15h0m-7 12h0m-2 9h0m-11-14h0m-1-15h0m-7-4h0m0 37h0m-1 1h0m-1-16h0m0 6h0m-3-22h0m-1 24h0m0-22h0m-1-2h0m-5-3h0m0 26h0m-3-29h0m-3 19h0m-1-8h0m0-3h0m-4 19h0m0-26h0m0 27h0m-1-8h0m-1-2h0m0-17h0m-1 2h0m-1 14h0m0-5h0m-2 9h0m0-11h0m-1-8h0m-1 7h0m-1 25h0m0-17h0m-1-1h0m0-1h0m-1-3h0m0 6h0m-2 15h0m0-32h0m0 19h0m-1 6h0m-4-2h0m0-25h0m-1 30h0m0-28h0m-1 35h0m0-5h0m-1-22h0m-2-6h0m-1 15h0m0-11h0m-1 12h0m-3 1h0m0-16h0m0 27h0m0 4h0m0-32h0m0 1h0m-1-3h0m0 25h0m0 8h0m-2-2h0m0-17h0m-1-13h0m0 4h0m-1 30h0m0-3h0m0-28h0m0 5h0m-1-9h0m-1 11h0m-1-13h0m0 18h0m-1 19h0m0-30h0m0 22h0m-1 3h0m0-23h0m0 4h0m0 24h0m0-17h0m-1 2h0m0 5h0m-2-1h0m0 3h0m0-8h0m0-5h0m-1 19h0m0-6h0m0-8h0m0-1h0m-1-18h0m0 0h0m-1 33h0m0-21h0m0 25h0m-1-35h0m0 17h0m0 12h0m-1-18h0m0-4h0m0-7h0m-1-4h0m0 5h0m0 4h0m0-7h0m0 1h0m-1 15h0m0-16h0m-1 17h0m0-17h0m0 1h0m-1 23h0m-1-23h0m0-3h0m0 11h0m-1 23h0m0-33h0m-1 0h0m0 36h0m-1-23h0m-1 5h0m0 0h0m0-11h0m0 10h0m0 0h0m0-6h0m-1 9h0m0-18h0m-1 12h0m0-15h0m-1 27h0m0-8h0m-1 13h0m0-12h0m-2-16h0m-1 29h0m0-8h0m-1 1h0m0-7h0m-1-7h0m0 22h0m0-21h0m-1 2h0m0-12h0m0 34h0m0-32h0m-1 5h0m0-2h0m0 25h0m-1-19h0m-2 15h0m-1-8h0m0-11h0m0-3h0m-1 7h0m0-5h0m0-8h0m0 36h0m0-22h0m-1 20h0m0-26h0m-1 0h0m-1-6h0m0 31h0m0-11h0m-1-10h0m0 4h0m-1-1h0m0-2h0m0-10h0m-1 7h0m-1-4h0m-1 25h0m0-11h0m0 18h0m-1-30h0m-1 10h0m0 0h0m-1-13h0m-1 32h0m-3-27h0m0 5h0m0-9h0m0 1h0m-1 26h0m-1-13h0m0-7h0m-1-11h0m0 13h0m-1-10h0m-2 29h0m-1 2h0m0-6h0m-1-29h0m0 27h0m-1-1h0m0 5h0m-1-16h0m-1 17h0m0-31h0m-2 17h0m-1-5h0m-1-4h0m0 2h0m-1 0h0m0 14h0m-2-3h0m-2 3h0m-6-1h0m-1 1h0m0 3h0m-2-7h0m-1 8h0m-7-20h0m-7 13h0m-3-10h0m-4-8h0m-4 6h0m-1-5h0m-18-6h0m11 39h0m32 19h0m0-19h0m7 2h0m1 21h0m1-17h0m3 7h0m4 21h0m4-9h0m9-12h0m5-4h0m6-1h0m0-7h0m2 27h0m3-3h0m1-20h0m1 1h0m4-4h0m1 18h0m1-7h0m1 8h0m6 1h0m1-18h0m1 6h0m1-7h0m2 7h0m0 2h0m1 13h0m4-23h0m1 27h0m1-29h0m0 6h0m1-4h0m0 5h0m4 27h0m0 4h0m1-35h0m0 5h0m0-7h0m1 23h0m3-20h0m1 4h0m2-4h0m0 26h0m0-12h0m1-7h0m0 7h0m1-9h0m1 29h0m2-16h0m0 8h0m0-22h0m0 17h0m2-24h0m1 3h0m1 23h0m1-18h0m1 11h0m2-16h0m0 23h0m1-23h0m0 8h0m2-10h0m2 3h0m0 28h0m0 4h0m0-27h0m1-5h0m1 4h0m1 17h0m2-26h0m0 10h0m0-6h0m2 35h0m2-30h0m1-6h0m5-3h0m0 28h0m4-28h0m0 25h0m1-7h0m1 0h0m1 19h0m4-31h0m0 26h0m0-18h0m3 25h0m0-28h0m0 10h0m3 17h0m2-17h0m0-5h0m0 19h0m1-9h0m1 6h0m1 2h0m1-15h0m5 0h0m2-15h0m3 33h0m1-7h0m3-21h0m0 26h0m1 3h0m12-13h0m6-10h0m1-8h0m7-5h0m0-2h0m4 17h0m1 21h0m19-10h0m3-24h0m37 32h0m20-15h0m2-16h0m4 7h0m16 16h0m2-26h0m4 0h0m2 19h0m12-3h0m1-1h0m0-17h0m4 31h0m5-15h0m6 4h0m0-3h0m2-2h0m15 18h0m7 6h0m4-14h0m1 13h0m1-11h0m6-15h0m3-2h0m5 19h0m6-4h0m18 10h0m50 13h0m-38-5h0m0 22h0m-67-4h0m-18-9h0m-5 17h0m-2-23h0m-3 25h0m0 1h0m-3-29h0m-8 20h0m-12 16h0m-11-1h0m-8-15h0m-40-4h0m0-12h0m-2-2h0m-5-4h0m-2 17h0m-17-11h0m-7 21h0m-7-22h0m-6 6h0m-7-7h0m-5 31h0m-2 3h0m-3-3h0m-1-30h0m-3 26h0m-4-32h0m-1 10h0m0 1h0m-2-9h0m-1 3h0m-1 0h0m-1 23h0m-1-23h0m-1 20h0m-1-2h0m0 7h0m0-11h0m-2 2h0m0-21h0m-3 11h0m-1 19h0m-1-10h0m0 10h0m-3-17h0m-3-5h0m-1 8h0m0-9h0m-1 0h0m-2 1h0m-1 16h0m-2-24h0m-1 31h0m0-6h0m0-16h0m-1 29h0m-1-2h0m-6-29h0m0 19h0m-2 1h0m-1-15h0m-3 11h0m0-12h0m-2 15h0m-4-10h0m-1-1h0m0-4h0m-2 9h0m-3-15h0m-2 11h0m-3 4h0m0-6h0m-2-14h0m-5 2h0m-1 3h0m-2 26h0m-4-17h0m-1 10h0m-4-2h0m-1-22h0m-5 16h0m-12 7h0m-12 2h0m-2-17h0m0 0h0m5 51h0m13-13h0m5 9h0m10 8h0m1 12h0m4-32h0m2 8h0m4-6h0m1 25h0m5 2h0m2 0h0m6-7h0m2-5h0m3 6h0m2-21h0m1 3h0m2 22h0m2-27h0m2 7h0m1 16h0m6-22h0m1 25h0m3-18h0m6 6h0m1-16h0m1 6h0m1 26h0m1-22h0m1-2h0m0 21h0m0-15h0m4 14h0m2-10h0m0 1h0m1-18h0m2 18h0m0-10h0m2 0h0m1-9h0m2 15h0m1-5h0m0 23h0m1 4h0m3-24h0m3-6h0m6 28h0m1-24h0m1-3h0m5 12h0m2 6h0m1-26h0m2 14h0m6 6h0m2-18h0m1 19h0m10-3h0m1 17h0m12 3h0m2-29h0m2 5h0m12 12h0m11-19h0m4 20h0m11-17h0m31 26h0m16-37h0m1 27h0m3-14h0m22 10h0m22-3h0m2-2h0m5-1h0m2-7h0m1 27h0m3-2h0m44-21h0m84 27h0m-146 4h0m-2 1h0m-24-3h0m-10 20h0m-125 7h0m-2-17h0m-3 23h0m-9-9h0m-3-6h0m-1-15h0m-3 31h0m-5-20h0m-2 7h0m-4-10h0m-6 3h0m-1 12h0m-6-6h0m-1-8h0m-1 21h0m-6-35h0m-4 10h0m-4 4h0m-6 24h0m-3-3h0m-3-28h0m-4 7h0m-14 22h0m-15-24h0m-44-8h0m62 62h0m24-22h0m0 9h0m113-5h0m137-2h0" stroke="#d40a42" stroke-width="12" stroke-linecap="round" fill="none"/>
<path transform="scale(.1)" d="M4321 4356h0m36 0h0m42 3h0m41 17h0m-13 15h0m-17 2h0m-9-13h0m-2 17h0m-2 0h0m-7-35h0m-30 35h0m-18-28h0m-3 10h0m-41 12h0m-30-14h0m-40 13h0m-7 4h0m-3 4h0m-57-2h0m7 22h0m21-1h0m4 8h0m2 9h0m1-32h0m3 3h0m2-4h0m0 33h0m0-4h0m1 6h0m2-2h0m11-1h0m1-4h0m5 1h0m2 9h0m2-9h0m0-6h0m5-7h0m12 5h0m50 8h0m2-12h0m10 18h0m8 0h0m10-3h0m6-24h0m8-2h0m6 16h0m5 1h0m4 4h0m7 5h0m14-14h0m3-1h0m5 19h0m0-4h0m2-9h0m6 7h0m0-17h0m4 23h0m2-12h0m5-20h0m20 34h0m4-14h0m17-9h0m1-3h0m9 20h0m3-22h0m6 10h0m4 15h0m11 0h0m32-25h0m-12 48h0m-1 19h0m-10-36h0m-6 26h0m-10 1h0m-6 9h0m-1 1h0m-4-20h0m-5-2h0m0 9h0m-5 3h0m-3 1h0m0-23h0m-2 24h0m-2 0h0m-6-25h0m0 23h0m-11-11h0m-6 18h0m-5-29h0m-1-1h0m-4-3h0m-2 25h0m0 7h0m-1-24h0m-2 4h0m-1 2h0m-1-9h0m-1-1h0m-16 13h0m0 12h0m-5-17h0m-18 13h0m-1-15h0m0 20h0m-6-13h0m0-12h0m-1 2h0m-3 17h0m-2-15h0m-1 24h0m-2-29h0m-4-4h0m-17 33h0m0-5h0m-1-18h0m-8-8h0m-4 2h0m-3-6h0m-1 4h0m-4 5h0m-7 29h0m-9-22h0m-9 8h0m-1-2h0m-5 12h0m-13-14h0m-1 13h0m-2-30h0m-5-3h0m-1 31h0m-1 7h0m-7-27h0m-2-9h0m-1 19h0m-1 5h0m-1-9h0m0-12h0m-4 12h0m-3 10h0m-2-15h0m-3 21h0m-1-28h0m-1 5h0m-4-7h0m0 17h0m-6 7h0m-1 9h0m0 0h0m-3-15h0m-1 15h0m-3-1h0m-2-7h0m-1-7h0m0 10h0m-1-30h0m-1 31h0m-3 5h0m-4-10h0m-6 11h0m0 0h0m0-34h0m-2 32h0m-1-21h0m-3 14h0m-2-21h0m0 15h0m-3 4h0m-2-19h0m-2 5h0m0 5h0m-10-2h0m-19 16h0m-3-32h0m9 64h0m11-1h0m8-15h0m3 0h0m7 7h0m5-13h0m2 35h0m1-36h0m1 16h0m10 19h0m1-14h0m4-18h0m3 27h0m1 2h0m1-10h0m1 3h0m0-9h0m8 10h0m1-6h0m3-8h0m1 24h0m0-38h0m2 21h0m0-12h0m1-1h0m6 25h0m2-15h0m5 10h0m2-15h0m1 12h0m0-22h0m0 21h0m2-15h0m2-8h0m5 6h0m0 1h0m1-2h0m0 6h0m2-3h0m0-1h0m6 27h0m0-29h0m2 5h0m2-1h0m14 28h0m1-2h0m4-19h0m12-17h0m11 4h0m1 27h0m10 7h0m10-24h0m7-7h0m32 10h0m10 5h0m24 14h0m16 0h0m5-33h0m8 34h0m14-16h0m8-17h0m2 27h0m6 0h0m1-26h0m5 16h0m3-16h0m6 5h0m0 18h0m2-24h0m11 34h0m1 0h0m2-14h0m3-22h0m6 8h0m35 8h0m-4 28h0m-10 8h0m-29-11h0m-27-2h0m-26 11h0m-9-11h0m-15 13h0m-4-4h0m-3 15h0m-22 5h0m-3-30h0m-37 20h0m-33-6h0m-5 22h0m-4-30h0m-7 2h0m-3-8h0m-3 35h0m0-12h0m-2-13h0m-2-10h0m-4 28h0m-3-3h0m0-10h0m-5-6h0m-4 4h0m-1 6h0m-1-10h0m-4 10h0m-13 7h0m-2-14h0m-4-9h0m-2 5h0m-3 23h0m-1-2h0m-3-27h0m-18 1h0m0 2h0m-1 17h0m0-11h0m-9-2h0m-1-2h0m-5 13h0m-9 10h0m-38 15h0m39 8h0m35-11h0m16 0h0m16 17h0m6 16h0m6-13h0m10-21h0m9 5h0m17 24h0m10-19h0m2 25h0m101-6h0m66-7h0m12-23h0m17 20h0m36 38h0m-66-1h0m-26 13h0m-24-10h0m-67 12h0m-27-4h0m-2-17h0m-4 17h0m0 11h0m-14-25h0m-5 4h0m-2 8h0m-39-23h0m-9 16h0m-36 13h0m25 37h0m31 0h0m11-19h0m24 24h0m9-34h0m2 22h0m12-6h0m30 46h0m-29 13h0" stroke="#e4344a" stroke-width="12" stroke-linecap="round" fill="none"/>
<path d="M413.7 439.5 L426.3 452.1 C429.2 456 433.8 458.7 437.6 457.8 C442.2 456.5 443.6 450.8 442.2 446.5 C440.4 442.5 435.7 441.7 432 443 C429.6 443.8 428.2 445.6 428.2 447.3" fill="none" stroke="#701020" stroke-width="0.55" stroke-opacity="0.45"/>
<text font-size="7.18" transform="translate(480.7 416.6) scale(0.877 1)" stroke="#161616" stroke-width="0.05">IGKV1-33</text>
<defs><linearGradient id="jcb" x1="0" x2="0" y1="0" y2="1"><stop offset="0" stop-color="#ee4050"/><stop offset="0.12" stop-color="#d0164a"/><stop offset="1" stop-color="#c8104a"/></linearGradient></defs>
<rect x="480.9" y="420.7" width="3.1" height="68.3" fill="url(#jcb)"/>
<text font-size="7.18" transform="translate(486 423.7) scale(0.877 1)" stroke="#161616" stroke-width="0.05">8</text>
<text font-size="7.18" transform="translate(486 441) scale(0.877 1)" stroke="#161616" stroke-width="0.05">0</text>
<text font-size="7.18" transform="translate(486 457.8) scale(0.877 1)" stroke="#161616" stroke-width="0.05">0</text>
<text font-size="7.18" transform="translate(486 474.7) scale(0.877 1)" stroke="#161616" stroke-width="0.05">0</text>
<text font-size="7.18" transform="translate(486 491.5) scale(0.877 1)" stroke="#161616" stroke-width="0.05">0</text>
<text font-size="10.4" font-weight="bold" fill="#000" x="229.6" y="530.4" stroke="#000" stroke-width="0.05">K</text>
<line x1="257.5" y1="532.3" x2="257.5" y2="605" stroke="#262626" stroke-width="1.15"/>
<line x1="255.5" y1="543.5" x2="257.5" y2="543.5" stroke="#262626" stroke-width="0.9"/>
<text font-size="7.18" text-anchor="end" transform="translate(253 546.1) scale(0.877 1)" stroke="#161616" stroke-width="0.05">10</text>
<line x1="255.5" y1="562.5" x2="257.5" y2="562.5" stroke="#262626" stroke-width="0.9"/>
<text font-size="7.18" text-anchor="end" transform="translate(253 564.3) scale(0.877 1)" stroke="#161616" stroke-width="0.05">0</text>
<line x1="255.5" y1="580.5" x2="257.5" y2="580.5" stroke="#262626" stroke-width="0.9"/>
<text font-size="7.18" text-anchor="end" transform="translate(253 582.6) scale(0.877 1)" stroke="#161616" stroke-width="0.05">−10</text>
<line x1="255.5" y1="598.5" x2="257.5" y2="598.5" stroke="#262626" stroke-width="0.9"/>
<text font-size="7.18" text-anchor="end" transform="translate(253 600.9) scale(0.877 1)" stroke="#161616" stroke-width="0.05">−20</text>
<line x1="257.3" y1="604.5" x2="315.7" y2="604.5" stroke="#262626" stroke-width="1.15"/>
<line x1="266.5" y1="604.5" x2="266.5" y2="606.5" stroke="#262626" stroke-width="0.9"/>
<text font-size="7.18" text-anchor="middle" transform="translate(266 615.7) scale(0.877 1)" stroke="#161616" stroke-width="0.05">−5</text>
<line x1="275.5" y1="604.5" x2="275.5" y2="606.5" stroke="#262626" stroke-width="0.9"/>
<text font-size="7.18" text-anchor="middle" transform="translate(275.4 615.7) scale(0.877 1)" stroke="#161616" stroke-width="0.05">0</text>
<line x1="284.5" y1="604.5" x2="284.5" y2="606.5" stroke="#262626" stroke-width="0.9"/>
<text font-size="7.18" text-anchor="middle" transform="translate(284.8 615.7) scale(0.877 1)" stroke="#161616" stroke-width="0.05">5</text>
<line x1="294.5" y1="604.5" x2="294.5" y2="606.5" stroke="#262626" stroke-width="0.9"/>
<text font-size="7.18" text-anchor="middle" transform="translate(294.1 615.7) scale(0.877 1)" stroke="#161616" stroke-width="0.05">10</text>
<line x1="303.5" y1="604.5" x2="303.5" y2="606.5" stroke="#262626" stroke-width="0.9"/>
<text font-size="7.18" text-anchor="middle" transform="translate(303.4 615.7) scale(0.877 1)" stroke="#161616" stroke-width="0.05">15</text>
<line x1="312.5" y1="604.5" x2="312.5" y2="606.5" stroke="#262626" stroke-width="0.9"/>
<text font-size="7.18" text-anchor="middle" transform="translate(312.8 615.7) scale(0.877 1)" stroke="#161616" stroke-width="0.05">20</text>
<text font-size="8.4" text-anchor="middle" font-weight="bold" fill="#222" transform="translate(287.2 627.7) scale(0.53 1)" stroke="#222" stroke-width="0.05">PC1</text>
<text font-size="8.4" text-anchor="middle" font-weight="bold" fill="#222" transform="translate(236.5 568.3) rotate(-90) scale(0.53 1)" stroke="#222" stroke-width="0.05">PC2</text>
<path transform="scale(.1)" d="M2841 5478h0m31-3h0m102 35h0m-42 5h0m-18-18h0m-5 11h0m-4-5h0m-17-23h0m-3 33h0m-15-1h0m0 7h0m-1-14h0m-23-23h0m-2 29h0m-7-1h0m-2-12h0m-2 5h0m-1 13h0m-6-28h0m-15 30h0m-11-26h0m-3 1h0m-4 21h0m-5-19h0m-11 3h0m0 19h0m-2-31h0m-10 18h0m-21 10h0m-59 4h0m0-11h0m-10 11h0m-15-4h0m-6-5h0m-11 2h0m-3-12h0m-10 0h0m-26 48h0m3-2h0m17 9h0m3-21h0m6 10h0m4-21h0m0 17h0m4 9h0m0 6h0m2 4h0m0-7h0m3-2h0m2-26h0m3 21h0m0 1h0m4 12h0m5-7h0m1 6h0m1 1h0m0-9h0m2 4h0m1-30h0m3 26h0m1-18h0m1 17h0m1 3h0m2 9h0m0-9h0m1 7h0m2-9h0m3-2h0m0 13h0m11-24h0m1-5h0m3 26h0m0-19h0m5 12h0m17-29h0m1 15h0m2 24h0m5-4h0m10 4h0m10-15h0m2-9h0m2 24h0m3-29h0m4 12h0m1 10h0m1-21h0m5 17h0m2-3h0m0 13h0m1-6h0m3-20h0m2 7h0m3-16h0m1 35h0m3-20h0m1-1h0m3 14h0m0-11h0m3-8h0m0 4h0m3-10h0m1-1h0m3 7h0m3-8h0m3 17h0m1 10h0m0-6h0m2-15h0m1 27h0m2-30h0m1 11h0m2-14h0m1 10h0m2-12h0m1 20h0m2 0h0m1-4h0m2 17h0m0-21h0m1 24h0m1-19h0m2 11h0m1-9h0m1-4h0m1 19h0m1-18h0m0 7h0m5 12h0m0-6h0m0-1h0m1-21h0m9 25h0m1 0h0m2-5h0m0 2h0m1-5h0m2-12h0m1 7h0m2 8h0m1-23h0m1 23h0m1 7h0m0 0h0m2-14h0m7-17h0m0 4h0m1 17h0m1-8h0m1 1h0m5 13h0m2 5h0m1-31h0m2 21h0m1-19h0m0 31h0m1-6h0m2-6h0m7 7h0m4-21h0m1 18h0m3-18h0m2 23h0m3-33h0m3 26h0m1-16h0m2-10h0m2 10h0m12 15h0m0-1h0m14-5h0m4 5h0m3 12h0m1-6h0m3 5h0m1-13h0m1-3h0m3 9h0m0-1h0m38-17h0m16 37h0m-1 18h0m-5-16h0m-5 17h0m-6-4h0m-2 5h0m-1-2h0m-3 4h0m-1-8h0m0-14h0m-10 23h0m-2-27h0m-7 13h0m-3-12h0m-1 11h0m-4-9h0m0 16h0m-1-17h0m0 17h0m-3-13h0m-1 19h0m-7-9h0m-4-14h0m-1 0h0m-4 5h0m0 15h0m-1-4h0m-1 7h0m-2-1h0m-2-16h0m0-7h0m-1 6h0m0 10h0m0-8h0m-2 5h0m-1-11h0m-1 16h0m0-19h0m-1 24h0m-1-19h0m0 2h0m-2 4h0m0 7h0m-1-5h0m-1-9h0m-1-7h0m-2 27h0m-3-24h0m0 22h0m-3-8h0m-2-4h0m0 14h0m0-20h0m-1-5h0m0 11h0m-1-15h0m0 19h0m0-6h0m-2-8h0m-1 11h0m0-7h0m-1 7h0m0 1h0m0 10h0m-2-26h0m-2 9h0m-1 13h0m0-20h0m-1 14h0m0-9h0m0 2h0m0 7h0m-1-5h0m-1 9h0m0-20h0m-1 3h0m0 22h0m0-11h0m-1-2h0m-1-7h0m0 9h0m0-1h0m0 7h0m0 11h0m-1-3h0m0-2h0m0-20h0m-1 15h0m0-19h0m-1 2h0m0 3h0m0 10h0m0-6h0m0 16h0m-1-5h0m-1-12h0m0 0h0m0 0h0m-2 0h0m0 8h0m0-15h0m-1 26h0m0-4h0m-1-17h0m0 13h0m0-12h0m-1 13h0m0 3h0m0 3h0m-1-3h0m0-4h0m0-3h0m0 12h0m-1-20h0m0 8h0m-1 7h0m-1 2h0m0-5h0m0-4h0m-1 0h0m-1 11h0m-1-17h0m-2-5h0m-1 6h0m0 0h0m-1-14h0m-3 24h0m-2-11h0m-1-1h0m0 0h0m-2 17h0m0-27h0m0 6h0m-1 4h0m-2 11h0m0 8h0m-3-23h0m0 6h0m0 11h0m-1-20h0m0 28h0m-1-18h0m0-14h0m0 7h0m0 18h0m0-24h0m-1 34h0m-1-12h0m0 11h0m-1-5h0m-1 6h0m0-27h0m0 20h0m0-7h0m-2-9h0m0 15h0m-1-6h0m-1 12h0m0-16h0m0 20h0m-1-8h0m0-6h0m-1 13h0m-1-13h0m-2 9h0m0-10h0m0-2h0m0 10h0m-2-7h0m-1-20h0m0 18h0m-1-7h0m0 14h0m0-9h0m-1 6h0m-1 0h0m0-2h0m0 10h0m-1-23h0m0-1h0m-1-9h0m0 14h0m-1 3h0m-1 14h0m-1-9h0m-1 8h0m0-28h0m0 16h0m-1 2h0m0-22h0m-3 30h0m-1 5h0m-1-11h0m0-9h0m-1 4h0m-2-8h0m0 8h0m-1-5h0m0 12h0m0 8h0m0-33h0m-1 33h0m0-18h0m-1-2h0m0 0h0m-1 16h0m-2-7h0m0-6h0m-1 18h0m0-18h0m-1-1h0m0-1h0m0-1h0m-1-2h0m-1-3h0m-1-6h0m-2 15h0m-1-2h0m0 3h0m-2-6h0m0 13h0m-1 8h0m-1-15h0m0 18h0m-1-19h0m-1 6h0m-1 15h0m0-8h0m-1-21h0m0 15h0m-4-12h0m0 26h0m-1-36h0m0 36h0m-1-29h0m-1 3h0m-1 1h0m0 22h0m0-16h0m0-3h0m0-11h0m-1 32h0m0-30h0m0 19h0m-3-8h0m0-11h0m0 12h0m-2 3h0m-1 2h0m0 1h0m0-13h0m-1-7h0m-1 2h0m0 17h0m-1 2h0m-1-8h0m0-19h0m0 9h0m0 3h0m-1 10h0m-1-3h0m0-8h0m-4-2h0m-2 11h0m0-3h0m-1-9h0m-1-6h0m-1 10h0m-1 4h0m-1 6h0m0-5h0m-2-10h0m0 28h0m-1-10h0m-1-2h0m0 6h0m-1-1h0m-1-4h0m0-19h0m0 32h0m-1-24h0m-1 18h0m0-22h0m-1 30h0m-2-20h0m0 18h0m-1-16h0m-1 16h0m-1-2h0m0 2h0m-3-7h0m0 9h0m-6-4h0m0-16h0m-2 15h0m-1-20h0m0 11h0m0-20h0m-1 11h0m-5 20h0m0-3h0m-2 1h0m-1-18h0m0 14h0m-1 1h0m-1-14h0m-1-9h0m0 24h0m-1 1h0m0-3h0m-1-17h0m-1-2h0m0 1h0m-1 20h0m-1-14h0m-1-1h0m-1 11h0m0-13h0m0 18h0m-2-11h0m0 13h0m-1-22h0m0 10h0m0-9h0m0 11h0m-1-1h0m0-12h0m-1 20h0m0-24h0m0 17h0m-1 7h0m0 2h0m0-19h0m-2 24h0m0-1h0m0-30h0m0 20h0m0-17h0m0 14h0m0 6h0m-1-11h0m0 19h0m0-10h0m-1-6h0m0 1h0m0 8h0m0-29h0m-1 30h0m0-17h0m-1 18h0m0-6h0m0 11h0m0-5h0m0-27h0m-1 23h0m0-5h0m-1 13h0m0-12h0m0-9h0m-3-4h0m0 8h0m-1 16h0m-1-8h0m0-26h0m-2 8h0m-2 12h0m0-11h0m0-7h0m-1 12h0m0 9h0m-2 1h0m0-14h0m-1 20h0m0 4h0m0 0h0m0-21h0m0 22h0m-1-32h0m-1 23h0m0-24h0m0 13h0m-1-8h0m0 23h0m-1-2h0m0-7h0m-1-15h0m0 21h0m0 5h0m-1-10h0m-2 14h0m-1-10h0m0-1h0m0-2h0m0-11h0m0 17h0m-1 2h0m0-6h0m0-3h0m0-23h0m-1 37h0m-1-3h0m0-6h0m0-5h0m0-12h0m-1 8h0m0 8h0m0-9h0m0-3h0m-1 17h0m-1 0h0m0-26h0m-1 7h0m0-9h0m-1 22h0m0-12h0m-1-4h0m0 9h0m0-16h0m0 20h0m0-12h0m-1 9h0m0 16h0m-2-16h0m0 1h0m0-13h0m-1 20h0m0-22h0m-2 7h0m0 1h0m0 18h0m-3-26h0m0 18h0m0-11h0m0 21h0m0-5h0m-1-15h0m0 15h0m-1-17h0m-1 13h0m0-20h0m0 28h0m0 1h0m0 0h0m-1-26h0m-1 19h0m0-11h0m-2 7h0m0-19h0m0 3h0m-1 27h0m0-8h0m0-13h0m-1 6h0m0 15h0m-1-11h0m0 9h0m0-7h0m-3 9h0m0-15h0m0 0h0m0-3h0m-2-12h0m-1-3h0m-1 3h0m-1 25h0m-1-30h0m0 4h0m-1 11h0m0-4h0m0 4h0m0 4h0m0 6h0m-3-15h0m-1 24h0m-3 1h0m-3-7h0m0-4h0m-1-24h0m0 24h0m0-20h0m-1 27h0m0-24h0m-1 19h0m-2-16h0m0 1h0m-1 21h0m-5 1h0m-2-19h0m-4 21h0m-4-2h0m-1-27h0m-10 0h0m-3 5h0m4 29h0m0 13h0m8 7h0m1-9h0m4-8h0m5 33h0m1-29h0m2 19h0m4-1h0m1-20h0m0 25h0m0-9h0m2-5h0m1-8h0m0 27h0m6-19h0m1 5h0m0-13h0m3 27h0m1-15h0m1 12h0m1-1h0m1-22h0m0-2h0m0 21h0m0-29h0m1 20h0m0 4h0m0-3h0m0 4h0m1-25h0m2 28h0m0-12h0m0-16h0m2 9h0m0 4h0m1 6h0m0-17h0m0 12h0m1-12h0m0 29h0m0-11h0m1-12h0m0-4h0m2 3h0m0 2h0m1 16h0m0-11h0m0 21h0m2-2h0m0-11h0m0-18h0m1 6h0m0 15h0m0-9h0m0 16h0m1-26h0m0 18h0m2 13h0m0-3h0m0-21h0m0-2h0m1-11h0m0 4h0m1 22h0m2 13h0m0-30h0m0 6h0m1-1h0m0 1h0m1 14h0m0 6h0m1-11h0m0-11h0m1-8h0m1 15h0m0-1h0m0-4h0m1 2h0m0 17h0m0-28h0m0 21h0m1-1h0m0-18h0m0 7h0m0 22h0m0-25h0m0-5h0m0-6h0m0 18h0m1-11h0m0 29h0m0-12h0m0-7h0m0 5h0m0 5h0m1-9h0m2 15h0m0-33h0m0 28h0m0 7h0m0 2h0m0-11h0m0 3h0m1-14h0m0-11h0m0 1h0m1 4h0m0 0h0m0 19h0m0-16h0m1 2h0m0 3h0m0 15h0m0-15h0m0-2h0m1 21h0m0-18h0m0 7h0m1 1h0m1-25h0m0-2h0m0 21h0m1 2h0m1-22h0m0 32h0m1-6h0m1-2h0m0 1h0m0 8h0m1 1h0m0-20h0m0 1h0m0 5h0m0-20h0m1-1h0m0 13h0m0-6h0m1 16h0m0 3h0m1-24h0m0 5h0m0 5h0m1-4h0m0 0h0m0 2h0m1-1h0m0 2h0m0 10h0m0 12h0m1-21h0m0 2h0m1 13h0m0-9h0m0-7h0m0-9h0m0 12h0m1 17h0m0 2h0m1-9h0m1-6h0m0 15h0m0-2h0m0-29h0m1 34h0m0-23h0m1-13h0m0 10h0m0 14h0m0 2h0m0-6h0m0 4h0m1 6h0m0 5h0m0-29h0m1 23h0m0-19h0m0 20h0m1 3h0m0-18h0m1 3h0m0 5h0m0-12h0m1 13h0m0-3h0m0 4h0m1 9h0m0-6h0m1-18h0m0 26h0m0 0h0m0-16h0m0-5h0m1-4h0m0 26h0m0-16h0m0-7h0m0-8h0m1 32h0m0-13h0m0 6h0m0 4h0m1-23h0m0 24h0m0-3h0m0-18h0m0 22h0m0-11h0m0-13h0m1 22h0m1-10h0m0 4h0m0-18h0m0 12h0m1 10h0m0-19h0m0-5h0m1 4h0m0 1h0m0-1h0m1 19h0m0-18h0m0 2h0m1 15h0m0-6h0m0-17h0m1 2h0m0 26h0m0-31h0m0 13h0m1 9h0m0-9h0m1-12h0m0 14h0m0-9h0m0 23h0m1 1h0m0-11h0m0 3h0m0-10h0m0 1h0m1-16h0m0 21h0m1-13h0m0 19h0m0-8h0m1 18h0m0-9h0m1-29h0m0 20h0m1 18h0m0-31h0m0 1h0m0 5h0m0 12h0m2 4h0m1-27h0m0 14h0m0-6h0m1 11h0m0-2h0m0-6h0m1 13h0m0-11h0m0 22h0m0-19h0m1 6h0m0 11h0m0-13h0m0-11h0m1 21h0m0-18h0m0 7h0m1-21h0m0 5h0m1-3h0m2 34h0m0-12h0m1 12h0m0 1h0m0-37h0m2 12h0m0 14h0m1-6h0m0-5h0m0 19h0m1 0h0m1-28h0m1 25h0m0-32h0m1 31h0m0-5h0m0 7h0m1-28h0m0-4h0m0 0h0m2 30h0m1-17h0m1 12h0m0-21h0m0-5h0m2 23h0m0-16h0m1 19h0m0-11h0m3-6h0m0 18h0m3-19h0m1 3h0m1 24h0m3-23h0m0 14h0m6-8h0m0 15h0m1-28h0m4 11h0m0 12h0m2-28h0m2 13h0m1 21h0m0-28h0m3 21h0m0-23h0m3 23h0m0-24h0m1-3h0m1 13h0m0 2h0m1-4h0m0 13h0m1-10h0m1 25h0m2-19h0m2-12h0m1 17h0m0-11h0m0 12h0m0-10h0m1 3h0m2-10h0m4-1h0m0 2h0m1 11h0m2-15h0m4 19h0m5-20h0m1 21h0m2-20h0m0 2h0m0 23h0m3-16h0m0 2h0m0-4h0m2-6h0m2 3h0m0-3h0m0 1h0m2 3h0m0 18h0m0-22h0m1-1h0m0-2h0m2 7h0m1-6h0m1 26h0m1-1h0m1-6h0m1-13h0m3 4h0m2 0h0m0-7h0m0 3h0m1 20h0m0-28h0m1 2h0m1-2h0m1 7h0m1 3h0m0-2h0m0 23h0m1-31h0m2 8h0m3 0h0m0 41h0m-3 4h0m-8 9h0m-8-20h0m-18 27h0m-21-19h0m-2 22h0m-3-16h0m-2-9h0m0 9h0m-5-3h0m-2-8h0m-1 5h0m-2-10h0m-1 29h0m-1-11h0m-2-3h0m-2-4h0m-2 17h0m-2-1h0m0-5h0m-1-5h0m-2-5h0m-1-9h0m0 6h0m0 10h0m-1-16h0m0 24h0m-2-5h0m0 10h0m0-4h0m-2-9h0m0 11h0m-2-21h0m-4 2h0m-1-12h0m-1 1h0m-1 5h0m0 3h0m-2 20h0m-1 1h0m-1-31h0m-1 20h0m-1-5h0m0 1h0m-1-6h0m-2 14h0m-1-18h0m0 12h0m0-4h0m-1 3h0m0 5h0m0-20h0m-2 1h0m-1 26h0m0-18h0m-1 19h0m0-12h0m0-19h0m-1 21h0m0 4h0m0-15h0m-1 0h0m0 24h0m-2-6h0m0-21h0m0-6h0m-1 0h0m0 6h0m0-5h0m0 30h0m-1-18h0m-1 12h0m-1 7h0m0-32h0m-1 26h0m0-26h0m0 22h0m-1-8h0m0 2h0m0-3h0m-1-4h0m0 4h0m-1 0h0m0 1h0m-2 0h0m0 8h0m0-20h0m-1 21h0m0-11h0m0-12h0m-1 3h0m0 9h0m-1 13h0m-1 5h0m0 0h0m0-1h0m0-29h0m-1 14h0m0 0h0m-1 12h0m0-17h0m-1-8h0m-2-1h0m-1 15h0m-1-7h0m-1-6h0m-1 21h0m0 1h0m-1 2h0m0-10h0m-1 5h0m-1-19h0m0 0h0m0 23h0m-1-22h0m0 6h0m-1-5h0m0 0h0m-1 28h0m0-33h0m0 19h0m0 3h0m-1 5h0m0-14h0m0 13h0m-1-5h0m0-13h0m-1-2h0m0 15h0m-1 14h0m0-20h0m-1 14h0m0-4h0m-3-14h0m0 8h0m0-9h0m-1 23h0m-1-12h0m-1 10h0m0 0h0m-1-13h0m-1-18h0m0 17h0m0-13h0m-3 24h0m0-27h0m0 18h0m0 4h0m0-3h0m-1-12h0m-2 7h0m0-12h0m0 3h0m-1 12h0m-1-17h0m-1 9h0m0-7h0m-1 18h0m-1-2h0m0-5h0m-1-8h0m-1 23h0m-1-18h0m-1-7h0m0 7h0m-1 21h0m0 0h0m0-25h0m-1 3h0m0 17h0m-1-4h0m0 2h0m-1-16h0m-2-2h0m-4-3h0m-3-3h0m-2-1h0m0 1h0m-2 4h0m0 30h0m-2-31h0m-6-3h0m0 22h0m-1-14h0m-9 17h0m-2-17h0m-2-5h0m-5 15h0m-3-14h0m-4-2h0" stroke="#f28a3a" stroke-width="12" stroke-linecap="round" fill="none"/>
<path transform="scale(.1)" d="M2997 5731h0m-11 22h0m-18-9h0m-13-9h0m-8 20h0m-31 0h0m-14-3h0m-28-15h0m-5-4h0m-19 6h0m-14-1h0m-6 6h0m-7-7h0m-11 1h0m-6 5h0m-5-6h0m-1 0h0m-2 0h0m-2 18h0m0-4h0m-2-19h0m0 21h0m-6-7h0m-2-1h0m-3 5h0m-1-2h0m-1-9h0m-5-7h0m-1 25h0m-8-18h0m0 19h0m-6-15h0m0 12h0m-2-24h0m-4 17h0m-3 4h0m-3-15h0m-5 9h0m-2-11h0m-5-1h0m-1 3h0m-3 14h0m-4 5h0m-4-2h0m-6-6h0m-12 7h0m-14-15h0m4 24h0m19 23h0m10 8h0m5-20h0m3-12h0m3 14h0m14 20h0m2-5h0m6-12h0m6 2h0m1 16h0m8-28h0m1-7h0m1 20h0m6 6h0m4-6h0m1 4h0m6 5h0m0-1h0m3-29h0m0 20h0m3 12h0m2-6h0m1-17h0m0-11h0m6 0h0m3 28h0m2-20h0m3 3h0m0 13h0m2-16h0m9 19h0m6 6h0m3 1h0m10-3h0m15-9h0m2 5h0m12 12h0m11-19h0m15 3h0m23-13h0m25 29h0m9-36h0m5-2h0m11 34h0m22-3h0m2-2h0m5-1h0m2-7h0m48 4h0m-62 31h0m-59-8h0m-73 2h0m-12-3h0m-6 26h0m-25 5h0m-3-6h0m-1-15h0m-8 11h0m-2-23h0m0 30h0m-4-10h0m-7-25h0m-3 5h0m-1-4h0m-2 33h0m-1-8h0m-11-26h0m-4 26h0m-16 0h0m-10-23h0m-19 21h0m-44-8h0m80 31h0m3 3h0m3 6h0m17-9h0m8-7h0m18 8h0m3-2h0m18-5h0m49 19h0" stroke="#d4205a" stroke-width="12" stroke-linecap="round" fill="none"/>
<path transform="scale(.1)" d="M2940 5514h0m-57-8h0m-32-20h0m-6 15h0m-23 6h0m-4-19h0m-31 28h0m-103-17h0m-16 19h0m-19-20h0m-15 58h0m2-9h0m8-10h0m2 4h0m6-8h0m27 2h0m1 24h0m17-37h0m5 23h0m0 14h0m5-1h0m49-7h0m5 1h0m2-29h0m1 20h0m1-14h0m17 30h0m3-11h0m2-28h0m0 15h0m2 5h0m10 11h0m2-25h0m7-2h0m13 12h0m4-14h0m1 7h0m2 21h0m3-13h0m3 3h0m5 6h0m2-1h0m4-2h0m1 11h0m9-16h0m7-9h0m1 27h0m3-9h0m0-13h0m2 3h0m1-7h0m6 28h0m4-33h0m3 31h0m5-18h0m5 19h0m2-19h0m3 15h0m4-4h0m3-21h0m0 23h0m11-9h0m13 11h0m5-1h0m79 17h0m-49-6h0m-11 28h0m-1-21h0m-2 4h0m-5 17h0m-19 0h0m-3-9h0m-10-14h0m-5 1h0m0-3h0m-5 26h0m-3-12h0m-6-1h0m-1-8h0m-1-7h0m-4 12h0m-2 16h0m-1-28h0m-1 12h0m-1-10h0m-2-4h0m-1 2h0m-1 15h0m-3-4h0m-1-4h0m-2 12h0m-2 4h0m-3-1h0m-1 2h0m-3-25h0m-1-3h0m0 23h0m-11-14h0m-2 0h0m0-7h0m-1 13h0m0 1h0m-4-9h0m-1 18h0m-2-15h0m-8 29h0m-5-12h0m0-6h0m-1 8h0m-4-1h0m0-5h0m-2 16h0m0-3h0m-8-21h0m0-7h0m-13 11h0m-8 6h0m-3-14h0m-3 3h0m-5 20h0m-7-17h0m-8 6h0m-3 0h0m0 10h0m-17-6h0m-5 5h0m-3-23h0m-5 28h0m-2 1h0m-4-14h0m-2-11h0m-8 2h0m-1-15h0m-2 34h0m-3-3h0m-3 5h0m-4 1h0m-5-9h0m-6 6h0m-7-16h0m-7 10h0m-2 3h0m-1-6h0m-3-14h0m-1-8h0m0 3h0m0 25h0m-1-30h0m0 28h0m-1-14h0m-1 19h0m-1-15h0m-2 19h0m0-5h0m-2-14h0m-4-11h0m-3 5h0m-1-6h0m-1 21h0m-1 4h0m-5-3h0m-2 0h0m-7-12h0m-1 1h0m-1 1h0m-4 4h0m0-12h0m-2 25h0m-10-12h0m-13 15h0m-14-26h0m15 32h0m13-3h0m10 28h0m2-27h0m6-1h0m4 3h0m3-3h0m3 11h0m2-2h0m0-6h0m5 25h0m1-12h0m5-18h0m0 33h0m3-3h0m3-10h0m1 11h0m1-14h0m0 2h0m1 4h0m2 7h0m0 9h0m4-24h0m0-6h0m1 22h0m3-13h0m1-15h0m0 4h0m5-6h0m4 19h0m1 3h0m0-10h0m1 8h0m1 0h0m1 2h0m0 15h0m2-11h0m2-3h0m1 12h0m0 0h0m0-9h0m1 7h0m1-3h0m0-21h0m4 18h0m5-12h0m0 11h0m1-19h0m1 15h0m0 0h0m2 2h0m2-5h0m4-16h0m0 0h0m0 11h0m2 14h0m7-11h0m3-18h0m6 2h0m5 11h0m4 10h0m0 10h0m2-26h0m9 6h0m1 24h0m16-33h0m8 9h0m8-13h0m0 13h0m5 6h0m2-9h0m6-7h0m7 7h0m10 22h0m13-27h0m7 16h0m-8 25h0m-19 19h0m-47-1h0m-1-20h0m-6 12h0m-15-4h0m-3 10h0m-8-8h0m-2 14h0m-2-7h0m-2 4h0m-7 8h0m-3-28h0m-2 16h0m0-21h0m-1 30h0m-1 1h0m-1-23h0m-1 4h0m-4 18h0m0-6h0m-1 9h0m-1-32h0m-1 0h0m0 19h0m-4-20h0m-1 10h0m-4-10h0m-7 0h0m-2 10h0m0 6h0m-1 7h0m-1-16h0m-5 8h0m-1 19h0m-13-19h0m-2-4h0m-15-1h0m-1-8h0m-4 9h0m-2-7h0" stroke="#ec5a3a" stroke-width="12" stroke-linecap="round" fill="none"/>
<path transform="scale(.1)" d="M2967 5678h0m-26 1h0m-11 0h0m-27 0h0m-31-2h0m-33-1h0m-29 1h0m-58 2h0m-4-2h0m-4 0h0m-7 2h0m-10 0h0m-2-1h0m-9 0h0m0 0h0m-8 1h0m-4-2h0m-42-1h0m-2 3h0m-7 0h0m-33 18h0m29 14h0m0-19h0m1-9h0m3-1h0m3 12h0m2-12h0m1 23h0m2 0h0m8 12h0m0-31h0m2-1h0m0-5h0m1 1h0m1 8h0m0-6h0m1 4h0m4 18h0m1-19h0m4 15h0m4-17h0m0 7h0m5-5h0m2 1h0m0 30h0m0-23h0m1 3h0m0-8h0m2-8h0m3 13h0m1 18h0m1-26h0m1 27h0m2-30h0m2 1h0m2 30h0m4-25h0m1-3h0m0 18h0m0-2h0m1 15h0m6-32h0m0 13h0m1 1h0m0-12h0m0 4h0m0 3h0m2-13h0m0 6h0m2 24h0m1-16h0m1-11h0m3 12h0m2-7h0m1 21h0m0-14h0m1 14h0m1-9h0m2-13h0m0 26h0m0-30h0m1 33h0m2-24h0m1 3h0m2 5h0m1 11h0m1-28h0m0 5h0m1 30h0m0-37h0m0 14h0m0-16h0m1 13h0m0 3h0m0 8h0m2-10h0m2 3h0m0 5h0m1-16h0m0 11h0m1 4h0m1-14h0m2 9h0m0-4h0m0 10h0m0-4h0m4 3h0m5-20h0m1 11h0m4 25h0m0-25h0m1 18h0m0-22h0m5-6h0m1 16h0m0 8h0m5-23h0m1 20h0m2 5h0m0 5h0m2-22h0m1-1h0m1 21h0m5 0h0m2-15h0m7 5h0m19 6h0m0-16h0m1 8h0m11 10h0m15-27h0m8 14h0m35-7h0m6-1h0m16 25h0m6-9h0m2-18h0m22 27h0m2-26h0m6 28h0m5-6h0m7-17h0m10 15h0m1-25h0m6 30h0m19 5h0m22 0h0m18 10h0m-51-2h0m-28-2h0m-25-3h0m-42 8h0m-40-8h0m-19 10h0m-31 0h0m-1-3h0m-3-5h0m-1 7h0m-11-3h0m-1-2h0m-4 6h0m-10-1h0m0-7h0m-22 7h0m0-4h0m-13-3h0m-5 0h0m-2 5h0m-6 3h0m0-4h0m-6-5h0m-55 5h0" stroke="#e42c3c" stroke-width="12" stroke-linecap="round" fill="none"/>
<path transform="scale(.1)" d="M2978 5596h0m-4-2h0m-26 3h0m-13-3h0m-3 3h0m-8-3h0m-4 3h0m-5 0h0m-6 0h0m0-1h0m-7-2h0m-5 4h0m-1-4h0m-4 2h0m-1-1h0m-1 3h0m-3-4h0m-1 1h0m0 3h0m-1 1h0m0 0h0m-10-5h0m-1 0h0m-2 0h0m-4 0h0m-7 2h0m-1-2h0m0 4h0m-1 1h0m-4-5h0m-3 5h0m-4 5h0m1 0h0m3 23h0m0-27h0m1 22h0m1-12h0m0-7h0m1 4h0m2 4h0m0-1h0m2-1h0m0 14h0m1 5h0m0-9h0m1-8h0m0-9h0m1 21h0m2-12h0m0-3h0m2-8h0m1 26h0m0-11h0m1 7h0m2-13h0m1-3h0m0 26h0m1-27h0m1 10h0m0 0h0m0-5h0m0-3h0m1 12h0m1 16h0m0-21h0m0-12h0m3-2h0m1 7h0m3 16h0m0-22h0m1-1h0m0 11h0m1 9h0m0 17h0m1-24h0m0 1h0m0-8h0m0 2h0m0 0h0m1 7h0m4-2h0m0 9h0m2-4h0m0-8h0m0 5h0m1 14h0m0-19h0m1 22h0m0 7h0m1-38h0m2 6h0m1 18h0m2 4h0m1 1h0m0-13h0m3-13h0m1 1h0m0 19h0m1-11h0m0 21h0m0-16h0m0 15h0m2-6h0m0 11h0m0 0h0m0-35h0m1 22h0m1 12h0m1-27h0m1 9h0m1-9h0m1 10h0m0-17h0m1 9h0m0-11h0m1 14h0m1 23h0m1-9h0m1-9h0m0 13h0m0-14h0m0 18h0m0-30h0m1 15h0m0 12h0m1-1h0m1-23h0m0 10h0m1-17h0m0 33h0m0-15h0m0-18h0m1 35h0m0-37h0m0 29h0m1-13h0m1 9h0m3 5h0m1 2h0m0-23h0m0 23h0m3-27h0m0 11h0m1 12h0m3-18h0m0-9h0m1 13h0m1 7h0m0-5h0m7-17h0m3 7h0m1 7h0m3 5h0m2 1h0m0 16h0m2-28h0m1 6h0m0-9h0m1 4h0m2 14h0m1-13h0m1 21h0m17-24h0m3-5h0m3 28h0m2-3h0m11 3h0m6-28h0m2 19h0m10 49h0m-6-18h0m-6 15h0m-8 0h0m-4-26h0m-2 28h0m-9-7h0m-7-8h0m-8 5h0m-1-8h0m-8 1h0m-2 4h0m0 12h0m-1-13h0m-4-5h0m-1 9h0m-8-17h0m-2 33h0m-5-30h0m-5 17h0m-6-16h0m0-3h0m0 13h0m0 4h0m-3-18h0m0 25h0m-11-11h0m0 1h0m-2-16h0m-3 10h0m-2-1h0m-3-10h0m0 16h0m-1-1h0m-4-9h0m-1 3h0m-2 3h0m-9-3h0m0 18h0m-2-20h0m0 1h0m-2-1h0m0 15h0m-3-11h0m-4 6h0m-3-17h0m-4 18h0m-2-17h0m-2 18h0m-1-6h0m-2-7h0m-1-5h0m-2 3h0m-6 17h0m0-7h0" stroke="#f08a3a" stroke-width="12" stroke-linecap="round" fill="none"/>
<path transform="scale(.1)" d="M2938 5677h0m-235 1h0m-39 1h0m-10-1h0m-18-2h0m-19 16h0m40 23h0m1-17h0m25-8h0m6 10h0m0-7h0m7 5h0m4-13h0m1 4h0m1 16h0m2-24h0m0 4h0m6 11h0m0-2h0m1 8h0m1-7h0m7-1h0m2-2h0m4-11h0m2 12h0m0 7h0m1 16h0m0-27h0m1-8h0m0 8h0m3 11h0m1-14h0m2 17h0m0-18h0m2 2h0m2 13h0m0 14h0m4 5h0m12-1h0m2-31h0m5 8h0m4-15h0m7 30h0m8-7h0m0 10h0m6 5h0m0-37h0m21 5h0m9 31h0m1-37h0m9 2h0m4 12h0m0-2h0m38-11h0m23 5h0m25 11h0m6-13h0m0-2h0m16 12h0m4 0h0m14 16h0m1-18h0m9 16h0m6 4h0m0-3h0m30 10h0m6-15h0m3-2h0m5 19h0m-15 9h0m-115-8h0m-101 6h0m0-1h0m-5 4h0m-3-7h0m-11-4h0m-30 10h0m-46-10h0" stroke="#ee6a3a" stroke-width="12" stroke-linecap="round" fill="none"/>
<path transform="scale(.1)" d="M2900 5471h0m46 46h0m-34-5h0m-41-11h0m-6 14h0m0-5h0m-1 9h0m-2-32h0m-12 24h0m-4-8h0m0 16h0m-1-12h0m-11-3h0m-8 8h0m-3-15h0m-4 2h0m-4 12h0m-1-5h0m-2 10h0m-4-5h0m-3-1h0m-15-22h0m-1 15h0m-3 6h0m-5 9h0m-4-7h0m-10 8h0m-1-10h0m-2 9h0m-27-9h0m-82 5h0m-46 4h0m5 35h0m2-17h0m7-11h0m3 34h0m2-9h0m1 2h0m2-27h0m1-4h0m2 35h0m5-7h0m1-27h0m3 20h0m2-5h0m3 21h0m2-25h0m1 23h0m4 3h0m0-10h0m1 5h0m1-1h0m1-4h0m0 5h0m1-10h0m1 5h0m1-25h0m3 32h0m0-33h0m1 11h0m1 17h0m2-14h0m2-4h0m2 18h0m0-22h0m5 30h0m2-5h0m1-11h0m4-13h0m0 7h0m5 19h0m1-30h0m8 30h0m2-3h0m2-19h0m8 18h0m1 2h0m9-3h0m26-19h0m9 25h0m4-15h0m1 16h0m1-13h0m2-21h0m4-1h0m2 32h0m9-3h0m0-22h0m1 19h0m1 1h0m1-2h0m1 5h0m1-22h0m1 13h0m1 14h0m4-7h0m4-8h0m1 1h0m0 8h0m1-20h0m6-5h0m2 21h0m0-14h0m4 15h0m0 8h0m0-37h0m3 38h0m5-14h0m1-2h0m1 14h0m3-28h0m4 25h0m2-12h0m2 11h0m0 6h0m1-24h0m2 20h0m0-5h0m0-13h0m0 6h0m5 6h0m0-10h0m1 10h0m1 8h0m4-30h0m3 1h0m1-2h0m0 29h0m3-6h0m1-7h0m2 16h0m1-3h0m1-20h0m3 14h0m1 11h0m1-21h0m3 6h0m0-10h0m1 24h0m0-10h0m9 5h0m2 5h0m1-25h0m1 0h0m0-2h0m2-11h0m4 39h0m1-16h0m1 0h0m0-3h0m8-10h0m0-8h0m6 32h0m3-5h0m2-13h0m1 11h0m5 1h0m1-3h0m1-24h0m5 5h0m6 17h0m20 11h0m20-8h0m-15 15h0m-2 4h0m-9-1h0m-1-1h0m-7 3h0m-9-1h0m-18-3h0m-6 2h0m-1-3h0m-29 0h0m-5 2h0m-7 1h0m-4 1h0m-9 0h0m-5-5h0m-6 4h0m-1-2h0m-9 1h0m-3 2h0m-1-3h0m-9-1h0m-5 4h0m-5 0h0m-3-2h0m-2 2h0m-1-4h0m-13 1h0m-56 0h0m-7 1h0m-20-1h0m-9-1h0m-15 1h0m-5 0h0m-3-2h0m-11 4h0m-4-2h0m-1 3h0m-11-1h0m-10-4h0m-3 1h0m-3 2h0" stroke="#f8cc68" stroke-width="12" stroke-linecap="round" fill="none"/>
<path transform="scale(.1)" d="M2786 5470h0m53 9h0m148 25h0m-44 12h0m-28-9h0m-19 4h0m-1-10h0m-14 7h0m-3-1h0m-10-16h0m-9 3h0m-1 25h0m-36-24h0m-8 14h0m-3 2h0m0-10h0m-2 8h0m-19 2h0m-5-21h0m-13 9h0m-9 15h0m-2-34h0m-4 19h0m0 3h0m-49-4h0m-22 15h0m-17-11h0m-9 7h0m-8-14h0m-31 7h0m-24 24h0m8 8h0m13-6h0m7 24h0m2-1h0m3-23h0m7 22h0m2-9h0m4 1h0m7-13h0m1 25h0m22-14h0m1 9h0m5-17h0m2 27h0m1-23h0m1 14h0m4-20h0m0 1h0m6 18h0m7-22h0m3 10h0m29 9h0m10 7h0m5-15h0m3 21h0m5-39h0m5 19h0m3 11h0m7 5h0m4-11h0m0 2h0m1-10h0m1-12h0m2 33h0m0-10h0m2 7h0m6-9h0m1 13h0m7-14h0m1-3h0m1-5h0m1-1h0m4 13h0m4-9h0m0-7h0m1-10h0m4 23h0m0 6h0m1 4h0m2-3h0m2-27h0m0 14h0m1-12h0m0 29h0m1-8h0m0 2h0m0 5h0m0-21h0m4 19h0m1-11h0m4-20h0m3 30h0m0 0h0m1 2h0m4-22h0m0 9h0m1 9h0m0 8h0m1-3h0m2-7h0m0 0h0m3-2h0m1-21h0m1 13h0m0 3h0m1 9h0m2 9h0m0-3h0m0-32h0m5-3h0m0 38h0m0-3h0m1-22h0m0 18h0m2-5h0m0 9h0m1-10h0m0 5h0m2-16h0m0 11h0m0-8h0m6 19h0m2-14h0m1-14h0m2 2h0m0-2h0m0-6h0m2 34h0m1-24h0m3 21h0m1-11h0m2 16h0m3-15h0m1-2h0m0 10h0m1-11h0m3 15h0m0 3h0m4-12h0m3 10h0m0-11h0m8-21h0m5 29h0m4-13h0m10-3h0m5 10h0m4 1h0m6-6h0m1 13h0m11 1h0m7-9h0m6 3h0m16-8h0m8 10h0m0 34h0m-12-11h0m-1-16h0m-7 25h0m0 6h0m0-31h0m-1 17h0m-3-6h0m-7 3h0m-6 18h0m-3-24h0m-2-5h0m-2 28h0m0-26h0m-14-3h0m-3 22h0m-2 5h0m0-16h0m-3 12h0m0 5h0m-1-11h0m-2 9h0m-1-5h0m0-21h0m0 19h0m-1-14h0m-1 17h0m-4-13h0m-2 4h0m0 9h0m-3-6h0m-1-9h0m-2 9h0m0 9h0m-6 0h0m-2 2h0m0-1h0m0 2h0m-1-12h0m-2 6h0m-2-21h0m-3-2h0m0 20h0m0 11h0m-2-11h0m0 5h0m-2-12h0m0 4h0m-4 14h0m-2-22h0m0 0h0m0 0h0m-1 1h0m-1 21h0m0 1h0m-1-29h0m0 3h0m-2 3h0m-1 9h0m-2 8h0m-1-12h0m-1 13h0m-2-11h0m0-8h0m-4-6h0m-1 27h0m0-27h0m0 11h0m-1 10h0m0-21h0m-1 29h0m0-28h0m-7 21h0m-1 0h0m-1-14h0m0 13h0m-1 7h0m-1 6h0m0-16h0m-1-17h0m-2 4h0m-2-7h0m-1 9h0m0 10h0m-3-6h0m0 17h0m-1-28h0m0-1h0m-2 3h0m-1 3h0m-1 28h0m-2-34h0m0 3h0m-3 23h0m-1 10h0m-1-25h0m0 9h0m-3 5h0m-1 1h0m-1 11h0m-1-23h0m-3-4h0m-3-3h0m-2-8h0m0 14h0m-2 15h0m-1 1h0m-1-7h0m0-24h0m-1 9h0m-3-4h0m-1 19h0m-2-9h0m-1 10h0m-1 2h0m0-23h0m0 21h0m-2-20h0m-1 17h0m0 13h0m-1-26h0m-1 15h0m-1-11h0m-1-3h0m-1 18h0m-2-1h0m-4-19h0m-1 2h0m-1 17h0m-2-9h0m-4-4h0m-3-10h0m-9 34h0m-1-30h0m-3 24h0m-4-26h0m0 32h0m-9-3h0m-2-4h0m-5-1h0m0-19h0m-2-2h0m0 8h0m-1-1h0m0 11h0m-5-19h0m-1 21h0m-5-23h0m-1 1h0m-1 31h0m-3-34h0m-1 27h0m-1-2h0m0 3h0m-3-32h0m-3 25h0m-4 9h0m-2-27h0m0 23h0m0-12h0m-1-17h0m0 20h0m-3 14h0m-1-32h0m0 27h0m0 9h0m-1-28h0m-1 18h0m0-25h0m-1 1h0m-1 20h0m0 13h0m-1-6h0m-3-14h0m0-2h0m-1-14h0m-1 7h0m0 22h0m-3-18h0m0 21h0m0-11h0m-2-21h0m-3 1h0m0 21h0m-2-13h0m-1-5h0m-2 10h0m0-1h0m-2 22h0m-1-6h0m0-25h0m0 28h0m-2-22h0m-1 14h0m-1 5h0m-1-17h0m-1 23h0m-1-22h0m0-14h0m0 14h0m-2-6h0m0 25h0m0-31h0m0 3h0m-1 0h0m-1 7h0m-1-13h0m0 10h0m-1-2h0m-1 18h0m0 3h0m0-20h0m-2-2h0m0 10h0m0 22h0m0-19h0m-1 16h0m-2-19h0m-1 5h0m0 13h0m-2 1h0m-2-5h0m-1-24h0m-1 13h0m0-6h0m-2 3h0m-3-2h0m0-9h0m-1 15h0m-2 2h0m0 8h0m0 4h0m-9-3h0m-9-26h0m-3 18h0m0-23h0m-2 28h0m-9-16h0m0 2h0m-13-8h0m12 45h0m16-11h0m1 6h0m8 32h0m4-31h0m0 13h0m6 5h0m2-17h0m1 20h0m0 9h0m1-11h0m1-15h0m0 8h0m1-8h0m2-4h0m0 1h0m1 6h0m2-3h0m1 24h0m1-25h0m0 19h0m0-19h0m1 22h0m0 2h0m1-26h0m1 7h0m1 5h0m2-18h0m0 25h0m3-21h0m1-6h0m0 9h0m2 11h0m0-13h0m3-4h0m1 24h0m2-20h0m0 23h0m0-30h0m2 19h0m0-17h0m1 17h0m0-11h0m4 0h0m0-3h0m0 12h0m1 3h0m2 3h0m0-4h0m1-11h0m1 12h0m0 0h0m2-5h0m0 8h0m0-1h0m1 14h0m0-18h0m1-3h0m0-3h0m0-9h0m1 35h0m0-19h0m1-12h0m1 12h0m0 17h0m1-6h0m0-25h0m0 8h0m1 18h0m0-10h0m0 0h0m2-7h0m0-13h0m0 22h0m3-4h0m0-17h0m1 1h0m0 9h0m3 13h0m0-23h0m1 1h0m0 19h0m0-17h0m1 15h0m0-20h0m0 13h0m0-9h0m1 12h0m0 13h0m1-12h0m2-11h0m0 20h0m0-12h0m1 19h0m0-8h0m0-5h0m1-20h0m1 15h0m1 1h0m1 8h0m1-5h0m1 13h0m1-14h0m1-15h0m1 17h0m1 18h0m2-28h0m1 13h0m1 10h0m0-19h0m1 9h0m0 10h0m1-16h0m0 3h0m0-15h0m0 17h0m0-11h0m1 2h0m0 10h0m1-1h0m1 14h0m4-9h0m1-21h0m1 4h0m2 26h0m1-5h0m4 6h0m1-15h0m4-5h0m1-8h0m1 19h0m4-20h0m1 14h0m0 12h0m2-12h0m0-2h0m2-1h0m3-18h0m2 17h0m1-8h0m7 6h0m0-14h0m1 0h0m0 26h0m1-3h0m6 5h0m0-5h0m4-15h0m9-8h0m5 22h0m0-19h0m1-3h0m1 33h0m7-5h0m2-1h0m0-11h0m9-17h0m10 35h0m2-37h0m1 6h0m2 23h0m6-28h0m0 25h0m1-4h0m8 5h0m0-14h0m0 10h0m-5 20h0m-7 10h0m-8-6h0m-29 25h0m-1-15h0m-13 4h0m-6 5h0m-5-16h0m-6-7h0m-1 30h0m-1-19h0m-4 9h0m0 11h0m-4-5h0m0-1h0m-3-14h0m-9 13h0m-1-17h0m0 6h0m-1 4h0m-4 13h0m0-16h0m-4 14h0m-2-17h0m-4 18h0m-3 1h0m-2-19h0m-2-10h0m0 12h0m-1 0h0m-1-12h0m0 0h0m0 8h0m-3-6h0m-2-3h0m-1 1h0m-2 16h0m-2-8h0m-1 19h0m-1 1h0m-1-27h0m-1 0h0m-1 0h0m-1 26h0m-1-25h0m0-2h0m0 1h0m0-5h0m-1 14h0m0 1h0m-1 5h0m-2-10h0m-1-3h0m0-1h0m0-5h0m-2-1h0m0 21h0m-4-12h0m0-5h0m0 5h0m-1 19h0m0-2h0m-2-18h0m-1-6h0m-5 21h0m-2-19h0m-1 7h0m-1-4h0m0 19h0m0 7h0m-1-5h0m-3-18h0m-1-4h0m-1-2h0m-3-3h0m-2 10h0m-3 14h0m-1-20h0m-1 1h0m-6-1h0m-4-1h0m-2 6h0m0-2h0m-3-4h0m-2-1h0m-16 15h0m-4 6h0m-19-11h0" stroke="#f4a448" stroke-width="12" stroke-linecap="round" fill="none"/>
<path transform="scale(.1)" d="M3091 5740h0m-38 17h0m0-22h0m-35 15h0m-57-12h0m-9 11h0m-76 2h0m0-12h0m-9 11h0m-62-18h0m-1 11h0m0-1h0m-2-8h0m-5 23h0m-6-14h0m-2 9h0m-6-12h0m-1-1h0m-1 19h0m-2-18h0m-1 16h0m-3-15h0m-10 18h0m-1-15h0m-5 14h0m-5-15h0m0 4h0m-7 1h0m-3 4h0m-2-20h0m-12 14h0m-6-14h0m-29 25h0m-2-17h0m5 51h0m13-13h0m22 5h0m23 15h0m2-21h0m5-2h0m1 7h0m8-6h0m1-8h0m10 5h0m1 6h0m3 2h0m2-19h0m1 0h0m4 12h0m2 18h0m1-20h0m1 10h0m1-9h0m0-13h0m3 23h0m4 3h0m3-6h0m0-16h0m8 17h0m5 12h0m2 6h0m1-26h0m10 2h0m0-11h0m8-4h0m83 2h0m9 9h0m13 1h0m4 13h0m6-21h0m179 49h0m-128-6h0m-3 2h0m-17 9h0m-24-3h0m-10 20h0m-65-35h0m-62 25h0m-13-17h0m-12 2h0m-11 19h0m-7-24h0m-8 8h0m-4 10h0m-12-21h0m-4 18h0m-4-19h0m-8 3h0m-7-2h0m-11 5h0m-5-6h0m17 48h0m3 30h0m24-13h0m59-18h0m191 11h0" stroke="#e0304a" stroke-width="12" stroke-linecap="round" fill="none"/>
<path transform="scale(.1)" d="M3004 5597h0m-38-3h0m-5 2h0m-5-2h0m-18 4h0m-4-1h0m-3 1h0m-4 0h0m-7 0h0m-5-2h0m-2 3h0m-7-4h0m-4 1h0m-1 1h0m-2 1h0m-1-4h0m-18 4h0m-4-2h0m-4-1h0m-1 1h0m-6 3h0m-1-2h0m-4 0h0m0-2h0m-9 1h0m0-2h0m-2 41h0m2-31h0m1 24h0m1 5h0m2-3h0m0-16h0m1-4h0m0 3h0m0-8h0m1 1h0m0 5h0m2 0h0m0 21h0m1-30h0m0-1h0m2 22h0m0-16h0m0 6h0m0 22h0m1-11h0m1-8h0m1 19h0m3-23h0m0 4h0m0 1h0m0 2h0m3-19h0m1 16h0m1-16h0m0 8h0m2-5h0m0 8h0m1-6h0m0 19h0m1-23h0m0 32h0m0-21h0m1-1h0m0 19h0m1 7h0m2-17h0m1 17h0m1-24h0m1 19h0m1-9h0m4-8h0m1-7h0m0 20h0m0-23h0m0 25h0m1-27h0m0 34h0m0-35h0m0 14h0m3 2h0m1 19h0m1-30h0m0 30h0m0-14h0m2 11h0m0 0h0m1-26h0m0-5h0m0 6h0m0 20h0m3-28h0m0 14h0m1-6h0m1-2h0m0 3h0m0-7h0m1-1h0m1 15h0m0 20h0m1-30h0m0 17h0m1 9h0m1-8h0m1 8h0m0-30h0m0 2h0m1 31h0m0-2h0m1-32h0m0 7h0m0 3h0m1 21h0m2-7h0m0-20h0m0 5h0m1 5h0m1 18h0m0-11h0m2 11h0m0-14h0m2 11h0m2-15h0m0 16h0m0-22h0m2 20h0m1-26h0m0 7h0m1 20h0m1-9h0m0-7h0m0-1h0m1-3h0m2-1h0m4 0h0m1-9h0m1 10h0m0 9h0m4-4h0m1-8h0m0 15h0m1-13h0m1 8h0m0 3h0m1 6h0m0-3h0m1 9h0m1-21h0m1 14h0m3-23h0m1-3h0m6 11h0m2 12h0m1-5h0m0-16h0m2 22h0m0-11h0m1-1h0m0 10h0m0 3h0m6-20h0m3 3h0m2 13h0m1 13h0m2-4h0m3-27h0m2 1h0m0 6h0m2 11h0m0-19h0m4 10h0m14 33h0m0 6h0m-1 3h0m-7 4h0m-9 7h0m-1 1h0m-7 6h0m-4-6h0m-4-21h0m0 7h0m-2 11h0m-7-16h0m0 8h0m-5 0h0m-2 0h0m-1-5h0m-1 0h0m-1 11h0m-2-7h0m-7-12h0m-3-2h0m-2 9h0m-8 4h0m0-11h0m-2 5h0m-8-7h0m-1 1h0m0 2h0m0 24h0m-4-1h0m-1-17h0m-1-2h0m-1 1h0m0 7h0m-1 14h0m-1-20h0m0 6h0m-2-4h0m-1 15h0m-2-25h0m-1 23h0m-1-2h0m-1-22h0m-2 25h0m-2 6h0m0-17h0m-2 7h0m0-21h0m-1 13h0m-3 7h0m-1-6h0m0-14h0m-5 3h0m-4 6h0m0 4h0m-2-2h0m0 15h0m-4-5h0m0 1h0m-1-22h0m-2 1h0m0 2h0m-1-3h0m-1 1h0m-5 30h0m0-23h0m-1 23h0m0-13h0m-2 14h0m0-25h0m-3 17h0m-4-15h0m-1 25h0m-2-6h0m-4-13h0" stroke="#e8383a" stroke-width="12" stroke-linecap="round" fill="none"/>
<path d="M260.6 552.7 L273.2 565.3 C276.1 569.2 280.7 571.9 284.5 571 C289.1 569.7 290.5 564 289.1 559.7 C287.3 555.7 282.6 554.9 278.9 556.2 C276.5 557 275.1 558.8 275.1 560.5" fill="none" stroke="#402010" stroke-width="0.55" stroke-opacity="0.45"/>
<text font-size="7.18" transform="translate(328.1 526.6) scale(0.877 1)" stroke="#161616" stroke-width="0.05">IGKV1D-33</text>
<defs><linearGradient id="kcb" x1="0" x2="0" y1="0" y2="1"><stop offset="0" stop-color="#f4f0a0"/><stop offset="0.2" stop-color="#f8c860"/><stop offset="0.5" stop-color="#f08a40"/><stop offset="0.8" stop-color="#e03c40"/><stop offset="1" stop-color="#c8104a"/></linearGradient></defs>
<rect x="328.6" y="533.1" width="3.1" height="69.2" fill="url(#kcb)"/>
<text font-size="7.18" transform="translate(334 536.4) scale(0.877 1)" stroke="#161616" stroke-width="0.05">37</text>
<text font-size="7.18" transform="translate(334 553.4) scale(0.877 1)" stroke="#161616" stroke-width="0.05">13</text>
<text font-size="7.18" transform="translate(334 570.4) scale(0.877 1)" stroke="#161616" stroke-width="0.05">10</text>
<text font-size="7.18" transform="translate(334 587.2) scale(0.877 1)" stroke="#161616" stroke-width="0.05">7</text>
<text font-size="7.18" transform="translate(334 604) scale(0.877 1)" stroke="#161616" stroke-width="0.05">0</text>
<text font-size="10.4" font-weight="bold" fill="#000" x="384.5" y="530.4" stroke="#000" stroke-width="0.05">L</text>
<line x1="411.5" y1="532.3" x2="411.5" y2="605" stroke="#262626" stroke-width="1.15"/>
<line x1="409.5" y1="543.5" x2="411.5" y2="543.5" stroke="#262626" stroke-width="0.9"/>
<text font-size="7.18" text-anchor="end" transform="translate(406.1 546.1) scale(0.877 1)" stroke="#161616" stroke-width="0.05">10</text>
<line x1="409.5" y1="562.5" x2="411.5" y2="562.5" stroke="#262626" stroke-width="0.9"/>
<text font-size="7.18" text-anchor="end" transform="translate(406.1 564.3) scale(0.877 1)" stroke="#161616" stroke-width="0.05">0</text>
<line x1="409.5" y1="580.5" x2="411.5" y2="580.5" stroke="#262626" stroke-width="0.9"/>
<text font-size="7.18" text-anchor="end" transform="translate(406.1 582.6) scale(0.877 1)" stroke="#161616" stroke-width="0.05">−10</text>
<line x1="409.5" y1="598.5" x2="411.5" y2="598.5" stroke="#262626" stroke-width="0.9"/>
<text font-size="7.18" text-anchor="end" transform="translate(406.1 600.9) scale(0.877 1)" stroke="#161616" stroke-width="0.05">−20</text>
<line x1="410.4" y1="604.5" x2="468.8" y2="604.5" stroke="#262626" stroke-width="1.15"/>
<line x1="419.5" y1="604.5" x2="419.5" y2="606.5" stroke="#262626" stroke-width="0.9"/>
<text font-size="7.18" text-anchor="middle" transform="translate(419.1 615.7) scale(0.877 1)" stroke="#161616" stroke-width="0.05">−5</text>
<line x1="428.5" y1="604.5" x2="428.5" y2="606.5" stroke="#262626" stroke-width="0.9"/>
<text font-size="7.18" text-anchor="middle" transform="translate(428.5 615.7) scale(0.877 1)" stroke="#161616" stroke-width="0.05">0</text>
<line x1="437.5" y1="604.5" x2="437.5" y2="606.5" stroke="#262626" stroke-width="0.9"/>
<text font-size="7.18" text-anchor="middle" transform="translate(437.9 615.7) scale(0.877 1)" stroke="#161616" stroke-width="0.05">5</text>
<line x1="447.5" y1="604.5" x2="447.5" y2="606.5" stroke="#262626" stroke-width="0.9"/>
<text font-size="7.18" text-anchor="middle" transform="translate(447.2 615.7) scale(0.877 1)" stroke="#161616" stroke-width="0.05">10</text>
<line x1="456.5" y1="604.5" x2="456.5" y2="606.5" stroke="#262626" stroke-width="0.9"/>
<text font-size="7.18" text-anchor="middle" transform="translate(456.6 615.7) scale(0.877 1)" stroke="#161616" stroke-width="0.05">15</text>
<line x1="465.5" y1="604.5" x2="465.5" y2="606.5" stroke="#262626" stroke-width="0.9"/>
<text font-size="7.18" text-anchor="middle" transform="translate(465.9 615.7) scale(0.877 1)" stroke="#161616" stroke-width="0.05">20</text>
<text font-size="8.4" text-anchor="middle" font-weight="bold" fill="#222" transform="translate(440.3 627.7) scale(0.53 1)" stroke="#222" stroke-width="0.05">PC1</text>
<text font-size="8.4" text-anchor="middle" font-weight="bold" fill="#222" transform="translate(389.6 568.3) rotate(-90) scale(0.53 1)" stroke="#222" stroke-width="0.05">PC2</text>
<path transform="scale(.1)" d="M4416 5513h0m-35-2h0m-4-8h0m0-21h0m-1 19h0m-26-2h0m-8 2h0m-6 9h0m-191 43h0m10 1h0m3-3h0m2 1h0m1-24h0m3 15h0m7-21h0m3 29h0m2-14h0m13 17h0m6-31h0m2 28h0m4-18h0m2-4h0m0 22h0m1-11h0m6 19h0m0-27h0m1 27h0m1 0h0m2-9h0m24 8h0m35-5h0m5-15h0m4-8h0m8 12h0m5 16h0m0-13h0m15 4h0m2-9h0m3-4h0m3-10h0m2 14h0m4 3h0m2-2h0m1-5h0m7-9h0m0 7h0m3-12h0m5 33h0m2-3h0m2-8h0m5-16h0m3 17h0m6-16h0m0 23h0m1 2h0m1-18h0m0 13h0m5-1h0m6-23h0m0 1h0m1 15h0m3 18h0m0-35h0m5-3h0m1 36h0m0-5h0m3-6h0m4-17h0m3 10h0m8-13h0m4 28h0m1 4h0m1-27h0m0 16h0m1 12h0m6-5h0m1-11h0m4 8h0m4-21h0m0 16h0m7 3h0m5 2h0m1 3h0m4-13h0m2-20h0m5 5h0m0 22h0m6-5h0m2 5h0m13 11h0m5-5h0m4-4h0m54 20h0m-11 19h0m-12 3h0m-1-22h0m0 14h0m-10 9h0m-14-19h0m-3-5h0m-2-8h0m-3 30h0m-1-23h0m-4 23h0m-2-9h0m-1-18h0m-2 33h0m-9-6h0m-4-18h0m0 10h0m-4-17h0m-4 15h0m-1-14h0m-5 2h0m-5 9h0m-1-9h0m0 28h0m-2-19h0m0 2h0m-3 14h0m-4 2h0m-2 2h0m-2-14h0m-1 10h0m0-18h0m-3-2h0m-1 7h0m0-20h0m0 6h0m-2 14h0m-1-12h0m0 29h0m0-36h0m-5 25h0m-1-17h0m0 24h0m-2 0h0m-3-14h0m-3-6h0m-4 9h0m-5-20h0m-1 10h0m0 17h0m-1-27h0m-2 10h0m-1 26h0m-1-3h0m-2-34h0m-9 27h0m-2 10h0m-1-29h0m-4-7h0m0 19h0m-2 3h0m-3 2h0m0-6h0m-2-10h0m-5 28h0m-2-36h0m-3 32h0m-1-11h0m-2-12h0m-1 7h0m0-8h0m-2 23h0m-1-20h0m-4 21h0m-2-26h0m-1 0h0m-2-4h0m-4 8h0m-2 24h0m-1-19h0m-1 7h0m-1 6h0m-1-7h0m0 1h0m-10-15h0m-3-8h0m-3 4h0m-1 8h0m0 11h0m-4-6h0m-6 1h0m-7-13h0m-2 22h0m-2 8h0m0-32h0m-5 14h0m-1 2h0m-5 18h0m-4-28h0m-2 24h0m-8-11h0m-7 8h0m-4-32h0m-3 33h0m-2-2h0m-1-8h0m-4 11h0m-2-27h0m-1 25h0m-1 1h0m-1 6h0m0-5h0m-2-17h0m-3 4h0m-1 16h0m-1-35h0m-2 9h0m-1 7h0m-1-6h0m0-10h0m-1 7h0m-5-7h0m0 3h0m-1 28h0m-3-8h0m-2-19h0m-5 15h0m0 10h0m-2-19h0m0 17h0m-1-27h0m-2 23h0m0-20h0m-1 32h0m-1 1h0m-1-28h0m-3 5h0m-2-7h0m-1 28h0m0-28h0m0 1h0m-1 22h0m-1-17h0m0 6h0m-1 16h0m0 0h0m-2-19h0m-2 8h0m-1 11h0m0 0h0m-2-11h0m0 9h0m-3-13h0m-3-18h0m-4 23h0m0-10h0m-1 3h0m-2-8h0m-1-7h0m-6 25h0m-3-2h0m-10-12h0m0 14h0m-4 7h0m-15-29h0m-2 6h0m3 41h0m13-10h0m13 18h0m7 17h0m3-30h0m7 17h0m1-5h0m1-21h0m1 29h0m1-13h0m0 12h0m1-16h0m2 2h0m4-2h0m2-1h0m5 23h0m1-6h0m1-2h0m2-19h0m1 7h0m3 16h0m1-11h0m1-15h0m0 2h0m1 6h0m0 8h0m0-12h0m4-7h0m1 5h0m0 10h0m1-6h0m0 3h0m3-4h0m0 0h0m5 25h0m2-18h0m0-16h0m1 23h0m1-19h0m2 7h0m1 9h0m1 11h0m1 0h0m4-7h0m2-11h0m3 8h0m0 15h0m0-10h0m1-20h0m1 25h0m0-30h0m2 24h0m0 6h0m1-19h0m1 23h0m0-20h0m1-4h0m0 23h0m0-8h0m1-12h0m1-1h0m1 19h0m0-16h0m0-2h0m1 11h0m7 5h0m3-26h0m1 20h0m0 10h0m2-10h0m0-10h0m2 9h0m6 15h0m0-37h0m6-1h0m1 2h0m1-1h0m0 0h0m0 22h0m5-13h0m2 16h0m1 7h0m3-10h0m2-15h0m2 12h0m6-9h0m3 7h0m4-15h0m3-3h0m9 3h0m2 12h0m2-2h0m1 26h0m4-36h0m2 16h0m6-11h0m0 11h0m15-13h0m0 2h0m7-1h0m5 4h0m2 20h0m0-31h0m8 11h0m1-8h0m4 10h0m7-9h0m3 0h0m3 6h0m2-5h0m3 18h0m1-21h0m1 9h0m7 6h0m3-11h0m0-6h0m1 5h0m1-5h0m0 7h0m1 12h0m1-16h0m2-2h0m2 36h0m4-37h0m1 32h0m9-3h0m3-22h0m3 22h0m2 1h0m0-13h0m5 20h0m1-13h0m4-14h0m2 23h0m1-30h0m1 3h0m5 16h0m1 11h0m2-30h0m1 27h0m0-29h0m1 16h0m2 14h0m1-17h0m2-4h0m7 10h0m5-12h0m2 10h0m0 3h0m1 6h0m2-15h0m5-12h0m3 36h0m7-26h0m2 15h0m14 5h0m11-18h0m18 9h0m-16 48h0m-36-14h0m-3-5h0m-3 4h0m-19 8h0m-1-9h0m-5 3h0m-3 11h0m-2-27h0m-1 1h0m-4 25h0m-1-17h0m-3 7h0m-3-5h0m-1 15h0m-3 13h0m-2-39h0m-1 0h0m-8 12h0m-9-3h0m-4 17h0m-5-26h0m-12 7h0m-7 2h0m-16 27h0m-11-31h0m-31 27h0m-14-11h0m-6-5h0m-11-2h0m-1 19h0m-5-10h0m-2-1h0m-1-16h0m0 24h0m-11-28h0m-1 1h0m-11 4h0m-7 27h0m-2 4h0m0-31h0m-1-6h0m-1 13h0m-2-10h0m-1 23h0m-1-15h0m-3-6h0m-3-2h0m-1 22h0m-1 5h0m-10-16h0m-2-12h0m-4 10h0m-2 8h0m-2-12h0m-3 2h0m-8 12h0m-2-16h0m-1-1h0m0 9h0m-2-14h0m-10 24h0m-10-24h0m-5 9h0m-1-6h0m-6-3h0m-22 4h0m51 36h0m15 10h0m2 2h0m0 7h0m12 12h0m1-26h0m1 27h0m9-18h0m1-6h0m1 15h0m7-19h0m7 4h0m4 11h0m14-11h0m2 15h0m4-7h0m0 5h0m2-1h0m3-9h0m15-4h0m6 18h0m143-2h0m2-20h0m24 3h0m54 30h0m-197 10h0m-3-5h0m-1 7h0m-61-7h0" stroke="#e62c48" stroke-width="12" stroke-linecap="round" fill="none"/>
<path transform="scale(.1)" d="M4317 5470h0m53 9h0m2-1h0m31-3h0m28-4h0m87 33h0m-13 6h0m-28 7h0m-3-1h0m-3-2h0m-8 1h0m-17-8h0m-1-10h0m-2 15h0m-3-4h0m-4-5h0m-9 8h0m-1-10h0m-7-21h0m-5 26h0m-2 2h0m-3-1h0m-7-6h0m-1 11h0m0 7h0m-1-14h0m-1-14h0m-3 24h0m0-5h0m-1 9h0m-2-32h0m-3 7h0m-1 25h0m-7-33h0m-5 33h0m-1-12h0m-1 4h0m-7-1h0m-2-12h0m-1 6h0m-1-1h0m-1 13h0m-6-4h0m0-24h0m-3 9h0m-1 10h0m0-12h0m-4-7h0m-3 23h0m-1-2h0m0-3h0m-2 10h0m-1-5h0m0 7h0m-2-9h0m-1 2h0m-8-19h0m-3 1h0m-4 21h0m-3-3h0m0-23h0m-1 15h0m-1-8h0m-1 21h0m-1-7h0m-1-19h0m-4 28h0m-4-7h0m0-13h0m0 19h0m-2-31h0m-3 13h0m-5 20h0m-1-10h0m-1-5h0m-1 14h0m-1-4h0m-2-34h0m-4 19h0m0 3h0m-13 12h0m-7-5h0m-29-11h0m-22 15h0m-1 5h0m0-11h0m-1-8h0m-9 19h0m-6-16h0m-1 16h0m-8-9h0m0 5h0m-5 0h0m-1-5h0m-2-14h0m-3 3h0m-6 13h0m-3-12h0m-10 0h0m-9 3h0m-12 16h0m-12 8h0m7 21h0m1-13h0m2 11h0m9-9h0m2-8h0m5-3h0m2 27h0m1 7h0m1-26h0m1 17h0m3-25h0m1-4h0m2 35h0m0 0h0m2-9h0m1-8h0m0-17h0m0 28h0m2-1h0m0-8h0m2 13h0m0-6h0m2 10h0m0-16h0m0 0h0m1-5h0m2 12h0m0-8h0m2-18h0m0 35h0m2-29h0m0 4h0m1 21h0m0-9h0m0-1h0m0 12h0m1-23h0m3 26h0m0-10h0m0 8h0m1-3h0m1-1h0m1-4h0m1-5h0m1 6h0m0-1h0m1 7h0m0-32h0m1 33h0m0-9h0m2 8h0m0-4h0m1-30h0m0 12h0m3 3h0m0 11h0m1-18h0m1 17h0m1 3h0m2 0h0m0 9h0m1-2h0m0-8h0m2-1h0m1 11h0m2-5h0m0-8h0m0-11h0m1 8h0m2-7h0m2 1h0m0-7h0m3 1h0m0-1h0m2 26h0m1-30h0m0 9h0m1-5h0m2 19h0m1-12h0m0 19h0m3-34h0m1 34h0m1-7h0m1-22h0m0 26h0m2-8h0m0 14h0m0-25h0m1 3h0m7 15h0m1 2h0m5-34h0m1 15h0m2 24h0m1-8h0m4 4h0m8-9h0m2 13h0m10-15h0m2-12h0m0 3h0m2 24h0m2 0h0m5-17h0m0 15h0m0-37h0m1 32h0m0-1h0m1-20h0m3 8h0m0 19h0m1-6h0m0-7h0m1 3h0m1-25h0m0 27h0m0-26h0m1 19h0m1-14h0m0 23h0m2-29h0m1 9h0m1 23h0m1-16h0m0 16h0m3-32h0m1 23h0m0-2h0m0 14h0m1-22h0m1-12h0m1 14h0m1 9h0m0-10h0m0 20h0m0-5h0m0-22h0m2 20h0m0 4h0m1-3h0m0-3h0m1 11h0m0-6h0m1-22h0m1 1h0m0 12h0m1 4h0m0 10h0m1-13h0m1 13h0m0-23h0m0-15h0m1 5h0m1 26h0m2-19h0m3 12h0m0 0h0m0 8h0m0-28h0m1 8h0m2 9h0m0-6h0m1 16h0m0-6h0m1 6h0m1-21h0m1-3h0m0 30h0m0-31h0m0 22h0m2 0h0m1-10h0m1-6h0m0 7h0m1-15h0m1 25h0m0-29h0m0 14h0m0 23h0m1-33h0m1-2h0m1 36h0m0-13h0m0-3h0m0 9h0m2-9h0m1-4h0m2 17h0m0-30h0m0 9h0m0 5h0m1 19h0m0-2h0m0-29h0m0 15h0m1 6h0m0 7h0m0-21h0m0 16h0m0 6h0m0-17h0m2 11h0m1-9h0m1-5h0m0 1h0m0 16h0m1 3h0m0-14h0m1-4h0m1 15h0m1-31h0m1 7h0m0-7h0m0 19h0m2 10h0m0-1h0m0 2h0m0-2h0m0 7h0m0 1h0m1-24h0m0 18h0m2 2h0m0-12h0m0-5h0m3 3h0m0 1h0m0-9h0m1 26h0m0-8h0m1-12h0m0 17h0m1-7h0m1 0h0m0 0h0m0 6h0m0 2h0m1-2h0m0-8h0m2 0h0m0-1h0m0 6h0m0-2h0m1-3h0m1-8h0m1-4h0m0 16h0m1-7h0m0-2h0m0-14h0m1-2h0m0 29h0m0 0h0m0 2h0m1-7h0m1-23h0m1 23h0m0-1h0m1 8h0m0 0h0m0-15h0m1 18h0m0-3h0m1-22h0m0 8h0m1 12h0m1 2h0m0-22h0m0 13h0m1 4h0m0-13h0m2 0h0m0-3h0m0 11h0m0 2h0m1 11h0m1-21h0m0-13h0m1 21h0m1-8h0m1-9h0m0 15h0m0-10h0m1 22h0m0 2h0m0-1h0m0-9h0m2-5h0m1-9h0m0-5h0m0 18h0m1 5h0m1-15h0m0-14h0m0 6h0m0 2h0m1 26h0m0-27h0m1 27h0m1-24h0m1 14h0m0 6h0m1-25h0m0 31h0m1-6h0m0 5h0m1-15h0m0-10h0m1 0h0m2-13h0m1 5h0m1 19h0m1-2h0m0 10h0m1 4h0m0-15h0m0 18h0m1-16h0m1-3h0m1 16h0m0 3h0m2-21h0m0-5h0m2 14h0m2-14h0m1 24h0m0-35h0m0 35h0m1-1h0m1-18h0m2-15h0m1 30h0m1 1h0m2-21h0m0-8h0m1 24h0m0 0h0m1-26h0m1 13h0m1 11h0m0-19h0m0 5h0m5 15h0m1-3h0m5-3h0m1 5h0m3-9h0m9 15h0m0-4h0m2-7h0m3 10h0m1-9h0m0 4h0m1 9h0m3-3h0m3 5h0m1-13h0m1-3h0m3 15h0m0-6h0m7-3h0m6 3h0m3-5h0m13-3h0m8 10h0m1-20h0m28 36h0m-8 28h0m-5-9h0m-5-16h0m-11 13h0m0 2h0m-2 3h0m-1-2h0m-2 8h0m-4-2h0m-3-18h0m-1-16h0m-4 34h0m-2-28h0m-1 25h0m0-31h0m0 25h0m0-22h0m-1 14h0m-1 19h0m-2-25h0m-2 8h0m-1 15h0m-2-27h0m-1 11h0m-1 13h0m-1-21h0m-2 4h0m0 11h0m-1 12h0m0-29h0m0 17h0m-2 7h0m-1-27h0m0 7h0m-1 19h0m-3-28h0m-2 2h0m-1 33h0m-3-4h0m0-31h0m-2 5h0m-1 29h0m0-29h0m-1 30h0m-3-10h0m0-22h0m0 7h0m-1 25h0m0-14h0m-1 7h0m-1-29h0m-1 28h0m0 4h0m-2-12h0m0 2h0m0-10h0m0-7h0m-1 8h0m-1-2h0m0 25h0m0-9h0m0 8h0m-1-17h0m0-15h0m-1 4h0m-1 16h0m0 0h0m0 5h0m-1-11h0m0 11h0m-1-19h0m0 2h0m0 24h0m0-1h0m-1-8h0m-1-5h0m0 16h0m0-22h0m0-15h0m0 22h0m-1-5h0m0-11h0m-1 2h0m0 14h0m-1-21h0m-1 34h0m0-1h0m-1-6h0m-1-19h0m0-5h0m-1 29h0m-1-7h0m0-13h0m0-9h0m0 18h0m-3 8h0m0 2h0m0 2h0m0-16h0m-1-18h0m-1 28h0m0-20h0m0 6h0m-1 11h0m0-22h0m0 33h0m0-22h0m-1-15h0m0 33h0m0-14h0m0-6h0m-1 24h0m-1-32h0m-1 11h0m0-13h0m0 6h0m-1 18h0m0-27h0m0 16h0m0 1h0m-1 9h0m0-8h0m-1-8h0m0-9h0m-1 33h0m0-5h0m0-26h0m0 25h0m0-1h0m-1-17h0m0 7h0m-1 6h0m0-20h0m-1 14h0m0 0h0m0-9h0m0 2h0m-1 2h0m-1-11h0m0 20h0m0 13h0m0-32h0m0 35h0m-1-22h0m0 16h0m0 7h0m0-34h0m0 22h0m0 12h0m-1-35h0m-1 12h0m0 17h0m0-18h0m0 17h0m0-16h0m0 6h0m-1 8h0m0-24h0m0 22h0m0-20h0m-1 18h0m0-3h0m0-19h0m-1 15h0m0-13h0m0 23h0m0-16h0m-1 5h0m0-4h0m0 10h0m0-20h0m-1 8h0m0 0h0m0 0h0m0 7h0m-2 1h0m0-8h0m0 24h0m0-31h0m-1 26h0m0 1h0m0 2h0m0-19h0m-1 8h0m0-12h0m0 0h0m-1-1h0m0 14h0m0-14h0m0 17h0m0 3h0m0-20h0m-1 10h0m0 3h0m0 0h0m0 9h0m0 3h0m0-24h0m0 16h0m-1 5h0m0-12h0m0 16h0m0-24h0m0 21h0m-1-26h0m0 20h0m0 0h0m0-23h0m-1 25h0m0-5h0m-1-14h0m0 10h0m0 14h0m-1-8h0m0-7h0m0 12h0m-1-3h0m-1-27h0m0 38h0m0-12h0m-1 10h0m0-22h0m0-6h0m-1 6h0m0 13h0m0-25h0m0 12h0m-1-15h0m0 1h0m-1 35h0m0-19h0m0-8h0m-1-6h0m0 31h0m0 1h0m0 2h0m0 1h0m-1-13h0m0 14h0m-2-25h0m-1 0h0m0-11h0m0 10h0m-1 21h0m0-10h0m-1 8h0m0-2h0m0-26h0m0 5h0m0-6h0m-1 1h0m-2 28h0m0-23h0m0 15h0m0 10h0m-2-29h0m0 4h0m-1 6h0m0 0h0m0-6h0m0 7h0m0 10h0m-1-20h0m0 19h0m0 9h0m-1-7h0m0-24h0m0-1h0m0 7h0m0 16h0m0-9h0m-1-5h0m0 13h0m0 13h0m-1-1h0m0-29h0m0 24h0m0-6h0m-1 0h0m0-4h0m0 10h0m0 6h0m-1-14h0m0 7h0m0-26h0m0 33h0m0-27h0m-1 0h0m-1-2h0m0-3h0m0 9h0m-1 9h0m-1-4h0m0-18h0m0 34h0m-1-4h0m0-6h0m0-5h0m-1 18h0m-1-13h0m0-25h0m-1 14h0m0 17h0m-1-29h0m0 22h0m0 15h0m0-7h0m0 2h0m-2-29h0m-1 0h0m0 18h0m0-15h0m-1 28h0m0-20h0m0 14h0m0-26h0m0 17h0m-1-19h0m0 25h0m-1-25h0m0 27h0m0-4h0m0 2h0m0-22h0m0 30h0m-1-23h0m-1 4h0m0-14h0m-1 26h0m0-9h0m-1 9h0m0 10h0m0-5h0m0-10h0m-1 1h0m0-2h0m0-9h0m-1-9h0m0 28h0m0-12h0m0 16h0m-1-14h0m0-22h0m-1 27h0m-1 1h0m-1 2h0m0 9h0m-1-23h0m0-11h0m-1-3h0m0 13h0m-1 4h0m-1-4h0m0-7h0m-2-7h0m0 13h0m0 20h0m0-8h0m-1-10h0m0-7h0m-1 5h0m-1-13h0m0 29h0m0-15h0m-2-14h0m0 16h0m0 6h0m0 7h0m-1 1h0m0-14h0m-1-17h0m0 16h0m0-1h0m0 9h0m0-10h0m-1-2h0m-2-9h0m0 2h0m-1 14h0m-1 5h0m0-6h0m-1-2h0m0 3h0m-1-4h0m-1 10h0m0 1h0m0-21h0m-1 20h0m0 9h0m0-30h0m0 23h0m-1-8h0m-1-14h0m0-2h0m-1 19h0m0 2h0m0 11h0m-1-30h0m0 34h0m0-30h0m-1-8h0m0 9h0m-1 1h0m0 2h0m-1-3h0m-1 18h0m-1-15h0m0 1h0m0 25h0m-1-36h0m0 24h0m0 12h0m-1-29h0m-1 3h0m-1 1h0m0 6h0m0 16h0m0-30h0m0 11h0m-1 21h0m0-4h0m0-7h0m0-19h0m0 0h0m-2 19h0m-1-8h0m0 1h0m0-12h0m-1 10h0m-1 5h0m-1 2h0m0-12h0m0 13h0m-1-9h0m-1-9h0m-1 19h0m-1-15h0m0-12h0m0 19h0m0-10h0m-1-5h0m0 18h0m-1-11h0m-3 12h0m-1-14h0m-2 8h0m0 6h0m0 10h0m-1-25h0m-1 30h0m0-36h0m-1 10h0m0-4h0m-1 8h0m-1 1h0m0 5h0m-1 10h0m-1 3h0m-1-10h0m-1-2h0m-1 15h0m0-32h0m0 22h0m-1-4h0m-1-11h0m-1 18h0m0-22h0m-1 30h0m-2-2h0m-1-10h0m-1 10h0m-1 0h0m0-2h0m0 0h0m-2-4h0m-1-1h0m0 2h0m-3-23h0m-1 21h0m-2-13h0m0-8h0m0 10h0m-1-3h0m0 11h0m-1 10h0m0-3h0m-1-20h0m0 11h0m0-20h0m-1 33h0m0-22h0m-2-8h0m-1 21h0m-2 7h0m0-3h0m-1-20h0m-1 21h0m-1-28h0m0 24h0m0-14h0m-1 15h0m0-24h0m-1 31h0m0-21h0m0-15h0m-1 6h0m-1 25h0m0-3h0m-1-26h0m0 9h0m-1-1h0m0 19h0m0-16h0m0-4h0m-1 18h0m0 3h0m0 0h0m-1-14h0m-1-15h0m0 14h0m0 17h0m-1-6h0m0-13h0m0-15h0m-2 35h0m0-13h0m-1 3h0m0-12h0m0 12h0m0-11h0m-1 10h0m0-12h0m-1 20h0m0-7h0m0 11h0m0-28h0m-1 7h0m0 19h0m0-2h0m-2-24h0m0 3h0m0 14h0m0 3h0m0 11h0m0-8h0m0 7h0m-1 1h0m0-9h0m0 7h0m0-17h0m0 9h0m0-11h0m-1 6h0m0-3h0m0 2h0m0-22h0m0 2h0m-1 13h0m-1 12h0m0-21h0m0 27h0m-1-4h0m0 5h0m0-10h0m-1 5h0m0 9h0m0-13h0m0-23h0m0 25h0m0 10h0m-1-27h0m-1-7h0m0 25h0m-1-16h0m0-8h0m-1 20h0m0 13h0m-1-35h0m0 29h0m0-3h0m-1 5h0m-2-18h0m-1 7h0m0-18h0m-1 26h0m0-5h0m0-9h0m-2 10h0m0-14h0m-1 10h0m0 10h0m0 1h0m0 3h0m0-24h0m0 3h0m0 2h0m0 19h0m0 1h0m-1-37h0m0 5h0m-1 23h0m0-11h0m-1-8h0m-1 14h0m0 7h0m-1-1h0m0-21h0m0-6h0m0 21h0m0 11h0m-2-24h0m0 17h0m-1 11h0m-1-13h0m0 2h0m0 4h0m0-17h0m0 16h0m0-2h0m-1 5h0m0-32h0m0 14h0m0 9h0m0 0h0m0-10h0m0 13h0m-1 11h0m-1-2h0m0-7h0m0-17h0m0 23h0m0-11h0m-1-14h0m0-5h0m0 23h0m0-12h0m0 17h0m0-14h0m-1-17h0m0 31h0m0-3h0m0-25h0m-1-5h0m0 33h0m0-26h0m-1 7h0m0 0h0m0 11h0m0-20h0m-1 28h0m0-3h0m0-15h0m0 12h0m-1-7h0m0-2h0m0-7h0m0 2h0m0-1h0m-1 25h0m0-16h0m-1-21h0m0 32h0m0-18h0m0 0h0m-1 8h0m0-1h0m0-20h0m-1 7h0m0 25h0m0-28h0m0 2h0m0-5h0m0 27h0m0-11h0m-1-13h0m-1-6h0m0 13h0m0 3h0m0 18h0m-1-24h0m0-10h0m-1 8h0m-1 23h0m0-5h0m0 3h0m0-14h0m0 11h0m-1-10h0m-1-3h0m0-6h0m0 32h0m0-22h0m-1 18h0m0-28h0m0 29h0m0-29h0m0 20h0m-1-17h0m0 18h0m-1-10h0m0 11h0m0 3h0m-1 3h0m0-13h0m-1-13h0m0-3h0m-1 9h0m0-11h0m0 24h0m-1-7h0m0 15h0m-1-9h0m0 4h0m0-2h0m-1-22h0m-1-5h0m0 12h0m0 6h0m0 9h0m-1-8h0m0-16h0m0 31h0m0-18h0m-1-1h0m-1-11h0m-2 0h0m0 9h0m0-9h0m-1 25h0m0-10h0m-1-16h0m0 12h0m0-16h0m-1 30h0m0-13h0m0-2h0m0-4h0m0 11h0m0 12h0m0-15h0m-4 15h0m-1-12h0m0-12h0m-2 25h0m0 0h0m-2-4h0m-1-7h0m-1 0h0m0-24h0m0 4h0m-1 27h0m0-24h0m-2-8h0m-1 12h0m0-1h0m-1 22h0m-1-9h0m0-23h0m-1 5h0m-2-3h0m-1-2h0m0 23h0m0 10h0m-9 5h0m-1-5h0m-1-21h0m0 2h0m0-8h0m-13 0h0m0 5h0m4 29h0m8 20h0m0-9h0m1 0h0m3-7h0m6 32h0m1-29h0m2 19h0m3-26h0m1 6h0m0 19h0m0-24h0m1 29h0m0-25h0m2 11h0m1 19h0m0-27h0m6 8h0m0 13h0m1-8h0m1-1h0m0-13h0m0-5h0m2 33h0m1-15h0m1 12h0m1-1h0m1-24h0m0-6h0m0-2h0m0 10h0m0 19h0m1-4h0m0-1h0m0-4h0m1-11h0m1 29h0m1-11h0m0-27h0m0 5h0m1 15h0m1-11h0m0 4h0m0-1h0m1-10h0m0 0h0m0 17h0m1 12h0m0-29h0m0 6h0m0 1h0m0 11h0m1-5h0m0-11h0m0 4h0m1 5h0m1-4h0m0-2h0m1 4h0m0 24h0m0-30h0m0 9h0m0 11h0m0 11h0m1-6h0m0-19h0m1-7h0m0 18h0m0 11h0m0 2h0m0-2h0m1-24h0m0 1h0m0 15h0m0-9h0m0 16h0m1-16h0m0 8h0m0-18h0m1 15h0m0 9h0m1-17h0m0 24h0m0-19h0m0-7h0m1-7h0m0-4h0m0 3h0m3 12h0m0-6h0m0 30h0m1-6h0m0-32h0m0 9h0m0-10h0m0 15h0m1 14h0m0 6h0m1-27h0m0 5h0m0 11h0m0-3h0m1-16h0m1 15h0m0-5h0m1 2h0m0 10h0m0 7h0m1-27h0m0 21h0m0-27h0m0 25h0m0-11h0m0 4h0m0 18h0m1-12h0m0-2h0m0-5h0m0 10h0m0-20h0m0 29h0m0-6h0m1-30h0m0 7h0m0 11h0m0-2h0m0 14h0m0-12h0m1 4h0m1-3h0m0 14h0m0 2h0m0-6h0m0-3h0m0 11h0m0-9h0m0-26h0m1 17h0m0-15h0m0 4h0m0 21h0m0 9h0m1-10h0m0-19h0m1 8h0m0-2h0m0 2h0m0-3h0m0 18h0m1-7h0m0 11h0m0-18h0m1-1h0m0 9h0m0-12h0m0-9h0m1 25h0m0-10h0m0-21h0m0 21h0m0-19h0m1 21h0m1 10h0m0-32h0m0 23h0m0-4h0m1-2h0m0 9h0m0-18h0m1-6h0m0 4h0m0 18h0m0 1h0m0-5h0m0 0h0m1-5h0m0-1h0m0 20h0m0-34h0m0 20h0m1 2h0m0 1h0m0-17h0m0 6h0m1 6h0m0 18h0m0-11h0m1-13h0m0 3h0m0-4h0m0-10h0m0 5h0m1-6h0m0 19h0m0-12h0m0 2h0m0 29h0m0-31h0m1 1h0m0-1h0m0 25h0m0-12h0m1-7h0m0-2h0m0 25h0m1-23h0m0 0h0m0-3h0m0-9h0m0 4h0m0 12h0m0 9h0m1-5h0m0 10h0m0 1h0m0-13h0m0 2h0m1 2h0m0-11h0m0 10h0m1 10h0m0-31h0m0 29h0m0-7h0m0-6h0m0 3h0m0-19h0m0 13h0m1-2h0m0 8h0m0 15h0m1-10h0m0-2h0m0-14h0m0 28h0m0-38h0m0 23h0m0-3h0m1-14h0m0-3h0m0 32h0m0-5h0m0-10h0m1 10h0m0-1h0m0-19h0m0 17h0m0-23h0m1 11h0m0 18h0m1-10h0m0 1h0m0-6h0m0-7h0m1 16h0m0-24h0m0 21h0m0 1h0m0 11h0m1-32h0m0 30h0m0-11h0m0 5h0m0 6h0m1-24h0m0 5h0m0 21h0m0-31h0m0 15h0m0 1h0m0-11h0m0 4h0m0 22h0m1-22h0m0 7h0m0 9h0m0-13h0m0-11h0m0 5h0m0 26h0m1 1h0m0-3h0m0-17h0m1 15h0m0-20h0m0 24h0m0-22h0m0 21h0m0-10h0m1 1h0m0-20h0m0 21h0m1-3h0m0-2h0m0-2h0m0 8h0m1-20h0m0-8h0m0 32h0m1-19h0m0 2h0m0-3h0m1 4h0m1-9h0m0 8h0m0 11h0m0 4h0m0-6h0m1-20h0m0 31h0m0-16h0m0-10h0m0-2h0m0 10h0m1 15h0m0-6h0m0-4h0m0-5h0m0 5h0m1-17h0m0 5h0m0 23h0m0-14h0m0-1h0m1-2h0m0 18h0m0-10h0m0-1h0m0-6h0m0-14h0m0 23h0m1-6h0m0-19h0m0 21h0m1-3h0m0 1h0m0-11h0m0 29h0m0-10h0m1 10h0m1-18h0m0-10h0m0-10h0m1 23h0m0-10h0m0-5h0m0-1h0m0 31h0m0-13h0m1-22h0m0 11h0m0 19h0m0-19h0m1 15h0m1-12h0m0 5h0m0 6h0m0-12h0m0-6h0m0 1h0m0-6h0m0 15h0m0-18h0m1 19h0m0-2h0m0-6h0m1 13h0m0-8h0m0-3h0m0 7h0m0 15h0m1-26h0m0 24h0m0 1h0m0-12h0m1 8h0m0-18h0m0 7h0m1-16h0m0-5h0m1 2h0m1 15h0m0 10h0m1-21h0m0 18h0m0 12h0m1 0h0m0-26h0m1-11h0m1 37h0m0-24h0m0 14h0m1 8h0m0-3h0m0-16h0m0 5h0m1 14h0m1-28h0m1 25h0m1-6h0m0 7h0m0-2h0m0 7h0m1-33h0m2 26h0m1-17h0m1-14h0m0 5h0m0 13h0m0-5h0m0 13h0m2-19h0m0 22h0m0-6h0m1-8h0m1 8h0m2 4h0m0-18h0m0-2h0m0 2h0m1 26h0m2-12h0m0-2h0m1-10h0m1 24h0m3-33h0m0 10h0m0 14h0m1-13h0m1 6h0m0 18h0m4-4h0m1-28h0m3 12h0m1 11h0m0-12h0m0 13h0m0-26h0m1 23h0m3-13h0m1 21h0m0-28h0m2 25h0m0-5h0m0-22h0m1 0h0m0 23h0m3 0h0m0-16h0m1-11h0m1 13h0m1 11h0m0-13h0m1 3h0m3 6h0m2-12h0m1 18h0m0-12h0m0 2h0m0 9h0m2-25h0m0 13h0m1-4h0m1-3h0m0 19h0m1-22h0m1 33h0m1-26h0m1 11h0m1-11h0m1-4h0m3 25h0m1-6h0m1 5h0m0-11h0m0-16h0m4 2h0m1 21h0m2 5h0m0-21h0m2-8h0m1 13h0m0 2h0m0-4h0m2-6h0m2 1h0m0 2h0m2-3h0m0 22h0m0-18h0m1-7h0m0 2h0m0 26h0m2 5h0m1-32h0m2 25h0m0-24h0m1 18h0m1 5h0m0-18h0m3 4h0m2-7h0m0 7h0m1 16h0m0-5h0m0-25h0m0 4h0m1 0h0m0 17h0m1-19h0m1 7h0m1 1h0m0 23h0m1-31h0m2 18h0m0-10h0m2 12h0m0-10h0m0 14h0m1-16h0m2-7h0m0 31h0m3-7h0m0-28h0m0 27h0m1 6h0m0-11h0m1-19h0m1 11h0m0 16h0m0-23h0m1 6h0m0-3h0m1 1h0m0-1h0m0 1h0m0-5h0m2 5h0m0-2h0m0 23h0m1-4h0m0-9h0m0-18h0m1 1h0m1 5h0m0 6h0m0 10h0m0 12h0m0-12h0m1 1h0m1-13h0m0-3h0m0 8h0m1 19h0m1-35h0m1 26h0m0-11h0m1 1h0m0-4h0m0 10h0m0-3h0m2-10h0m1 23h0m1-16h0m1-6h0m0 5h0m0 0h0m0-7h0m2 27h0m0-24h0m0-9h0m0 12h0m1 10h0m0-19h0m1 7h0m0 21h0m1-22h0m0 19h0m0-30h0m1 7h0m2 13h0m1 17h0m0-36h0m0 22h0m1-10h0m0-2h0m1 9h0m0 17h0m1-31h0m0 7h0m0-5h0m0 0h0m0 6h0m0 9h0m1-8h0m3 0h0m1 15h0m0-17h0m0-5h0m0-3h0m0 17h0m0 6h0m1 9h0m0-21h0m0-13h0m0-1h0m1 13h0m0-5h0m0 8h0m1-8h0m1 8h0m0 21h0m0-7h0m1-31h0m0 36h0m1 0h0m0-14h0m1-16h0m1 27h0m0 0h0m0-9h0m1-16h0m0-1h0m0-5h0m1 26h0m2-14h0m0-14h0m1 8h0m1 1h0m0-7h0m0 1h0m0 3h0m1 17h0m0-22h0m0 3h0m1 29h0m0-21h0m0 4h0m0 16h0m0-15h0m1-11h0m1 26h0m0 5h0m0-35h0m0 35h0m0-11h0m1-2h0m0 0h0m1-20h0m0 32h0m0-4h0m0-30h0m1 33h0m0-2h0m1-22h0m0 7h0m0-17h0m0 7h0m1 1h0m1 10h0m1-9h0m0-10h0m0 11h0m0 14h0m1-10h0m0-1h0m1 19h0m0-11h0m0 15h0m1-9h0m1 5h0m0 3h0m0-17h0m0 0h0m0-1h0m0-12h0m0 26h0m1 1h0m1-3h0m1-11h0m0-10h0m1-7h0m0 33h0m0-4h0m0-16h0m0-6h0m0 11h0m1 17h0m1-8h0m1-26h0m0 22h0m0-15h0m2 11h0m0-7h0m1 16h0m0-20h0m1 22h0m0 0h0m1-23h0m2-4h0m0 11h0m1 12h0m1-19h0m1-9h0m1 10h0m0-9h0m0 9h0m1 4h0m1 7h0m0-5h0m2-1h0m1 7h0m1-13h0m2 14h0m1-24h0m0 33h0m2-7h0m1-19h0m1 7h0m1-11h0m2 16h0m2 1h0m2-12h0m1 3h0m0-6h0m0 9h0m1-5h0m1 14h0m1-21h0m0 21h0m0-5h0m2 6h0m0-11h0m0 18h0m1-19h0m0 10h0m6-17h0m3 3h0m2 13h0m1 13h0m4-27h0m1-4h0m2 7h0m0-6h0m0-2h0m2 0h0m0 19h0m1 9h0m2-3h0m11 3h0m6-28h0m12 68h0m-6-18h0m-6 15h0m-2-22h0m0 6h0m-1 3h0m-5 13h0m-2-9h0m-2-17h0m-7 24h0m-1 1h0m-3-4h0m-4 10h0m-3-18h0m-1 12h0m-4-14h0m0-7h0m-2 18h0m-1 15h0m0-19h0m-1-8h0m-5 4h0m0-8h0m-3 5h0m-2 4h0m0-1h0m0 13h0m-2-13h0m-1-5h0m-2 0h0m0 11h0m-1-2h0m-8-17h0m0 0h0m-1 37h0m-1-4h0m-1-35h0m-1 37h0m-1-28h0m-2-4h0m-5 34h0m-1-37h0m-2 5h0m-3-4h0m0 3h0m0 14h0m-3-18h0m-3 1h0m0 24h0m-6-20h0m-1 8h0m0-7h0m-1 9h0m0 12h0m-1-20h0m0 6h0m-1-14h0m-3 10h0m-1-10h0m-1 9h0m0 14h0m-1-2h0m-2-6h0m-1 9h0m0-10h0m-2-1h0m0 17h0m-2-31h0m0 6h0m0 15h0m-1-12h0m0 4h0m-3 7h0m-1-6h0m0-14h0m-5 3h0m-2 24h0m-2-14h0m0-4h0m0-2h0m0 1h0m-2 3h0m0 11h0m0-15h0m-3 4h0m-1 11h0m0-1h0m-3-18h0m0 34h0m0-20h0m0-16h0m-1-1h0m-1 1h0m-1-1h0m-4 18h0m0 13h0m0-23h0m-1 23h0m0-13h0m-1-17h0m-1 31h0m-1-13h0m-1-6h0m-1 11h0m-1-18h0m-1-5h0m-2 3h0m-1 30h0m-2-6h0m-3-7h0m0-7h0m-1 1h0m-1-3h0m-3 4h0m-3-13h0m-5 3h0m0 19h0m-2-12h0m-8-6h0m-9 18h0m-7 7h0m0 5h0m-14-20h0m-7-4h0m-2 22h0m-3-16h0m-2-9h0m0 9h0m-5 7h0m-2-18h0m-1 5h0m-2-10h0m0 7h0m-1 22h0m-1-8h0m0-3h0m-1-17h0m-1 14h0m-2-15h0m-2 28h0m0-17h0m-1 2h0m-1 14h0m0-5h0m-1-5h0m-1 14h0m-1-19h0m-1-3h0m0-6h0m-2 23h0m0-1h0m-1 3h0m0 4h0m0-10h0m-2-3h0m0-8h0m-1 25h0m-1-27h0m-3 0h0m-3 10h0m-1-11h0m0 16h0m0 10h0m-1-27h0m-1 10h0m-1 12h0m-1-31h0m-1 20h0m-1-5h0m0 17h0m-1-22h0m0 28h0m0-25h0m-2 11h0m-1-6h0m0 12h0m-1-10h0m0 2h0m0-5h0m-1-4h0m-1-10h0m-1 26h0m0-18h0m-1 7h0m0-19h0m0 31h0m-1-6h0m0-4h0m0-11h0m0 22h0m-1 7h0m-2-6h0m0-5h0m-1-26h0m0 31h0m0-1h0m-1-18h0m-1 12h0m-1-21h0m0 28h0m0-17h0m-1 7h0m0-22h0m0 15h0m-1-1h0m0 2h0m0-13h0m0 17h0m0-17h0m0-4h0m-1 10h0m0 20h0m-1 1h0m0-17h0m0 1h0m-1-7h0m0 30h0m0 0h0m-1-26h0m0 3h0m0-12h0m0 20h0m-1 1h0m0-21h0m0 10h0m-1-9h0m-2 26h0m0-6h0m0-4h0m0 10h0m-1-15h0m0 18h0m0-18h0m-1-3h0m0-2h0m0-9h0m0 26h0m-1-26h0m0 30h0m0-11h0m0 19h0m-1-7h0m-1-27h0m0-4h0m-1 4h0m-1 0h0m0 32h0m0-37h0m0 9h0m-1 1h0m0 21h0m-1-7h0m0 1h0m0-21h0m-1 13h0m0 10h0m0-13h0m-1 8h0m0-2h0m-1-20h0m0 3h0m0 23h0m-1-22h0m0 6h0m0 0h0m-1-9h0m0 6h0m0-2h0m0 0h0m0 1h0m-1 27h0m0-11h0m-1 5h0m0-1h0m0-26h0m0 21h0m-1-13h0m-1-2h0m-1 9h0m0 20h0m-1-6h0m0-25h0m0 21h0m-1 3h0m0-12h0m0-6h0m-1 13h0m-1-16h0m0 1h0m0 2h0m-1 23h0m-2-2h0m-1-13h0m-1-14h0m-1 19h0m0 11h0m-2-14h0m0-16h0m0-3h0m0 27h0m-1-20h0m0 3h0m-1 15h0m0 7h0m-1-5h0m-1-10h0m-2-8h0m0 0h0m-1-4h0m0 15h0m-1-7h0m0-10h0m0 15h0m-1-13h0m-2 5h0m0 4h0m0-14h0m-2 31h0m0-25h0m0 4h0m0 21h0m0-21h0m-1 16h0m-2 12h0m0-14h0m-1-20h0m-1 1h0m0 30h0m0-29h0m-2 32h0m-2-35h0m-2 1h0m-2 33h0m-1-37h0m0-1h0m-1 4h0m-1 1h0m0-3h0m-4 2h0m-2-1h0m0 1h0m-2 19h0m-1-14h0m-6 27h0m-5-27h0m-2-5h0m0 14h0m-4 6h0m-8-21h0m-11 10h0m11 39h0m3 5h0m29-5h0m0 19h0m1-28h0m3-1h0m5 16h0m0-16h0m11 35h0m0-31h0m2-6h0m0 5h0m2 4h0m0-6h0m5 22h0m5-15h0m0 11h0m9-15h0m2 1h0m0 7h0m0 23h0m1-28h0m1 9h0m4-4h0m0-9h0m1 4h0m1 16h0m2-24h0m0 4h0m3-1h0m2 30h0m1-20h0m0 2h0m1 6h0m3 0h0m0-16h0m1 31h0m6-25h0m1 2h0m0 5h0m0-12h0m2 0h0m1-6h0m1 30h0m1-16h0m1 21h0m0-32h0m5 2h0m1 10h0m0 14h0m1-25h0m1 16h0m2 13h0m0-30h0m0 4h0m1 12h0m0 14h0m0 3h0m2-24h0m1 3h0m1 23h0m1-18h0m1 11h0m2-16h0m0-14h0m0-2h0m1 13h0m0 3h0m2-2h0m3 3h0m0-11h0m2 32h0m0-31h0m2 9h0m0 2h0m0 4h0m0-15h0m4 14h0m1-6h0m4-14h0m0-1h0m1 12h0m4 25h0m0-25h0m1 18h0m1 0h0m4-28h0m1 16h0m3 5h0m0 10h0m2-30h0m1 20h0m2 5h0m0 5h0m1 5h0m0-37h0m1 10h0m1-1h0m1 21h0m5 0h0m2-15h0m7 5h0m4-15h0m9 31h0m1-37h0m5 27h0m0-16h0m1 8h0m3-17h0m4 10h0m0 2h0m4 15h0m15-27h0m8 14h0m11-15h0m23 5h0m1 3h0m6-1h0m16 25h0m2-16h0m6-15h0m0 4h0m16 8h0m4 0h0m2 19h0m8 2h0m4-5h0m1-18h0m0 17h0m7-17h0m2 16h0m6 4h0m0-3h0m2-2h0m1-25h0m6 30h0m21 7h0m6-15h0m3-2h0m11 15h0m18 10h0m-24-6h0m-15 9h0m-12-5h0m-28-2h0m-25-3h0m-42 8h0m-8-6h0m-32-2h0m-19 10h0m-31 0h0m-16-4h0m-1-2h0m-2 4h0m0-1h0m-2 3h0m-3 1h0m-3-7h0m-4-2h0m0 7h0m-7-9h0m-15 5h0m0 4h0m-15 1h0m-11 0h0m0-4h0m-6-5h0m-29-1h0m-26 6h0" stroke="#da0c40" stroke-width="12" stroke-linecap="round" fill="none"/>
<path transform="scale(.1)" d="M4622 5740h0m-38 17h0m-67-4h0m-25-15h0m-9 11h0m-5 6h0m-71-4h0m-2-14h0m-24 2h0m-14-1h0m-30 5h0m-1-11h0m-4 5h0m-1 0h0m-2 0h0m-1 20h0m-1-6h0m-2-19h0m-8 13h0m-3-5h0m-1-1h0m-1 19h0m-2-18h0m-4 17h0m0-16h0m-8-2h0m0 19h0m-6-15h0m0 12h0m-2 3h0m0-27h0m-4 17h0m-1-1h0m0-4h0m-10 3h0m-2-14h0m-5 2h0m-1 3h0m-3 14h0m-3-5h0m-5 8h0m-18 1h0m-12 2h0m-2-17h0m0 0h0m4 24h0m1 27h0m13-13h0m5 9h0m10 8h0m5-20h0m2 8h0m1-20h0m3 14h0m16 15h0m3 6h0m2-21h0m1 3h0m5 2h0m1 0h0m1 16h0m6-22h0m1-8h0m1 2h0m8 19h0m2-10h0m2 4h0m1 4h0m2-25h0m1 0h0m3 30h0m0-1h0m3-9h0m0-20h0m2 20h0m1-9h0m0-13h0m3 11h0m0 12h0m4 3h0m2-26h0m3 28h0m2-20h0m3 3h0m0 13h0m1-3h0m1-13h0m7 5h0m2 14h0m8-12h0m0-11h0m1 30h0m27-7h0m12 12h0m11-19h0m15 3h0m23-13h0m11 1h0m17 14h0m6-21h0m0-1h0m38 29h0m9-10h0m4 25h0m-54 28h0m-23-26h0m-42-9h0m-75 8h0m-2 25h0m-9-4h0m-1-19h0m-1 26h0m-10-7h0m-4-23h0m-3-1h0m-8 8h0m-4-12h0m-12 1h0m-4 18h0m-4-19h0m0 26h0m-8-23h0m-2 0h0m-19 21h0m-2-24h0m17 48h0m3 30h0m18-31h0m23 0h0m26 1h0m21-7h0m49 19h0" stroke="#c8205a" stroke-width="12" stroke-linecap="round" fill="none"/>
<path transform="scale(.1)" d="M4279 5677h0m-1-23h0m-5 17h0m-8-16h0m-1-12h0m-2 22h0m-6-24h0m-1 6h0m-11 6h0m-2 18h0m0-30h0m-3 1h0m-5 1h0m-1 2h0m-6 14h0m-4-19h0m-1 9h0m-3 10h0m-3 12h0m-2-16h0m0 2h0m-3 2h0m-12-15h0m0 7h0m-2-1h0m-1 13h0m-1-14h0m-11 30h0m-2-4h0m-4-24h0m9 43h0m3 11h0m15-18h0m5-1h0m26-3h0m16 15h0m3-17h0m3 12h0m2-12h0m2 15h0m2-7h0m2 21h0m11-26h0m1 35h0m-13 3h0m-2 5h0" stroke="#f09a48" stroke-width="12" stroke-linecap="round" fill="none"/>
<path transform="scale(.1)" d="M4584 5735h0m-35 15h0m-21-19h0m-29 13h0m-13-9h0m-39 20h0m-14-3h0m-26-13h0m-7-6h0m-2 17h0m-37-6h0m-7-7h0m-11 1h0m-8 5h0m0-1h0m-2-8h0m-6 21h0m-2-2h0m-3-10h0m-2 9h0m-1-6h0m-5 4h0m-1-2h0m-1-9h0m-3 17h0m-2-24h0m-11 27h0m-1-15h0m-12 8h0m-3-15h0m-2 11h0m-3 4h0m-2-17h0m-13 21h0m-5-24h0m-5 16h0m32 49h0m12-22h0m12-12h0m1 20h0m7-10h0m4 8h0m7-7h0m2 18h0m1-20h0m2 22h0m2-6h0m1-28h0m7 20h0m0-16h0m13 29h0m2 6h0m9-6h0m10-33h0m3 31h0m15-9h0m65-20h0m22 10h0m1 27h0m14-38h0m11 34h0m24-5h0m5-1h0m50-3h0m84 27h0m-131-4h0m-15 8h0m-2 1h0m-24-3h0m-106-4h0m-12-3h0m-6 26h0m-13-9h0m-12 14h0m-4-21h0m-10-12h0m-4 20h0m-7-25h0m-4 1h0m-2 33h0m-1-8h0m-11-4h0m-4 4h0m-31-25h0m-11 5h0m-47 10h0m83 34h0m3 15h0m0-9h0m25-16h0m21 6h0m13 1h0m191 11h0" stroke="#d81848" stroke-width="12" stroke-linecap="round" fill="none"/>
<path transform="scale(.1)" d="M4284 5673h0m-9-25h0m-1 8h0m-5 1h0m0 0h0m-3 11h0m-8-18h0m-6-9h0m-2 13h0m-1 0h0m-4-13h0m-9 15h0m-2 22h0m-1-38h0m0 6h0m-6-6h0m-2 21h0m-4 5h0m-3-24h0m-1 19h0m-3-21h0m-6 3h0m-3 0h0m-4 26h0m-18-19h0m-2-2h0m-17 18h0m-9-7h0m33 56h0m4-10h0m26-21h0m8 13h0m2-16h0m22 13h0m3-3h0m5 9h0m2-11h0m6 14h0m2-16h0" stroke="#ec6a44" stroke-width="12" stroke-linecap="round" fill="none"/>
<path d="M413.7 552.7 L426.3 565.3 C429.2 569.2 433.8 571.9 437.6 571 C442.2 569.7 443.6 564 442.2 559.7 C440.4 555.7 435.7 554.9 432 556.2 C429.6 557 428.2 558.8 428.2 560.5" fill="none" stroke="#701020" stroke-width="0.55" stroke-opacity="0.45"/>
<text font-size="7.18" transform="translate(480.4 526.6) scale(0.877 1)" stroke="#161616" stroke-width="0.05">CCND1</text>
<defs><linearGradient id="lcb" x1="0" x2="0" y1="0" y2="1"><stop offset="0" stop-color="#ea8a50"/><stop offset="0.12" stop-color="#dc2a50"/><stop offset="1" stop-color="#c8104a"/></linearGradient></defs>
<rect x="481.2" y="534.2" width="3.1" height="68" fill="url(#lcb)"/>
<text font-size="7.18" transform="translate(486.4 536.4) scale(0.877 1)" stroke="#161616" stroke-width="0.05">144</text>
<text font-size="7.18" transform="translate(486.4 553.2) scale(0.877 1)" stroke="#161616" stroke-width="0.05">17</text>
<text font-size="7.18" transform="translate(486.4 570.2) scale(0.877 1)" stroke="#161616" stroke-width="0.05">10</text>
<text font-size="7.18" transform="translate(486.4 587.2) scale(0.877 1)" stroke="#161616" stroke-width="0.05">5</text>
<text font-size="7.18" transform="translate(486.4 604.2) scale(0.877 1)" stroke="#161616" stroke-width="0.05">0</text>
<rect x="0" y="0" width="520" height="1.1" fill="#555"/>
<rect x="0" y="0" width="1.1" height="636" fill="#555"/>
<rect x="518.8" y="0" width="1.2" height="636" fill="#555"/>
<rect x="0" y="634.8" width="520" height="1.2" fill="#555"/>
</svg>
</body></html>
